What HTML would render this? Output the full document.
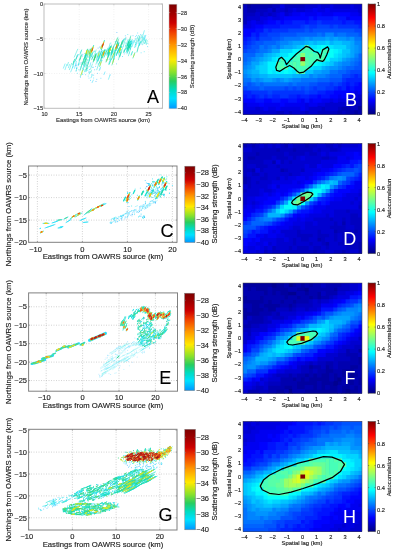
<!DOCTYPE html>
<html><head><meta charset="utf-8"><style>
html,body{margin:0;padding:0;background:#fff;width:395px;height:550px;overflow:hidden;}
svg{display:block;font-family:"Liberation Sans",sans-serif;will-change:transform;}
</style></head><body>
<svg width="395" height="550" viewBox="0 0 395 550" font-family="Liberation Sans, sans-serif"><defs><linearGradient id="jet" x1="0" y1="1" x2="0" y2="0"><stop offset="0.0000" stop-color="#000080"/><stop offset="0.1250" stop-color="#0000ff"/><stop offset="0.3750" stop-color="#00ffff"/><stop offset="0.6250" stop-color="#ffff00"/><stop offset="0.8750" stop-color="#ff0000"/><stop offset="1.0000" stop-color="#800000"/></linearGradient><linearGradient id="sjet" x1="0" y1="1" x2="0" y2="0"><stop offset="0.000" stop-color="#0096ff"/><stop offset="0.100" stop-color="#00e1ff"/><stop offset="0.180" stop-color="#00dcc3"/><stop offset="0.265" stop-color="#28cd5f"/><stop offset="0.350" stop-color="#87e12d"/><stop offset="0.470" stop-color="#ffeb00"/><stop offset="0.610" stop-color="#ff9600"/><stop offset="0.735" stop-color="#f03c00"/><stop offset="0.820" stop-color="#cd0000"/><stop offset="0.900" stop-color="#a50000"/><stop offset="1.000" stop-color="#7d0000"/></linearGradient><clipPath id="c4"><rect x="44.0" y="4.0" width="118.5" height="104.3"/></clipPath><clipPath id="c166"><rect x="28.6" y="166.0" width="148.4" height="76.30000000000001"/></clipPath><clipPath id="c292"><rect x="28.6" y="292.9" width="148.9" height="98.30000000000001"/></clipPath><clipPath id="c429"><rect x="28.6" y="429.3" width="148.4" height="100.69999999999999"/></clipPath></defs><rect width="395" height="550" fill="#fff"/><rect x="243.0" y="4.0" width="119.0" height="110.3" fill="#0000e6"/>
<svg x="243.0" y="4.0" width="119.0" height="110.3" viewBox="243.0 4.0 119.0 110.3" overflow="hidden">
<path fill="#0000c0" d="M243.0 4.0h4.7v4.7h-4.7zM271.7 4.0h4.7v4.7h-4.7zM275.8 4.0h4.7v4.7h-4.7zM284.0 4.0h4.7v4.7h-4.7zM288.1 4.0h4.7v4.7h-4.7zM292.2 4.0h4.7v4.7h-4.7zM296.3 4.0h4.7v4.7h-4.7zM300.4 4.0h4.7v4.7h-4.7zM243.0 8.1h4.7v4.7h-4.7zM255.3 8.1h4.7v4.7h-4.7zM259.4 8.1h4.7v4.7h-4.7zM263.5 8.1h4.7v4.7h-4.7zM284.0 8.1h4.7v4.7h-4.7zM243.0 12.2h4.7v4.7h-4.7zM247.1 12.2h4.7v4.7h-4.7zM251.2 12.2h4.7v4.7h-4.7zM259.4 12.2h4.7v4.7h-4.7zM267.6 12.2h4.7v4.7h-4.7zM243.0 16.3h4.7v4.7h-4.7zM243.0 20.3h4.7v4.7h-4.7zM357.9 98.0h4.7v4.7h-4.7zM353.8 102.0h4.7v4.7h-4.7zM357.9 102.0h4.7v4.7h-4.7zM321.0 106.1h4.7v4.7h-4.7zM337.4 106.1h4.7v4.7h-4.7zM349.7 106.1h4.7v4.7h-4.7zM353.8 106.1h4.7v4.7h-4.7zM275.8 110.2h4.7v4.7h-4.7zM279.9 110.2h4.7v4.7h-4.7zM288.1 110.2h4.7v4.7h-4.7zM304.6 110.2h4.7v4.7h-4.7zM316.9 110.2h4.7v4.7h-4.7zM321.0 110.2h4.7v4.7h-4.7zM325.1 110.2h4.7v4.7h-4.7zM329.2 110.2h4.7v4.7h-4.7zM333.3 110.2h4.7v4.7h-4.7zM341.5 110.2h4.7v4.7h-4.7z"/>
<path fill="#0000a0" d="M247.1 4.0h4.7v4.7h-4.7zM357.9 106.1h4.7v4.7h-4.7zM353.8 110.2h4.7v4.7h-4.7z"/>
<path fill="#0000b0" d="M251.2 4.0h4.7v4.7h-4.7zM255.3 4.0h4.7v4.7h-4.7zM259.4 4.0h4.7v4.7h-4.7zM263.5 4.0h4.7v4.7h-4.7zM267.6 4.0h4.7v4.7h-4.7zM247.1 8.1h4.7v4.7h-4.7zM251.2 8.1h4.7v4.7h-4.7zM271.7 8.1h4.7v4.7h-4.7zM341.5 106.1h4.7v4.7h-4.7zM345.6 106.1h4.7v4.7h-4.7zM337.4 110.2h4.7v4.7h-4.7zM345.6 110.2h4.7v4.7h-4.7zM349.7 110.2h4.7v4.7h-4.7zM357.9 110.2h4.7v4.7h-4.7z"/>
<path fill="#0000e1" d="M279.9 4.0h4.7v4.7h-4.7zM316.9 4.0h4.7v4.7h-4.7zM329.2 4.0h4.7v4.7h-4.7zM349.7 4.0h4.7v4.7h-4.7zM292.2 8.1h4.7v4.7h-4.7zM304.6 8.1h4.7v4.7h-4.7zM308.7 8.1h4.7v4.7h-4.7zM316.9 8.1h4.7v4.7h-4.7zM321.0 8.1h4.7v4.7h-4.7zM329.2 8.1h4.7v4.7h-4.7zM333.3 8.1h4.7v4.7h-4.7zM337.4 8.1h4.7v4.7h-4.7zM341.5 8.1h4.7v4.7h-4.7zM345.6 8.1h4.7v4.7h-4.7zM349.7 8.1h4.7v4.7h-4.7zM353.8 8.1h4.7v4.7h-4.7zM275.8 12.2h4.7v4.7h-4.7zM288.1 12.2h4.7v4.7h-4.7zM357.9 12.2h4.7v4.7h-4.7zM259.4 16.3h4.7v4.7h-4.7zM263.5 16.3h4.7v4.7h-4.7zM271.7 16.3h4.7v4.7h-4.7zM275.8 16.3h4.7v4.7h-4.7zM247.1 20.3h4.7v4.7h-4.7zM255.3 20.3h4.7v4.7h-4.7zM259.4 20.3h4.7v4.7h-4.7zM243.0 24.4h4.7v4.7h-4.7zM247.1 24.4h4.7v4.7h-4.7zM353.8 89.8h4.7v4.7h-4.7zM345.6 93.9h4.7v4.7h-4.7zM349.7 93.9h4.7v4.7h-4.7zM353.8 93.9h4.7v4.7h-4.7zM329.2 98.0h4.7v4.7h-4.7zM337.4 98.0h4.7v4.7h-4.7zM341.5 98.0h4.7v4.7h-4.7zM345.6 98.0h4.7v4.7h-4.7zM243.0 102.0h4.7v4.7h-4.7zM304.6 102.0h4.7v4.7h-4.7zM316.9 102.0h4.7v4.7h-4.7zM321.0 102.0h4.7v4.7h-4.7zM243.0 106.1h4.7v4.7h-4.7zM247.1 106.1h4.7v4.7h-4.7zM251.2 106.1h4.7v4.7h-4.7zM259.4 106.1h4.7v4.7h-4.7zM267.6 106.1h4.7v4.7h-4.7zM271.7 106.1h4.7v4.7h-4.7zM279.9 106.1h4.7v4.7h-4.7zM284.0 106.1h4.7v4.7h-4.7zM288.1 106.1h4.7v4.7h-4.7zM292.2 106.1h4.7v4.7h-4.7zM296.3 106.1h4.7v4.7h-4.7zM304.6 106.1h4.7v4.7h-4.7z"/>
<path fill="#0000d0" d="M304.6 4.0h4.7v4.7h-4.7zM308.7 4.0h4.7v4.7h-4.7zM312.8 4.0h4.7v4.7h-4.7zM321.0 4.0h4.7v4.7h-4.7zM325.1 4.0h4.7v4.7h-4.7zM333.3 4.0h4.7v4.7h-4.7zM337.4 4.0h4.7v4.7h-4.7zM341.5 4.0h4.7v4.7h-4.7zM345.6 4.0h4.7v4.7h-4.7zM353.8 4.0h4.7v4.7h-4.7zM357.9 4.0h4.7v4.7h-4.7zM267.6 8.1h4.7v4.7h-4.7zM275.8 8.1h4.7v4.7h-4.7zM279.9 8.1h4.7v4.7h-4.7zM288.1 8.1h4.7v4.7h-4.7zM296.3 8.1h4.7v4.7h-4.7zM300.4 8.1h4.7v4.7h-4.7zM357.9 8.1h4.7v4.7h-4.7zM255.3 12.2h4.7v4.7h-4.7zM263.5 12.2h4.7v4.7h-4.7zM271.7 12.2h4.7v4.7h-4.7zM284.0 12.2h4.7v4.7h-4.7zM247.1 16.3h4.7v4.7h-4.7zM251.2 16.3h4.7v4.7h-4.7zM255.3 16.3h4.7v4.7h-4.7zM357.9 93.9h4.7v4.7h-4.7zM349.7 98.0h4.7v4.7h-4.7zM353.8 98.0h4.7v4.7h-4.7zM325.1 102.0h4.7v4.7h-4.7zM329.2 102.0h4.7v4.7h-4.7zM333.3 102.0h4.7v4.7h-4.7zM337.4 102.0h4.7v4.7h-4.7zM341.5 102.0h4.7v4.7h-4.7zM345.6 102.0h4.7v4.7h-4.7zM349.7 102.0h4.7v4.7h-4.7zM255.3 106.1h4.7v4.7h-4.7zM308.7 106.1h4.7v4.7h-4.7zM312.8 106.1h4.7v4.7h-4.7zM316.9 106.1h4.7v4.7h-4.7zM325.1 106.1h4.7v4.7h-4.7zM329.2 106.1h4.7v4.7h-4.7zM333.3 106.1h4.7v4.7h-4.7zM243.0 110.2h4.7v4.7h-4.7zM247.1 110.2h4.7v4.7h-4.7zM251.2 110.2h4.7v4.7h-4.7zM255.3 110.2h4.7v4.7h-4.7zM259.4 110.2h4.7v4.7h-4.7zM263.5 110.2h4.7v4.7h-4.7zM267.6 110.2h4.7v4.7h-4.7zM271.7 110.2h4.7v4.7h-4.7zM284.0 110.2h4.7v4.7h-4.7zM292.2 110.2h4.7v4.7h-4.7zM296.3 110.2h4.7v4.7h-4.7zM300.4 110.2h4.7v4.7h-4.7zM308.7 110.2h4.7v4.7h-4.7zM312.8 110.2h4.7v4.7h-4.7z"/>
<path fill="#0000f1" d="M312.8 8.1h4.7v4.7h-4.7zM325.1 8.1h4.7v4.7h-4.7zM279.9 12.2h4.7v4.7h-4.7zM292.2 12.2h4.7v4.7h-4.7zM296.3 12.2h4.7v4.7h-4.7zM304.6 12.2h4.7v4.7h-4.7zM308.7 12.2h4.7v4.7h-4.7zM312.8 12.2h4.7v4.7h-4.7zM321.0 12.2h4.7v4.7h-4.7zM325.1 12.2h4.7v4.7h-4.7zM329.2 12.2h4.7v4.7h-4.7zM349.7 12.2h4.7v4.7h-4.7zM353.8 12.2h4.7v4.7h-4.7zM267.6 16.3h4.7v4.7h-4.7zM279.9 16.3h4.7v4.7h-4.7zM345.6 16.3h4.7v4.7h-4.7zM251.2 20.3h4.7v4.7h-4.7zM263.5 20.3h4.7v4.7h-4.7zM251.2 24.4h4.7v4.7h-4.7zM357.9 89.8h4.7v4.7h-4.7zM337.4 93.9h4.7v4.7h-4.7zM300.4 98.0h4.7v4.7h-4.7zM308.7 98.0h4.7v4.7h-4.7zM321.0 98.0h4.7v4.7h-4.7zM325.1 98.0h4.7v4.7h-4.7zM333.3 98.0h4.7v4.7h-4.7zM247.1 102.0h4.7v4.7h-4.7zM251.2 102.0h4.7v4.7h-4.7zM255.3 102.0h4.7v4.7h-4.7zM263.5 102.0h4.7v4.7h-4.7zM267.6 102.0h4.7v4.7h-4.7zM271.7 102.0h4.7v4.7h-4.7zM275.8 102.0h4.7v4.7h-4.7zM284.0 102.0h4.7v4.7h-4.7zM288.1 102.0h4.7v4.7h-4.7zM292.2 102.0h4.7v4.7h-4.7zM296.3 102.0h4.7v4.7h-4.7zM300.4 102.0h4.7v4.7h-4.7zM308.7 102.0h4.7v4.7h-4.7zM312.8 102.0h4.7v4.7h-4.7zM263.5 106.1h4.7v4.7h-4.7zM275.8 106.1h4.7v4.7h-4.7zM300.4 106.1h4.7v4.7h-4.7z"/>
<path fill="#0002ff" d="M300.4 12.2h4.7v4.7h-4.7zM316.9 12.2h4.7v4.7h-4.7zM333.3 12.2h4.7v4.7h-4.7zM337.4 12.2h4.7v4.7h-4.7zM341.5 12.2h4.7v4.7h-4.7zM345.6 12.2h4.7v4.7h-4.7zM284.0 16.3h4.7v4.7h-4.7zM288.1 16.3h4.7v4.7h-4.7zM292.2 16.3h4.7v4.7h-4.7zM296.3 16.3h4.7v4.7h-4.7zM300.4 16.3h4.7v4.7h-4.7zM304.6 16.3h4.7v4.7h-4.7zM312.8 16.3h4.7v4.7h-4.7zM349.7 16.3h4.7v4.7h-4.7zM353.8 16.3h4.7v4.7h-4.7zM357.9 16.3h4.7v4.7h-4.7zM267.6 20.3h4.7v4.7h-4.7zM271.7 20.3h4.7v4.7h-4.7zM279.9 20.3h4.7v4.7h-4.7zM255.3 24.4h4.7v4.7h-4.7zM259.4 24.4h4.7v4.7h-4.7zM243.0 28.5h4.7v4.7h-4.7zM247.1 28.5h4.7v4.7h-4.7zM251.2 28.5h4.7v4.7h-4.7zM243.0 32.6h4.7v4.7h-4.7zM247.1 32.6h4.7v4.7h-4.7zM357.9 81.6h4.7v4.7h-4.7zM345.6 85.7h4.7v4.7h-4.7zM353.8 85.7h4.7v4.7h-4.7zM357.9 85.7h4.7v4.7h-4.7zM333.3 89.8h4.7v4.7h-4.7zM337.4 89.8h4.7v4.7h-4.7zM341.5 89.8h4.7v4.7h-4.7zM345.6 89.8h4.7v4.7h-4.7zM349.7 89.8h4.7v4.7h-4.7zM316.9 93.9h4.7v4.7h-4.7zM329.2 93.9h4.7v4.7h-4.7zM333.3 93.9h4.7v4.7h-4.7zM341.5 93.9h4.7v4.7h-4.7zM243.0 98.0h4.7v4.7h-4.7zM247.1 98.0h4.7v4.7h-4.7zM251.2 98.0h4.7v4.7h-4.7zM263.5 98.0h4.7v4.7h-4.7zM267.6 98.0h4.7v4.7h-4.7zM279.9 98.0h4.7v4.7h-4.7zM284.0 98.0h4.7v4.7h-4.7zM296.3 98.0h4.7v4.7h-4.7zM312.8 98.0h4.7v4.7h-4.7zM316.9 98.0h4.7v4.7h-4.7zM259.4 102.0h4.7v4.7h-4.7zM279.9 102.0h4.7v4.7h-4.7z"/>
<path fill="#0012ff" d="M308.7 16.3h4.7v4.7h-4.7zM316.9 16.3h4.7v4.7h-4.7zM321.0 16.3h4.7v4.7h-4.7zM325.1 16.3h4.7v4.7h-4.7zM329.2 16.3h4.7v4.7h-4.7zM337.4 16.3h4.7v4.7h-4.7zM341.5 16.3h4.7v4.7h-4.7zM275.8 20.3h4.7v4.7h-4.7zM284.0 20.3h4.7v4.7h-4.7zM288.1 20.3h4.7v4.7h-4.7zM304.6 20.3h4.7v4.7h-4.7zM341.5 20.3h4.7v4.7h-4.7zM353.8 20.3h4.7v4.7h-4.7zM357.9 20.3h4.7v4.7h-4.7zM263.5 24.4h4.7v4.7h-4.7zM267.6 24.4h4.7v4.7h-4.7zM271.7 24.4h4.7v4.7h-4.7zM275.8 24.4h4.7v4.7h-4.7zM255.3 28.5h4.7v4.7h-4.7zM259.4 28.5h4.7v4.7h-4.7zM255.3 32.6h4.7v4.7h-4.7zM243.0 36.7h4.7v4.7h-4.7zM345.6 81.6h4.7v4.7h-4.7zM353.8 81.6h4.7v4.7h-4.7zM337.4 85.7h4.7v4.7h-4.7zM349.7 85.7h4.7v4.7h-4.7zM325.1 89.8h4.7v4.7h-4.7zM329.2 89.8h4.7v4.7h-4.7zM243.0 93.9h4.7v4.7h-4.7zM251.2 93.9h4.7v4.7h-4.7zM296.3 93.9h4.7v4.7h-4.7zM308.7 93.9h4.7v4.7h-4.7zM312.8 93.9h4.7v4.7h-4.7zM321.0 93.9h4.7v4.7h-4.7zM325.1 93.9h4.7v4.7h-4.7zM255.3 98.0h4.7v4.7h-4.7zM259.4 98.0h4.7v4.7h-4.7zM271.7 98.0h4.7v4.7h-4.7zM275.8 98.0h4.7v4.7h-4.7zM288.1 98.0h4.7v4.7h-4.7zM292.2 98.0h4.7v4.7h-4.7zM304.6 98.0h4.7v4.7h-4.7z"/>
<path fill="#0022ff" d="M333.3 16.3h4.7v4.7h-4.7zM292.2 20.3h4.7v4.7h-4.7zM296.3 20.3h4.7v4.7h-4.7zM300.4 20.3h4.7v4.7h-4.7zM308.7 20.3h4.7v4.7h-4.7zM312.8 20.3h4.7v4.7h-4.7zM321.0 20.3h4.7v4.7h-4.7zM325.1 20.3h4.7v4.7h-4.7zM329.2 20.3h4.7v4.7h-4.7zM333.3 20.3h4.7v4.7h-4.7zM337.4 20.3h4.7v4.7h-4.7zM345.6 20.3h4.7v4.7h-4.7zM349.7 20.3h4.7v4.7h-4.7zM279.9 24.4h4.7v4.7h-4.7zM284.0 24.4h4.7v4.7h-4.7zM288.1 24.4h4.7v4.7h-4.7zM292.2 24.4h4.7v4.7h-4.7zM296.3 24.4h4.7v4.7h-4.7zM357.9 24.4h4.7v4.7h-4.7zM267.6 28.5h4.7v4.7h-4.7zM251.2 32.6h4.7v4.7h-4.7zM247.1 36.7h4.7v4.7h-4.7zM255.3 36.7h4.7v4.7h-4.7zM243.0 40.8h4.7v4.7h-4.7zM353.8 73.4h4.7v4.7h-4.7zM345.6 77.5h4.7v4.7h-4.7zM349.7 77.5h4.7v4.7h-4.7zM353.8 77.5h4.7v4.7h-4.7zM357.9 77.5h4.7v4.7h-4.7zM341.5 81.6h4.7v4.7h-4.7zM349.7 81.6h4.7v4.7h-4.7zM333.3 85.7h4.7v4.7h-4.7zM341.5 85.7h4.7v4.7h-4.7zM243.0 89.8h4.7v4.7h-4.7zM247.1 89.8h4.7v4.7h-4.7zM316.9 89.8h4.7v4.7h-4.7zM321.0 89.8h4.7v4.7h-4.7zM247.1 93.9h4.7v4.7h-4.7zM255.3 93.9h4.7v4.7h-4.7zM263.5 93.9h4.7v4.7h-4.7zM271.7 93.9h4.7v4.7h-4.7zM275.8 93.9h4.7v4.7h-4.7zM288.1 93.9h4.7v4.7h-4.7zM292.2 93.9h4.7v4.7h-4.7zM300.4 93.9h4.7v4.7h-4.7zM304.6 93.9h4.7v4.7h-4.7z"/>
<path fill="#0033ff" d="M316.9 20.3h4.7v4.7h-4.7zM300.4 24.4h4.7v4.7h-4.7zM308.7 24.4h4.7v4.7h-4.7zM312.8 24.4h4.7v4.7h-4.7zM329.2 24.4h4.7v4.7h-4.7zM337.4 24.4h4.7v4.7h-4.7zM341.5 24.4h4.7v4.7h-4.7zM345.6 24.4h4.7v4.7h-4.7zM349.7 24.4h4.7v4.7h-4.7zM353.8 24.4h4.7v4.7h-4.7zM263.5 28.5h4.7v4.7h-4.7zM271.7 28.5h4.7v4.7h-4.7zM275.8 28.5h4.7v4.7h-4.7zM279.9 28.5h4.7v4.7h-4.7zM284.0 28.5h4.7v4.7h-4.7zM259.4 32.6h4.7v4.7h-4.7zM263.5 32.6h4.7v4.7h-4.7zM251.2 36.7h4.7v4.7h-4.7zM247.1 40.8h4.7v4.7h-4.7zM243.0 44.9h4.7v4.7h-4.7zM349.7 73.4h4.7v4.7h-4.7zM357.9 73.4h4.7v4.7h-4.7zM341.5 77.5h4.7v4.7h-4.7zM329.2 81.6h4.7v4.7h-4.7zM337.4 81.6h4.7v4.7h-4.7zM312.8 85.7h4.7v4.7h-4.7zM325.1 85.7h4.7v4.7h-4.7zM329.2 85.7h4.7v4.7h-4.7zM251.2 89.8h4.7v4.7h-4.7zM255.3 89.8h4.7v4.7h-4.7zM259.4 89.8h4.7v4.7h-4.7zM263.5 89.8h4.7v4.7h-4.7zM271.7 89.8h4.7v4.7h-4.7zM275.8 89.8h4.7v4.7h-4.7zM279.9 89.8h4.7v4.7h-4.7zM284.0 89.8h4.7v4.7h-4.7zM288.1 89.8h4.7v4.7h-4.7zM292.2 89.8h4.7v4.7h-4.7zM296.3 89.8h4.7v4.7h-4.7zM300.4 89.8h4.7v4.7h-4.7zM308.7 89.8h4.7v4.7h-4.7zM312.8 89.8h4.7v4.7h-4.7zM259.4 93.9h4.7v4.7h-4.7zM267.6 93.9h4.7v4.7h-4.7zM279.9 93.9h4.7v4.7h-4.7zM284.0 93.9h4.7v4.7h-4.7z"/>
<path fill="#0043ff" d="M304.6 24.4h4.7v4.7h-4.7zM316.9 24.4h4.7v4.7h-4.7zM321.0 24.4h4.7v4.7h-4.7zM325.1 24.4h4.7v4.7h-4.7zM333.3 24.4h4.7v4.7h-4.7zM288.1 28.5h4.7v4.7h-4.7zM292.2 28.5h4.7v4.7h-4.7zM296.3 28.5h4.7v4.7h-4.7zM300.4 28.5h4.7v4.7h-4.7zM308.7 28.5h4.7v4.7h-4.7zM353.8 28.5h4.7v4.7h-4.7zM357.9 28.5h4.7v4.7h-4.7zM267.6 32.6h4.7v4.7h-4.7zM271.7 32.6h4.7v4.7h-4.7zM275.8 32.6h4.7v4.7h-4.7zM259.4 36.7h4.7v4.7h-4.7zM263.5 36.7h4.7v4.7h-4.7zM267.6 36.7h4.7v4.7h-4.7zM251.2 40.8h4.7v4.7h-4.7zM247.1 44.9h4.7v4.7h-4.7zM243.0 48.9h4.7v4.7h-4.7zM349.7 69.4h4.7v4.7h-4.7zM353.8 69.4h4.7v4.7h-4.7zM357.9 69.4h4.7v4.7h-4.7zM341.5 73.4h4.7v4.7h-4.7zM345.6 73.4h4.7v4.7h-4.7zM316.9 81.6h4.7v4.7h-4.7zM321.0 81.6h4.7v4.7h-4.7zM325.1 81.6h4.7v4.7h-4.7zM333.3 81.6h4.7v4.7h-4.7zM243.0 85.7h4.7v4.7h-4.7zM284.0 85.7h4.7v4.7h-4.7zM292.2 85.7h4.7v4.7h-4.7zM300.4 85.7h4.7v4.7h-4.7zM308.7 85.7h4.7v4.7h-4.7zM316.9 85.7h4.7v4.7h-4.7zM321.0 85.7h4.7v4.7h-4.7zM267.6 89.8h4.7v4.7h-4.7zM304.6 89.8h4.7v4.7h-4.7z"/>
<path fill="#0053ff" d="M304.6 28.5h4.7v4.7h-4.7zM312.8 28.5h4.7v4.7h-4.7zM316.9 28.5h4.7v4.7h-4.7zM321.0 28.5h4.7v4.7h-4.7zM325.1 28.5h4.7v4.7h-4.7zM329.2 28.5h4.7v4.7h-4.7zM333.3 28.5h4.7v4.7h-4.7zM337.4 28.5h4.7v4.7h-4.7zM341.5 28.5h4.7v4.7h-4.7zM345.6 28.5h4.7v4.7h-4.7zM349.7 28.5h4.7v4.7h-4.7zM279.9 32.6h4.7v4.7h-4.7zM284.0 32.6h4.7v4.7h-4.7zM288.1 32.6h4.7v4.7h-4.7zM292.2 32.6h4.7v4.7h-4.7zM357.9 32.6h4.7v4.7h-4.7zM271.7 36.7h4.7v4.7h-4.7zM275.8 36.7h4.7v4.7h-4.7zM255.3 40.8h4.7v4.7h-4.7zM259.4 40.8h4.7v4.7h-4.7zM251.2 44.9h4.7v4.7h-4.7zM255.3 44.9h4.7v4.7h-4.7zM247.1 48.9h4.7v4.7h-4.7zM251.2 48.9h4.7v4.7h-4.7zM357.9 61.2h4.7v4.7h-4.7zM353.8 65.3h4.7v4.7h-4.7zM357.9 65.3h4.7v4.7h-4.7zM345.6 69.4h4.7v4.7h-4.7zM329.2 77.5h4.7v4.7h-4.7zM333.3 77.5h4.7v4.7h-4.7zM337.4 77.5h4.7v4.7h-4.7zM247.1 81.6h4.7v4.7h-4.7zM308.7 81.6h4.7v4.7h-4.7zM312.8 81.6h4.7v4.7h-4.7zM247.1 85.7h4.7v4.7h-4.7zM251.2 85.7h4.7v4.7h-4.7zM255.3 85.7h4.7v4.7h-4.7zM263.5 85.7h4.7v4.7h-4.7zM267.6 85.7h4.7v4.7h-4.7zM271.7 85.7h4.7v4.7h-4.7zM275.8 85.7h4.7v4.7h-4.7zM279.9 85.7h4.7v4.7h-4.7zM288.1 85.7h4.7v4.7h-4.7zM296.3 85.7h4.7v4.7h-4.7zM304.6 85.7h4.7v4.7h-4.7z"/>
<path fill="#0063ff" d="M296.3 32.6h4.7v4.7h-4.7zM300.4 32.6h4.7v4.7h-4.7zM304.6 32.6h4.7v4.7h-4.7zM308.7 32.6h4.7v4.7h-4.7zM312.8 32.6h4.7v4.7h-4.7zM321.0 32.6h4.7v4.7h-4.7zM333.3 32.6h4.7v4.7h-4.7zM345.6 32.6h4.7v4.7h-4.7zM349.7 32.6h4.7v4.7h-4.7zM353.8 32.6h4.7v4.7h-4.7zM279.9 36.7h4.7v4.7h-4.7zM263.5 40.8h4.7v4.7h-4.7zM267.6 40.8h4.7v4.7h-4.7zM271.7 40.8h4.7v4.7h-4.7zM263.5 44.9h4.7v4.7h-4.7zM255.3 48.9h4.7v4.7h-4.7zM243.0 53.0h4.7v4.7h-4.7zM247.1 53.0h4.7v4.7h-4.7zM251.2 53.0h4.7v4.7h-4.7zM357.9 53.0h4.7v4.7h-4.7zM243.0 57.1h4.7v4.7h-4.7zM357.9 57.1h4.7v4.7h-4.7zM353.8 61.2h4.7v4.7h-4.7zM345.6 65.3h4.7v4.7h-4.7zM349.7 65.3h4.7v4.7h-4.7zM337.4 69.4h4.7v4.7h-4.7zM341.5 69.4h4.7v4.7h-4.7zM329.2 73.4h4.7v4.7h-4.7zM333.3 73.4h4.7v4.7h-4.7zM337.4 73.4h4.7v4.7h-4.7zM316.9 77.5h4.7v4.7h-4.7zM321.0 77.5h4.7v4.7h-4.7zM325.1 77.5h4.7v4.7h-4.7zM243.0 81.6h4.7v4.7h-4.7zM251.2 81.6h4.7v4.7h-4.7zM259.4 81.6h4.7v4.7h-4.7zM288.1 81.6h4.7v4.7h-4.7zM296.3 81.6h4.7v4.7h-4.7zM300.4 81.6h4.7v4.7h-4.7zM304.6 81.6h4.7v4.7h-4.7zM259.4 85.7h4.7v4.7h-4.7z"/>
<path fill="#0073ff" d="M316.9 32.6h4.7v4.7h-4.7zM337.4 32.6h4.7v4.7h-4.7zM341.5 32.6h4.7v4.7h-4.7zM284.0 36.7h4.7v4.7h-4.7zM288.1 36.7h4.7v4.7h-4.7zM292.2 36.7h4.7v4.7h-4.7zM296.3 36.7h4.7v4.7h-4.7zM353.8 36.7h4.7v4.7h-4.7zM357.9 36.7h4.7v4.7h-4.7zM275.8 40.8h4.7v4.7h-4.7zM259.4 44.9h4.7v4.7h-4.7zM267.6 44.9h4.7v4.7h-4.7zM275.8 44.9h4.7v4.7h-4.7zM259.4 48.9h4.7v4.7h-4.7zM263.5 48.9h4.7v4.7h-4.7zM247.1 57.1h4.7v4.7h-4.7zM353.8 57.1h4.7v4.7h-4.7zM243.0 61.2h4.7v4.7h-4.7zM349.7 61.2h4.7v4.7h-4.7zM341.5 65.3h4.7v4.7h-4.7zM329.2 69.4h4.7v4.7h-4.7zM333.3 69.4h4.7v4.7h-4.7zM325.1 73.4h4.7v4.7h-4.7zM243.0 77.5h4.7v4.7h-4.7zM247.1 77.5h4.7v4.7h-4.7zM300.4 77.5h4.7v4.7h-4.7zM304.6 77.5h4.7v4.7h-4.7zM308.7 77.5h4.7v4.7h-4.7zM312.8 77.5h4.7v4.7h-4.7zM255.3 81.6h4.7v4.7h-4.7zM263.5 81.6h4.7v4.7h-4.7zM267.6 81.6h4.7v4.7h-4.7zM271.7 81.6h4.7v4.7h-4.7zM275.8 81.6h4.7v4.7h-4.7zM279.9 81.6h4.7v4.7h-4.7zM284.0 81.6h4.7v4.7h-4.7zM292.2 81.6h4.7v4.7h-4.7z"/>
<path fill="#0084ff" d="M325.1 32.6h4.7v4.7h-4.7zM329.2 32.6h4.7v4.7h-4.7zM300.4 36.7h4.7v4.7h-4.7zM308.7 36.7h4.7v4.7h-4.7zM345.6 36.7h4.7v4.7h-4.7zM279.9 40.8h4.7v4.7h-4.7zM284.0 40.8h4.7v4.7h-4.7zM353.8 40.8h4.7v4.7h-4.7zM357.9 40.8h4.7v4.7h-4.7zM271.7 44.9h4.7v4.7h-4.7zM357.9 44.9h4.7v4.7h-4.7zM267.6 48.9h4.7v4.7h-4.7zM357.9 48.9h4.7v4.7h-4.7zM255.3 53.0h4.7v4.7h-4.7zM259.4 53.0h4.7v4.7h-4.7zM353.8 53.0h4.7v4.7h-4.7zM251.2 57.1h4.7v4.7h-4.7zM349.7 57.1h4.7v4.7h-4.7zM247.1 61.2h4.7v4.7h-4.7zM341.5 61.2h4.7v4.7h-4.7zM345.6 61.2h4.7v4.7h-4.7zM243.0 65.3h4.7v4.7h-4.7zM337.4 65.3h4.7v4.7h-4.7zM243.0 73.4h4.7v4.7h-4.7zM308.7 73.4h4.7v4.7h-4.7zM316.9 73.4h4.7v4.7h-4.7zM321.0 73.4h4.7v4.7h-4.7zM255.3 77.5h4.7v4.7h-4.7zM275.8 77.5h4.7v4.7h-4.7zM292.2 77.5h4.7v4.7h-4.7zM296.3 77.5h4.7v4.7h-4.7z"/>
<path fill="#0094ff" d="M304.6 36.7h4.7v4.7h-4.7zM312.8 36.7h4.7v4.7h-4.7zM316.9 36.7h4.7v4.7h-4.7zM321.0 36.7h4.7v4.7h-4.7zM329.2 36.7h4.7v4.7h-4.7zM337.4 36.7h4.7v4.7h-4.7zM341.5 36.7h4.7v4.7h-4.7zM349.7 36.7h4.7v4.7h-4.7zM288.1 40.8h4.7v4.7h-4.7zM279.9 44.9h4.7v4.7h-4.7zM353.8 44.9h4.7v4.7h-4.7zM353.8 48.9h4.7v4.7h-4.7zM255.3 57.1h4.7v4.7h-4.7zM345.6 57.1h4.7v4.7h-4.7zM337.4 61.2h4.7v4.7h-4.7zM247.1 65.3h4.7v4.7h-4.7zM329.2 65.3h4.7v4.7h-4.7zM333.3 65.3h4.7v4.7h-4.7zM243.0 69.4h4.7v4.7h-4.7zM321.0 69.4h4.7v4.7h-4.7zM325.1 69.4h4.7v4.7h-4.7zM247.1 73.4h4.7v4.7h-4.7zM312.8 73.4h4.7v4.7h-4.7zM251.2 77.5h4.7v4.7h-4.7zM259.4 77.5h4.7v4.7h-4.7zM271.7 77.5h4.7v4.7h-4.7zM279.9 77.5h4.7v4.7h-4.7zM288.1 77.5h4.7v4.7h-4.7z"/>
<path fill="#00a4ff" d="M325.1 36.7h4.7v4.7h-4.7zM333.3 36.7h4.7v4.7h-4.7zM292.2 40.8h4.7v4.7h-4.7zM296.3 40.8h4.7v4.7h-4.7zM300.4 40.8h4.7v4.7h-4.7zM349.7 40.8h4.7v4.7h-4.7zM284.0 44.9h4.7v4.7h-4.7zM288.1 44.9h4.7v4.7h-4.7zM349.7 44.9h4.7v4.7h-4.7zM271.7 48.9h4.7v4.7h-4.7zM275.8 48.9h4.7v4.7h-4.7zM349.7 48.9h4.7v4.7h-4.7zM263.5 53.0h4.7v4.7h-4.7zM349.7 53.0h4.7v4.7h-4.7zM259.4 57.1h4.7v4.7h-4.7zM341.5 57.1h4.7v4.7h-4.7zM251.2 61.2h4.7v4.7h-4.7zM255.3 61.2h4.7v4.7h-4.7zM333.3 61.2h4.7v4.7h-4.7zM251.2 65.3h4.7v4.7h-4.7zM325.1 65.3h4.7v4.7h-4.7zM247.1 69.4h4.7v4.7h-4.7zM312.8 69.4h4.7v4.7h-4.7zM316.9 69.4h4.7v4.7h-4.7zM251.2 73.4h4.7v4.7h-4.7zM255.3 73.4h4.7v4.7h-4.7zM300.4 73.4h4.7v4.7h-4.7zM304.6 73.4h4.7v4.7h-4.7zM263.5 77.5h4.7v4.7h-4.7zM267.6 77.5h4.7v4.7h-4.7zM284.0 77.5h4.7v4.7h-4.7z"/>
<path fill="#00b4ff" d="M304.6 40.8h4.7v4.7h-4.7zM312.8 40.8h4.7v4.7h-4.7zM329.2 40.8h4.7v4.7h-4.7zM341.5 40.8h4.7v4.7h-4.7zM345.6 40.8h4.7v4.7h-4.7zM292.2 44.9h4.7v4.7h-4.7zM345.6 44.9h4.7v4.7h-4.7zM267.6 53.0h4.7v4.7h-4.7zM345.6 53.0h4.7v4.7h-4.7zM263.5 57.1h4.7v4.7h-4.7zM321.0 65.3h4.7v4.7h-4.7zM251.2 69.4h4.7v4.7h-4.7zM255.3 69.4h4.7v4.7h-4.7zM259.4 73.4h4.7v4.7h-4.7zM263.5 73.4h4.7v4.7h-4.7zM292.2 73.4h4.7v4.7h-4.7zM296.3 73.4h4.7v4.7h-4.7z"/>
<path fill="#00c4ff" d="M308.7 40.8h4.7v4.7h-4.7zM316.9 40.8h4.7v4.7h-4.7zM321.0 40.8h4.7v4.7h-4.7zM333.3 40.8h4.7v4.7h-4.7zM337.4 40.8h4.7v4.7h-4.7zM296.3 44.9h4.7v4.7h-4.7zM341.5 48.9h4.7v4.7h-4.7zM345.6 48.9h4.7v4.7h-4.7zM271.7 53.0h4.7v4.7h-4.7zM341.5 53.0h4.7v4.7h-4.7zM267.6 57.1h4.7v4.7h-4.7zM337.4 57.1h4.7v4.7h-4.7zM259.4 61.2h4.7v4.7h-4.7zM329.2 61.2h4.7v4.7h-4.7zM255.3 65.3h4.7v4.7h-4.7zM304.6 69.4h4.7v4.7h-4.7zM308.7 69.4h4.7v4.7h-4.7zM267.6 73.4h4.7v4.7h-4.7zM271.7 73.4h4.7v4.7h-4.7zM275.8 73.4h4.7v4.7h-4.7zM279.9 73.4h4.7v4.7h-4.7zM284.0 73.4h4.7v4.7h-4.7zM288.1 73.4h4.7v4.7h-4.7z"/>
<path fill="#00d4ff" d="M325.1 40.8h4.7v4.7h-4.7zM300.4 44.9h4.7v4.7h-4.7zM333.3 44.9h4.7v4.7h-4.7zM337.4 44.9h4.7v4.7h-4.7zM341.5 44.9h4.7v4.7h-4.7zM279.9 48.9h4.7v4.7h-4.7zM284.0 48.9h4.7v4.7h-4.7zM288.1 48.9h4.7v4.7h-4.7zM275.8 53.0h4.7v4.7h-4.7zM337.4 53.0h4.7v4.7h-4.7zM329.2 57.1h4.7v4.7h-4.7zM333.3 57.1h4.7v4.7h-4.7zM263.5 61.2h4.7v4.7h-4.7zM325.1 61.2h4.7v4.7h-4.7zM259.4 65.3h4.7v4.7h-4.7zM263.5 65.3h4.7v4.7h-4.7zM312.8 65.3h4.7v4.7h-4.7zM316.9 65.3h4.7v4.7h-4.7zM259.4 69.4h4.7v4.7h-4.7zM263.5 69.4h4.7v4.7h-4.7z"/>
<path fill="#57ffa8" d="M304.6 44.9h4.7v4.7h-4.7zM325.1 48.9h4.7v4.7h-4.7zM308.7 53.0h4.7v4.7h-4.7zM316.9 53.0h4.7v4.7h-4.7zM279.9 57.1h4.7v4.7h-4.7zM304.6 57.1h4.7v4.7h-4.7zM321.0 57.1h4.7v4.7h-4.7zM275.8 61.2h4.7v4.7h-4.7zM292.2 61.2h4.7v4.7h-4.7zM304.6 61.2h4.7v4.7h-4.7zM279.9 65.3h4.7v4.7h-4.7zM284.0 65.3h4.7v4.7h-4.7zM292.2 65.3h4.7v4.7h-4.7z"/>
<path fill="#00e5ff" d="M308.7 44.9h4.7v4.7h-4.7zM312.8 44.9h4.7v4.7h-4.7zM329.2 44.9h4.7v4.7h-4.7zM337.4 48.9h4.7v4.7h-4.7zM279.9 53.0h4.7v4.7h-4.7zM284.0 53.0h4.7v4.7h-4.7zM333.3 53.0h4.7v4.7h-4.7zM271.7 57.1h4.7v4.7h-4.7zM321.0 61.2h4.7v4.7h-4.7zM308.7 65.3h4.7v4.7h-4.7zM271.7 69.4h4.7v4.7h-4.7zM292.2 69.4h4.7v4.7h-4.7z"/>
<path fill="#00f5ff" d="M316.9 44.9h4.7v4.7h-4.7zM325.1 44.9h4.7v4.7h-4.7zM292.2 48.9h4.7v4.7h-4.7zM296.3 48.9h4.7v4.7h-4.7zM333.3 48.9h4.7v4.7h-4.7zM275.8 57.1h4.7v4.7h-4.7zM267.6 61.2h4.7v4.7h-4.7zM271.7 61.2h4.7v4.7h-4.7zM316.9 61.2h4.7v4.7h-4.7zM267.6 65.3h4.7v4.7h-4.7zM271.7 65.3h4.7v4.7h-4.7zM267.6 69.4h4.7v4.7h-4.7zM275.8 69.4h4.7v4.7h-4.7zM279.9 69.4h4.7v4.7h-4.7zM288.1 69.4h4.7v4.7h-4.7z"/>
<path fill="#06fff9" d="M321.0 44.9h4.7v4.7h-4.7zM312.8 48.9h4.7v4.7h-4.7zM316.9 48.9h4.7v4.7h-4.7zM329.2 48.9h4.7v4.7h-4.7zM288.1 53.0h4.7v4.7h-4.7zM292.2 53.0h4.7v4.7h-4.7zM325.1 53.0h4.7v4.7h-4.7zM329.2 53.0h4.7v4.7h-4.7zM284.0 57.1h4.7v4.7h-4.7zM288.1 57.1h4.7v4.7h-4.7zM325.1 57.1h4.7v4.7h-4.7zM284.0 61.2h4.7v4.7h-4.7zM312.8 61.2h4.7v4.7h-4.7zM288.1 65.3h4.7v4.7h-4.7zM284.0 69.4h4.7v4.7h-4.7z"/>
<path fill="#47ffb8" d="M300.4 48.9h4.7v4.7h-4.7zM304.6 48.9h4.7v4.7h-4.7zM308.7 48.9h4.7v4.7h-4.7zM321.0 48.9h4.7v4.7h-4.7zM296.3 53.0h4.7v4.7h-4.7zM304.6 53.0h4.7v4.7h-4.7zM312.8 53.0h4.7v4.7h-4.7zM321.0 53.0h4.7v4.7h-4.7zM292.2 57.1h4.7v4.7h-4.7zM296.3 57.1h4.7v4.7h-4.7zM308.7 57.1h4.7v4.7h-4.7zM312.8 57.1h4.7v4.7h-4.7zM316.9 57.1h4.7v4.7h-4.7zM279.9 61.2h4.7v4.7h-4.7zM288.1 61.2h4.7v4.7h-4.7zM296.3 61.2h4.7v4.7h-4.7zM308.7 61.2h4.7v4.7h-4.7zM275.8 65.3h4.7v4.7h-4.7zM296.3 65.3h4.7v4.7h-4.7zM300.4 65.3h4.7v4.7h-4.7zM304.6 65.3h4.7v4.7h-4.7zM296.3 69.4h4.7v4.7h-4.7zM300.4 69.4h4.7v4.7h-4.7z"/>
<path fill="#88ff77" d="M300.4 53.0h4.7v4.7h-4.7z"/>
<path fill="#800000" d="M300.4 57.1h4.7v4.7h-4.7z"/>
<path fill="#98ff67" d="M300.4 61.2h4.7v4.7h-4.7z"/>
</svg>
<polygon points="276.6,70.4 275.8,67.2 279.0,58.9 281.5,57.3 284.8,60.6 286.5,64.7 290.6,59.7 296.3,54.0 306.2,46.3 309.5,47.4 314.4,51.5 317.7,52.3 319.4,54.8 320.2,58.1 322.7,49.9 327.6,46.9 328.9,49.0 326.8,54.8 324.3,59.7 322.7,61.4 319.4,60.6 316.9,59.7 314.4,62.2 311.1,66.3 303.7,72.1 299.6,72.9 297.2,71.3 293.9,68.0 289.7,65.5 284.8,68.0 279.9,71.3" fill="none" stroke="#000" stroke-width="1.25" stroke-linejoin="round"/>
<text x="357.00" y="105.50" font-size="18" text-anchor="end" fill="#fff">B</text>
<rect x="243.0" y="4.0" width="119.0" height="110.3" fill="none" stroke="#444" stroke-width="0.5"/>
<text x="244.50" y="121.60" font-size="5.6" text-anchor="middle" fill="#222" stroke="#222" stroke-width="0.15">−4</text>
<text x="241.00" y="113.77" font-size="5.6" text-anchor="end" fill="#222" stroke="#222" stroke-width="0.15">−4</text>
<text x="258.65" y="121.60" font-size="5.6" text-anchor="middle" fill="#222" stroke="#222" stroke-width="0.15">−3</text>
<text x="241.00" y="100.62" font-size="5.6" text-anchor="end" fill="#222" stroke="#222" stroke-width="0.15">−3</text>
<text x="272.80" y="121.60" font-size="5.6" text-anchor="middle" fill="#222" stroke="#222" stroke-width="0.15">−2</text>
<text x="241.00" y="87.47" font-size="5.6" text-anchor="end" fill="#222" stroke="#222" stroke-width="0.15">−2</text>
<text x="286.95" y="121.60" font-size="5.6" text-anchor="middle" fill="#222" stroke="#222" stroke-width="0.15">−1</text>
<text x="241.00" y="74.32" font-size="5.6" text-anchor="end" fill="#222" stroke="#222" stroke-width="0.15">−1</text>
<text x="302.50" y="121.60" font-size="5.6" text-anchor="middle" fill="#222" stroke="#222" stroke-width="0.15">0</text>
<text x="241.00" y="61.17" font-size="5.6" text-anchor="end" fill="#222" stroke="#222" stroke-width="0.15">0</text>
<text x="316.65" y="121.60" font-size="5.6" text-anchor="middle" fill="#222" stroke="#222" stroke-width="0.15">1</text>
<text x="241.00" y="48.02" font-size="5.6" text-anchor="end" fill="#222" stroke="#222" stroke-width="0.15">1</text>
<text x="330.80" y="121.60" font-size="5.6" text-anchor="middle" fill="#222" stroke="#222" stroke-width="0.15">2</text>
<text x="241.00" y="34.87" font-size="5.6" text-anchor="end" fill="#222" stroke="#222" stroke-width="0.15">2</text>
<text x="344.95" y="121.60" font-size="5.6" text-anchor="middle" fill="#222" stroke="#222" stroke-width="0.15">3</text>
<text x="241.00" y="21.72" font-size="5.6" text-anchor="end" fill="#222" stroke="#222" stroke-width="0.15">3</text>
<text x="359.10" y="121.60" font-size="5.6" text-anchor="middle" fill="#222" stroke="#222" stroke-width="0.15">4</text>
<text x="241.00" y="8.57" font-size="5.6" text-anchor="end" fill="#222" stroke="#222" stroke-width="0.15">4</text>
<text x="302.00" y="127.80" font-size="5.9" text-anchor="middle" fill="#222" stroke="#222" stroke-width="0.15">Spatial lag (km)</text>
<text x="231.50" y="59.15" font-size="5.9" text-anchor="middle" fill="#222" stroke="#222" stroke-width="0.15" transform="rotate(-90 231.5 59.15)">Spatial lag (km)</text>
<rect x="368.0" y="4.0" width="7.600000000000023" height="110.3" fill="url(#jet)"/>
<rect x="368.0" y="4.0" width="7.600000000000023" height="110.3" fill="none" stroke="#444" stroke-width="0.5"/>
<line x1="375.6" y1="114.30" x2="374.40000000000003" y2="114.30" stroke="#444" stroke-width="0.5"/>
<line x1="368.0" y1="114.30" x2="369.2" y2="114.30" stroke="#444" stroke-width="0.5"/>
<text x="377.00" y="116.35" font-size="5.7" text-anchor="start" fill="#222" stroke="#222" stroke-width="0.15">0</text>
<line x1="375.6" y1="92.24" x2="374.40000000000003" y2="92.24" stroke="#444" stroke-width="0.5"/>
<line x1="368.0" y1="92.24" x2="369.2" y2="92.24" stroke="#444" stroke-width="0.5"/>
<text x="377.00" y="94.29" font-size="5.7" text-anchor="start" fill="#222" stroke="#222" stroke-width="0.15">0.2</text>
<line x1="375.6" y1="70.18" x2="374.40000000000003" y2="70.18" stroke="#444" stroke-width="0.5"/>
<line x1="368.0" y1="70.18" x2="369.2" y2="70.18" stroke="#444" stroke-width="0.5"/>
<text x="377.00" y="72.23" font-size="5.7" text-anchor="start" fill="#222" stroke="#222" stroke-width="0.15">0.4</text>
<line x1="375.6" y1="48.12" x2="374.40000000000003" y2="48.12" stroke="#444" stroke-width="0.5"/>
<line x1="368.0" y1="48.12" x2="369.2" y2="48.12" stroke="#444" stroke-width="0.5"/>
<text x="377.00" y="50.17" font-size="5.7" text-anchor="start" fill="#222" stroke="#222" stroke-width="0.15">0.6</text>
<line x1="375.6" y1="26.06" x2="374.40000000000003" y2="26.06" stroke="#444" stroke-width="0.5"/>
<line x1="368.0" y1="26.06" x2="369.2" y2="26.06" stroke="#444" stroke-width="0.5"/>
<text x="377.00" y="28.11" font-size="5.7" text-anchor="start" fill="#222" stroke="#222" stroke-width="0.15">0.8</text>
<line x1="375.6" y1="4.00" x2="374.40000000000003" y2="4.00" stroke="#444" stroke-width="0.5"/>
<line x1="368.0" y1="4.00" x2="369.2" y2="4.00" stroke="#444" stroke-width="0.5"/>
<text x="377.00" y="6.05" font-size="5.7" text-anchor="start" fill="#222" stroke="#222" stroke-width="0.15">1</text>
<text x="391.50" y="59.15" font-size="5.9" text-anchor="middle" fill="#222" stroke="#222" stroke-width="0.15" transform="rotate(-90 391.5 59.15)">Autocorrelation</text>
<rect x="243.0" y="143.5" width="119.0" height="110.1" fill="#0000e6"/>
<svg x="243.0" y="143.5" width="119.0" height="110.1" viewBox="243.0 143.5 119.0 110.1" overflow="hidden">
<path fill="#0000b0" d="M243.0 143.5h4.7v4.7h-4.7zM251.2 143.5h4.7v4.7h-4.7zM284.0 143.5h4.7v4.7h-4.7zM304.6 143.5h4.7v4.7h-4.7zM275.8 147.6h4.7v4.7h-4.7zM292.2 147.6h4.7v4.7h-4.7zM255.3 151.7h4.7v4.7h-4.7zM247.1 155.7h4.7v4.7h-4.7zM251.2 155.7h4.7v4.7h-4.7zM271.7 159.8h4.7v4.7h-4.7zM251.2 168.0h4.7v4.7h-4.7zM279.9 168.0h4.7v4.7h-4.7zM243.0 176.1h4.7v4.7h-4.7zM243.0 180.2h4.7v4.7h-4.7zM341.5 221.0h4.7v4.7h-4.7zM333.3 229.1h4.7v4.7h-4.7zM353.8 229.1h4.7v4.7h-4.7zM316.9 237.3h4.7v4.7h-4.7zM325.1 241.4h4.7v4.7h-4.7zM349.7 241.4h4.7v4.7h-4.7zM357.9 241.4h4.7v4.7h-4.7zM357.9 245.4h4.7v4.7h-4.7zM312.8 249.5h4.7v4.7h-4.7zM341.5 249.5h4.7v4.7h-4.7zM357.9 249.5h4.7v4.7h-4.7z"/>
<path fill="#0000c0" d="M247.1 143.5h4.7v4.7h-4.7zM255.3 143.5h4.7v4.7h-4.7zM263.5 143.5h4.7v4.7h-4.7zM271.7 143.5h4.7v4.7h-4.7zM279.9 143.5h4.7v4.7h-4.7zM292.2 143.5h4.7v4.7h-4.7zM296.3 143.5h4.7v4.7h-4.7zM300.4 143.5h4.7v4.7h-4.7zM308.7 143.5h4.7v4.7h-4.7zM312.8 143.5h4.7v4.7h-4.7zM325.1 143.5h4.7v4.7h-4.7zM329.2 143.5h4.7v4.7h-4.7zM337.4 143.5h4.7v4.7h-4.7zM251.2 147.6h4.7v4.7h-4.7zM255.3 147.6h4.7v4.7h-4.7zM259.4 147.6h4.7v4.7h-4.7zM263.5 147.6h4.7v4.7h-4.7zM267.6 147.6h4.7v4.7h-4.7zM271.7 147.6h4.7v4.7h-4.7zM279.9 147.6h4.7v4.7h-4.7zM284.0 147.6h4.7v4.7h-4.7zM288.1 147.6h4.7v4.7h-4.7zM296.3 147.6h4.7v4.7h-4.7zM300.4 147.6h4.7v4.7h-4.7zM304.6 147.6h4.7v4.7h-4.7zM308.7 147.6h4.7v4.7h-4.7zM316.9 147.6h4.7v4.7h-4.7zM329.2 147.6h4.7v4.7h-4.7zM333.3 147.6h4.7v4.7h-4.7zM243.0 151.7h4.7v4.7h-4.7zM247.1 151.7h4.7v4.7h-4.7zM251.2 151.7h4.7v4.7h-4.7zM259.4 151.7h4.7v4.7h-4.7zM263.5 151.7h4.7v4.7h-4.7zM267.6 151.7h4.7v4.7h-4.7zM271.7 151.7h4.7v4.7h-4.7zM275.8 151.7h4.7v4.7h-4.7zM279.9 151.7h4.7v4.7h-4.7zM288.1 151.7h4.7v4.7h-4.7zM292.2 151.7h4.7v4.7h-4.7zM296.3 151.7h4.7v4.7h-4.7zM300.4 151.7h4.7v4.7h-4.7zM308.7 151.7h4.7v4.7h-4.7zM312.8 151.7h4.7v4.7h-4.7zM243.0 155.7h4.7v4.7h-4.7zM255.3 155.7h4.7v4.7h-4.7zM259.4 155.7h4.7v4.7h-4.7zM263.5 155.7h4.7v4.7h-4.7zM267.6 155.7h4.7v4.7h-4.7zM275.8 155.7h4.7v4.7h-4.7zM279.9 155.7h4.7v4.7h-4.7zM284.0 155.7h4.7v4.7h-4.7zM292.2 155.7h4.7v4.7h-4.7zM321.0 155.7h4.7v4.7h-4.7zM325.1 155.7h4.7v4.7h-4.7zM243.0 159.8h4.7v4.7h-4.7zM247.1 159.8h4.7v4.7h-4.7zM251.2 159.8h4.7v4.7h-4.7zM255.3 159.8h4.7v4.7h-4.7zM259.4 159.8h4.7v4.7h-4.7zM279.9 159.8h4.7v4.7h-4.7zM288.1 159.8h4.7v4.7h-4.7zM243.0 163.9h4.7v4.7h-4.7zM255.3 163.9h4.7v4.7h-4.7zM259.4 163.9h4.7v4.7h-4.7zM263.5 163.9h4.7v4.7h-4.7zM275.8 163.9h4.7v4.7h-4.7zM243.0 168.0h4.7v4.7h-4.7zM247.1 168.0h4.7v4.7h-4.7zM259.4 168.0h4.7v4.7h-4.7zM284.0 168.0h4.7v4.7h-4.7zM300.4 168.0h4.7v4.7h-4.7zM243.0 172.0h4.7v4.7h-4.7zM251.2 172.0h4.7v4.7h-4.7zM255.3 172.0h4.7v4.7h-4.7zM263.5 172.0h4.7v4.7h-4.7zM288.1 172.0h4.7v4.7h-4.7zM247.1 176.1h4.7v4.7h-4.7zM259.4 176.1h4.7v4.7h-4.7zM263.5 176.1h4.7v4.7h-4.7zM275.8 176.1h4.7v4.7h-4.7zM247.1 180.2h4.7v4.7h-4.7zM255.3 180.2h4.7v4.7h-4.7zM247.1 184.3h4.7v4.7h-4.7zM243.0 188.4h4.7v4.7h-4.7zM357.9 204.7h4.7v4.7h-4.7zM345.6 208.7h4.7v4.7h-4.7zM349.7 212.8h4.7v4.7h-4.7zM353.8 212.8h4.7v4.7h-4.7zM329.2 216.9h4.7v4.7h-4.7zM341.5 216.9h4.7v4.7h-4.7zM349.7 216.9h4.7v4.7h-4.7zM353.8 216.9h4.7v4.7h-4.7zM357.9 216.9h4.7v4.7h-4.7zM333.3 221.0h4.7v4.7h-4.7zM349.7 221.0h4.7v4.7h-4.7zM353.8 221.0h4.7v4.7h-4.7zM357.9 221.0h4.7v4.7h-4.7zM329.2 225.1h4.7v4.7h-4.7zM333.3 225.1h4.7v4.7h-4.7zM337.4 225.1h4.7v4.7h-4.7zM341.5 225.1h4.7v4.7h-4.7zM353.8 225.1h4.7v4.7h-4.7zM357.9 225.1h4.7v4.7h-4.7zM296.3 229.1h4.7v4.7h-4.7zM316.9 229.1h4.7v4.7h-4.7zM337.4 229.1h4.7v4.7h-4.7zM341.5 229.1h4.7v4.7h-4.7zM345.6 229.1h4.7v4.7h-4.7zM349.7 229.1h4.7v4.7h-4.7zM357.9 229.1h4.7v4.7h-4.7zM296.3 233.2h4.7v4.7h-4.7zM300.4 233.2h4.7v4.7h-4.7zM304.6 233.2h4.7v4.7h-4.7zM308.7 233.2h4.7v4.7h-4.7zM316.9 233.2h4.7v4.7h-4.7zM321.0 233.2h4.7v4.7h-4.7zM325.1 233.2h4.7v4.7h-4.7zM333.3 233.2h4.7v4.7h-4.7zM341.5 233.2h4.7v4.7h-4.7zM349.7 233.2h4.7v4.7h-4.7zM353.8 233.2h4.7v4.7h-4.7zM357.9 233.2h4.7v4.7h-4.7zM292.2 237.3h4.7v4.7h-4.7zM300.4 237.3h4.7v4.7h-4.7zM304.6 237.3h4.7v4.7h-4.7zM321.0 237.3h4.7v4.7h-4.7zM333.3 237.3h4.7v4.7h-4.7zM341.5 237.3h4.7v4.7h-4.7zM345.6 237.3h4.7v4.7h-4.7zM349.7 237.3h4.7v4.7h-4.7zM353.8 237.3h4.7v4.7h-4.7zM357.9 237.3h4.7v4.7h-4.7zM292.2 241.4h4.7v4.7h-4.7zM308.7 241.4h4.7v4.7h-4.7zM321.0 241.4h4.7v4.7h-4.7zM337.4 241.4h4.7v4.7h-4.7zM341.5 241.4h4.7v4.7h-4.7zM345.6 241.4h4.7v4.7h-4.7zM353.8 241.4h4.7v4.7h-4.7zM271.7 245.4h4.7v4.7h-4.7zM288.1 245.4h4.7v4.7h-4.7zM296.3 245.4h4.7v4.7h-4.7zM300.4 245.4h4.7v4.7h-4.7zM304.6 245.4h4.7v4.7h-4.7zM312.8 245.4h4.7v4.7h-4.7zM316.9 245.4h4.7v4.7h-4.7zM325.1 245.4h4.7v4.7h-4.7zM345.6 245.4h4.7v4.7h-4.7zM349.7 245.4h4.7v4.7h-4.7zM353.8 245.4h4.7v4.7h-4.7zM263.5 249.5h4.7v4.7h-4.7zM271.7 249.5h4.7v4.7h-4.7zM275.8 249.5h4.7v4.7h-4.7zM284.0 249.5h4.7v4.7h-4.7zM288.1 249.5h4.7v4.7h-4.7zM292.2 249.5h4.7v4.7h-4.7zM296.3 249.5h4.7v4.7h-4.7zM300.4 249.5h4.7v4.7h-4.7zM304.6 249.5h4.7v4.7h-4.7zM308.7 249.5h4.7v4.7h-4.7zM316.9 249.5h4.7v4.7h-4.7zM321.0 249.5h4.7v4.7h-4.7zM333.3 249.5h4.7v4.7h-4.7zM337.4 249.5h4.7v4.7h-4.7zM345.6 249.5h4.7v4.7h-4.7z"/>
<path fill="#0000d0" d="M259.4 143.5h4.7v4.7h-4.7zM267.6 143.5h4.7v4.7h-4.7zM275.8 143.5h4.7v4.7h-4.7zM288.1 143.5h4.7v4.7h-4.7zM316.9 143.5h4.7v4.7h-4.7zM321.0 143.5h4.7v4.7h-4.7zM333.3 143.5h4.7v4.7h-4.7zM341.5 143.5h4.7v4.7h-4.7zM345.6 143.5h4.7v4.7h-4.7zM349.7 143.5h4.7v4.7h-4.7zM353.8 143.5h4.7v4.7h-4.7zM243.0 147.6h4.7v4.7h-4.7zM247.1 147.6h4.7v4.7h-4.7zM312.8 147.6h4.7v4.7h-4.7zM321.0 147.6h4.7v4.7h-4.7zM325.1 147.6h4.7v4.7h-4.7zM337.4 147.6h4.7v4.7h-4.7zM284.0 151.7h4.7v4.7h-4.7zM304.6 151.7h4.7v4.7h-4.7zM316.9 151.7h4.7v4.7h-4.7zM325.1 151.7h4.7v4.7h-4.7zM271.7 155.7h4.7v4.7h-4.7zM288.1 155.7h4.7v4.7h-4.7zM296.3 155.7h4.7v4.7h-4.7zM304.6 155.7h4.7v4.7h-4.7zM308.7 155.7h4.7v4.7h-4.7zM312.8 155.7h4.7v4.7h-4.7zM316.9 155.7h4.7v4.7h-4.7zM329.2 155.7h4.7v4.7h-4.7zM333.3 155.7h4.7v4.7h-4.7zM263.5 159.8h4.7v4.7h-4.7zM267.6 159.8h4.7v4.7h-4.7zM284.0 159.8h4.7v4.7h-4.7zM292.2 159.8h4.7v4.7h-4.7zM296.3 159.8h4.7v4.7h-4.7zM300.4 159.8h4.7v4.7h-4.7zM304.6 159.8h4.7v4.7h-4.7zM308.7 159.8h4.7v4.7h-4.7zM312.8 159.8h4.7v4.7h-4.7zM316.9 159.8h4.7v4.7h-4.7zM247.1 163.9h4.7v4.7h-4.7zM251.2 163.9h4.7v4.7h-4.7zM267.6 163.9h4.7v4.7h-4.7zM271.7 163.9h4.7v4.7h-4.7zM279.9 163.9h4.7v4.7h-4.7zM284.0 163.9h4.7v4.7h-4.7zM288.1 163.9h4.7v4.7h-4.7zM292.2 163.9h4.7v4.7h-4.7zM296.3 163.9h4.7v4.7h-4.7zM300.4 163.9h4.7v4.7h-4.7zM308.7 163.9h4.7v4.7h-4.7zM312.8 163.9h4.7v4.7h-4.7zM263.5 168.0h4.7v4.7h-4.7zM267.6 168.0h4.7v4.7h-4.7zM271.7 168.0h4.7v4.7h-4.7zM275.8 168.0h4.7v4.7h-4.7zM288.1 168.0h4.7v4.7h-4.7zM292.2 168.0h4.7v4.7h-4.7zM296.3 168.0h4.7v4.7h-4.7zM247.1 172.0h4.7v4.7h-4.7zM259.4 172.0h4.7v4.7h-4.7zM267.6 172.0h4.7v4.7h-4.7zM271.7 172.0h4.7v4.7h-4.7zM275.8 172.0h4.7v4.7h-4.7zM279.9 172.0h4.7v4.7h-4.7zM284.0 172.0h4.7v4.7h-4.7zM292.2 172.0h4.7v4.7h-4.7zM296.3 172.0h4.7v4.7h-4.7zM251.2 176.1h4.7v4.7h-4.7zM255.3 176.1h4.7v4.7h-4.7zM267.6 176.1h4.7v4.7h-4.7zM271.7 176.1h4.7v4.7h-4.7zM284.0 176.1h4.7v4.7h-4.7zM251.2 180.2h4.7v4.7h-4.7zM259.4 180.2h4.7v4.7h-4.7zM263.5 180.2h4.7v4.7h-4.7zM267.6 180.2h4.7v4.7h-4.7zM243.0 184.3h4.7v4.7h-4.7zM251.2 184.3h4.7v4.7h-4.7zM255.3 184.3h4.7v4.7h-4.7zM259.4 184.3h4.7v4.7h-4.7zM263.5 184.3h4.7v4.7h-4.7zM275.8 184.3h4.7v4.7h-4.7zM247.1 188.4h4.7v4.7h-4.7zM251.2 188.4h4.7v4.7h-4.7zM255.3 188.4h4.7v4.7h-4.7zM263.5 188.4h4.7v4.7h-4.7zM267.6 188.4h4.7v4.7h-4.7zM243.0 192.4h4.7v4.7h-4.7zM247.1 192.4h4.7v4.7h-4.7zM251.2 192.4h4.7v4.7h-4.7zM255.3 192.4h4.7v4.7h-4.7zM357.9 192.4h4.7v4.7h-4.7zM243.0 196.5h4.7v4.7h-4.7zM353.8 196.5h4.7v4.7h-4.7zM243.0 200.6h4.7v4.7h-4.7zM251.2 200.6h4.7v4.7h-4.7zM349.7 200.6h4.7v4.7h-4.7zM357.9 200.6h4.7v4.7h-4.7zM333.3 208.7h4.7v4.7h-4.7zM337.4 208.7h4.7v4.7h-4.7zM341.5 208.7h4.7v4.7h-4.7zM349.7 208.7h4.7v4.7h-4.7zM353.8 208.7h4.7v4.7h-4.7zM357.9 208.7h4.7v4.7h-4.7zM325.1 212.8h4.7v4.7h-4.7zM333.3 212.8h4.7v4.7h-4.7zM337.4 212.8h4.7v4.7h-4.7zM341.5 212.8h4.7v4.7h-4.7zM345.6 212.8h4.7v4.7h-4.7zM357.9 212.8h4.7v4.7h-4.7zM312.8 216.9h4.7v4.7h-4.7zM316.9 216.9h4.7v4.7h-4.7zM321.0 216.9h4.7v4.7h-4.7zM325.1 216.9h4.7v4.7h-4.7zM333.3 216.9h4.7v4.7h-4.7zM337.4 216.9h4.7v4.7h-4.7zM345.6 216.9h4.7v4.7h-4.7zM304.6 221.0h4.7v4.7h-4.7zM308.7 221.0h4.7v4.7h-4.7zM316.9 221.0h4.7v4.7h-4.7zM321.0 221.0h4.7v4.7h-4.7zM325.1 221.0h4.7v4.7h-4.7zM329.2 221.0h4.7v4.7h-4.7zM337.4 221.0h4.7v4.7h-4.7zM345.6 221.0h4.7v4.7h-4.7zM292.2 225.1h4.7v4.7h-4.7zM296.3 225.1h4.7v4.7h-4.7zM304.6 225.1h4.7v4.7h-4.7zM308.7 225.1h4.7v4.7h-4.7zM312.8 225.1h4.7v4.7h-4.7zM316.9 225.1h4.7v4.7h-4.7zM321.0 225.1h4.7v4.7h-4.7zM325.1 225.1h4.7v4.7h-4.7zM345.6 225.1h4.7v4.7h-4.7zM349.7 225.1h4.7v4.7h-4.7zM279.9 229.1h4.7v4.7h-4.7zM284.0 229.1h4.7v4.7h-4.7zM288.1 229.1h4.7v4.7h-4.7zM292.2 229.1h4.7v4.7h-4.7zM300.4 229.1h4.7v4.7h-4.7zM304.6 229.1h4.7v4.7h-4.7zM308.7 229.1h4.7v4.7h-4.7zM312.8 229.1h4.7v4.7h-4.7zM321.0 229.1h4.7v4.7h-4.7zM325.1 229.1h4.7v4.7h-4.7zM329.2 229.1h4.7v4.7h-4.7zM284.0 233.2h4.7v4.7h-4.7zM288.1 233.2h4.7v4.7h-4.7zM292.2 233.2h4.7v4.7h-4.7zM312.8 233.2h4.7v4.7h-4.7zM329.2 233.2h4.7v4.7h-4.7zM337.4 233.2h4.7v4.7h-4.7zM345.6 233.2h4.7v4.7h-4.7zM275.8 237.3h4.7v4.7h-4.7zM279.9 237.3h4.7v4.7h-4.7zM288.1 237.3h4.7v4.7h-4.7zM296.3 237.3h4.7v4.7h-4.7zM308.7 237.3h4.7v4.7h-4.7zM312.8 237.3h4.7v4.7h-4.7zM325.1 237.3h4.7v4.7h-4.7zM329.2 237.3h4.7v4.7h-4.7zM337.4 237.3h4.7v4.7h-4.7zM267.6 241.4h4.7v4.7h-4.7zM275.8 241.4h4.7v4.7h-4.7zM279.9 241.4h4.7v4.7h-4.7zM284.0 241.4h4.7v4.7h-4.7zM288.1 241.4h4.7v4.7h-4.7zM296.3 241.4h4.7v4.7h-4.7zM300.4 241.4h4.7v4.7h-4.7zM304.6 241.4h4.7v4.7h-4.7zM312.8 241.4h4.7v4.7h-4.7zM316.9 241.4h4.7v4.7h-4.7zM329.2 241.4h4.7v4.7h-4.7zM333.3 241.4h4.7v4.7h-4.7zM263.5 245.4h4.7v4.7h-4.7zM275.8 245.4h4.7v4.7h-4.7zM279.9 245.4h4.7v4.7h-4.7zM284.0 245.4h4.7v4.7h-4.7zM292.2 245.4h4.7v4.7h-4.7zM308.7 245.4h4.7v4.7h-4.7zM321.0 245.4h4.7v4.7h-4.7zM329.2 245.4h4.7v4.7h-4.7zM333.3 245.4h4.7v4.7h-4.7zM337.4 245.4h4.7v4.7h-4.7zM341.5 245.4h4.7v4.7h-4.7zM255.3 249.5h4.7v4.7h-4.7zM267.6 249.5h4.7v4.7h-4.7zM279.9 249.5h4.7v4.7h-4.7zM325.1 249.5h4.7v4.7h-4.7zM329.2 249.5h4.7v4.7h-4.7zM349.7 249.5h4.7v4.7h-4.7zM353.8 249.5h4.7v4.7h-4.7z"/>
<path fill="#0000e1" d="M357.9 143.5h4.7v4.7h-4.7zM341.5 147.6h4.7v4.7h-4.7zM345.6 147.6h4.7v4.7h-4.7zM349.7 147.6h4.7v4.7h-4.7zM353.8 147.6h4.7v4.7h-4.7zM357.9 147.6h4.7v4.7h-4.7zM321.0 151.7h4.7v4.7h-4.7zM329.2 151.7h4.7v4.7h-4.7zM333.3 151.7h4.7v4.7h-4.7zM337.4 151.7h4.7v4.7h-4.7zM341.5 151.7h4.7v4.7h-4.7zM300.4 155.7h4.7v4.7h-4.7zM345.6 155.7h4.7v4.7h-4.7zM275.8 159.8h4.7v4.7h-4.7zM321.0 159.8h4.7v4.7h-4.7zM325.1 159.8h4.7v4.7h-4.7zM329.2 159.8h4.7v4.7h-4.7zM333.3 159.8h4.7v4.7h-4.7zM304.6 163.9h4.7v4.7h-4.7zM321.0 163.9h4.7v4.7h-4.7zM325.1 163.9h4.7v4.7h-4.7zM329.2 163.9h4.7v4.7h-4.7zM255.3 168.0h4.7v4.7h-4.7zM304.6 168.0h4.7v4.7h-4.7zM308.7 168.0h4.7v4.7h-4.7zM312.8 168.0h4.7v4.7h-4.7zM316.9 168.0h4.7v4.7h-4.7zM300.4 172.0h4.7v4.7h-4.7zM304.6 172.0h4.7v4.7h-4.7zM308.7 172.0h4.7v4.7h-4.7zM279.9 176.1h4.7v4.7h-4.7zM288.1 176.1h4.7v4.7h-4.7zM292.2 176.1h4.7v4.7h-4.7zM304.6 176.1h4.7v4.7h-4.7zM271.7 180.2h4.7v4.7h-4.7zM275.8 180.2h4.7v4.7h-4.7zM279.9 180.2h4.7v4.7h-4.7zM284.0 180.2h4.7v4.7h-4.7zM288.1 180.2h4.7v4.7h-4.7zM296.3 180.2h4.7v4.7h-4.7zM267.6 184.3h4.7v4.7h-4.7zM259.4 188.4h4.7v4.7h-4.7zM271.7 188.4h4.7v4.7h-4.7zM357.9 188.4h4.7v4.7h-4.7zM259.4 192.4h4.7v4.7h-4.7zM267.6 192.4h4.7v4.7h-4.7zM345.6 192.4h4.7v4.7h-4.7zM349.7 192.4h4.7v4.7h-4.7zM353.8 192.4h4.7v4.7h-4.7zM247.1 196.5h4.7v4.7h-4.7zM251.2 196.5h4.7v4.7h-4.7zM341.5 196.5h4.7v4.7h-4.7zM345.6 196.5h4.7v4.7h-4.7zM349.7 196.5h4.7v4.7h-4.7zM357.9 196.5h4.7v4.7h-4.7zM247.1 200.6h4.7v4.7h-4.7zM255.3 200.6h4.7v4.7h-4.7zM329.2 200.6h4.7v4.7h-4.7zM333.3 200.6h4.7v4.7h-4.7zM337.4 200.6h4.7v4.7h-4.7zM341.5 200.6h4.7v4.7h-4.7zM345.6 200.6h4.7v4.7h-4.7zM353.8 200.6h4.7v4.7h-4.7zM243.0 204.7h4.7v4.7h-4.7zM251.2 204.7h4.7v4.7h-4.7zM325.1 204.7h4.7v4.7h-4.7zM329.2 204.7h4.7v4.7h-4.7zM333.3 204.7h4.7v4.7h-4.7zM337.4 204.7h4.7v4.7h-4.7zM341.5 204.7h4.7v4.7h-4.7zM345.6 204.7h4.7v4.7h-4.7zM349.7 204.7h4.7v4.7h-4.7zM353.8 204.7h4.7v4.7h-4.7zM321.0 208.7h4.7v4.7h-4.7zM325.1 208.7h4.7v4.7h-4.7zM329.2 208.7h4.7v4.7h-4.7zM308.7 212.8h4.7v4.7h-4.7zM312.8 212.8h4.7v4.7h-4.7zM316.9 212.8h4.7v4.7h-4.7zM321.0 212.8h4.7v4.7h-4.7zM329.2 212.8h4.7v4.7h-4.7zM296.3 216.9h4.7v4.7h-4.7zM304.6 216.9h4.7v4.7h-4.7zM308.7 216.9h4.7v4.7h-4.7zM292.2 221.0h4.7v4.7h-4.7zM296.3 221.0h4.7v4.7h-4.7zM300.4 221.0h4.7v4.7h-4.7zM312.8 221.0h4.7v4.7h-4.7zM288.1 225.1h4.7v4.7h-4.7zM300.4 225.1h4.7v4.7h-4.7zM271.7 229.1h4.7v4.7h-4.7zM263.5 233.2h4.7v4.7h-4.7zM275.8 233.2h4.7v4.7h-4.7zM279.9 233.2h4.7v4.7h-4.7zM259.4 237.3h4.7v4.7h-4.7zM263.5 237.3h4.7v4.7h-4.7zM267.6 237.3h4.7v4.7h-4.7zM271.7 237.3h4.7v4.7h-4.7zM284.0 237.3h4.7v4.7h-4.7zM255.3 241.4h4.7v4.7h-4.7zM259.4 241.4h4.7v4.7h-4.7zM271.7 241.4h4.7v4.7h-4.7zM247.1 245.4h4.7v4.7h-4.7zM251.2 245.4h4.7v4.7h-4.7zM259.4 245.4h4.7v4.7h-4.7zM267.6 245.4h4.7v4.7h-4.7zM243.0 249.5h4.7v4.7h-4.7zM247.1 249.5h4.7v4.7h-4.7zM251.2 249.5h4.7v4.7h-4.7zM259.4 249.5h4.7v4.7h-4.7z"/>
<path fill="#0000f1" d="M345.6 151.7h4.7v4.7h-4.7zM349.7 151.7h4.7v4.7h-4.7zM357.9 151.7h4.7v4.7h-4.7zM337.4 155.7h4.7v4.7h-4.7zM341.5 155.7h4.7v4.7h-4.7zM349.7 155.7h4.7v4.7h-4.7zM337.4 159.8h4.7v4.7h-4.7zM341.5 159.8h4.7v4.7h-4.7zM345.6 159.8h4.7v4.7h-4.7zM316.9 163.9h4.7v4.7h-4.7zM321.0 168.0h4.7v4.7h-4.7zM325.1 168.0h4.7v4.7h-4.7zM312.8 172.0h4.7v4.7h-4.7zM296.3 176.1h4.7v4.7h-4.7zM300.4 176.1h4.7v4.7h-4.7zM308.7 176.1h4.7v4.7h-4.7zM292.2 180.2h4.7v4.7h-4.7zM300.4 180.2h4.7v4.7h-4.7zM353.8 180.2h4.7v4.7h-4.7zM357.9 180.2h4.7v4.7h-4.7zM271.7 184.3h4.7v4.7h-4.7zM279.9 184.3h4.7v4.7h-4.7zM284.0 184.3h4.7v4.7h-4.7zM288.1 184.3h4.7v4.7h-4.7zM292.2 184.3h4.7v4.7h-4.7zM296.3 184.3h4.7v4.7h-4.7zM353.8 184.3h4.7v4.7h-4.7zM357.9 184.3h4.7v4.7h-4.7zM275.8 188.4h4.7v4.7h-4.7zM279.9 188.4h4.7v4.7h-4.7zM284.0 188.4h4.7v4.7h-4.7zM349.7 188.4h4.7v4.7h-4.7zM353.8 188.4h4.7v4.7h-4.7zM263.5 192.4h4.7v4.7h-4.7zM271.7 192.4h4.7v4.7h-4.7zM279.9 192.4h4.7v4.7h-4.7zM341.5 192.4h4.7v4.7h-4.7zM255.3 196.5h4.7v4.7h-4.7zM259.4 196.5h4.7v4.7h-4.7zM263.5 196.5h4.7v4.7h-4.7zM333.3 196.5h4.7v4.7h-4.7zM337.4 196.5h4.7v4.7h-4.7zM259.4 200.6h4.7v4.7h-4.7zM247.1 204.7h4.7v4.7h-4.7zM255.3 204.7h4.7v4.7h-4.7zM312.8 204.7h4.7v4.7h-4.7zM316.9 204.7h4.7v4.7h-4.7zM321.0 204.7h4.7v4.7h-4.7zM243.0 208.7h4.7v4.7h-4.7zM247.1 208.7h4.7v4.7h-4.7zM251.2 208.7h4.7v4.7h-4.7zM312.8 208.7h4.7v4.7h-4.7zM316.9 208.7h4.7v4.7h-4.7zM243.0 212.8h4.7v4.7h-4.7zM296.3 212.8h4.7v4.7h-4.7zM304.6 212.8h4.7v4.7h-4.7zM288.1 216.9h4.7v4.7h-4.7zM292.2 216.9h4.7v4.7h-4.7zM300.4 216.9h4.7v4.7h-4.7zM284.0 221.0h4.7v4.7h-4.7zM288.1 221.0h4.7v4.7h-4.7zM275.8 225.1h4.7v4.7h-4.7zM279.9 225.1h4.7v4.7h-4.7zM284.0 225.1h4.7v4.7h-4.7zM267.6 229.1h4.7v4.7h-4.7zM275.8 229.1h4.7v4.7h-4.7zM255.3 233.2h4.7v4.7h-4.7zM259.4 233.2h4.7v4.7h-4.7zM267.6 233.2h4.7v4.7h-4.7zM271.7 233.2h4.7v4.7h-4.7zM251.2 237.3h4.7v4.7h-4.7zM247.1 241.4h4.7v4.7h-4.7zM251.2 241.4h4.7v4.7h-4.7zM263.5 241.4h4.7v4.7h-4.7zM243.0 245.4h4.7v4.7h-4.7zM255.3 245.4h4.7v4.7h-4.7z"/>
<path fill="#0002ff" d="M353.8 151.7h4.7v4.7h-4.7zM353.8 155.7h4.7v4.7h-4.7zM357.9 155.7h4.7v4.7h-4.7zM333.3 163.9h4.7v4.7h-4.7zM337.4 163.9h4.7v4.7h-4.7zM329.2 168.0h4.7v4.7h-4.7zM316.9 172.0h4.7v4.7h-4.7zM321.0 172.0h4.7v4.7h-4.7zM312.8 176.1h4.7v4.7h-4.7zM304.6 180.2h4.7v4.7h-4.7zM308.7 180.2h4.7v4.7h-4.7zM300.4 184.3h4.7v4.7h-4.7zM345.6 184.3h4.7v4.7h-4.7zM349.7 184.3h4.7v4.7h-4.7zM288.1 188.4h4.7v4.7h-4.7zM337.4 188.4h4.7v4.7h-4.7zM341.5 188.4h4.7v4.7h-4.7zM345.6 188.4h4.7v4.7h-4.7zM275.8 192.4h4.7v4.7h-4.7zM284.0 192.4h4.7v4.7h-4.7zM333.3 192.4h4.7v4.7h-4.7zM337.4 192.4h4.7v4.7h-4.7zM267.6 196.5h4.7v4.7h-4.7zM271.7 196.5h4.7v4.7h-4.7zM275.8 196.5h4.7v4.7h-4.7zM329.2 196.5h4.7v4.7h-4.7zM263.5 200.6h4.7v4.7h-4.7zM267.6 200.6h4.7v4.7h-4.7zM271.7 200.6h4.7v4.7h-4.7zM316.9 200.6h4.7v4.7h-4.7zM325.1 200.6h4.7v4.7h-4.7zM259.4 204.7h4.7v4.7h-4.7zM308.7 208.7h4.7v4.7h-4.7zM247.1 212.8h4.7v4.7h-4.7zM292.2 212.8h4.7v4.7h-4.7zM300.4 212.8h4.7v4.7h-4.7zM243.0 216.9h4.7v4.7h-4.7zM279.9 221.0h4.7v4.7h-4.7zM267.6 225.1h4.7v4.7h-4.7zM271.7 225.1h4.7v4.7h-4.7zM243.0 237.3h4.7v4.7h-4.7zM247.1 237.3h4.7v4.7h-4.7zM255.3 237.3h4.7v4.7h-4.7zM243.0 241.4h4.7v4.7h-4.7z"/>
<path fill="#0012ff" d="M349.7 159.8h4.7v4.7h-4.7zM353.8 159.8h4.7v4.7h-4.7zM341.5 163.9h4.7v4.7h-4.7zM349.7 163.9h4.7v4.7h-4.7zM333.3 168.0h4.7v4.7h-4.7zM325.1 172.0h4.7v4.7h-4.7zM316.9 176.1h4.7v4.7h-4.7zM357.9 176.1h4.7v4.7h-4.7zM349.7 180.2h4.7v4.7h-4.7zM292.2 188.4h4.7v4.7h-4.7zM333.3 188.4h4.7v4.7h-4.7zM329.2 192.4h4.7v4.7h-4.7zM325.1 196.5h4.7v4.7h-4.7zM321.0 200.6h4.7v4.7h-4.7zM263.5 204.7h4.7v4.7h-4.7zM308.7 204.7h4.7v4.7h-4.7zM255.3 208.7h4.7v4.7h-4.7zM259.4 208.7h4.7v4.7h-4.7zM300.4 208.7h4.7v4.7h-4.7zM304.6 208.7h4.7v4.7h-4.7zM284.0 216.9h4.7v4.7h-4.7zM275.8 221.0h4.7v4.7h-4.7zM263.5 225.1h4.7v4.7h-4.7zM251.2 229.1h4.7v4.7h-4.7zM259.4 229.1h4.7v4.7h-4.7zM263.5 229.1h4.7v4.7h-4.7zM247.1 233.2h4.7v4.7h-4.7zM251.2 233.2h4.7v4.7h-4.7z"/>
<path fill="#0022ff" d="M357.9 159.8h4.7v4.7h-4.7zM345.6 163.9h4.7v4.7h-4.7zM337.4 168.0h4.7v4.7h-4.7zM329.2 172.0h4.7v4.7h-4.7zM357.9 172.0h4.7v4.7h-4.7zM321.0 176.1h4.7v4.7h-4.7zM353.8 176.1h4.7v4.7h-4.7zM341.5 184.3h4.7v4.7h-4.7zM296.3 188.4h4.7v4.7h-4.7zM288.1 192.4h4.7v4.7h-4.7zM279.9 196.5h4.7v4.7h-4.7zM321.0 196.5h4.7v4.7h-4.7zM312.8 200.6h4.7v4.7h-4.7zM267.6 204.7h4.7v4.7h-4.7zM296.3 208.7h4.7v4.7h-4.7zM251.2 212.8h4.7v4.7h-4.7zM247.1 216.9h4.7v4.7h-4.7zM271.7 221.0h4.7v4.7h-4.7zM259.4 225.1h4.7v4.7h-4.7zM255.3 229.1h4.7v4.7h-4.7z"/>
<path fill="#0033ff" d="M353.8 163.9h4.7v4.7h-4.7zM341.5 168.0h4.7v4.7h-4.7zM333.3 172.0h4.7v4.7h-4.7zM349.7 176.1h4.7v4.7h-4.7zM312.8 180.2h4.7v4.7h-4.7zM345.6 180.2h4.7v4.7h-4.7zM304.6 184.3h4.7v4.7h-4.7zM337.4 184.3h4.7v4.7h-4.7zM325.1 192.4h4.7v4.7h-4.7zM316.9 196.5h4.7v4.7h-4.7zM275.8 200.6h4.7v4.7h-4.7zM304.6 204.7h4.7v4.7h-4.7zM263.5 208.7h4.7v4.7h-4.7zM255.3 212.8h4.7v4.7h-4.7zM288.1 212.8h4.7v4.7h-4.7zM279.9 216.9h4.7v4.7h-4.7zM243.0 221.0h4.7v4.7h-4.7zM255.3 225.1h4.7v4.7h-4.7zM247.1 229.1h4.7v4.7h-4.7zM243.0 233.2h4.7v4.7h-4.7z"/>
<path fill="#0043ff" d="M357.9 163.9h4.7v4.7h-4.7zM345.6 168.0h4.7v4.7h-4.7zM349.7 168.0h4.7v4.7h-4.7zM357.9 168.0h4.7v4.7h-4.7zM353.8 172.0h4.7v4.7h-4.7zM325.1 176.1h4.7v4.7h-4.7zM345.6 176.1h4.7v4.7h-4.7zM341.5 180.2h4.7v4.7h-4.7zM329.2 188.4h4.7v4.7h-4.7zM284.0 196.5h4.7v4.7h-4.7zM308.7 200.6h4.7v4.7h-4.7zM271.7 204.7h4.7v4.7h-4.7zM259.4 212.8h4.7v4.7h-4.7zM251.2 216.9h4.7v4.7h-4.7zM275.8 216.9h4.7v4.7h-4.7zM247.1 221.0h4.7v4.7h-4.7zM267.6 221.0h4.7v4.7h-4.7zM243.0 229.1h4.7v4.7h-4.7z"/>
<path fill="#0053ff" d="M353.8 168.0h4.7v4.7h-4.7zM337.4 172.0h4.7v4.7h-4.7zM300.4 188.4h4.7v4.7h-4.7zM292.2 192.4h4.7v4.7h-4.7zM300.4 204.7h4.7v4.7h-4.7zM292.2 208.7h4.7v4.7h-4.7zM284.0 212.8h4.7v4.7h-4.7zM263.5 221.0h4.7v4.7h-4.7zM243.0 225.1h4.7v4.7h-4.7zM247.1 225.1h4.7v4.7h-4.7zM251.2 225.1h4.7v4.7h-4.7z"/>
<path fill="#0063ff" d="M341.5 172.0h4.7v4.7h-4.7zM345.6 172.0h4.7v4.7h-4.7zM349.7 172.0h4.7v4.7h-4.7zM316.9 180.2h4.7v4.7h-4.7zM337.4 180.2h4.7v4.7h-4.7zM308.7 184.3h4.7v4.7h-4.7zM333.3 184.3h4.7v4.7h-4.7zM321.0 192.4h4.7v4.7h-4.7zM279.9 200.6h4.7v4.7h-4.7zM267.6 208.7h4.7v4.7h-4.7zM255.3 216.9h4.7v4.7h-4.7zM271.7 216.9h4.7v4.7h-4.7zM251.2 221.0h4.7v4.7h-4.7zM255.3 221.0h4.7v4.7h-4.7zM259.4 221.0h4.7v4.7h-4.7z"/>
<path fill="#0073ff" d="M329.2 176.1h4.7v4.7h-4.7zM263.5 212.8h4.7v4.7h-4.7zM259.4 216.9h4.7v4.7h-4.7z"/>
<path fill="#0084ff" d="M333.3 176.1h4.7v4.7h-4.7zM341.5 176.1h4.7v4.7h-4.7zM321.0 180.2h4.7v4.7h-4.7zM288.1 196.5h4.7v4.7h-4.7zM312.8 196.5h4.7v4.7h-4.7zM275.8 204.7h4.7v4.7h-4.7zM263.5 216.9h4.7v4.7h-4.7zM267.6 216.9h4.7v4.7h-4.7z"/>
<path fill="#0094ff" d="M337.4 176.1h4.7v4.7h-4.7zM329.2 184.3h4.7v4.7h-4.7zM325.1 188.4h4.7v4.7h-4.7zM296.3 192.4h4.7v4.7h-4.7zM304.6 200.6h4.7v4.7h-4.7zM296.3 204.7h4.7v4.7h-4.7zM271.7 208.7h4.7v4.7h-4.7zM279.9 212.8h4.7v4.7h-4.7z"/>
<path fill="#00a4ff" d="M325.1 180.2h4.7v4.7h-4.7zM312.8 184.3h4.7v4.7h-4.7zM304.6 188.4h4.7v4.7h-4.7zM284.0 200.6h4.7v4.7h-4.7zM288.1 208.7h4.7v4.7h-4.7z"/>
<path fill="#00c4ff" d="M329.2 180.2h4.7v4.7h-4.7z"/>
<path fill="#00b4ff" d="M333.3 180.2h4.7v4.7h-4.7zM316.9 192.4h4.7v4.7h-4.7zM267.6 212.8h4.7v4.7h-4.7zM271.7 212.8h4.7v4.7h-4.7zM275.8 212.8h4.7v4.7h-4.7z"/>
<path fill="#00d4ff" d="M316.9 184.3h4.7v4.7h-4.7zM321.0 188.4h4.7v4.7h-4.7zM308.7 196.5h4.7v4.7h-4.7zM279.9 204.7h4.7v4.7h-4.7zM275.8 208.7h4.7v4.7h-4.7zM284.0 208.7h4.7v4.7h-4.7z"/>
<path fill="#00f5ff" d="M321.0 184.3h4.7v4.7h-4.7zM292.2 204.7h4.7v4.7h-4.7zM279.9 208.7h4.7v4.7h-4.7z"/>
<path fill="#00e5ff" d="M325.1 184.3h4.7v4.7h-4.7zM308.7 188.4h4.7v4.7h-4.7zM292.2 196.5h4.7v4.7h-4.7z"/>
<path fill="#06fff9" d="M312.8 188.4h4.7v4.7h-4.7zM316.9 188.4h4.7v4.7h-4.7zM312.8 192.4h4.7v4.7h-4.7zM288.1 200.6h4.7v4.7h-4.7zM300.4 200.6h4.7v4.7h-4.7zM284.0 204.7h4.7v4.7h-4.7zM288.1 204.7h4.7v4.7h-4.7z"/>
<path fill="#57ffa8" d="M300.4 192.4h4.7v4.7h-4.7zM292.2 200.6h4.7v4.7h-4.7z"/>
<path fill="#77ff88" d="M304.6 192.4h4.7v4.7h-4.7zM296.3 200.6h4.7v4.7h-4.7z"/>
<path fill="#67ff98" d="M308.7 192.4h4.7v4.7h-4.7zM296.3 196.5h4.7v4.7h-4.7zM304.6 196.5h4.7v4.7h-4.7z"/>
<path fill="#800000" d="M300.4 196.5h4.7v4.7h-4.7z"/>
</svg>
<polygon points="291.6,202.8 293.2,204.3 297.7,204.8 304.3,201.3 310.4,197.2 312.9,194.2 311.4,192.7 307.3,192.2 302.3,194.2 296.2,197.7 292.7,200.8" fill="none" stroke="#000" stroke-width="1.25" stroke-linejoin="round"/>
<text x="356.20" y="245.00" font-size="18" text-anchor="end" fill="#fff">D</text>
<rect x="243.0" y="143.5" width="119.0" height="110.1" fill="none" stroke="#444" stroke-width="0.5"/>
<text x="244.50" y="260.90" font-size="5.6" text-anchor="middle" fill="#222" stroke="#222" stroke-width="0.15">−4</text>
<text x="241.00" y="253.17" font-size="5.6" text-anchor="end" fill="#222" stroke="#222" stroke-width="0.15">−4</text>
<text x="258.65" y="260.90" font-size="5.6" text-anchor="middle" fill="#222" stroke="#222" stroke-width="0.15">−3</text>
<text x="241.00" y="240.02" font-size="5.6" text-anchor="end" fill="#222" stroke="#222" stroke-width="0.15">−3</text>
<text x="272.80" y="260.90" font-size="5.6" text-anchor="middle" fill="#222" stroke="#222" stroke-width="0.15">−2</text>
<text x="241.00" y="226.87" font-size="5.6" text-anchor="end" fill="#222" stroke="#222" stroke-width="0.15">−2</text>
<text x="286.95" y="260.90" font-size="5.6" text-anchor="middle" fill="#222" stroke="#222" stroke-width="0.15">−1</text>
<text x="241.00" y="213.72" font-size="5.6" text-anchor="end" fill="#222" stroke="#222" stroke-width="0.15">−1</text>
<text x="302.50" y="260.90" font-size="5.6" text-anchor="middle" fill="#222" stroke="#222" stroke-width="0.15">0</text>
<text x="241.00" y="200.57" font-size="5.6" text-anchor="end" fill="#222" stroke="#222" stroke-width="0.15">0</text>
<text x="316.65" y="260.90" font-size="5.6" text-anchor="middle" fill="#222" stroke="#222" stroke-width="0.15">1</text>
<text x="241.00" y="187.42" font-size="5.6" text-anchor="end" fill="#222" stroke="#222" stroke-width="0.15">1</text>
<text x="330.80" y="260.90" font-size="5.6" text-anchor="middle" fill="#222" stroke="#222" stroke-width="0.15">2</text>
<text x="241.00" y="174.27" font-size="5.6" text-anchor="end" fill="#222" stroke="#222" stroke-width="0.15">2</text>
<text x="344.95" y="260.90" font-size="5.6" text-anchor="middle" fill="#222" stroke="#222" stroke-width="0.15">3</text>
<text x="241.00" y="161.12" font-size="5.6" text-anchor="end" fill="#222" stroke="#222" stroke-width="0.15">3</text>
<text x="359.10" y="260.90" font-size="5.6" text-anchor="middle" fill="#222" stroke="#222" stroke-width="0.15">4</text>
<text x="241.00" y="147.97" font-size="5.6" text-anchor="end" fill="#222" stroke="#222" stroke-width="0.15">4</text>
<text x="302.00" y="267.10" font-size="5.9" text-anchor="middle" fill="#222" stroke="#222" stroke-width="0.15">Spatial lag (km)</text>
<text x="231.50" y="198.55" font-size="5.9" text-anchor="middle" fill="#222" stroke="#222" stroke-width="0.15" transform="rotate(-90 231.5 198.55)">Spatial lag (km)</text>
<rect x="368.0" y="143.5" width="7.600000000000023" height="110.1" fill="url(#jet)"/>
<rect x="368.0" y="143.5" width="7.600000000000023" height="110.1" fill="none" stroke="#444" stroke-width="0.5"/>
<line x1="375.6" y1="253.60" x2="374.40000000000003" y2="253.60" stroke="#444" stroke-width="0.5"/>
<line x1="368.0" y1="253.60" x2="369.2" y2="253.60" stroke="#444" stroke-width="0.5"/>
<text x="377.00" y="255.65" font-size="5.7" text-anchor="start" fill="#222" stroke="#222" stroke-width="0.15">0</text>
<line x1="375.6" y1="231.58" x2="374.40000000000003" y2="231.58" stroke="#444" stroke-width="0.5"/>
<line x1="368.0" y1="231.58" x2="369.2" y2="231.58" stroke="#444" stroke-width="0.5"/>
<text x="377.00" y="233.63" font-size="5.7" text-anchor="start" fill="#222" stroke="#222" stroke-width="0.15">0.2</text>
<line x1="375.6" y1="209.56" x2="374.40000000000003" y2="209.56" stroke="#444" stroke-width="0.5"/>
<line x1="368.0" y1="209.56" x2="369.2" y2="209.56" stroke="#444" stroke-width="0.5"/>
<text x="377.00" y="211.61" font-size="5.7" text-anchor="start" fill="#222" stroke="#222" stroke-width="0.15">0.4</text>
<line x1="375.6" y1="187.54" x2="374.40000000000003" y2="187.54" stroke="#444" stroke-width="0.5"/>
<line x1="368.0" y1="187.54" x2="369.2" y2="187.54" stroke="#444" stroke-width="0.5"/>
<text x="377.00" y="189.59" font-size="5.7" text-anchor="start" fill="#222" stroke="#222" stroke-width="0.15">0.6</text>
<line x1="375.6" y1="165.52" x2="374.40000000000003" y2="165.52" stroke="#444" stroke-width="0.5"/>
<line x1="368.0" y1="165.52" x2="369.2" y2="165.52" stroke="#444" stroke-width="0.5"/>
<text x="377.00" y="167.57" font-size="5.7" text-anchor="start" fill="#222" stroke="#222" stroke-width="0.15">0.8</text>
<line x1="375.6" y1="143.50" x2="374.40000000000003" y2="143.50" stroke="#444" stroke-width="0.5"/>
<line x1="368.0" y1="143.50" x2="369.2" y2="143.50" stroke="#444" stroke-width="0.5"/>
<text x="377.00" y="145.55" font-size="5.7" text-anchor="start" fill="#222" stroke="#222" stroke-width="0.15">1</text>
<text x="391.50" y="198.55" font-size="5.9" text-anchor="middle" fill="#222" stroke="#222" stroke-width="0.15" transform="rotate(-90 391.5 198.55)">Autocorrelation</text>
<rect x="243.0" y="283.0" width="119.0" height="110.19999999999999" fill="#0000e6"/>
<svg x="243.0" y="283.0" width="119.0" height="110.19999999999999" viewBox="243.0 283.0 119.0 110.19999999999999" overflow="hidden">
<path fill="#0000a0" d="M243.0 283.0h4.7v4.7h-4.7zM247.1 283.0h4.7v4.7h-4.7zM251.2 283.0h4.7v4.7h-4.7zM255.3 283.0h4.7v4.7h-4.7zM259.4 283.0h4.7v4.7h-4.7zM263.5 283.0h4.7v4.7h-4.7zM267.6 283.0h4.7v4.7h-4.7zM275.8 283.0h4.7v4.7h-4.7zM279.9 283.0h4.7v4.7h-4.7zM292.2 283.0h4.7v4.7h-4.7zM300.4 283.0h4.7v4.7h-4.7zM308.7 283.0h4.7v4.7h-4.7zM247.1 287.1h4.7v4.7h-4.7zM255.3 287.1h4.7v4.7h-4.7zM259.4 287.1h4.7v4.7h-4.7zM263.5 287.1h4.7v4.7h-4.7zM271.7 287.1h4.7v4.7h-4.7zM275.8 287.1h4.7v4.7h-4.7zM279.9 287.1h4.7v4.7h-4.7zM284.0 287.1h4.7v4.7h-4.7zM296.3 287.1h4.7v4.7h-4.7zM300.4 287.1h4.7v4.7h-4.7zM333.3 287.1h4.7v4.7h-4.7zM263.5 291.2h4.7v4.7h-4.7zM271.7 291.2h4.7v4.7h-4.7zM279.9 291.2h4.7v4.7h-4.7zM284.0 291.2h4.7v4.7h-4.7zM304.6 291.2h4.7v4.7h-4.7zM316.9 291.2h4.7v4.7h-4.7zM243.0 295.2h4.7v4.7h-4.7zM259.4 295.2h4.7v4.7h-4.7zM284.0 295.2h4.7v4.7h-4.7zM296.3 295.2h4.7v4.7h-4.7zM308.7 295.2h4.7v4.7h-4.7zM316.9 295.2h4.7v4.7h-4.7zM243.0 299.3h4.7v4.7h-4.7zM247.1 299.3h4.7v4.7h-4.7zM251.2 299.3h4.7v4.7h-4.7zM255.3 299.3h4.7v4.7h-4.7zM259.4 299.3h4.7v4.7h-4.7zM267.6 299.3h4.7v4.7h-4.7zM279.9 299.3h4.7v4.7h-4.7zM292.2 299.3h4.7v4.7h-4.7zM251.2 303.4h4.7v4.7h-4.7zM255.3 303.4h4.7v4.7h-4.7zM263.5 303.4h4.7v4.7h-4.7zM267.6 303.4h4.7v4.7h-4.7zM271.7 303.4h4.7v4.7h-4.7zM275.8 303.4h4.7v4.7h-4.7zM288.1 303.4h4.7v4.7h-4.7zM243.0 307.5h4.7v4.7h-4.7zM251.2 307.5h4.7v4.7h-4.7zM255.3 307.5h4.7v4.7h-4.7zM259.4 307.5h4.7v4.7h-4.7zM267.6 307.5h4.7v4.7h-4.7zM271.7 307.5h4.7v4.7h-4.7zM243.0 311.6h4.7v4.7h-4.7zM247.1 311.6h4.7v4.7h-4.7zM251.2 311.6h4.7v4.7h-4.7zM255.3 311.6h4.7v4.7h-4.7zM243.0 315.7h4.7v4.7h-4.7zM357.9 348.3h4.7v4.7h-4.7zM357.9 356.5h4.7v4.7h-4.7zM357.9 360.5h4.7v4.7h-4.7zM308.7 364.6h4.7v4.7h-4.7zM325.1 364.6h4.7v4.7h-4.7zM349.7 364.6h4.7v4.7h-4.7zM353.8 364.6h4.7v4.7h-4.7zM325.1 368.7h4.7v4.7h-4.7zM329.2 368.7h4.7v4.7h-4.7zM341.5 368.7h4.7v4.7h-4.7zM345.6 368.7h4.7v4.7h-4.7zM349.7 368.7h4.7v4.7h-4.7zM304.6 372.8h4.7v4.7h-4.7zM312.8 372.8h4.7v4.7h-4.7zM321.0 372.8h4.7v4.7h-4.7zM325.1 372.8h4.7v4.7h-4.7zM333.3 372.8h4.7v4.7h-4.7zM341.5 372.8h4.7v4.7h-4.7zM353.8 372.8h4.7v4.7h-4.7zM292.2 376.9h4.7v4.7h-4.7zM300.4 376.9h4.7v4.7h-4.7zM308.7 376.9h4.7v4.7h-4.7zM312.8 376.9h4.7v4.7h-4.7zM316.9 376.9h4.7v4.7h-4.7zM321.0 376.9h4.7v4.7h-4.7zM325.1 376.9h4.7v4.7h-4.7zM333.3 376.9h4.7v4.7h-4.7zM345.6 376.9h4.7v4.7h-4.7zM349.7 376.9h4.7v4.7h-4.7zM357.9 376.9h4.7v4.7h-4.7zM296.3 381.0h4.7v4.7h-4.7zM300.4 381.0h4.7v4.7h-4.7zM304.6 381.0h4.7v4.7h-4.7zM308.7 381.0h4.7v4.7h-4.7zM312.8 381.0h4.7v4.7h-4.7zM321.0 381.0h4.7v4.7h-4.7zM325.1 381.0h4.7v4.7h-4.7zM329.2 381.0h4.7v4.7h-4.7zM337.4 381.0h4.7v4.7h-4.7zM345.6 381.0h4.7v4.7h-4.7zM349.7 381.0h4.7v4.7h-4.7zM357.9 381.0h4.7v4.7h-4.7zM284.0 385.0h4.7v4.7h-4.7zM288.1 385.0h4.7v4.7h-4.7zM296.3 385.0h4.7v4.7h-4.7zM300.4 385.0h4.7v4.7h-4.7zM312.8 385.0h4.7v4.7h-4.7zM321.0 385.0h4.7v4.7h-4.7zM329.2 385.0h4.7v4.7h-4.7zM333.3 385.0h4.7v4.7h-4.7zM341.5 385.0h4.7v4.7h-4.7zM345.6 385.0h4.7v4.7h-4.7zM353.8 385.0h4.7v4.7h-4.7zM275.8 389.1h4.7v4.7h-4.7zM279.9 389.1h4.7v4.7h-4.7zM304.6 389.1h4.7v4.7h-4.7zM308.7 389.1h4.7v4.7h-4.7zM312.8 389.1h4.7v4.7h-4.7zM316.9 389.1h4.7v4.7h-4.7zM321.0 389.1h4.7v4.7h-4.7zM325.1 389.1h4.7v4.7h-4.7zM329.2 389.1h4.7v4.7h-4.7zM333.3 389.1h4.7v4.7h-4.7zM341.5 389.1h4.7v4.7h-4.7zM349.7 389.1h4.7v4.7h-4.7zM353.8 389.1h4.7v4.7h-4.7z"/>
<path fill="#000090" d="M271.7 283.0h4.7v4.7h-4.7zM288.1 283.0h4.7v4.7h-4.7zM304.6 287.1h4.7v4.7h-4.7zM288.1 291.2h4.7v4.7h-4.7zM292.2 291.2h4.7v4.7h-4.7zM349.7 372.8h4.7v4.7h-4.7zM337.4 376.9h4.7v4.7h-4.7zM333.3 381.0h4.7v4.7h-4.7zM288.1 389.1h4.7v4.7h-4.7zM345.6 389.1h4.7v4.7h-4.7z"/>
<path fill="#0000b0" d="M284.0 283.0h4.7v4.7h-4.7zM296.3 283.0h4.7v4.7h-4.7zM304.6 283.0h4.7v4.7h-4.7zM312.8 283.0h4.7v4.7h-4.7zM316.9 283.0h4.7v4.7h-4.7zM325.1 283.0h4.7v4.7h-4.7zM329.2 283.0h4.7v4.7h-4.7zM333.3 283.0h4.7v4.7h-4.7zM337.4 283.0h4.7v4.7h-4.7zM243.0 287.1h4.7v4.7h-4.7zM251.2 287.1h4.7v4.7h-4.7zM267.6 287.1h4.7v4.7h-4.7zM288.1 287.1h4.7v4.7h-4.7zM292.2 287.1h4.7v4.7h-4.7zM308.7 287.1h4.7v4.7h-4.7zM312.8 287.1h4.7v4.7h-4.7zM316.9 287.1h4.7v4.7h-4.7zM321.0 287.1h4.7v4.7h-4.7zM325.1 287.1h4.7v4.7h-4.7zM329.2 287.1h4.7v4.7h-4.7zM243.0 291.2h4.7v4.7h-4.7zM247.1 291.2h4.7v4.7h-4.7zM251.2 291.2h4.7v4.7h-4.7zM255.3 291.2h4.7v4.7h-4.7zM259.4 291.2h4.7v4.7h-4.7zM267.6 291.2h4.7v4.7h-4.7zM275.8 291.2h4.7v4.7h-4.7zM296.3 291.2h4.7v4.7h-4.7zM300.4 291.2h4.7v4.7h-4.7zM308.7 291.2h4.7v4.7h-4.7zM312.8 291.2h4.7v4.7h-4.7zM325.1 291.2h4.7v4.7h-4.7zM329.2 291.2h4.7v4.7h-4.7zM333.3 291.2h4.7v4.7h-4.7zM247.1 295.2h4.7v4.7h-4.7zM251.2 295.2h4.7v4.7h-4.7zM255.3 295.2h4.7v4.7h-4.7zM263.5 295.2h4.7v4.7h-4.7zM267.6 295.2h4.7v4.7h-4.7zM271.7 295.2h4.7v4.7h-4.7zM275.8 295.2h4.7v4.7h-4.7zM279.9 295.2h4.7v4.7h-4.7zM288.1 295.2h4.7v4.7h-4.7zM292.2 295.2h4.7v4.7h-4.7zM300.4 295.2h4.7v4.7h-4.7zM304.6 295.2h4.7v4.7h-4.7zM312.8 295.2h4.7v4.7h-4.7zM321.0 295.2h4.7v4.7h-4.7zM325.1 295.2h4.7v4.7h-4.7zM263.5 299.3h4.7v4.7h-4.7zM271.7 299.3h4.7v4.7h-4.7zM275.8 299.3h4.7v4.7h-4.7zM284.0 299.3h4.7v4.7h-4.7zM288.1 299.3h4.7v4.7h-4.7zM296.3 299.3h4.7v4.7h-4.7zM300.4 299.3h4.7v4.7h-4.7zM304.6 299.3h4.7v4.7h-4.7zM243.0 303.4h4.7v4.7h-4.7zM247.1 303.4h4.7v4.7h-4.7zM259.4 303.4h4.7v4.7h-4.7zM279.9 303.4h4.7v4.7h-4.7zM284.0 303.4h4.7v4.7h-4.7zM292.2 303.4h4.7v4.7h-4.7zM247.1 307.5h4.7v4.7h-4.7zM263.5 307.5h4.7v4.7h-4.7zM288.1 307.5h4.7v4.7h-4.7zM259.4 311.6h4.7v4.7h-4.7zM263.5 311.6h4.7v4.7h-4.7zM267.6 311.6h4.7v4.7h-4.7zM275.8 311.6h4.7v4.7h-4.7zM251.2 315.7h4.7v4.7h-4.7zM255.3 315.7h4.7v4.7h-4.7zM259.4 315.7h4.7v4.7h-4.7zM247.1 319.7h4.7v4.7h-4.7zM251.2 319.7h4.7v4.7h-4.7zM255.3 319.7h4.7v4.7h-4.7zM259.4 319.7h4.7v4.7h-4.7zM243.0 323.8h4.7v4.7h-4.7zM247.1 323.8h4.7v4.7h-4.7zM345.6 348.3h4.7v4.7h-4.7zM345.6 352.4h4.7v4.7h-4.7zM349.7 352.4h4.7v4.7h-4.7zM353.8 352.4h4.7v4.7h-4.7zM349.7 356.5h4.7v4.7h-4.7zM353.8 356.5h4.7v4.7h-4.7zM325.1 360.5h4.7v4.7h-4.7zM329.2 360.5h4.7v4.7h-4.7zM337.4 360.5h4.7v4.7h-4.7zM341.5 360.5h4.7v4.7h-4.7zM345.6 360.5h4.7v4.7h-4.7zM349.7 360.5h4.7v4.7h-4.7zM353.8 360.5h4.7v4.7h-4.7zM312.8 364.6h4.7v4.7h-4.7zM316.9 364.6h4.7v4.7h-4.7zM329.2 364.6h4.7v4.7h-4.7zM337.4 364.6h4.7v4.7h-4.7zM341.5 364.6h4.7v4.7h-4.7zM345.6 364.6h4.7v4.7h-4.7zM357.9 364.6h4.7v4.7h-4.7zM308.7 368.7h4.7v4.7h-4.7zM316.9 368.7h4.7v4.7h-4.7zM321.0 368.7h4.7v4.7h-4.7zM333.3 368.7h4.7v4.7h-4.7zM337.4 368.7h4.7v4.7h-4.7zM353.8 368.7h4.7v4.7h-4.7zM357.9 368.7h4.7v4.7h-4.7zM288.1 372.8h4.7v4.7h-4.7zM296.3 372.8h4.7v4.7h-4.7zM300.4 372.8h4.7v4.7h-4.7zM308.7 372.8h4.7v4.7h-4.7zM316.9 372.8h4.7v4.7h-4.7zM329.2 372.8h4.7v4.7h-4.7zM337.4 372.8h4.7v4.7h-4.7zM345.6 372.8h4.7v4.7h-4.7zM357.9 372.8h4.7v4.7h-4.7zM279.9 376.9h4.7v4.7h-4.7zM284.0 376.9h4.7v4.7h-4.7zM288.1 376.9h4.7v4.7h-4.7zM296.3 376.9h4.7v4.7h-4.7zM304.6 376.9h4.7v4.7h-4.7zM329.2 376.9h4.7v4.7h-4.7zM341.5 376.9h4.7v4.7h-4.7zM353.8 376.9h4.7v4.7h-4.7zM279.9 381.0h4.7v4.7h-4.7zM284.0 381.0h4.7v4.7h-4.7zM288.1 381.0h4.7v4.7h-4.7zM292.2 381.0h4.7v4.7h-4.7zM316.9 381.0h4.7v4.7h-4.7zM341.5 381.0h4.7v4.7h-4.7zM353.8 381.0h4.7v4.7h-4.7zM267.6 385.0h4.7v4.7h-4.7zM271.7 385.0h4.7v4.7h-4.7zM275.8 385.0h4.7v4.7h-4.7zM279.9 385.0h4.7v4.7h-4.7zM292.2 385.0h4.7v4.7h-4.7zM304.6 385.0h4.7v4.7h-4.7zM308.7 385.0h4.7v4.7h-4.7zM316.9 385.0h4.7v4.7h-4.7zM325.1 385.0h4.7v4.7h-4.7zM337.4 385.0h4.7v4.7h-4.7zM349.7 385.0h4.7v4.7h-4.7zM357.9 385.0h4.7v4.7h-4.7zM247.1 389.1h4.7v4.7h-4.7zM251.2 389.1h4.7v4.7h-4.7zM255.3 389.1h4.7v4.7h-4.7zM267.6 389.1h4.7v4.7h-4.7zM271.7 389.1h4.7v4.7h-4.7zM284.0 389.1h4.7v4.7h-4.7zM292.2 389.1h4.7v4.7h-4.7zM296.3 389.1h4.7v4.7h-4.7zM300.4 389.1h4.7v4.7h-4.7zM337.4 389.1h4.7v4.7h-4.7zM357.9 389.1h4.7v4.7h-4.7z"/>
<path fill="#0000c0" d="M321.0 283.0h4.7v4.7h-4.7zM341.5 283.0h4.7v4.7h-4.7zM345.6 283.0h4.7v4.7h-4.7zM337.4 287.1h4.7v4.7h-4.7zM341.5 287.1h4.7v4.7h-4.7zM345.6 287.1h4.7v4.7h-4.7zM321.0 291.2h4.7v4.7h-4.7zM329.2 295.2h4.7v4.7h-4.7zM308.7 299.3h4.7v4.7h-4.7zM316.9 299.3h4.7v4.7h-4.7zM296.3 303.4h4.7v4.7h-4.7zM300.4 303.4h4.7v4.7h-4.7zM304.6 303.4h4.7v4.7h-4.7zM308.7 303.4h4.7v4.7h-4.7zM275.8 307.5h4.7v4.7h-4.7zM279.9 307.5h4.7v4.7h-4.7zM284.0 307.5h4.7v4.7h-4.7zM292.2 307.5h4.7v4.7h-4.7zM304.6 307.5h4.7v4.7h-4.7zM271.7 311.6h4.7v4.7h-4.7zM247.1 315.7h4.7v4.7h-4.7zM263.5 315.7h4.7v4.7h-4.7zM271.7 315.7h4.7v4.7h-4.7zM275.8 315.7h4.7v4.7h-4.7zM279.9 315.7h4.7v4.7h-4.7zM243.0 319.7h4.7v4.7h-4.7zM263.5 319.7h4.7v4.7h-4.7zM267.6 319.7h4.7v4.7h-4.7zM251.2 323.8h4.7v4.7h-4.7zM255.3 323.8h4.7v4.7h-4.7zM243.0 327.9h4.7v4.7h-4.7zM247.1 327.9h4.7v4.7h-4.7zM247.1 332.0h4.7v4.7h-4.7zM357.9 336.1h4.7v4.7h-4.7zM353.8 344.2h4.7v4.7h-4.7zM357.9 344.2h4.7v4.7h-4.7zM349.7 348.3h4.7v4.7h-4.7zM353.8 348.3h4.7v4.7h-4.7zM337.4 352.4h4.7v4.7h-4.7zM341.5 352.4h4.7v4.7h-4.7zM357.9 352.4h4.7v4.7h-4.7zM333.3 356.5h4.7v4.7h-4.7zM337.4 356.5h4.7v4.7h-4.7zM341.5 356.5h4.7v4.7h-4.7zM345.6 356.5h4.7v4.7h-4.7zM308.7 360.5h4.7v4.7h-4.7zM316.9 360.5h4.7v4.7h-4.7zM321.0 360.5h4.7v4.7h-4.7zM333.3 360.5h4.7v4.7h-4.7zM300.4 364.6h4.7v4.7h-4.7zM304.6 364.6h4.7v4.7h-4.7zM321.0 364.6h4.7v4.7h-4.7zM333.3 364.6h4.7v4.7h-4.7zM300.4 368.7h4.7v4.7h-4.7zM304.6 368.7h4.7v4.7h-4.7zM312.8 368.7h4.7v4.7h-4.7zM275.8 372.8h4.7v4.7h-4.7zM279.9 372.8h4.7v4.7h-4.7zM284.0 372.8h4.7v4.7h-4.7zM292.2 372.8h4.7v4.7h-4.7zM267.6 381.0h4.7v4.7h-4.7zM271.7 381.0h4.7v4.7h-4.7zM275.8 381.0h4.7v4.7h-4.7zM255.3 385.0h4.7v4.7h-4.7zM259.4 385.0h4.7v4.7h-4.7zM259.4 389.1h4.7v4.7h-4.7zM263.5 389.1h4.7v4.7h-4.7z"/>
<path fill="#0000d0" d="M349.7 283.0h4.7v4.7h-4.7zM353.8 283.0h4.7v4.7h-4.7zM349.7 287.1h4.7v4.7h-4.7zM353.8 287.1h4.7v4.7h-4.7zM337.4 291.2h4.7v4.7h-4.7zM341.5 291.2h4.7v4.7h-4.7zM333.3 295.2h4.7v4.7h-4.7zM312.8 299.3h4.7v4.7h-4.7zM321.0 299.3h4.7v4.7h-4.7zM325.1 299.3h4.7v4.7h-4.7zM312.8 303.4h4.7v4.7h-4.7zM316.9 303.4h4.7v4.7h-4.7zM296.3 307.5h4.7v4.7h-4.7zM300.4 307.5h4.7v4.7h-4.7zM308.7 307.5h4.7v4.7h-4.7zM312.8 307.5h4.7v4.7h-4.7zM279.9 311.6h4.7v4.7h-4.7zM284.0 311.6h4.7v4.7h-4.7zM288.1 311.6h4.7v4.7h-4.7zM292.2 311.6h4.7v4.7h-4.7zM267.6 315.7h4.7v4.7h-4.7zM284.0 315.7h4.7v4.7h-4.7zM259.4 323.8h4.7v4.7h-4.7zM263.5 323.8h4.7v4.7h-4.7zM251.2 327.9h4.7v4.7h-4.7zM255.3 327.9h4.7v4.7h-4.7zM259.4 327.9h4.7v4.7h-4.7zM263.5 327.9h4.7v4.7h-4.7zM243.0 332.0h4.7v4.7h-4.7zM243.0 336.1h4.7v4.7h-4.7zM247.1 336.1h4.7v4.7h-4.7zM243.0 340.1h4.7v4.7h-4.7zM349.7 340.1h4.7v4.7h-4.7zM353.8 340.1h4.7v4.7h-4.7zM357.9 340.1h4.7v4.7h-4.7zM341.5 344.2h4.7v4.7h-4.7zM345.6 344.2h4.7v4.7h-4.7zM349.7 344.2h4.7v4.7h-4.7zM337.4 348.3h4.7v4.7h-4.7zM341.5 348.3h4.7v4.7h-4.7zM325.1 352.4h4.7v4.7h-4.7zM329.2 352.4h4.7v4.7h-4.7zM333.3 352.4h4.7v4.7h-4.7zM316.9 356.5h4.7v4.7h-4.7zM321.0 356.5h4.7v4.7h-4.7zM325.1 356.5h4.7v4.7h-4.7zM329.2 356.5h4.7v4.7h-4.7zM304.6 360.5h4.7v4.7h-4.7zM312.8 360.5h4.7v4.7h-4.7zM296.3 364.6h4.7v4.7h-4.7zM284.0 368.7h4.7v4.7h-4.7zM288.1 368.7h4.7v4.7h-4.7zM292.2 368.7h4.7v4.7h-4.7zM296.3 368.7h4.7v4.7h-4.7zM271.7 372.8h4.7v4.7h-4.7zM259.4 376.9h4.7v4.7h-4.7zM267.6 376.9h4.7v4.7h-4.7zM271.7 376.9h4.7v4.7h-4.7zM275.8 376.9h4.7v4.7h-4.7zM255.3 381.0h4.7v4.7h-4.7zM263.5 381.0h4.7v4.7h-4.7zM251.2 385.0h4.7v4.7h-4.7zM263.5 385.0h4.7v4.7h-4.7zM243.0 389.1h4.7v4.7h-4.7z"/>
<path fill="#0000e1" d="M357.9 283.0h4.7v4.7h-4.7zM357.9 287.1h4.7v4.7h-4.7zM345.6 291.2h4.7v4.7h-4.7zM349.7 291.2h4.7v4.7h-4.7zM337.4 295.2h4.7v4.7h-4.7zM341.5 295.2h4.7v4.7h-4.7zM345.6 295.2h4.7v4.7h-4.7zM329.2 299.3h4.7v4.7h-4.7zM316.9 307.5h4.7v4.7h-4.7zM296.3 311.6h4.7v4.7h-4.7zM300.4 311.6h4.7v4.7h-4.7zM288.1 315.7h4.7v4.7h-4.7zM292.2 315.7h4.7v4.7h-4.7zM271.7 319.7h4.7v4.7h-4.7zM275.8 319.7h4.7v4.7h-4.7zM279.9 319.7h4.7v4.7h-4.7zM267.6 323.8h4.7v4.7h-4.7zM271.7 323.8h4.7v4.7h-4.7zM251.2 332.0h4.7v4.7h-4.7zM255.3 332.0h4.7v4.7h-4.7zM357.9 332.0h4.7v4.7h-4.7zM251.2 336.1h4.7v4.7h-4.7zM349.7 336.1h4.7v4.7h-4.7zM353.8 336.1h4.7v4.7h-4.7zM345.6 340.1h4.7v4.7h-4.7zM337.4 344.2h4.7v4.7h-4.7zM333.3 348.3h4.7v4.7h-4.7zM296.3 360.5h4.7v4.7h-4.7zM300.4 360.5h4.7v4.7h-4.7zM288.1 364.6h4.7v4.7h-4.7zM275.8 368.7h4.7v4.7h-4.7zM279.9 368.7h4.7v4.7h-4.7zM267.6 372.8h4.7v4.7h-4.7zM263.5 376.9h4.7v4.7h-4.7zM251.2 381.0h4.7v4.7h-4.7zM259.4 381.0h4.7v4.7h-4.7zM243.0 385.0h4.7v4.7h-4.7zM247.1 385.0h4.7v4.7h-4.7z"/>
<path fill="#0000f1" d="M353.8 291.2h4.7v4.7h-4.7zM333.3 299.3h4.7v4.7h-4.7zM337.4 299.3h4.7v4.7h-4.7zM321.0 303.4h4.7v4.7h-4.7zM325.1 303.4h4.7v4.7h-4.7zM329.2 303.4h4.7v4.7h-4.7zM304.6 311.6h4.7v4.7h-4.7zM308.7 311.6h4.7v4.7h-4.7zM300.4 315.7h4.7v4.7h-4.7zM284.0 319.7h4.7v4.7h-4.7zM288.1 319.7h4.7v4.7h-4.7zM275.8 323.8h4.7v4.7h-4.7zM267.6 327.9h4.7v4.7h-4.7zM271.7 327.9h4.7v4.7h-4.7zM357.9 327.9h4.7v4.7h-4.7zM353.8 332.0h4.7v4.7h-4.7zM345.6 336.1h4.7v4.7h-4.7zM247.1 340.1h4.7v4.7h-4.7zM251.2 340.1h4.7v4.7h-4.7zM341.5 340.1h4.7v4.7h-4.7zM243.0 344.2h4.7v4.7h-4.7zM333.3 344.2h4.7v4.7h-4.7zM243.0 348.3h4.7v4.7h-4.7zM325.1 348.3h4.7v4.7h-4.7zM329.2 348.3h4.7v4.7h-4.7zM316.9 352.4h4.7v4.7h-4.7zM321.0 352.4h4.7v4.7h-4.7zM312.8 356.5h4.7v4.7h-4.7zM292.2 360.5h4.7v4.7h-4.7zM284.0 364.6h4.7v4.7h-4.7zM292.2 364.6h4.7v4.7h-4.7zM263.5 372.8h4.7v4.7h-4.7zM251.2 376.9h4.7v4.7h-4.7zM243.0 381.0h4.7v4.7h-4.7zM247.1 381.0h4.7v4.7h-4.7z"/>
<path fill="#0002ff" d="M357.9 291.2h4.7v4.7h-4.7zM341.5 299.3h4.7v4.7h-4.7zM333.3 303.4h4.7v4.7h-4.7zM312.8 311.6h4.7v4.7h-4.7zM296.3 315.7h4.7v4.7h-4.7zM357.9 323.8h4.7v4.7h-4.7zM353.8 327.9h4.7v4.7h-4.7zM259.4 332.0h4.7v4.7h-4.7zM263.5 332.0h4.7v4.7h-4.7zM349.7 332.0h4.7v4.7h-4.7zM255.3 336.1h4.7v4.7h-4.7zM259.4 336.1h4.7v4.7h-4.7zM337.4 340.1h4.7v4.7h-4.7zM316.9 348.3h4.7v4.7h-4.7zM321.0 348.3h4.7v4.7h-4.7zM312.8 352.4h4.7v4.7h-4.7zM296.3 356.5h4.7v4.7h-4.7zM304.6 356.5h4.7v4.7h-4.7zM308.7 356.5h4.7v4.7h-4.7zM288.1 360.5h4.7v4.7h-4.7zM279.9 364.6h4.7v4.7h-4.7zM267.6 368.7h4.7v4.7h-4.7zM271.7 368.7h4.7v4.7h-4.7zM255.3 376.9h4.7v4.7h-4.7z"/>
<path fill="#0012ff" d="M349.7 295.2h4.7v4.7h-4.7zM353.8 295.2h4.7v4.7h-4.7zM321.0 307.5h4.7v4.7h-4.7zM325.1 307.5h4.7v4.7h-4.7zM329.2 307.5h4.7v4.7h-4.7zM316.9 311.6h4.7v4.7h-4.7zM304.6 315.7h4.7v4.7h-4.7zM292.2 319.7h4.7v4.7h-4.7zM296.3 319.7h4.7v4.7h-4.7zM279.9 323.8h4.7v4.7h-4.7zM284.0 323.8h4.7v4.7h-4.7zM275.8 327.9h4.7v4.7h-4.7zM267.6 332.0h4.7v4.7h-4.7zM345.6 332.0h4.7v4.7h-4.7zM341.5 336.1h4.7v4.7h-4.7zM255.3 340.1h4.7v4.7h-4.7zM333.3 340.1h4.7v4.7h-4.7zM247.1 344.2h4.7v4.7h-4.7zM325.1 344.2h4.7v4.7h-4.7zM329.2 344.2h4.7v4.7h-4.7zM247.1 348.3h4.7v4.7h-4.7zM300.4 356.5h4.7v4.7h-4.7zM275.8 364.6h4.7v4.7h-4.7zM255.3 372.8h4.7v4.7h-4.7zM259.4 372.8h4.7v4.7h-4.7zM247.1 376.9h4.7v4.7h-4.7z"/>
<path fill="#0022ff" d="M357.9 295.2h4.7v4.7h-4.7zM345.6 299.3h4.7v4.7h-4.7zM337.4 303.4h4.7v4.7h-4.7zM308.7 315.7h4.7v4.7h-4.7zM288.1 323.8h4.7v4.7h-4.7zM349.7 327.9h4.7v4.7h-4.7zM271.7 332.0h4.7v4.7h-4.7zM341.5 332.0h4.7v4.7h-4.7zM263.5 336.1h4.7v4.7h-4.7zM337.4 336.1h4.7v4.7h-4.7zM251.2 344.2h4.7v4.7h-4.7zM304.6 352.4h4.7v4.7h-4.7zM308.7 352.4h4.7v4.7h-4.7zM292.2 356.5h4.7v4.7h-4.7zM284.0 360.5h4.7v4.7h-4.7zM271.7 364.6h4.7v4.7h-4.7zM243.0 376.9h4.7v4.7h-4.7z"/>
<path fill="#0033ff" d="M349.7 299.3h4.7v4.7h-4.7zM353.8 299.3h4.7v4.7h-4.7zM341.5 303.4h4.7v4.7h-4.7zM333.3 307.5h4.7v4.7h-4.7zM321.0 311.6h4.7v4.7h-4.7zM300.4 319.7h4.7v4.7h-4.7zM357.9 319.7h4.7v4.7h-4.7zM349.7 323.8h4.7v4.7h-4.7zM353.8 323.8h4.7v4.7h-4.7zM279.9 327.9h4.7v4.7h-4.7zM337.4 332.0h4.7v4.7h-4.7zM267.6 336.1h4.7v4.7h-4.7zM259.4 340.1h4.7v4.7h-4.7zM329.2 340.1h4.7v4.7h-4.7zM255.3 344.2h4.7v4.7h-4.7zM321.0 344.2h4.7v4.7h-4.7zM308.7 348.3h4.7v4.7h-4.7zM312.8 348.3h4.7v4.7h-4.7zM243.0 352.4h4.7v4.7h-4.7zM300.4 352.4h4.7v4.7h-4.7zM288.1 356.5h4.7v4.7h-4.7zM275.8 360.5h4.7v4.7h-4.7zM279.9 360.5h4.7v4.7h-4.7zM255.3 368.7h4.7v4.7h-4.7zM259.4 368.7h4.7v4.7h-4.7zM263.5 368.7h4.7v4.7h-4.7zM251.2 372.8h4.7v4.7h-4.7z"/>
<path fill="#0053ff" d="M357.9 299.3h4.7v4.7h-4.7zM349.7 303.4h4.7v4.7h-4.7zM337.4 307.5h4.7v4.7h-4.7zM325.1 311.6h4.7v4.7h-4.7zM329.2 311.6h4.7v4.7h-4.7zM321.0 315.7h4.7v4.7h-4.7zM308.7 319.7h4.7v4.7h-4.7zM349.7 319.7h4.7v4.7h-4.7zM353.8 319.7h4.7v4.7h-4.7zM288.1 327.9h4.7v4.7h-4.7zM341.5 327.9h4.7v4.7h-4.7zM329.2 336.1h4.7v4.7h-4.7zM259.4 344.2h4.7v4.7h-4.7zM312.8 344.2h4.7v4.7h-4.7zM304.6 348.3h4.7v4.7h-4.7zM292.2 352.4h4.7v4.7h-4.7zM284.0 356.5h4.7v4.7h-4.7zM263.5 364.6h4.7v4.7h-4.7zM243.0 372.8h4.7v4.7h-4.7z"/>
<path fill="#0043ff" d="M345.6 303.4h4.7v4.7h-4.7zM312.8 315.7h4.7v4.7h-4.7zM304.6 319.7h4.7v4.7h-4.7zM292.2 323.8h4.7v4.7h-4.7zM284.0 327.9h4.7v4.7h-4.7zM345.6 327.9h4.7v4.7h-4.7zM275.8 332.0h4.7v4.7h-4.7zM271.7 336.1h4.7v4.7h-4.7zM333.3 336.1h4.7v4.7h-4.7zM263.5 340.1h4.7v4.7h-4.7zM325.1 340.1h4.7v4.7h-4.7zM316.9 344.2h4.7v4.7h-4.7zM251.2 348.3h4.7v4.7h-4.7zM255.3 348.3h4.7v4.7h-4.7zM247.1 352.4h4.7v4.7h-4.7zM296.3 352.4h4.7v4.7h-4.7zM267.6 364.6h4.7v4.7h-4.7zM247.1 372.8h4.7v4.7h-4.7z"/>
<path fill="#0073ff" d="M353.8 303.4h4.7v4.7h-4.7zM333.3 311.6h4.7v4.7h-4.7zM357.9 311.6h4.7v4.7h-4.7zM325.1 315.7h4.7v4.7h-4.7zM353.8 315.7h4.7v4.7h-4.7zM341.5 323.8h4.7v4.7h-4.7zM292.2 327.9h4.7v4.7h-4.7zM329.2 332.0h4.7v4.7h-4.7zM263.5 344.2h4.7v4.7h-4.7zM259.4 348.3h4.7v4.7h-4.7zM255.3 352.4h4.7v4.7h-4.7zM247.1 356.5h4.7v4.7h-4.7zM275.8 356.5h4.7v4.7h-4.7zM279.9 356.5h4.7v4.7h-4.7zM243.0 360.5h4.7v4.7h-4.7zM267.6 360.5h4.7v4.7h-4.7zM255.3 364.6h4.7v4.7h-4.7z"/>
<path fill="#0084ff" d="M357.9 303.4h4.7v4.7h-4.7zM345.6 307.5h4.7v4.7h-4.7zM349.7 307.5h4.7v4.7h-4.7zM353.8 307.5h4.7v4.7h-4.7zM337.4 311.6h4.7v4.7h-4.7zM353.8 311.6h4.7v4.7h-4.7zM349.7 315.7h4.7v4.7h-4.7zM345.6 319.7h4.7v4.7h-4.7zM304.6 323.8h4.7v4.7h-4.7zM333.3 327.9h4.7v4.7h-4.7zM284.0 332.0h4.7v4.7h-4.7zM275.8 336.1h4.7v4.7h-4.7zM325.1 336.1h4.7v4.7h-4.7zM271.7 340.1h4.7v4.7h-4.7zM316.9 340.1h4.7v4.7h-4.7zM267.6 344.2h4.7v4.7h-4.7zM308.7 344.2h4.7v4.7h-4.7zM288.1 352.4h4.7v4.7h-4.7zM251.2 356.5h4.7v4.7h-4.7zM247.1 360.5h4.7v4.7h-4.7zM243.0 364.6h4.7v4.7h-4.7zM243.0 368.7h4.7v4.7h-4.7z"/>
<path fill="#0063ff" d="M341.5 307.5h4.7v4.7h-4.7zM316.9 315.7h4.7v4.7h-4.7zM357.9 315.7h4.7v4.7h-4.7zM312.8 319.7h4.7v4.7h-4.7zM296.3 323.8h4.7v4.7h-4.7zM300.4 323.8h4.7v4.7h-4.7zM345.6 323.8h4.7v4.7h-4.7zM337.4 327.9h4.7v4.7h-4.7zM279.9 332.0h4.7v4.7h-4.7zM333.3 332.0h4.7v4.7h-4.7zM267.6 340.1h4.7v4.7h-4.7zM321.0 340.1h4.7v4.7h-4.7zM300.4 348.3h4.7v4.7h-4.7zM251.2 352.4h4.7v4.7h-4.7zM243.0 356.5h4.7v4.7h-4.7zM271.7 360.5h4.7v4.7h-4.7zM259.4 364.6h4.7v4.7h-4.7zM247.1 368.7h4.7v4.7h-4.7zM251.2 368.7h4.7v4.7h-4.7z"/>
<path fill="#0094ff" d="M357.9 307.5h4.7v4.7h-4.7zM341.5 311.6h4.7v4.7h-4.7zM345.6 311.6h4.7v4.7h-4.7zM349.7 311.6h4.7v4.7h-4.7zM329.2 315.7h4.7v4.7h-4.7zM316.9 319.7h4.7v4.7h-4.7zM337.4 323.8h4.7v4.7h-4.7zM296.3 327.9h4.7v4.7h-4.7zM288.1 332.0h4.7v4.7h-4.7zM279.9 336.1h4.7v4.7h-4.7zM321.0 336.1h4.7v4.7h-4.7zM312.8 340.1h4.7v4.7h-4.7zM304.6 344.2h4.7v4.7h-4.7zM263.5 348.3h4.7v4.7h-4.7zM296.3 348.3h4.7v4.7h-4.7zM284.0 352.4h4.7v4.7h-4.7zM271.7 356.5h4.7v4.7h-4.7zM251.2 360.5h4.7v4.7h-4.7zM259.4 360.5h4.7v4.7h-4.7zM263.5 360.5h4.7v4.7h-4.7zM247.1 364.6h4.7v4.7h-4.7zM251.2 364.6h4.7v4.7h-4.7z"/>
<path fill="#00a4ff" d="M333.3 315.7h4.7v4.7h-4.7zM337.4 315.7h4.7v4.7h-4.7zM341.5 315.7h4.7v4.7h-4.7zM345.6 315.7h4.7v4.7h-4.7zM321.0 319.7h4.7v4.7h-4.7zM341.5 319.7h4.7v4.7h-4.7zM333.3 323.8h4.7v4.7h-4.7zM325.1 332.0h4.7v4.7h-4.7zM284.0 336.1h4.7v4.7h-4.7zM275.8 340.1h4.7v4.7h-4.7zM271.7 344.2h4.7v4.7h-4.7zM300.4 344.2h4.7v4.7h-4.7zM292.2 348.3h4.7v4.7h-4.7zM259.4 352.4h4.7v4.7h-4.7zM267.6 356.5h4.7v4.7h-4.7zM255.3 360.5h4.7v4.7h-4.7z"/>
<path fill="#00d4ff" d="M325.1 319.7h4.7v4.7h-4.7zM321.0 323.8h4.7v4.7h-4.7zM325.1 323.8h4.7v4.7h-4.7zM325.1 327.9h4.7v4.7h-4.7zM316.9 332.0h4.7v4.7h-4.7zM288.1 336.1h4.7v4.7h-4.7zM275.8 344.2h4.7v4.7h-4.7zM292.2 344.2h4.7v4.7h-4.7zM271.7 348.3h4.7v4.7h-4.7zM284.0 348.3h4.7v4.7h-4.7z"/>
<path fill="#00b4ff" d="M329.2 319.7h4.7v4.7h-4.7zM333.3 319.7h4.7v4.7h-4.7zM337.4 319.7h4.7v4.7h-4.7zM308.7 323.8h4.7v4.7h-4.7zM312.8 323.8h4.7v4.7h-4.7zM300.4 327.9h4.7v4.7h-4.7zM329.2 327.9h4.7v4.7h-4.7zM292.2 332.0h4.7v4.7h-4.7zM316.9 336.1h4.7v4.7h-4.7zM267.6 348.3h4.7v4.7h-4.7zM263.5 352.4h4.7v4.7h-4.7zM271.7 352.4h4.7v4.7h-4.7zM279.9 352.4h4.7v4.7h-4.7zM255.3 356.5h4.7v4.7h-4.7zM259.4 356.5h4.7v4.7h-4.7zM263.5 356.5h4.7v4.7h-4.7z"/>
<path fill="#00c4ff" d="M316.9 323.8h4.7v4.7h-4.7zM329.2 323.8h4.7v4.7h-4.7zM304.6 327.9h4.7v4.7h-4.7zM321.0 332.0h4.7v4.7h-4.7zM312.8 336.1h4.7v4.7h-4.7zM279.9 340.1h4.7v4.7h-4.7zM308.7 340.1h4.7v4.7h-4.7zM296.3 344.2h4.7v4.7h-4.7zM288.1 348.3h4.7v4.7h-4.7zM267.6 352.4h4.7v4.7h-4.7zM275.8 352.4h4.7v4.7h-4.7z"/>
<path fill="#00e5ff" d="M308.7 327.9h4.7v4.7h-4.7zM312.8 327.9h4.7v4.7h-4.7zM321.0 327.9h4.7v4.7h-4.7zM284.0 340.1h4.7v4.7h-4.7zM304.6 340.1h4.7v4.7h-4.7zM279.9 344.2h4.7v4.7h-4.7zM275.8 348.3h4.7v4.7h-4.7zM279.9 348.3h4.7v4.7h-4.7z"/>
<path fill="#00f5ff" d="M316.9 327.9h4.7v4.7h-4.7zM284.0 344.2h4.7v4.7h-4.7z"/>
<path fill="#57ffa8" d="M296.3 332.0h4.7v4.7h-4.7zM304.6 332.0h4.7v4.7h-4.7zM308.7 336.1h4.7v4.7h-4.7zM300.4 340.1h4.7v4.7h-4.7z"/>
<path fill="#47ffb8" d="M300.4 332.0h4.7v4.7h-4.7zM308.7 332.0h4.7v4.7h-4.7zM312.8 332.0h4.7v4.7h-4.7zM292.2 336.1h4.7v4.7h-4.7zM288.1 340.1h4.7v4.7h-4.7zM292.2 340.1h4.7v4.7h-4.7zM296.3 340.1h4.7v4.7h-4.7z"/>
<path fill="#d9ff26" d="M296.3 336.1h4.7v4.7h-4.7z"/>
<path fill="#800000" d="M300.4 336.1h4.7v4.7h-4.7z"/>
<path fill="#e9ff16" d="M304.6 336.1h4.7v4.7h-4.7z"/>
<path fill="#06fff9" d="M288.1 344.2h4.7v4.7h-4.7z"/>
</svg>
<polygon points="286.8,342.2 288.5,344.5 292.5,345.0 301.6,343.3 310.8,339.9 315.9,335.9 317.6,333.7 315.9,331.4 313.0,331.0 307.3,332.0 297.1,334.2 292.5,336.5 288.5,339.9" fill="none" stroke="#000" stroke-width="1.25" stroke-linejoin="round"/>
<text x="355.60" y="384.30" font-size="18" text-anchor="end" fill="#fff">F</text>
<rect x="243.0" y="283.0" width="119.0" height="110.19999999999999" fill="none" stroke="#444" stroke-width="0.5"/>
<text x="244.50" y="400.50" font-size="5.6" text-anchor="middle" fill="#222" stroke="#222" stroke-width="0.15">−4</text>
<text x="241.00" y="392.72" font-size="5.6" text-anchor="end" fill="#222" stroke="#222" stroke-width="0.15">−4</text>
<text x="258.65" y="400.50" font-size="5.6" text-anchor="middle" fill="#222" stroke="#222" stroke-width="0.15">−3</text>
<text x="241.00" y="379.57" font-size="5.6" text-anchor="end" fill="#222" stroke="#222" stroke-width="0.15">−3</text>
<text x="272.80" y="400.50" font-size="5.6" text-anchor="middle" fill="#222" stroke="#222" stroke-width="0.15">−2</text>
<text x="241.00" y="366.42" font-size="5.6" text-anchor="end" fill="#222" stroke="#222" stroke-width="0.15">−2</text>
<text x="286.95" y="400.50" font-size="5.6" text-anchor="middle" fill="#222" stroke="#222" stroke-width="0.15">−1</text>
<text x="241.00" y="353.27" font-size="5.6" text-anchor="end" fill="#222" stroke="#222" stroke-width="0.15">−1</text>
<text x="302.50" y="400.50" font-size="5.6" text-anchor="middle" fill="#222" stroke="#222" stroke-width="0.15">0</text>
<text x="241.00" y="340.12" font-size="5.6" text-anchor="end" fill="#222" stroke="#222" stroke-width="0.15">0</text>
<text x="316.65" y="400.50" font-size="5.6" text-anchor="middle" fill="#222" stroke="#222" stroke-width="0.15">1</text>
<text x="241.00" y="326.97" font-size="5.6" text-anchor="end" fill="#222" stroke="#222" stroke-width="0.15">1</text>
<text x="330.80" y="400.50" font-size="5.6" text-anchor="middle" fill="#222" stroke="#222" stroke-width="0.15">2</text>
<text x="241.00" y="313.82" font-size="5.6" text-anchor="end" fill="#222" stroke="#222" stroke-width="0.15">2</text>
<text x="344.95" y="400.50" font-size="5.6" text-anchor="middle" fill="#222" stroke="#222" stroke-width="0.15">3</text>
<text x="241.00" y="300.67" font-size="5.6" text-anchor="end" fill="#222" stroke="#222" stroke-width="0.15">3</text>
<text x="359.10" y="400.50" font-size="5.6" text-anchor="middle" fill="#222" stroke="#222" stroke-width="0.15">4</text>
<text x="241.00" y="287.52" font-size="5.6" text-anchor="end" fill="#222" stroke="#222" stroke-width="0.15">4</text>
<text x="302.00" y="406.70" font-size="5.9" text-anchor="middle" fill="#222" stroke="#222" stroke-width="0.15">Spatial lag (km)</text>
<text x="231.50" y="338.10" font-size="5.9" text-anchor="middle" fill="#222" stroke="#222" stroke-width="0.15" transform="rotate(-90 231.5 338.1)">Spatial lag (km)</text>
<rect x="368.0" y="283.0" width="7.600000000000023" height="110.19999999999999" fill="url(#jet)"/>
<rect x="368.0" y="283.0" width="7.600000000000023" height="110.19999999999999" fill="none" stroke="#444" stroke-width="0.5"/>
<line x1="375.6" y1="393.20" x2="374.40000000000003" y2="393.20" stroke="#444" stroke-width="0.5"/>
<line x1="368.0" y1="393.20" x2="369.2" y2="393.20" stroke="#444" stroke-width="0.5"/>
<text x="377.00" y="395.25" font-size="5.7" text-anchor="start" fill="#222" stroke="#222" stroke-width="0.15">0</text>
<line x1="375.6" y1="371.16" x2="374.40000000000003" y2="371.16" stroke="#444" stroke-width="0.5"/>
<line x1="368.0" y1="371.16" x2="369.2" y2="371.16" stroke="#444" stroke-width="0.5"/>
<text x="377.00" y="373.21" font-size="5.7" text-anchor="start" fill="#222" stroke="#222" stroke-width="0.15">0.2</text>
<line x1="375.6" y1="349.12" x2="374.40000000000003" y2="349.12" stroke="#444" stroke-width="0.5"/>
<line x1="368.0" y1="349.12" x2="369.2" y2="349.12" stroke="#444" stroke-width="0.5"/>
<text x="377.00" y="351.17" font-size="5.7" text-anchor="start" fill="#222" stroke="#222" stroke-width="0.15">0.4</text>
<line x1="375.6" y1="327.08" x2="374.40000000000003" y2="327.08" stroke="#444" stroke-width="0.5"/>
<line x1="368.0" y1="327.08" x2="369.2" y2="327.08" stroke="#444" stroke-width="0.5"/>
<text x="377.00" y="329.13" font-size="5.7" text-anchor="start" fill="#222" stroke="#222" stroke-width="0.15">0.6</text>
<line x1="375.6" y1="305.04" x2="374.40000000000003" y2="305.04" stroke="#444" stroke-width="0.5"/>
<line x1="368.0" y1="305.04" x2="369.2" y2="305.04" stroke="#444" stroke-width="0.5"/>
<text x="377.00" y="307.09" font-size="5.7" text-anchor="start" fill="#222" stroke="#222" stroke-width="0.15">0.8</text>
<line x1="375.6" y1="283.00" x2="374.40000000000003" y2="283.00" stroke="#444" stroke-width="0.5"/>
<line x1="368.0" y1="283.00" x2="369.2" y2="283.00" stroke="#444" stroke-width="0.5"/>
<text x="377.00" y="285.05" font-size="5.7" text-anchor="start" fill="#222" stroke="#222" stroke-width="0.15">1</text>
<text x="391.50" y="338.10" font-size="5.9" text-anchor="middle" fill="#222" stroke="#222" stroke-width="0.15" transform="rotate(-90 391.5 338.1)">Autocorrelation</text>
<rect x="243.0" y="421.5" width="119.0" height="110.10000000000002" fill="#0000e6"/>
<svg x="243.0" y="421.5" width="119.0" height="110.10000000000002" viewBox="243.0 421.5 119.0 110.10000000000002" overflow="hidden">
<path fill="#0000d0" d="M243.0 421.5h4.7v4.7h-4.7zM247.1 421.5h4.7v4.7h-4.7zM255.3 421.5h4.7v4.7h-4.7zM247.1 425.6h4.7v4.7h-4.7zM251.2 425.6h4.7v4.7h-4.7zM243.0 429.7h4.7v4.7h-4.7zM247.1 429.7h4.7v4.7h-4.7zM243.0 437.8h4.7v4.7h-4.7zM357.9 519.4h4.7v4.7h-4.7zM341.5 523.4h4.7v4.7h-4.7zM353.8 523.4h4.7v4.7h-4.7zM357.9 523.4h4.7v4.7h-4.7zM337.4 527.5h4.7v4.7h-4.7zM349.7 527.5h4.7v4.7h-4.7zM353.8 527.5h4.7v4.7h-4.7zM357.9 527.5h4.7v4.7h-4.7z"/>
<path fill="#0000e1" d="M251.2 421.5h4.7v4.7h-4.7zM259.4 421.5h4.7v4.7h-4.7zM263.5 421.5h4.7v4.7h-4.7zM267.6 421.5h4.7v4.7h-4.7zM271.7 421.5h4.7v4.7h-4.7zM275.8 421.5h4.7v4.7h-4.7zM243.0 425.6h4.7v4.7h-4.7zM255.3 425.6h4.7v4.7h-4.7zM259.4 425.6h4.7v4.7h-4.7zM263.5 425.6h4.7v4.7h-4.7zM267.6 425.6h4.7v4.7h-4.7zM271.7 425.6h4.7v4.7h-4.7zM251.2 429.7h4.7v4.7h-4.7zM255.3 429.7h4.7v4.7h-4.7zM243.0 433.7h4.7v4.7h-4.7zM247.1 433.7h4.7v4.7h-4.7zM251.2 433.7h4.7v4.7h-4.7zM247.1 437.8h4.7v4.7h-4.7zM251.2 437.8h4.7v4.7h-4.7zM243.0 441.9h4.7v4.7h-4.7zM357.9 503.1h4.7v4.7h-4.7zM345.6 511.2h4.7v4.7h-4.7zM353.8 511.2h4.7v4.7h-4.7zM357.9 511.2h4.7v4.7h-4.7zM345.6 515.3h4.7v4.7h-4.7zM349.7 515.3h4.7v4.7h-4.7zM353.8 515.3h4.7v4.7h-4.7zM357.9 515.3h4.7v4.7h-4.7zM341.5 519.4h4.7v4.7h-4.7zM345.6 519.4h4.7v4.7h-4.7zM349.7 519.4h4.7v4.7h-4.7zM353.8 519.4h4.7v4.7h-4.7zM333.3 523.4h4.7v4.7h-4.7zM337.4 523.4h4.7v4.7h-4.7zM345.6 523.4h4.7v4.7h-4.7zM349.7 523.4h4.7v4.7h-4.7zM329.2 527.5h4.7v4.7h-4.7zM333.3 527.5h4.7v4.7h-4.7zM341.5 527.5h4.7v4.7h-4.7zM345.6 527.5h4.7v4.7h-4.7z"/>
<path fill="#0000f1" d="M279.9 421.5h4.7v4.7h-4.7zM284.0 421.5h4.7v4.7h-4.7zM288.1 421.5h4.7v4.7h-4.7zM275.8 425.6h4.7v4.7h-4.7zM279.9 425.6h4.7v4.7h-4.7zM284.0 425.6h4.7v4.7h-4.7zM259.4 429.7h4.7v4.7h-4.7zM263.5 429.7h4.7v4.7h-4.7zM267.6 429.7h4.7v4.7h-4.7zM271.7 429.7h4.7v4.7h-4.7zM275.8 429.7h4.7v4.7h-4.7zM255.3 433.7h4.7v4.7h-4.7zM259.4 433.7h4.7v4.7h-4.7zM263.5 433.7h4.7v4.7h-4.7zM271.7 433.7h4.7v4.7h-4.7zM255.3 437.8h4.7v4.7h-4.7zM259.4 437.8h4.7v4.7h-4.7zM263.5 437.8h4.7v4.7h-4.7zM267.6 437.8h4.7v4.7h-4.7zM247.1 441.9h4.7v4.7h-4.7zM251.2 441.9h4.7v4.7h-4.7zM255.3 441.9h4.7v4.7h-4.7zM243.0 446.0h4.7v4.7h-4.7zM247.1 446.0h4.7v4.7h-4.7zM251.2 446.0h4.7v4.7h-4.7zM255.3 446.0h4.7v4.7h-4.7zM243.0 450.0h4.7v4.7h-4.7zM353.8 499.0h4.7v4.7h-4.7zM357.9 499.0h4.7v4.7h-4.7zM349.7 503.1h4.7v4.7h-4.7zM353.8 503.1h4.7v4.7h-4.7zM337.4 507.1h4.7v4.7h-4.7zM345.6 507.1h4.7v4.7h-4.7zM349.7 507.1h4.7v4.7h-4.7zM353.8 507.1h4.7v4.7h-4.7zM357.9 507.1h4.7v4.7h-4.7zM333.3 511.2h4.7v4.7h-4.7zM337.4 511.2h4.7v4.7h-4.7zM341.5 511.2h4.7v4.7h-4.7zM349.7 511.2h4.7v4.7h-4.7zM329.2 515.3h4.7v4.7h-4.7zM337.4 515.3h4.7v4.7h-4.7zM341.5 515.3h4.7v4.7h-4.7zM329.2 519.4h4.7v4.7h-4.7zM333.3 519.4h4.7v4.7h-4.7zM337.4 519.4h4.7v4.7h-4.7zM321.0 523.4h4.7v4.7h-4.7zM325.1 523.4h4.7v4.7h-4.7zM329.2 523.4h4.7v4.7h-4.7zM312.8 527.5h4.7v4.7h-4.7zM316.9 527.5h4.7v4.7h-4.7zM321.0 527.5h4.7v4.7h-4.7zM325.1 527.5h4.7v4.7h-4.7z"/>
<path fill="#0002ff" d="M292.2 421.5h4.7v4.7h-4.7zM279.9 429.7h4.7v4.7h-4.7zM288.1 429.7h4.7v4.7h-4.7zM267.6 433.7h4.7v4.7h-4.7zM275.8 433.7h4.7v4.7h-4.7zM271.7 437.8h4.7v4.7h-4.7zM275.8 437.8h4.7v4.7h-4.7zM259.4 441.9h4.7v4.7h-4.7zM263.5 441.9h4.7v4.7h-4.7zM259.4 446.0h4.7v4.7h-4.7zM263.5 446.0h4.7v4.7h-4.7zM247.1 450.0h4.7v4.7h-4.7zM251.2 450.0h4.7v4.7h-4.7zM259.4 450.0h4.7v4.7h-4.7zM243.0 454.1h4.7v4.7h-4.7zM247.1 454.1h4.7v4.7h-4.7zM243.0 458.2h4.7v4.7h-4.7zM357.9 490.8h4.7v4.7h-4.7zM349.7 494.9h4.7v4.7h-4.7zM353.8 494.9h4.7v4.7h-4.7zM357.9 494.9h4.7v4.7h-4.7zM345.6 499.0h4.7v4.7h-4.7zM349.7 499.0h4.7v4.7h-4.7zM337.4 503.1h4.7v4.7h-4.7zM341.5 503.1h4.7v4.7h-4.7zM333.3 507.1h4.7v4.7h-4.7zM341.5 507.1h4.7v4.7h-4.7zM329.2 511.2h4.7v4.7h-4.7zM321.0 515.3h4.7v4.7h-4.7zM325.1 515.3h4.7v4.7h-4.7zM333.3 515.3h4.7v4.7h-4.7zM312.8 519.4h4.7v4.7h-4.7zM316.9 519.4h4.7v4.7h-4.7zM321.0 519.4h4.7v4.7h-4.7zM325.1 519.4h4.7v4.7h-4.7zM312.8 523.4h4.7v4.7h-4.7zM316.9 523.4h4.7v4.7h-4.7zM308.7 527.5h4.7v4.7h-4.7z"/>
<path fill="#0012ff" d="M296.3 421.5h4.7v4.7h-4.7zM300.4 421.5h4.7v4.7h-4.7zM304.6 421.5h4.7v4.7h-4.7zM308.7 421.5h4.7v4.7h-4.7zM316.9 421.5h4.7v4.7h-4.7zM288.1 425.6h4.7v4.7h-4.7zM292.2 425.6h4.7v4.7h-4.7zM296.3 425.6h4.7v4.7h-4.7zM300.4 425.6h4.7v4.7h-4.7zM284.0 429.7h4.7v4.7h-4.7zM292.2 429.7h4.7v4.7h-4.7zM296.3 429.7h4.7v4.7h-4.7zM300.4 429.7h4.7v4.7h-4.7zM279.9 433.7h4.7v4.7h-4.7zM284.0 433.7h4.7v4.7h-4.7zM292.2 433.7h4.7v4.7h-4.7zM279.9 437.8h4.7v4.7h-4.7zM288.1 437.8h4.7v4.7h-4.7zM267.6 441.9h4.7v4.7h-4.7zM271.7 441.9h4.7v4.7h-4.7zM284.0 441.9h4.7v4.7h-4.7zM267.6 446.0h4.7v4.7h-4.7zM271.7 446.0h4.7v4.7h-4.7zM255.3 450.0h4.7v4.7h-4.7zM251.2 454.1h4.7v4.7h-4.7zM255.3 454.1h4.7v4.7h-4.7zM259.4 454.1h4.7v4.7h-4.7zM247.1 458.2h4.7v4.7h-4.7zM251.2 458.2h4.7v4.7h-4.7zM243.0 462.3h4.7v4.7h-4.7zM247.1 462.3h4.7v4.7h-4.7zM357.9 486.7h4.7v4.7h-4.7zM349.7 490.8h4.7v4.7h-4.7zM353.8 490.8h4.7v4.7h-4.7zM341.5 494.9h4.7v4.7h-4.7zM345.6 494.9h4.7v4.7h-4.7zM341.5 499.0h4.7v4.7h-4.7zM329.2 503.1h4.7v4.7h-4.7zM333.3 503.1h4.7v4.7h-4.7zM345.6 503.1h4.7v4.7h-4.7zM321.0 507.1h4.7v4.7h-4.7zM325.1 507.1h4.7v4.7h-4.7zM329.2 507.1h4.7v4.7h-4.7zM316.9 511.2h4.7v4.7h-4.7zM321.0 511.2h4.7v4.7h-4.7zM325.1 511.2h4.7v4.7h-4.7zM316.9 515.3h4.7v4.7h-4.7zM300.4 519.4h4.7v4.7h-4.7zM308.7 519.4h4.7v4.7h-4.7zM296.3 523.4h4.7v4.7h-4.7zM304.6 523.4h4.7v4.7h-4.7zM308.7 523.4h4.7v4.7h-4.7zM292.2 527.5h4.7v4.7h-4.7zM296.3 527.5h4.7v4.7h-4.7zM300.4 527.5h4.7v4.7h-4.7zM304.6 527.5h4.7v4.7h-4.7z"/>
<path fill="#0022ff" d="M312.8 421.5h4.7v4.7h-4.7zM321.0 421.5h4.7v4.7h-4.7zM304.6 425.6h4.7v4.7h-4.7zM308.7 425.6h4.7v4.7h-4.7zM304.6 429.7h4.7v4.7h-4.7zM288.1 433.7h4.7v4.7h-4.7zM296.3 433.7h4.7v4.7h-4.7zM284.0 437.8h4.7v4.7h-4.7zM275.8 441.9h4.7v4.7h-4.7zM279.9 441.9h4.7v4.7h-4.7zM275.8 446.0h4.7v4.7h-4.7zM279.9 446.0h4.7v4.7h-4.7zM284.0 446.0h4.7v4.7h-4.7zM263.5 450.0h4.7v4.7h-4.7zM267.6 450.0h4.7v4.7h-4.7zM271.7 450.0h4.7v4.7h-4.7zM267.6 454.1h4.7v4.7h-4.7zM255.3 458.2h4.7v4.7h-4.7zM259.4 458.2h4.7v4.7h-4.7zM251.2 462.3h4.7v4.7h-4.7zM353.8 486.7h4.7v4.7h-4.7zM341.5 490.8h4.7v4.7h-4.7zM345.6 490.8h4.7v4.7h-4.7zM325.1 499.0h4.7v4.7h-4.7zM333.3 499.0h4.7v4.7h-4.7zM337.4 499.0h4.7v4.7h-4.7zM321.0 503.1h4.7v4.7h-4.7zM325.1 503.1h4.7v4.7h-4.7zM312.8 507.1h4.7v4.7h-4.7zM316.9 507.1h4.7v4.7h-4.7zM312.8 511.2h4.7v4.7h-4.7zM304.6 515.3h4.7v4.7h-4.7zM308.7 515.3h4.7v4.7h-4.7zM312.8 515.3h4.7v4.7h-4.7zM304.6 519.4h4.7v4.7h-4.7zM284.0 523.4h4.7v4.7h-4.7zM292.2 523.4h4.7v4.7h-4.7zM300.4 523.4h4.7v4.7h-4.7zM279.9 527.5h4.7v4.7h-4.7zM284.0 527.5h4.7v4.7h-4.7zM288.1 527.5h4.7v4.7h-4.7z"/>
<path fill="#0033ff" d="M325.1 421.5h4.7v4.7h-4.7zM329.2 421.5h4.7v4.7h-4.7zM312.8 425.6h4.7v4.7h-4.7zM316.9 425.6h4.7v4.7h-4.7zM308.7 429.7h4.7v4.7h-4.7zM300.4 433.7h4.7v4.7h-4.7zM304.6 433.7h4.7v4.7h-4.7zM308.7 433.7h4.7v4.7h-4.7zM292.2 437.8h4.7v4.7h-4.7zM296.3 437.8h4.7v4.7h-4.7zM288.1 441.9h4.7v4.7h-4.7zM292.2 441.9h4.7v4.7h-4.7zM275.8 450.0h4.7v4.7h-4.7zM279.9 450.0h4.7v4.7h-4.7zM263.5 454.1h4.7v4.7h-4.7zM275.8 454.1h4.7v4.7h-4.7zM263.5 458.2h4.7v4.7h-4.7zM255.3 462.3h4.7v4.7h-4.7zM243.0 466.4h4.7v4.7h-4.7zM247.1 466.4h4.7v4.7h-4.7zM357.9 482.7h4.7v4.7h-4.7zM349.7 486.7h4.7v4.7h-4.7zM337.4 490.8h4.7v4.7h-4.7zM333.3 494.9h4.7v4.7h-4.7zM337.4 494.9h4.7v4.7h-4.7zM329.2 499.0h4.7v4.7h-4.7zM312.8 503.1h4.7v4.7h-4.7zM316.9 503.1h4.7v4.7h-4.7zM308.7 507.1h4.7v4.7h-4.7zM300.4 511.2h4.7v4.7h-4.7zM304.6 511.2h4.7v4.7h-4.7zM308.7 511.2h4.7v4.7h-4.7zM296.3 515.3h4.7v4.7h-4.7zM300.4 515.3h4.7v4.7h-4.7zM284.0 519.4h4.7v4.7h-4.7zM288.1 519.4h4.7v4.7h-4.7zM292.2 519.4h4.7v4.7h-4.7zM296.3 519.4h4.7v4.7h-4.7zM275.8 523.4h4.7v4.7h-4.7zM288.1 523.4h4.7v4.7h-4.7zM275.8 527.5h4.7v4.7h-4.7z"/>
<path fill="#0043ff" d="M333.3 421.5h4.7v4.7h-4.7zM337.4 421.5h4.7v4.7h-4.7zM321.0 425.6h4.7v4.7h-4.7zM325.1 425.6h4.7v4.7h-4.7zM333.3 425.6h4.7v4.7h-4.7zM312.8 429.7h4.7v4.7h-4.7zM316.9 429.7h4.7v4.7h-4.7zM325.1 429.7h4.7v4.7h-4.7zM312.8 433.7h4.7v4.7h-4.7zM300.4 437.8h4.7v4.7h-4.7zM304.6 437.8h4.7v4.7h-4.7zM296.3 441.9h4.7v4.7h-4.7zM288.1 446.0h4.7v4.7h-4.7zM296.3 446.0h4.7v4.7h-4.7zM284.0 450.0h4.7v4.7h-4.7zM271.7 454.1h4.7v4.7h-4.7zM267.6 458.2h4.7v4.7h-4.7zM259.4 462.3h4.7v4.7h-4.7zM263.5 462.3h4.7v4.7h-4.7zM353.8 482.7h4.7v4.7h-4.7zM345.6 486.7h4.7v4.7h-4.7zM333.3 490.8h4.7v4.7h-4.7zM325.1 494.9h4.7v4.7h-4.7zM329.2 494.9h4.7v4.7h-4.7zM316.9 499.0h4.7v4.7h-4.7zM321.0 499.0h4.7v4.7h-4.7zM308.7 503.1h4.7v4.7h-4.7zM300.4 507.1h4.7v4.7h-4.7zM304.6 507.1h4.7v4.7h-4.7zM292.2 511.2h4.7v4.7h-4.7zM296.3 511.2h4.7v4.7h-4.7zM292.2 515.3h4.7v4.7h-4.7zM275.8 519.4h4.7v4.7h-4.7zM279.9 519.4h4.7v4.7h-4.7zM279.9 523.4h4.7v4.7h-4.7zM267.6 527.5h4.7v4.7h-4.7zM271.7 527.5h4.7v4.7h-4.7z"/>
<path fill="#0053ff" d="M341.5 421.5h4.7v4.7h-4.7zM345.6 421.5h4.7v4.7h-4.7zM349.7 421.5h4.7v4.7h-4.7zM353.8 421.5h4.7v4.7h-4.7zM357.9 421.5h4.7v4.7h-4.7zM329.2 425.6h4.7v4.7h-4.7zM337.4 425.6h4.7v4.7h-4.7zM349.7 425.6h4.7v4.7h-4.7zM321.0 429.7h4.7v4.7h-4.7zM316.9 433.7h4.7v4.7h-4.7zM308.7 437.8h4.7v4.7h-4.7zM300.4 441.9h4.7v4.7h-4.7zM292.2 446.0h4.7v4.7h-4.7zM288.1 450.0h4.7v4.7h-4.7zM279.9 454.1h4.7v4.7h-4.7zM284.0 454.1h4.7v4.7h-4.7zM271.7 458.2h4.7v4.7h-4.7zM275.8 458.2h4.7v4.7h-4.7zM251.2 466.4h4.7v4.7h-4.7zM255.3 466.4h4.7v4.7h-4.7zM357.9 478.6h4.7v4.7h-4.7zM349.7 482.7h4.7v4.7h-4.7zM337.4 486.7h4.7v4.7h-4.7zM341.5 486.7h4.7v4.7h-4.7zM329.2 490.8h4.7v4.7h-4.7zM321.0 494.9h4.7v4.7h-4.7zM312.8 499.0h4.7v4.7h-4.7zM304.6 503.1h4.7v4.7h-4.7zM288.1 511.2h4.7v4.7h-4.7zM279.9 515.3h4.7v4.7h-4.7zM284.0 515.3h4.7v4.7h-4.7zM288.1 515.3h4.7v4.7h-4.7zM271.7 519.4h4.7v4.7h-4.7zM263.5 523.4h4.7v4.7h-4.7zM267.6 523.4h4.7v4.7h-4.7zM271.7 523.4h4.7v4.7h-4.7zM243.0 527.5h4.7v4.7h-4.7zM247.1 527.5h4.7v4.7h-4.7zM251.2 527.5h4.7v4.7h-4.7zM255.3 527.5h4.7v4.7h-4.7zM259.4 527.5h4.7v4.7h-4.7zM263.5 527.5h4.7v4.7h-4.7z"/>
<path fill="#0063ff" d="M341.5 425.6h4.7v4.7h-4.7zM345.6 425.6h4.7v4.7h-4.7zM353.8 425.6h4.7v4.7h-4.7zM357.9 425.6h4.7v4.7h-4.7zM329.2 429.7h4.7v4.7h-4.7zM333.3 429.7h4.7v4.7h-4.7zM337.4 429.7h4.7v4.7h-4.7zM345.6 429.7h4.7v4.7h-4.7zM353.8 429.7h4.7v4.7h-4.7zM357.9 429.7h4.7v4.7h-4.7zM321.0 433.7h4.7v4.7h-4.7zM325.1 433.7h4.7v4.7h-4.7zM312.8 437.8h4.7v4.7h-4.7zM304.6 441.9h4.7v4.7h-4.7zM308.7 441.9h4.7v4.7h-4.7zM312.8 441.9h4.7v4.7h-4.7zM300.4 446.0h4.7v4.7h-4.7zM292.2 450.0h4.7v4.7h-4.7zM296.3 450.0h4.7v4.7h-4.7zM267.6 462.3h4.7v4.7h-4.7zM259.4 466.4h4.7v4.7h-4.7zM243.0 470.4h4.7v4.7h-4.7zM247.1 470.4h4.7v4.7h-4.7zM353.8 478.6h4.7v4.7h-4.7zM345.6 482.7h4.7v4.7h-4.7zM333.3 486.7h4.7v4.7h-4.7zM325.1 490.8h4.7v4.7h-4.7zM316.9 494.9h4.7v4.7h-4.7zM308.7 499.0h4.7v4.7h-4.7zM300.4 503.1h4.7v4.7h-4.7zM288.1 507.1h4.7v4.7h-4.7zM292.2 507.1h4.7v4.7h-4.7zM296.3 507.1h4.7v4.7h-4.7zM284.0 511.2h4.7v4.7h-4.7zM263.5 519.4h4.7v4.7h-4.7zM267.6 519.4h4.7v4.7h-4.7zM243.0 523.4h4.7v4.7h-4.7zM247.1 523.4h4.7v4.7h-4.7zM251.2 523.4h4.7v4.7h-4.7zM255.3 523.4h4.7v4.7h-4.7zM259.4 523.4h4.7v4.7h-4.7z"/>
<path fill="#0073ff" d="M341.5 429.7h4.7v4.7h-4.7zM349.7 429.7h4.7v4.7h-4.7zM329.2 433.7h4.7v4.7h-4.7zM333.3 433.7h4.7v4.7h-4.7zM337.4 433.7h4.7v4.7h-4.7zM341.5 433.7h4.7v4.7h-4.7zM353.8 433.7h4.7v4.7h-4.7zM357.9 433.7h4.7v4.7h-4.7zM316.9 437.8h4.7v4.7h-4.7zM321.0 437.8h4.7v4.7h-4.7zM325.1 437.8h4.7v4.7h-4.7zM329.2 437.8h4.7v4.7h-4.7zM316.9 441.9h4.7v4.7h-4.7zM321.0 441.9h4.7v4.7h-4.7zM304.6 446.0h4.7v4.7h-4.7zM288.1 454.1h4.7v4.7h-4.7zM279.9 458.2h4.7v4.7h-4.7zM263.5 466.4h4.7v4.7h-4.7zM251.2 470.4h4.7v4.7h-4.7zM357.9 474.5h4.7v4.7h-4.7zM349.7 478.6h4.7v4.7h-4.7zM337.4 482.7h4.7v4.7h-4.7zM341.5 482.7h4.7v4.7h-4.7zM316.9 490.8h4.7v4.7h-4.7zM308.7 494.9h4.7v4.7h-4.7zM312.8 494.9h4.7v4.7h-4.7zM304.6 499.0h4.7v4.7h-4.7zM292.2 503.1h4.7v4.7h-4.7zM296.3 503.1h4.7v4.7h-4.7zM243.0 507.1h4.7v4.7h-4.7zM243.0 511.2h4.7v4.7h-4.7zM275.8 511.2h4.7v4.7h-4.7zM279.9 511.2h4.7v4.7h-4.7zM243.0 515.3h4.7v4.7h-4.7zM259.4 515.3h4.7v4.7h-4.7zM267.6 515.3h4.7v4.7h-4.7zM271.7 515.3h4.7v4.7h-4.7zM275.8 515.3h4.7v4.7h-4.7zM243.0 519.4h4.7v4.7h-4.7zM247.1 519.4h4.7v4.7h-4.7zM251.2 519.4h4.7v4.7h-4.7zM255.3 519.4h4.7v4.7h-4.7zM259.4 519.4h4.7v4.7h-4.7z"/>
<path fill="#0084ff" d="M345.6 433.7h4.7v4.7h-4.7zM349.7 433.7h4.7v4.7h-4.7zM333.3 437.8h4.7v4.7h-4.7zM337.4 437.8h4.7v4.7h-4.7zM353.8 437.8h4.7v4.7h-4.7zM357.9 437.8h4.7v4.7h-4.7zM353.8 441.9h4.7v4.7h-4.7zM357.9 441.9h4.7v4.7h-4.7zM308.7 446.0h4.7v4.7h-4.7zM300.4 450.0h4.7v4.7h-4.7zM292.2 454.1h4.7v4.7h-4.7zM284.0 458.2h4.7v4.7h-4.7zM271.7 462.3h4.7v4.7h-4.7zM275.8 462.3h4.7v4.7h-4.7zM243.0 474.5h4.7v4.7h-4.7zM247.1 474.5h4.7v4.7h-4.7zM333.3 482.7h4.7v4.7h-4.7zM329.2 486.7h4.7v4.7h-4.7zM321.0 490.8h4.7v4.7h-4.7zM304.6 494.9h4.7v4.7h-4.7zM300.4 499.0h4.7v4.7h-4.7zM243.0 503.1h4.7v4.7h-4.7zM288.1 503.1h4.7v4.7h-4.7zM271.7 507.1h4.7v4.7h-4.7zM279.9 507.1h4.7v4.7h-4.7zM284.0 507.1h4.7v4.7h-4.7zM247.1 511.2h4.7v4.7h-4.7zM251.2 511.2h4.7v4.7h-4.7zM267.6 511.2h4.7v4.7h-4.7zM271.7 511.2h4.7v4.7h-4.7zM247.1 515.3h4.7v4.7h-4.7zM251.2 515.3h4.7v4.7h-4.7zM255.3 515.3h4.7v4.7h-4.7zM263.5 515.3h4.7v4.7h-4.7z"/>
<path fill="#0094ff" d="M341.5 437.8h4.7v4.7h-4.7zM345.6 437.8h4.7v4.7h-4.7zM349.7 437.8h4.7v4.7h-4.7zM329.2 441.9h4.7v4.7h-4.7zM337.4 441.9h4.7v4.7h-4.7zM349.7 441.9h4.7v4.7h-4.7zM312.8 446.0h4.7v4.7h-4.7zM316.9 446.0h4.7v4.7h-4.7zM349.7 446.0h4.7v4.7h-4.7zM353.8 446.0h4.7v4.7h-4.7zM357.9 446.0h4.7v4.7h-4.7zM304.6 450.0h4.7v4.7h-4.7zM296.3 454.1h4.7v4.7h-4.7zM288.1 458.2h4.7v4.7h-4.7zM267.6 466.4h4.7v4.7h-4.7zM255.3 470.4h4.7v4.7h-4.7zM259.4 470.4h4.7v4.7h-4.7zM251.2 474.5h4.7v4.7h-4.7zM353.8 474.5h4.7v4.7h-4.7zM341.5 478.6h4.7v4.7h-4.7zM345.6 478.6h4.7v4.7h-4.7zM325.1 486.7h4.7v4.7h-4.7zM312.8 490.8h4.7v4.7h-4.7zM243.0 499.0h4.7v4.7h-4.7zM296.3 499.0h4.7v4.7h-4.7zM247.1 503.1h4.7v4.7h-4.7zM247.1 507.1h4.7v4.7h-4.7zM255.3 507.1h4.7v4.7h-4.7zM275.8 507.1h4.7v4.7h-4.7zM255.3 511.2h4.7v4.7h-4.7zM259.4 511.2h4.7v4.7h-4.7zM263.5 511.2h4.7v4.7h-4.7z"/>
<path fill="#00a4ff" d="M325.1 441.9h4.7v4.7h-4.7zM333.3 441.9h4.7v4.7h-4.7zM341.5 441.9h4.7v4.7h-4.7zM345.6 441.9h4.7v4.7h-4.7zM321.0 446.0h4.7v4.7h-4.7zM308.7 450.0h4.7v4.7h-4.7zM312.8 450.0h4.7v4.7h-4.7zM357.9 450.0h4.7v4.7h-4.7zM300.4 454.1h4.7v4.7h-4.7zM279.9 462.3h4.7v4.7h-4.7zM271.7 466.4h4.7v4.7h-4.7zM357.9 470.4h4.7v4.7h-4.7zM349.7 474.5h4.7v4.7h-4.7zM243.0 478.6h4.7v4.7h-4.7zM337.4 478.6h4.7v4.7h-4.7zM329.2 482.7h4.7v4.7h-4.7zM321.0 486.7h4.7v4.7h-4.7zM243.0 494.9h4.7v4.7h-4.7zM300.4 494.9h4.7v4.7h-4.7zM247.1 499.0h4.7v4.7h-4.7zM292.2 499.0h4.7v4.7h-4.7zM251.2 503.1h4.7v4.7h-4.7zM279.9 503.1h4.7v4.7h-4.7zM284.0 503.1h4.7v4.7h-4.7zM251.2 507.1h4.7v4.7h-4.7zM259.4 507.1h4.7v4.7h-4.7zM263.5 507.1h4.7v4.7h-4.7zM267.6 507.1h4.7v4.7h-4.7z"/>
<path fill="#00b4ff" d="M325.1 446.0h4.7v4.7h-4.7zM329.2 446.0h4.7v4.7h-4.7zM333.3 446.0h4.7v4.7h-4.7zM337.4 446.0h4.7v4.7h-4.7zM341.5 446.0h4.7v4.7h-4.7zM345.6 446.0h4.7v4.7h-4.7zM349.7 450.0h4.7v4.7h-4.7zM353.8 450.0h4.7v4.7h-4.7zM304.6 454.1h4.7v4.7h-4.7zM357.9 454.1h4.7v4.7h-4.7zM292.2 458.2h4.7v4.7h-4.7zM284.0 462.3h4.7v4.7h-4.7zM263.5 470.4h4.7v4.7h-4.7zM267.6 470.4h4.7v4.7h-4.7zM353.8 470.4h4.7v4.7h-4.7zM255.3 474.5h4.7v4.7h-4.7zM345.6 474.5h4.7v4.7h-4.7zM247.1 478.6h4.7v4.7h-4.7zM316.9 486.7h4.7v4.7h-4.7zM308.7 490.8h4.7v4.7h-4.7zM247.1 494.9h4.7v4.7h-4.7zM296.3 494.9h4.7v4.7h-4.7zM255.3 499.0h4.7v4.7h-4.7zM288.1 499.0h4.7v4.7h-4.7zM255.3 503.1h4.7v4.7h-4.7zM259.4 503.1h4.7v4.7h-4.7zM271.7 503.1h4.7v4.7h-4.7zM275.8 503.1h4.7v4.7h-4.7z"/>
<path fill="#00c4ff" d="M316.9 450.0h4.7v4.7h-4.7zM321.0 450.0h4.7v4.7h-4.7zM337.4 450.0h4.7v4.7h-4.7zM341.5 450.0h4.7v4.7h-4.7zM345.6 450.0h4.7v4.7h-4.7zM308.7 454.1h4.7v4.7h-4.7zM275.8 466.4h4.7v4.7h-4.7zM357.9 466.4h4.7v4.7h-4.7zM349.7 470.4h4.7v4.7h-4.7zM259.4 474.5h4.7v4.7h-4.7zM251.2 478.6h4.7v4.7h-4.7zM333.3 478.6h4.7v4.7h-4.7zM243.0 482.7h4.7v4.7h-4.7zM325.1 482.7h4.7v4.7h-4.7zM243.0 486.7h4.7v4.7h-4.7zM243.0 490.8h4.7v4.7h-4.7zM300.4 490.8h4.7v4.7h-4.7zM304.6 490.8h4.7v4.7h-4.7zM251.2 494.9h4.7v4.7h-4.7zM251.2 499.0h4.7v4.7h-4.7zM259.4 499.0h4.7v4.7h-4.7zM279.9 499.0h4.7v4.7h-4.7zM284.0 499.0h4.7v4.7h-4.7zM263.5 503.1h4.7v4.7h-4.7zM267.6 503.1h4.7v4.7h-4.7z"/>
<path fill="#00d4ff" d="M325.1 450.0h4.7v4.7h-4.7zM345.6 454.1h4.7v4.7h-4.7zM349.7 454.1h4.7v4.7h-4.7zM353.8 454.1h4.7v4.7h-4.7zM296.3 458.2h4.7v4.7h-4.7zM300.4 458.2h4.7v4.7h-4.7zM353.8 458.2h4.7v4.7h-4.7zM357.9 458.2h4.7v4.7h-4.7zM288.1 462.3h4.7v4.7h-4.7zM292.2 462.3h4.7v4.7h-4.7zM353.8 462.3h4.7v4.7h-4.7zM357.9 462.3h4.7v4.7h-4.7zM279.9 466.4h4.7v4.7h-4.7zM353.8 466.4h4.7v4.7h-4.7zM341.5 474.5h4.7v4.7h-4.7zM255.3 478.6h4.7v4.7h-4.7zM329.2 478.6h4.7v4.7h-4.7zM247.1 482.7h4.7v4.7h-4.7zM321.0 482.7h4.7v4.7h-4.7zM247.1 486.7h4.7v4.7h-4.7zM312.8 486.7h4.7v4.7h-4.7zM247.1 490.8h4.7v4.7h-4.7zM251.2 490.8h4.7v4.7h-4.7zM255.3 494.9h4.7v4.7h-4.7zM259.4 494.9h4.7v4.7h-4.7zM292.2 494.9h4.7v4.7h-4.7zM263.5 499.0h4.7v4.7h-4.7zM271.7 499.0h4.7v4.7h-4.7zM275.8 499.0h4.7v4.7h-4.7z"/>
<path fill="#00e5ff" d="M329.2 450.0h4.7v4.7h-4.7zM333.3 450.0h4.7v4.7h-4.7zM312.8 454.1h4.7v4.7h-4.7zM341.5 454.1h4.7v4.7h-4.7zM349.7 458.2h4.7v4.7h-4.7zM349.7 466.4h4.7v4.7h-4.7zM271.7 470.4h4.7v4.7h-4.7zM341.5 470.4h4.7v4.7h-4.7zM345.6 470.4h4.7v4.7h-4.7zM263.5 474.5h4.7v4.7h-4.7zM337.4 474.5h4.7v4.7h-4.7zM259.4 478.6h4.7v4.7h-4.7zM251.2 482.7h4.7v4.7h-4.7zM316.9 482.7h4.7v4.7h-4.7zM308.7 486.7h4.7v4.7h-4.7zM288.1 494.9h4.7v4.7h-4.7zM267.6 499.0h4.7v4.7h-4.7z"/>
<path fill="#00f5ff" d="M316.9 454.1h4.7v4.7h-4.7zM329.2 454.1h4.7v4.7h-4.7zM333.3 454.1h4.7v4.7h-4.7zM337.4 454.1h4.7v4.7h-4.7zM304.6 458.2h4.7v4.7h-4.7zM341.5 458.2h4.7v4.7h-4.7zM345.6 458.2h4.7v4.7h-4.7zM345.6 462.3h4.7v4.7h-4.7zM349.7 462.3h4.7v4.7h-4.7zM345.6 466.4h4.7v4.7h-4.7zM325.1 478.6h4.7v4.7h-4.7zM255.3 482.7h4.7v4.7h-4.7zM251.2 486.7h4.7v4.7h-4.7zM259.4 486.7h4.7v4.7h-4.7zM304.6 486.7h4.7v4.7h-4.7zM255.3 490.8h4.7v4.7h-4.7zM259.4 490.8h4.7v4.7h-4.7zM296.3 490.8h4.7v4.7h-4.7zM263.5 494.9h4.7v4.7h-4.7z"/>
<path fill="#06fff9" d="M321.0 454.1h4.7v4.7h-4.7zM325.1 454.1h4.7v4.7h-4.7zM341.5 466.4h4.7v4.7h-4.7zM337.4 470.4h4.7v4.7h-4.7zM333.3 474.5h4.7v4.7h-4.7zM312.8 482.7h4.7v4.7h-4.7zM255.3 486.7h4.7v4.7h-4.7zM300.4 486.7h4.7v4.7h-4.7zM263.5 490.8h4.7v4.7h-4.7zM288.1 490.8h4.7v4.7h-4.7zM292.2 490.8h4.7v4.7h-4.7zM267.6 494.9h4.7v4.7h-4.7zM271.7 494.9h4.7v4.7h-4.7zM275.8 494.9h4.7v4.7h-4.7zM279.9 494.9h4.7v4.7h-4.7zM284.0 494.9h4.7v4.7h-4.7z"/>
<path fill="#57ffa8" d="M308.7 458.2h4.7v4.7h-4.7zM325.1 458.2h4.7v4.7h-4.7zM333.3 458.2h4.7v4.7h-4.7zM308.7 462.3h4.7v4.7h-4.7zM325.1 462.3h4.7v4.7h-4.7zM337.4 462.3h4.7v4.7h-4.7zM341.5 462.3h4.7v4.7h-4.7zM288.1 466.4h4.7v4.7h-4.7zM292.2 466.4h4.7v4.7h-4.7zM296.3 466.4h4.7v4.7h-4.7zM325.1 466.4h4.7v4.7h-4.7zM337.4 466.4h4.7v4.7h-4.7zM279.9 470.4h4.7v4.7h-4.7zM284.0 470.4h4.7v4.7h-4.7zM325.1 470.4h4.7v4.7h-4.7zM333.3 470.4h4.7v4.7h-4.7zM271.7 474.5h4.7v4.7h-4.7zM284.0 474.5h4.7v4.7h-4.7zM325.1 474.5h4.7v4.7h-4.7zM329.2 474.5h4.7v4.7h-4.7zM267.6 478.6h4.7v4.7h-4.7zM271.7 478.6h4.7v4.7h-4.7zM275.8 478.6h4.7v4.7h-4.7zM321.0 478.6h4.7v4.7h-4.7zM267.6 482.7h4.7v4.7h-4.7zM271.7 482.7h4.7v4.7h-4.7zM308.7 482.7h4.7v4.7h-4.7zM263.5 486.7h4.7v4.7h-4.7zM275.8 486.7h4.7v4.7h-4.7zM279.9 486.7h4.7v4.7h-4.7zM292.2 486.7h4.7v4.7h-4.7zM296.3 486.7h4.7v4.7h-4.7zM279.9 490.8h4.7v4.7h-4.7z"/>
<path fill="#47ffb8" d="M312.8 458.2h4.7v4.7h-4.7zM316.9 458.2h4.7v4.7h-4.7zM321.0 458.2h4.7v4.7h-4.7zM329.2 458.2h4.7v4.7h-4.7zM337.4 458.2h4.7v4.7h-4.7zM296.3 462.3h4.7v4.7h-4.7zM300.4 462.3h4.7v4.7h-4.7zM304.6 462.3h4.7v4.7h-4.7zM329.2 462.3h4.7v4.7h-4.7zM333.3 462.3h4.7v4.7h-4.7zM284.0 466.4h4.7v4.7h-4.7zM329.2 466.4h4.7v4.7h-4.7zM333.3 466.4h4.7v4.7h-4.7zM275.8 470.4h4.7v4.7h-4.7zM288.1 470.4h4.7v4.7h-4.7zM329.2 470.4h4.7v4.7h-4.7zM267.6 474.5h4.7v4.7h-4.7zM275.8 474.5h4.7v4.7h-4.7zM279.9 474.5h4.7v4.7h-4.7zM321.0 474.5h4.7v4.7h-4.7zM263.5 478.6h4.7v4.7h-4.7zM312.8 478.6h4.7v4.7h-4.7zM316.9 478.6h4.7v4.7h-4.7zM259.4 482.7h4.7v4.7h-4.7zM263.5 482.7h4.7v4.7h-4.7zM304.6 482.7h4.7v4.7h-4.7zM267.6 486.7h4.7v4.7h-4.7zM271.7 486.7h4.7v4.7h-4.7zM267.6 490.8h4.7v4.7h-4.7zM271.7 490.8h4.7v4.7h-4.7zM275.8 490.8h4.7v4.7h-4.7zM284.0 490.8h4.7v4.7h-4.7z"/>
<path fill="#67ff98" d="M312.8 462.3h4.7v4.7h-4.7zM316.9 462.3h4.7v4.7h-4.7zM321.0 462.3h4.7v4.7h-4.7zM321.0 466.4h4.7v4.7h-4.7zM321.0 470.4h4.7v4.7h-4.7zM316.9 474.5h4.7v4.7h-4.7zM279.9 478.6h4.7v4.7h-4.7zM275.8 482.7h4.7v4.7h-4.7zM279.9 482.7h4.7v4.7h-4.7zM284.0 486.7h4.7v4.7h-4.7z"/>
<path fill="#77ff88" d="M300.4 466.4h4.7v4.7h-4.7zM292.2 470.4h4.7v4.7h-4.7zM288.1 474.5h4.7v4.7h-4.7zM308.7 478.6h4.7v4.7h-4.7zM300.4 482.7h4.7v4.7h-4.7zM288.1 486.7h4.7v4.7h-4.7z"/>
<path fill="#a8ff57" d="M304.6 466.4h4.7v4.7h-4.7zM308.7 466.4h4.7v4.7h-4.7zM312.8 466.4h4.7v4.7h-4.7zM312.8 470.4h4.7v4.7h-4.7zM292.2 474.5h4.7v4.7h-4.7zM308.7 474.5h4.7v4.7h-4.7zM288.1 478.6h4.7v4.7h-4.7zM288.1 482.7h4.7v4.7h-4.7zM292.2 482.7h4.7v4.7h-4.7z"/>
<path fill="#98ff67" d="M316.9 466.4h4.7v4.7h-4.7zM316.9 470.4h4.7v4.7h-4.7zM284.0 478.6h4.7v4.7h-4.7zM304.6 478.6h4.7v4.7h-4.7zM284.0 482.7h4.7v4.7h-4.7zM296.3 482.7h4.7v4.7h-4.7z"/>
<path fill="#88ff77" d="M296.3 470.4h4.7v4.7h-4.7zM312.8 474.5h4.7v4.7h-4.7z"/>
<path fill="#c8ff37" d="M300.4 470.4h4.7v4.7h-4.7zM308.7 470.4h4.7v4.7h-4.7zM292.2 478.6h4.7v4.7h-4.7z"/>
<path fill="#e9ff16" d="M304.6 470.4h4.7v4.7h-4.7z"/>
<path fill="#d9ff26" d="M296.3 474.5h4.7v4.7h-4.7zM304.6 474.5h4.7v4.7h-4.7zM296.3 478.6h4.7v4.7h-4.7z"/>
<path fill="#800000" d="M300.4 474.5h4.7v4.7h-4.7z"/>
<path fill="#b8ff47" d="M300.4 478.6h4.7v4.7h-4.7z"/>
</svg>
<polygon points="260.3,486.1 262.2,489.7 269.4,493.3 279.0,494.5 291.1,492.1 303.1,488.5 317.5,483.7 332.0,477.7 340.4,471.6 344.5,464.4 341.6,460.8 332.0,457.2 323.5,456.7 312.7,459.6 298.3,463.2 281.5,469.2 269.4,475.3 263.4,480.1" fill="none" stroke="#000" stroke-width="1.25" stroke-linejoin="round"/>
<text x="356.00" y="523.00" font-size="18" text-anchor="end" fill="#fff">H</text>
<rect x="243.0" y="421.5" width="119.0" height="110.10000000000002" fill="none" stroke="#444" stroke-width="0.5"/>
<text x="244.50" y="538.90" font-size="5.6" text-anchor="middle" fill="#222" stroke="#222" stroke-width="0.15">−4</text>
<text x="241.00" y="531.17" font-size="5.6" text-anchor="end" fill="#222" stroke="#222" stroke-width="0.15">−4</text>
<text x="258.65" y="538.90" font-size="5.6" text-anchor="middle" fill="#222" stroke="#222" stroke-width="0.15">−3</text>
<text x="241.00" y="518.02" font-size="5.6" text-anchor="end" fill="#222" stroke="#222" stroke-width="0.15">−3</text>
<text x="272.80" y="538.90" font-size="5.6" text-anchor="middle" fill="#222" stroke="#222" stroke-width="0.15">−2</text>
<text x="241.00" y="504.87" font-size="5.6" text-anchor="end" fill="#222" stroke="#222" stroke-width="0.15">−2</text>
<text x="286.95" y="538.90" font-size="5.6" text-anchor="middle" fill="#222" stroke="#222" stroke-width="0.15">−1</text>
<text x="241.00" y="491.72" font-size="5.6" text-anchor="end" fill="#222" stroke="#222" stroke-width="0.15">−1</text>
<text x="302.50" y="538.90" font-size="5.6" text-anchor="middle" fill="#222" stroke="#222" stroke-width="0.15">0</text>
<text x="241.00" y="478.57" font-size="5.6" text-anchor="end" fill="#222" stroke="#222" stroke-width="0.15">0</text>
<text x="316.65" y="538.90" font-size="5.6" text-anchor="middle" fill="#222" stroke="#222" stroke-width="0.15">1</text>
<text x="241.00" y="465.42" font-size="5.6" text-anchor="end" fill="#222" stroke="#222" stroke-width="0.15">1</text>
<text x="330.80" y="538.90" font-size="5.6" text-anchor="middle" fill="#222" stroke="#222" stroke-width="0.15">2</text>
<text x="241.00" y="452.27" font-size="5.6" text-anchor="end" fill="#222" stroke="#222" stroke-width="0.15">2</text>
<text x="344.95" y="538.90" font-size="5.6" text-anchor="middle" fill="#222" stroke="#222" stroke-width="0.15">3</text>
<text x="241.00" y="439.12" font-size="5.6" text-anchor="end" fill="#222" stroke="#222" stroke-width="0.15">3</text>
<text x="359.10" y="538.90" font-size="5.6" text-anchor="middle" fill="#222" stroke="#222" stroke-width="0.15">4</text>
<text x="241.00" y="425.97" font-size="5.6" text-anchor="end" fill="#222" stroke="#222" stroke-width="0.15">4</text>
<text x="302.00" y="545.10" font-size="5.9" text-anchor="middle" fill="#222" stroke="#222" stroke-width="0.15">Spatial lag (km)</text>
<text x="231.50" y="476.55" font-size="5.9" text-anchor="middle" fill="#222" stroke="#222" stroke-width="0.15" transform="rotate(-90 231.5 476.55)">Spatial lag (km)</text>
<rect x="368.0" y="421.5" width="7.600000000000023" height="110.10000000000002" fill="url(#jet)"/>
<rect x="368.0" y="421.5" width="7.600000000000023" height="110.10000000000002" fill="none" stroke="#444" stroke-width="0.5"/>
<line x1="375.6" y1="531.60" x2="374.40000000000003" y2="531.60" stroke="#444" stroke-width="0.5"/>
<line x1="368.0" y1="531.60" x2="369.2" y2="531.60" stroke="#444" stroke-width="0.5"/>
<text x="377.00" y="533.65" font-size="5.7" text-anchor="start" fill="#222" stroke="#222" stroke-width="0.15">0</text>
<line x1="375.6" y1="509.58" x2="374.40000000000003" y2="509.58" stroke="#444" stroke-width="0.5"/>
<line x1="368.0" y1="509.58" x2="369.2" y2="509.58" stroke="#444" stroke-width="0.5"/>
<text x="377.00" y="511.63" font-size="5.7" text-anchor="start" fill="#222" stroke="#222" stroke-width="0.15">0.2</text>
<line x1="375.6" y1="487.56" x2="374.40000000000003" y2="487.56" stroke="#444" stroke-width="0.5"/>
<line x1="368.0" y1="487.56" x2="369.2" y2="487.56" stroke="#444" stroke-width="0.5"/>
<text x="377.00" y="489.61" font-size="5.7" text-anchor="start" fill="#222" stroke="#222" stroke-width="0.15">0.4</text>
<line x1="375.6" y1="465.54" x2="374.40000000000003" y2="465.54" stroke="#444" stroke-width="0.5"/>
<line x1="368.0" y1="465.54" x2="369.2" y2="465.54" stroke="#444" stroke-width="0.5"/>
<text x="377.00" y="467.59" font-size="5.7" text-anchor="start" fill="#222" stroke="#222" stroke-width="0.15">0.6</text>
<line x1="375.6" y1="443.52" x2="374.40000000000003" y2="443.52" stroke="#444" stroke-width="0.5"/>
<line x1="368.0" y1="443.52" x2="369.2" y2="443.52" stroke="#444" stroke-width="0.5"/>
<text x="377.00" y="445.57" font-size="5.7" text-anchor="start" fill="#222" stroke="#222" stroke-width="0.15">0.8</text>
<line x1="375.6" y1="421.50" x2="374.40000000000003" y2="421.50" stroke="#444" stroke-width="0.5"/>
<line x1="368.0" y1="421.50" x2="369.2" y2="421.50" stroke="#444" stroke-width="0.5"/>
<text x="377.00" y="423.55" font-size="5.7" text-anchor="start" fill="#222" stroke="#222" stroke-width="0.15">1</text>
<text x="391.50" y="476.55" font-size="5.9" text-anchor="middle" fill="#222" stroke="#222" stroke-width="0.15" transform="rotate(-90 391.5 476.55)">Autocorrelation</text>
<line x1="79.20" y1="4.0" x2="79.20" y2="108.3" stroke="#e6e6e6" stroke-width="0.7" stroke-dasharray="0.8 1.7"/>
<line x1="113.90" y1="4.0" x2="113.90" y2="108.3" stroke="#e6e6e6" stroke-width="0.7" stroke-dasharray="0.8 1.7"/>
<line x1="148.60" y1="4.0" x2="148.60" y2="108.3" stroke="#e6e6e6" stroke-width="0.7" stroke-dasharray="0.8 1.7"/>
<line x1="44.0" y1="38.75" x2="162.5" y2="38.75" stroke="#e6e6e6" stroke-width="0.7" stroke-dasharray="0.8 1.7"/>
<line x1="44.0" y1="73.50" x2="162.5" y2="73.50" stroke="#e6e6e6" stroke-width="0.7" stroke-dasharray="0.8 1.7"/>
<g fill="none" stroke-linecap="round" clip-path="url(#c4)">
<path stroke="#0096ff" stroke-width="0.8" stroke-opacity="0.7" d="M82.8 54.4l0.0 0.0M106.1 61.0l0.0 0.0M97.2 56.9l0.0 0.0M101.6 57.5l0.0 0.0M82.6 56.0l0.0 0.0M125.9 39.0l0.0 0.0M106.3 59.7l0.0 0.0M99.7 47.1l0.0 0.0M118.1 44.0l0.0 0.0M141.3 43.9l0.0 0.0M88.3 62.9l0.0 0.0M117.9 42.7l0.0 0.0M81.1 62.7l0.0 0.0M83.3 62.0l0.0 0.0M98.1 48.1l0.0 0.0M116.9 32.5l0.0 0.0M139.7 39.0l0.0 0.0M76.6 58.3l0.0 0.0M101.1 51.6l0.0 0.0M76.5 65.3l0.0 0.0M96.0 81.5l0.0 0.0M80.4 77.2l0.0 0.0M94.7 69.8l0.0 0.0"/>
<path stroke="#00b5ff" stroke-width="0.8" stroke-opacity="0.7" d="M108.8 55.6l0.0 0.0M116.0 41.4l0.0 0.0M108.7 49.4l0.0 0.0M126.1 52.6l0.0 0.0M76.2 70.8l0.0 0.0M78.4 64.8l0.0 0.0M86.3 65.6l0.0 0.0M118.9 45.5l0.0 0.0M104.4 50.4l0.0 0.0M83.5 69.7l0.0 0.0M117.8 41.8l0.0 0.0M116.6 63.9l0.0 0.0M116.9 50.6l0.0 0.0M123.8 39.3l0.0 0.0M102.0 60.6l0.0 0.0M140.4 34.7l0.0 0.0M104.6 53.8l0.0 0.0M113.5 56.9l0.0 0.0M122.5 56.5l0.0 0.0M116.4 48.2l0.0 0.0M75.5 65.6l0.0 0.0M133.0 35.7l0.0 0.0M136.9 42.8l0.0 0.0M76.7 67.2l0.0 0.0M116.5 55.2l0.0 0.0M124.2 53.9l0.0 0.0M99.3 51.7l0.0 0.0M81.1 66.8l0.0 0.0M111.5 51.9l0.0 0.0M138.5 40.9l0.0 0.0M127.1 48.9l0.0 0.0M125.3 35.8l0.0 0.0M106.1 53.5l0.0 0.0M139.2 44.2l0.0 0.0M87.9 62.5l0.0 0.0M93.7 75.2l0.0 0.0M91.7 74.8l0.0 0.0M97.6 73.4l0.0 0.0M89.0 71.3l0.0 0.0M110.1 74.9l0.0 0.0M88.9 72.6l0.0 0.0M85.7 74.7l0.0 0.0M82.3 70.3l0.0 0.0M95.7 66.4l0.0 0.0M96.8 79.4l0.0 0.0M90.6 80.4l0.0 0.0M93.3 67.3l0.0 0.0M99.9 69.0l0.0 0.0"/>
<path stroke="#00d4ff" stroke-width="0.8" stroke-opacity="0.7" d="M90.3 53.7l0.0 0.0M76.2 64.0l0.0 0.0M139.9 40.0l0.0 0.0M93.5 59.1l0.0 0.0M82.5 68.2l0.0 0.0M141.1 52.8l0.0 0.0M147.6 46.6l0.0 0.0M141.3 37.7l0.0 0.0M138.5 45.2l0.0 0.0M143.0 37.2l0.0 0.0M118.0 45.1l0.0 0.0M90.2 49.8l0.0 0.0M144.4 38.2l0.0 0.0M136.4 35.4l0.0 0.0M137.7 33.0l0.0 0.0M80.4 58.6l0.0 0.0M144.8 43.2l0.0 0.0M131.7 43.4l0.0 0.0M118.6 54.8l0.0 0.0M114.8 56.1l0.0 0.0M115.3 41.9l0.0 0.0M94.7 51.4l0.0 0.0M135.7 36.5l0.0 0.0M89.0 50.8l0.0 0.0M90.3 55.2l0.0 0.0M80.0 64.0l0.0 0.0M97.2 60.3l0.0 0.0M130.2 44.9l0.0 0.0M113.2 51.2l0.0 0.0M83.7 66.1l0.0 0.0M84.6 55.8l0.0 0.0M92.4 67.3l0.0 0.0M76.4 68.4l0.0 0.0M82.6 73.8l0.0 0.0M82.8 74.5l0.0 0.0M100.9 78.3l0.0 0.0M88.2 76.1l0.0 0.0M93.7 78.0l0.0 0.0M89.0 78.1l0.0 0.0M89.6 69.5l0.0 0.0"/>
<path stroke="#00d4ff" stroke-width="0.6" stroke-opacity="0.7" d="M144.2 40.7l1.6 -5.4M128.2 48.6l1.6 -4.2M131.9 44.5l1.2 -3.7M77.1 57.3l1.4 -2.9M74.5 68.4l1.9 -7.1M103.9 74.6l1.1 -2.7M92.1 82.6l1.2 -2.5M89.8 66.7l1.0 -4.0"/>
<path stroke="#00dfec" stroke-width="0.8" stroke-opacity="0.7" d="M119.7 50.2l0.0 0.0M89.2 57.2l0.0 0.0M77.3 73.3l0.0 0.0M110.9 43.0l0.0 0.0M135.2 42.7l0.0 0.0M123.8 50.8l0.0 0.0M121.5 46.9l0.0 0.0M87.8 70.4l0.0 0.0M114.5 52.5l0.0 0.0M110.9 50.3l0.0 0.0M131.3 41.6l0.0 0.0M87.9 56.3l0.0 0.0M103.3 53.7l0.0 0.0M129.5 53.0l0.0 0.0M76.7 68.4l0.0 0.0M78.8 69.8l0.0 0.0M127.8 34.5l0.0 0.0M131.5 43.9l0.0 0.0M121.5 47.1l0.0 0.0M130.4 39.8l0.0 0.0M98.0 63.9l0.0 0.0M84.7 53.7l0.0 0.0M125.4 43.0l0.0 0.0M92.8 57.5l0.0 0.0M130.7 41.4l0.0 0.0M147.9 43.5l0.0 0.0M86.8 59.7l0.0 0.0M102.8 50.7l0.0 0.0M125.8 45.4l0.0 0.0M127.2 51.0l0.0 0.0M144.2 51.7l0.0 0.0M94.2 51.0l0.0 0.0"/>
<path stroke="#00dfec" stroke-width="0.6" stroke-opacity="0.7" d="M143.5 39.7l1.4 -4.4M134.6 47.6l0.9 -3.3M128.8 46.1l2.6 -6.0M138.3 43.6l1.4 -3.9M127.1 48.9l2.0 -5.0M135.5 46.9l1.3 -4.0M132.1 46.6l2.1 -6.2M137.2 38.1l1.3 -2.8M142.6 36.6l1.7 -5.9M134.3 42.2l1.5 -4.0M72.6 67.8l1.6 -5.8M78.1 65.9l1.1 -2.8M70.7 71.9l2.4 -5.8M68.4 67.7l1.1 -3.2M65.0 69.7l1.8 -5.3M63.4 68.2l1.6 -4.3M86.1 71.8l1.2 -3.5M99.2 70.6l1.5 -3.5M91.0 77.8l1.5 -3.1M108.5 79.3l1.4 -4.1M84.4 71.9l0.9 -2.8"/>
<path stroke="#00ddcd" stroke-width="0.8" stroke-opacity="0.7" d="M79.9 54.9l0.0 0.0M109.1 59.3l0.0 0.0"/>
<path stroke="#00ddcd" stroke-width="0.6" stroke-opacity="0.7" d="M100.9 57.9l3.0 -7.6M87.2 56.1l2.0 -6.9M116.6 49.9l2.1 -7.0M109.3 51.3l2.3 -6.4M106.7 55.3l2.4 -6.9M117.6 52.5l2.5 -6.2M118.0 51.5l1.7 -4.3M123.6 52.4l1.8 -3.9M98.9 64.1l3.3 -8.0M114.0 54.9l2.2 -5.6M93.0 62.1l2.9 -6.5M99.5 66.8l2.1 -6.3M91.6 59.8l1.7 -4.2M121.7 45.0l2.7 -6.4M120.2 47.2l2.5 -6.8M97.6 62.2l2.4 -8.6M116.7 45.9l1.8 -6.9M79.1 60.3l2.3 -6.2M110.9 54.7l2.8 -7.9M90.4 69.3l2.1 -5.4M79.6 60.2l2.0 -5.0M83.8 65.6l3.8 -9.8M111.7 51.5l2.1 -6.1M88.9 55.2l2.4 -6.7M111.7 54.6l2.1 -5.6M128.4 48.0l2.4 -6.9M78.1 64.8l1.8 -5.0M111.1 55.9l1.6 -4.9M111.4 55.2l1.1 -3.4M126.2 49.3l2.6 -8.2M109.7 59.0l2.8 -9.8M83.1 68.8l4.7 -9.3M128.7 43.5l2.1 -7.7M131.1 55.3l1.4 -3.9M131.3 54.7l1.0 -2.7M114.7 51.1l2.8 -8.8M94.3 55.9l1.8 -5.9M101.4 60.3l2.7 -8.3M124.0 52.7l1.8 -5.4M83.6 59.6l2.6 -5.3M127.6 52.3l3.2 -9.2M82.7 64.2l2.9 -9.5M82.1 64.9l1.8 -5.9M111.6 59.6l3.1 -8.8M113.0 61.3l2.2 -8.6M113.4 60.0l1.6 -6.0M97.9 57.2l1.5 -5.2M116.5 54.3l2.9 -6.5M93.4 62.1l1.6 -5.7M84.7 59.5l2.9 -8.7M127.4 49.6l1.5 -4.3M84.2 62.9l1.6 -4.2M111.9 65.1l2.5 -7.2M96.2 59.8l3.1 -9.2M100.5 49.0l1.3 -4.1M97.6 61.3l3.7 -10.0M107.6 55.1l2.5 -8.9M107.9 53.7l1.7 -6.2M108.2 54.3l2.3 -7.7M103.3 54.4l1.4 -4.8M109.1 64.7l2.3 -6.2M109.4 63.7l1.6 -4.3M107.0 60.4l2.2 -9.5M127.0 53.9l3.6 -9.3M126.5 51.8l2.5 -6.8M126.9 50.8l1.7 -4.8M125.4 46.7l2.7 -7.2M118.4 59.8l2.9 -10.5M114.3 45.9l3.6 -8.7M74.3 57.1l3.4 -7.9M104.2 54.1l1.5 -4.1M88.7 62.1l1.8 -7.9M91.3 57.1l1.9 -5.5M91.6 56.2l1.3 -3.8M98.3 60.4l3.4 -9.8M98.8 59.0l2.4 -6.9M96.7 69.8l2.4 -6.7M108.0 50.5l2.1 -7.0M85.6 71.3l3.3 -9.8M80.2 53.8l1.5 -4.0M80.4 53.3l1.0 -2.8M128.4 55.8l2.1 -6.9M108.1 57.0l2.2 -4.6M119.3 50.6l3.4 -10.4M89.1 54.0l2.5 -6.1M126.7 46.7l2.4 -6.9M127.1 45.7l1.7 -4.8M101.3 56.0l1.4 -4.2M119.5 57.2l1.7 -5.3M89.4 60.5l2.1 -6.3M93.8 61.0l3.6 -8.1M116.7 49.2l2.4 -6.4M108.4 56.0l1.6 -8.0M108.6 54.8l1.1 -5.6M84.2 58.3l2.1 -5.0M88.9 57.3l2.9 -7.7M129.6 47.3l2.7 -7.7M116.3 55.5l1.4 -4.0M116.5 54.9l1.0 -2.8M106.1 52.3l1.6 -4.2M80.0 70.8l2.5 -8.6M80.4 76.5l3.0 -7.9M83.8 67.5l1.7 -3.8M83.4 65.2l3.2 -9.8M96.0 64.2l2.5 -8.4M108.6 64.2l2.7 -7.6M128.1 45.9l1.4 -3.9M123.2 46.6l2.7 -9.3M119.8 56.2l3.2 -9.4M132.9 58.2l2.1 -5.8M103.7 58.0l3.5 -8.3M106.0 62.3l2.1 -5.6M126.8 51.3l3.8 -10.2M138.5 46.5l1.5 -4.5M140.6 38.3l1.4 -3.6M141.8 42.5l1.7 -4.6M135.5 44.6l1.8 -6.4M146.3 44.6l0.9 -4.1M141.4 42.3l1.3 -5.3M144.8 43.6l1.3 -4.3M145.0 42.9l0.9 -3.0M137.7 41.7l2.1 -5.9M129.7 47.5l1.0 -3.4M129.8 46.9l0.7 -2.4M137.0 52.2l1.4 -5.7M127.6 45.0l1.3 -3.2M142.6 44.8l1.6 -4.9M139.2 45.9l1.6 -4.8M139.5 45.2l1.1 -3.3M130.2 49.6l1.1 -3.9M130.4 49.0l0.8 -2.7M129.8 47.9l2.1 -6.2M73.8 62.1l0.9 -3.0M67.4 65.5l1.0 -3.1M76.0 71.1l1.1 -3.3M75.2 61.3l2.5 -6.9M72.7 65.0l1.3 -3.7M69.4 69.7l2.2 -6.4M87.2 68.9l1.0 -2.2M90.8 72.5l0.7 -2.4M85.7 67.1l1.1 -3.4M89.1 74.1l1.1 -2.5"/>
<path stroke="#0dd7a2" stroke-width="0.6" stroke-opacity="0.7" d="M101.3 56.7l2.1 -5.3M116.9 48.9l1.4 -4.9M123.9 51.8l1.2 -2.7M114.3 54.1l1.5 -3.9M91.9 59.1l1.2 -2.9M122.1 44.1l1.9 -4.5M120.6 46.2l1.7 -4.7M111.3 53.5l1.9 -5.6M89.2 54.2l1.7 -4.7M115.2 49.8l2.0 -6.2M116.9 53.3l2.0 -4.6M85.1 58.2l2.0 -6.1M84.5 62.3l1.1 -2.9M108.5 53.2l1.6 -5.4M107.4 59.0l1.6 -6.6M89.0 61.0l1.3 -5.5M101.6 55.4l1.0 -2.9M80.4 69.5l1.7 -6.0M104.2 56.7l2.5 -5.8M138.1 40.9l1.5 -4.1M137.2 51.3l1.0 -4.0M73.9 61.6l0.6 -2.1M75.5 60.3l1.7 -4.8M72.9 64.4l0.9 -2.6"/>
<path stroke="#21d071" stroke-width="0.6" stroke-opacity="0.7" d="M109.6 50.4l1.6 -4.5M99.4 62.9l2.3 -5.6M126.6 48.1l1.8 -5.8M129.0 42.3l1.5 -5.4M84.0 58.9l1.8 -3.7M128.1 50.9l2.2 -6.4M127.7 48.9l1.0 -3.0M103.5 53.7l1.0 -3.3M86.0 69.9l2.3 -6.9M108.4 56.3l1.5 -3.2M119.8 56.4l1.2 -3.7M117.0 48.3l1.7 -4.5M128.3 45.3l1.0 -2.7"/>
<path stroke="#46d34f" stroke-width="0.6" stroke-opacity="0.7" d="M107.1 54.2l1.7 -4.8M116.9 44.8l1.3 -4.8M79.9 59.4l1.4 -3.5M84.4 64.2l2.6 -6.8M112.0 50.6l1.5 -4.2M82.4 64.0l1.2 -4.2M114.8 44.6l2.5 -6.1M119.8 49.0l2.4 -7.3"/>
<path stroke="#74dd37" stroke-width="0.6" stroke-opacity="0.7" d="M87.5 55.1l1.4 -4.8M99.9 65.9l1.5 -4.4M112.1 58.3l2.2 -6.1M112.3 64.0l1.7 -5.1M89.4 53.0l1.7 -4.3M133.2 57.3l1.5 -4.1M106.3 61.5l1.5 -3.9"/>
<path stroke="#a0e324" stroke-width="0.6" stroke-opacity="0.7" d="M93.4 61.2l2.0 -4.6M98.1 56.4l1.0 -3.7M100.7 48.4l0.9 -2.9M89.4 56.2l2.0 -5.4M80.8 75.3l2.1 -5.5"/>
<path stroke="#cae714" stroke-width="0.6" stroke-opacity="0.7" d="M87.8 54.2l0.9 -3.1M112.5 57.2l1.4 -3.9M112.6 63.1l1.1 -3.3M133.5 56.6l0.9 -2.6M106.6 60.8l1.0 -2.5"/>
<path stroke="#f3ea04" stroke-width="0.6" stroke-opacity="0.7" d="M100.1 65.1l0.9 -2.8M98.3 55.7l0.7 -2.4M100.8 47.9l0.6 -1.8M89.7 52.3l1.1 -2.8M89.7 55.2l1.3 -3.5M81.2 74.3l1.3 -3.6"/>
<path stroke="#ffd900" stroke-width="0.6" stroke-opacity="0.7" d="M93.8 60.3l1.3 -2.9"/>
<path stroke="#00ddcd" stroke-width="0.8" d="M90.8 54.1l2.8 -8.6M101.3 50.0l3.1 -9.5M115.3 50.5l2.5 -7.6M102.4 57.4l2.5 -7.6M85.6 54.9l1.9 -5.7M118.9 53.3l2.2 -6.7M108.9 53.3l2.2 -6.7M93.9 60.3l2.2 -6.7"/>
<path stroke="#46d34f" stroke-width="0.8" d="M94.2 59.3l1.5 -4.7"/>
<path stroke="#74dd37" stroke-width="0.8" d="M119.2 52.3l1.5 -4.7M109.2 52.3l1.5 -4.7"/>
<path stroke="#a0e324" stroke-width="0.8" d="M85.9 54.0l1.3 -4.0"/>
<path stroke="#cae714" stroke-width="0.8" d="M102.7 56.3l1.7 -5.3"/>
<path stroke="#f3ea04" stroke-width="0.8" d="M91.2 52.8l1.9 -6.0M115.6 49.4l1.7 -5.3M119.5 51.5l1.0 -3.0M109.5 51.5l1.0 -3.0"/>
<path stroke="#ffd900" stroke-width="0.8" d="M101.7 48.5l2.2 -6.7M86.1 53.3l0.8 -2.6"/>
<path stroke="#ffbf00" stroke-width="0.8" d="M103.0 55.3l1.1 -3.4"/>
<path stroke="#ffa600" stroke-width="0.8" d="M115.9 48.4l1.1 -3.4"/>
<path stroke="#fd8b00" stroke-width="0.8" d="M91.6 51.7l1.3 -3.9M103.3 54.6l0.6 -1.9"/>
<path stroke="#f86d00" stroke-width="0.8" d="M102.1 47.3l1.4 -4.3M116.2 47.7l0.6 -1.9"/>
<path stroke="#f34f00" stroke-width="0.8" d="M91.9 50.9l0.7 -2.1"/>
<path stroke="#d91400" stroke-width="0.8" d="M102.4 46.4l0.8 -2.4"/>
</g>
<rect x="44.0" y="4.0" width="118.5" height="104.3" fill="none" stroke="#bdbdbd" stroke-width="1.0"/>
<line x1="44.50" y1="108.3" x2="44.50" y2="106.8" stroke="#bdbdbd" stroke-width="0.6"/>
<line x1="44.50" y1="4.0" x2="44.50" y2="5.5" stroke="#bdbdbd" stroke-width="0.6"/>
<line x1="79.20" y1="108.3" x2="79.20" y2="106.8" stroke="#bdbdbd" stroke-width="0.6"/>
<line x1="79.20" y1="4.0" x2="79.20" y2="5.5" stroke="#bdbdbd" stroke-width="0.6"/>
<line x1="113.90" y1="108.3" x2="113.90" y2="106.8" stroke="#bdbdbd" stroke-width="0.6"/>
<line x1="113.90" y1="4.0" x2="113.90" y2="5.5" stroke="#bdbdbd" stroke-width="0.6"/>
<line x1="148.60" y1="108.3" x2="148.60" y2="106.8" stroke="#bdbdbd" stroke-width="0.6"/>
<line x1="148.60" y1="4.0" x2="148.60" y2="5.5" stroke="#bdbdbd" stroke-width="0.6"/>
<line x1="44.0" y1="4.00" x2="45.5" y2="4.00" stroke="#bdbdbd" stroke-width="0.6"/>
<line x1="162.5" y1="4.00" x2="161.0" y2="4.00" stroke="#bdbdbd" stroke-width="0.6"/>
<line x1="44.0" y1="38.75" x2="45.5" y2="38.75" stroke="#bdbdbd" stroke-width="0.6"/>
<line x1="162.5" y1="38.75" x2="161.0" y2="38.75" stroke="#bdbdbd" stroke-width="0.6"/>
<line x1="44.0" y1="73.50" x2="45.5" y2="73.50" stroke="#bdbdbd" stroke-width="0.6"/>
<line x1="162.5" y1="73.50" x2="161.0" y2="73.50" stroke="#bdbdbd" stroke-width="0.6"/>
<line x1="44.0" y1="108.25" x2="45.5" y2="108.25" stroke="#bdbdbd" stroke-width="0.6"/>
<line x1="162.5" y1="108.25" x2="161.0" y2="108.25" stroke="#bdbdbd" stroke-width="0.6"/>
<text x="44.50" y="115.80" font-size="5.6" text-anchor="middle" fill="#333" stroke="#333" stroke-width="0.15">10</text>
<text x="79.20" y="115.80" font-size="5.6" text-anchor="middle" fill="#333" stroke="#333" stroke-width="0.15">15</text>
<text x="113.90" y="115.80" font-size="5.6" text-anchor="middle" fill="#333" stroke="#333" stroke-width="0.15">20</text>
<text x="148.60" y="115.80" font-size="5.6" text-anchor="middle" fill="#333" stroke="#333" stroke-width="0.15">25</text>
<text x="43.00" y="6.02" font-size="5.6" text-anchor="end" fill="#333" stroke="#333" stroke-width="0.15">0</text>
<text x="43.00" y="40.77" font-size="5.6" text-anchor="end" fill="#333" stroke="#333" stroke-width="0.15">−5</text>
<text x="43.00" y="75.52" font-size="5.6" text-anchor="end" fill="#333" stroke="#333" stroke-width="0.15">−10</text>
<text x="43.00" y="110.27" font-size="5.6" text-anchor="end" fill="#333" stroke="#333" stroke-width="0.15">−15</text>
<text x="103.00" y="122.30" font-size="6.0" text-anchor="middle" fill="#333" stroke="#333" stroke-width="0.15">Eastings from OAWRS source (km)</text>
<text x="28.30" y="57.00" font-size="6.0" text-anchor="middle" fill="#333" stroke="#333" stroke-width="0.15" transform="rotate(-90 28.3 57.0)">Northings from OAWRS source (km)</text>
<rect x="169.0" y="4.2" width="7.900000000000006" height="104.6" fill="url(#sjet)"/>
<rect x="169.0" y="4.2" width="7.900000000000006" height="104.6" fill="none" stroke="#bdbdbd" stroke-width="0.5"/>
<line x1="176.9" y1="12.60" x2="175.70000000000002" y2="12.60" stroke="#bdbdbd" stroke-width="0.5"/>
<line x1="169.0" y1="12.60" x2="170.2" y2="12.60" stroke="#bdbdbd" stroke-width="0.5"/>
<text x="177.60" y="14.62" font-size="5.6" text-anchor="start" fill="#333" stroke="#333" stroke-width="0.15">−28</text>
<line x1="176.9" y1="28.57" x2="175.70000000000002" y2="28.57" stroke="#bdbdbd" stroke-width="0.5"/>
<line x1="169.0" y1="28.57" x2="170.2" y2="28.57" stroke="#bdbdbd" stroke-width="0.5"/>
<text x="177.60" y="30.59" font-size="5.6" text-anchor="start" fill="#333" stroke="#333" stroke-width="0.15">−30</text>
<line x1="176.9" y1="44.54" x2="175.70000000000002" y2="44.54" stroke="#bdbdbd" stroke-width="0.5"/>
<line x1="169.0" y1="44.54" x2="170.2" y2="44.54" stroke="#bdbdbd" stroke-width="0.5"/>
<text x="177.60" y="46.56" font-size="5.6" text-anchor="start" fill="#333" stroke="#333" stroke-width="0.15">−32</text>
<line x1="176.9" y1="60.51" x2="175.70000000000002" y2="60.51" stroke="#bdbdbd" stroke-width="0.5"/>
<line x1="169.0" y1="60.51" x2="170.2" y2="60.51" stroke="#bdbdbd" stroke-width="0.5"/>
<text x="177.60" y="62.53" font-size="5.6" text-anchor="start" fill="#333" stroke="#333" stroke-width="0.15">−34</text>
<line x1="176.9" y1="76.48" x2="175.70000000000002" y2="76.48" stroke="#bdbdbd" stroke-width="0.5"/>
<line x1="169.0" y1="76.48" x2="170.2" y2="76.48" stroke="#bdbdbd" stroke-width="0.5"/>
<text x="177.60" y="78.50" font-size="5.6" text-anchor="start" fill="#333" stroke="#333" stroke-width="0.15">−36</text>
<line x1="176.9" y1="92.45" x2="175.70000000000002" y2="92.45" stroke="#bdbdbd" stroke-width="0.5"/>
<line x1="169.0" y1="92.45" x2="170.2" y2="92.45" stroke="#bdbdbd" stroke-width="0.5"/>
<text x="177.60" y="94.47" font-size="5.6" text-anchor="start" fill="#333" stroke="#333" stroke-width="0.15">−38</text>
<line x1="176.9" y1="108.42" x2="175.70000000000002" y2="108.42" stroke="#bdbdbd" stroke-width="0.5"/>
<line x1="169.0" y1="108.42" x2="170.2" y2="108.42" stroke="#bdbdbd" stroke-width="0.5"/>
<text x="177.60" y="110.44" font-size="5.6" text-anchor="start" fill="#333" stroke="#333" stroke-width="0.15">−40</text>
<text x="194.00" y="56.50" font-size="6.0" text-anchor="middle" fill="#333" stroke="#333" stroke-width="0.15" transform="rotate(-90 194.0 56.5)">Scattering strength (dB)</text>
<text x="147.00" y="102.60" font-size="18" text-anchor="start" fill="#000" stroke="#000" stroke-width="0.1">A</text>
<line x1="37.40" y1="166.0" x2="37.40" y2="242.3" stroke="#b0b0b0" stroke-width="0.7" stroke-dasharray="0.8 1.7"/>
<line x1="82.40" y1="166.0" x2="82.40" y2="242.3" stroke="#b0b0b0" stroke-width="0.7" stroke-dasharray="0.8 1.7"/>
<line x1="127.40" y1="166.0" x2="127.40" y2="242.3" stroke="#b0b0b0" stroke-width="0.7" stroke-dasharray="0.8 1.7"/>
<line x1="172.40" y1="166.0" x2="172.40" y2="242.3" stroke="#b0b0b0" stroke-width="0.7" stroke-dasharray="0.8 1.7"/>
<line x1="28.6" y1="175.10" x2="177.0" y2="175.10" stroke="#b0b0b0" stroke-width="0.7" stroke-dasharray="0.8 1.7"/>
<line x1="28.6" y1="197.60" x2="177.0" y2="197.60" stroke="#b0b0b0" stroke-width="0.7" stroke-dasharray="0.8 1.7"/>
<line x1="28.6" y1="220.10" x2="177.0" y2="220.10" stroke="#b0b0b0" stroke-width="0.7" stroke-dasharray="0.8 1.7"/>
<g fill="none" stroke-linecap="round" clip-path="url(#c166)" opacity="0.9">
<path stroke="#0096ff" stroke-width="0.9" stroke-opacity="0.6" d="M153.9 203.0l0.0 0.0M111.5 223.4l0.0 0.0M145.5 207.8l0.0 0.0M115.2 222.1l0.0 0.0M141.0 210.5l0.0 0.0M121.2 219.1l0.0 0.0M129.1 214.1l0.0 0.0M138.7 212.5l0.0 0.0M153.9 201.4l0.0 0.0M150.8 201.3l0.0 0.0M139.7 207.1l0.0 0.0M121.9 218.7l0.0 0.0M140.0 208.1l0.0 0.0M124.9 218.9l0.0 0.0M132.7 214.3l0.0 0.0M149.2 205.1l0.0 0.0M123.7 215.6l0.0 0.0M117.7 221.6l0.0 0.0M130.8 215.3l0.0 0.0M127.6 212.3l0.0 0.0M130.0 211.7l0.0 0.0M155.4 202.9l0.0 0.0M149.9 203.7l0.0 0.0M155.4 203.0l0.0 0.0M135.9 210.8l0.0 0.0M125.8 213.8l0.0 0.0M132.2 214.4l0.0 0.0M121.1 216.6l0.0 0.0"/>
<path stroke="#00b5ff" stroke-width="0.9" stroke-opacity="0.6" d="M126.6 213.0l0.0 0.0M125.0 217.1l0.0 0.0M121.8 216.8l0.0 0.0M127.8 216.3l0.0 0.0M132.9 212.5l0.0 0.0M143.2 206.5l0.0 0.0M142.2 205.3l0.0 0.0M139.3 211.4l0.0 0.0M143.3 204.9l0.0 0.0M134.4 212.0l0.0 0.0M116.9 221.8l0.0 0.0M137.7 211.5l0.0 0.0M133.4 211.2l0.0 0.0M152.7 200.8l0.0 0.0M115.2 220.2l0.0 0.0M114.3 218.7l0.0 0.0M132.0 214.1l0.0 0.0M152.0 200.9l0.0 0.0M142.8 207.1l0.0 0.0M132.0 215.9l0.0 0.0M139.7 211.1l0.0 0.0M121.7 216.8l0.0 0.0M145.9 208.1l0.0 0.0M116.9 218.8l0.0 0.0M117.3 218.6l0.0 0.0M128.8 214.1l0.0 0.0M145.2 204.0l0.0 0.0M117.9 218.5l0.0 0.0M127.4 217.4l0.0 0.0M145.6 203.3l0.0 0.0M123.5 215.7l0.0 0.0M131.8 210.5l0.0 0.0M113.9 219.1l0.0 0.0M110.8 222.8l0.0 0.0M147.3 207.1l0.0 0.0M122.0 220.1l0.0 0.0M139.9 206.5l0.0 0.0M122.3 215.8l0.0 0.0M155.7 199.8l0.0 0.0M110.9 221.8l0.0 0.0M149.0 204.8l0.0 0.0M141.4 210.0l0.0 0.0M139.5 209.1l0.0 0.0M134.4 209.9l0.0 0.0M139.5 211.4l0.0 0.0"/>
<path stroke="#00d4ff" stroke-width="0.9" stroke-opacity="0.6" d="M153.0 201.3l0.0 0.0M129.1 212.8l0.0 0.0M142.7 208.6l0.0 0.0M141.6 206.7l0.0 0.0M138.8 210.4l0.0 0.0M120.4 215.8l0.0 0.0M149.7 206.0l0.0 0.0M144.0 204.9l0.0 0.0M128.7 215.2l0.0 0.0M114.1 219.8l0.0 0.0M150.1 203.3l0.0 0.0M112.7 222.3l0.0 0.0M148.0 206.8l0.0 0.0M113.2 221.4l0.0 0.0M114.6 217.8l0.0 0.0M140.3 206.9l0.0 0.0M110.8 223.5l0.0 0.0M121.0 218.5l0.0 0.0M128.0 213.4l0.0 0.0M150.7 205.3l0.0 0.0M121.3 218.1l0.0 0.0M146.4 206.2l0.0 0.0M148.1 205.7l0.0 0.0M136.6 212.1l0.0 0.0M118.8 219.1l0.0 0.0M126.0 217.6l0.0 0.0M140.9 205.8l0.0 0.0M114.9 221.0l0.0 0.0M137.2 212.3l0.0 0.0M117.8 221.1l0.0 0.0M145.1 207.2l0.0 0.0M154.0 202.2l0.0 0.0M157.6 198.6l0.0 0.0M113.9 219.1l0.0 0.0M142.4 207.1l0.0 0.0M110.0 222.8l0.0 0.0M125.8 216.8l0.0 0.0M129.1 213.2l0.0 0.0M114.9 220.5l0.0 0.0M119.6 220.5l0.0 0.0M116.9 218.1l0.0 0.0M144.0 205.1l0.0 0.0M121.0 216.0l0.0 0.0M134.1 210.4l0.0 0.0M136.1 210.0l0.0 0.0M127.9 215.8l0.0 0.0M147.3 205.9l0.0 0.0M118.5 216.8l0.0 0.0"/>
<path stroke="#00d4ff" stroke-width="0.5" stroke-opacity="0.6" d="M122.9 214.7l3.2 -1.4M142.5 206.9l1.9 -0.9M128.3 212.6l3.2 -1.6M144.4 209.3l2.9 -1.8M131.6 211.2l4.3 -1.9M110.6 219.8l2.0 -1.1M119.7 216.4l2.7 -1.3"/>
<path stroke="#00dfec" stroke-width="0.9" stroke-opacity="0.6" d="M134.6 214.6l0.0 0.0M122.5 217.3l0.0 0.0M127.2 214.8l0.0 0.0M155.0 201.7l0.0 0.0M111.6 222.3l0.0 0.0M111.0 222.5l0.0 0.0M153.7 199.6l0.0 0.0M115.6 221.9l0.0 0.0M134.7 213.8l0.0 0.0"/>
<path stroke="#00dfec" stroke-width="0.5" stroke-opacity="0.6" d="M111.5 218.9l4.3 -2.0M150.6 204.3l2.8 -1.7M126.1 211.6l2.7 -1.5M144.7 206.5l3.0 -1.4M113.8 219.0l3.1 -1.6M154.0 202.5l3.3 -1.8M135.1 206.7l2.5 -1.0M113.2 219.1l2.2 -1.2M146.4 205.1l3.3 -1.6M122.6 215.4l4.3 -2.4M140.8 209.4l3.7 -1.7M118.8 217.4l3.8 -1.7M149.3 202.2l2.6 -1.4"/>
<path stroke="#00d4ff" stroke-width="1.0" stroke-opacity="0.7" d="M40.0 228.5l0.6 -0.2M40.5 233.0l3.0 -1.8M43.0 223.4l6.0 0.0M45.0 228.0l10.0 -3.5M52.0 223.0l6.0 -2.0M57.0 220.3l5.0 -0.7M60.0 227.0l3.0 -0.5M64.0 219.0l4.0 -2.0M66.0 222.5l5.0 -3.0M70.0 219.0l7.0 -5.0M75.0 217.0l7.0 -4.0M80.0 220.5l6.0 -2.5M84.0 215.0l8.0 -6.5M88.0 213.0l6.0 -4.0M90.0 211.0l14.0 -7.5M100.0 206.0l6.0 -2.4M83.0 222.5l5.0 -0.5M58.0 228.0l4.0 -0.5"/>
<path stroke="#0096ff" stroke-width="0.9" d="M140.9 216.2l0.0 0.0M144.6 217.4l0.0 0.0M163.6 182.0l0.0 0.0M162.2 194.6l0.0 0.0M161.5 179.9l0.0 0.0M151.3 190.5l0.0 0.0M148.7 185.4l0.0 0.0M147.9 183.5l0.0 0.0M159.6 195.0l0.0 0.0"/>
<path stroke="#0096ff" stroke-width="0.8" d="M146.4 186.7l0.0 0.0M147.1 186.3l0.0 0.0M153.7 193.4l0.0 0.0M159.6 187.5l0.0 0.0M149.8 193.0l0.0 0.0M155.3 202.2l0.0 0.0M155.5 192.6l0.0 0.0M164.4 194.3l0.0 0.0M152.6 185.8l0.0 0.0"/>
<path stroke="#00b5ff" stroke-width="0.9" d="M144.4 216.4l0.0 0.0M143.5 216.9l0.0 0.0M161.9 184.9l0.0 0.0M148.9 184.3l0.0 0.0M149.3 194.3l0.0 0.0M155.1 191.8l0.0 0.0M157.4 192.3l0.0 0.0M157.8 189.6l0.0 0.0M162.9 180.9l0.0 0.0M158.9 193.7l0.0 0.0M157.3 188.4l0.0 0.0M157.2 182.3l0.0 0.0M147.3 191.1l0.0 0.0M148.8 183.6l0.0 0.0M151.3 192.7l0.0 0.0M155.8 195.1l0.0 0.0M163.1 183.2l0.0 0.0M161.0 192.1l0.0 0.0M158.9 179.6l0.0 0.0M155.3 185.0l0.0 0.0M165.2 179.9l0.0 0.0M157.7 182.5l0.0 0.0M162.4 187.2l0.0 0.0M148.0 183.6l0.0 0.0M152.8 197.5l0.0 0.0"/>
<path stroke="#00b5ff" stroke-width="0.8" d="M156.8 181.5l0.0 0.0M143.8 191.6l0.0 0.0M160.0 193.7l0.0 0.0M161.5 190.5l0.0 0.0M145.2 180.6l0.0 0.0M137.3 195.3l0.0 0.0M156.8 191.0l0.0 0.0M145.4 203.0l0.0 0.0M158.3 193.8l0.0 0.0M158.1 190.9l0.0 0.0M150.6 192.0l0.0 0.0M159.2 196.1l0.0 0.0M154.8 181.9l0.0 0.0M153.5 190.3l0.0 0.0M161.2 188.5l0.0 0.0M153.7 190.8l0.0 0.0M128.0 202.6l0.0 0.0M129.3 199.7l0.0 0.0M129.0 206.5l0.0 0.0"/>
<path stroke="#00d4ff" stroke-width="0.9" d="M142.8 217.0l0.0 0.0M141.1 214.1l0.0 0.0M139.6 216.1l0.0 0.0M159.0 179.0l0.0 0.0M156.3 197.7l0.0 0.0M164.0 178.2l0.0 0.0M156.2 192.8l0.0 0.0M158.0 190.8l0.0 0.0M153.1 190.4l0.0 0.0M161.8 189.1l0.0 0.0M149.2 195.6l0.0 0.0M156.7 193.6l0.0 0.0M154.1 192.2l0.0 0.0M148.2 191.8l0.0 0.0M158.7 195.1l0.0 0.0M152.9 190.2l0.0 0.0M160.7 189.6l0.0 0.0M152.4 185.7l0.0 0.0M154.4 195.9l0.0 0.0M163.6 194.7l0.0 0.0M150.9 189.3l0.0 0.0M159.4 186.5l0.0 0.0M154.4 184.8l0.0 0.0M158.8 187.8l0.0 0.0M163.5 185.7l0.0 0.0"/>
<path stroke="#00d4ff" stroke-width="0.8" d="M169.3 193.2l0.0 0.0M156.0 188.8l0.0 0.0M158.6 195.8l0.0 0.0M146.3 183.0l0.0 0.0M153.3 191.7l0.0 0.0M140.3 188.2l0.0 0.0M156.9 193.6l0.0 0.0M167.8 182.9l0.0 0.0M154.1 181.7l0.0 0.0M169.6 193.2l0.0 0.0M164.5 194.9l0.0 0.0M152.4 184.3l0.0 0.0M169.5 189.5l0.0 0.0M162.0 193.0l0.0 0.0M152.0 190.2l0.0 0.0M172.3 185.5l0.0 0.0M157.3 190.2l0.0 0.0M148.0 194.6l0.0 0.0M164.3 196.0l0.0 0.0M158.3 196.1l0.0 0.0M131.9 194.8l0.0 0.0M127.5 193.2l0.0 0.0M129.1 195.1l0.0 0.0M127.9 202.7l0.0 0.0M129.7 196.9l0.0 0.0M129.0 195.9l0.0 0.0M129.2 197.4l0.0 0.0"/>
<path stroke="#00dfec" stroke-width="0.9" d="M143.2 218.4l0.0 0.0M143.9 215.7l0.0 0.0M144.7 217.5l0.0 0.0M138.6 216.9l0.0 0.0M142.6 217.6l0.0 0.0M155.3 198.5l0.0 0.0M149.2 196.3l0.0 0.0M166.9 176.8l0.0 0.0M153.6 187.9l0.0 0.0M147.1 190.8l0.0 0.0M149.0 184.0l0.0 0.0M162.3 182.1l0.0 0.0M153.8 185.2l0.0 0.0M151.4 183.6l0.0 0.0M164.3 184.1l0.0 0.0M165.3 189.5l0.0 0.0M163.5 195.5l0.0 0.0M163.0 182.9l0.0 0.0M160.4 196.7l0.0 0.0M149.5 184.0l0.0 0.0M159.2 183.9l0.0 0.0"/>
<path stroke="#00dfec" stroke-width="0.6" d="M40.1 228.5l0.4 -0.1M46.5 227.5l7.0 -2.4M52.9 222.7l4.2 -1.4M60.5 226.9l2.1 -0.4M66.8 222.1l3.5 -2.1M80.9 220.1l4.2 -1.8M100.9 205.6l4.2 -1.7M83.8 222.4l3.5 -0.4M58.6 227.9l2.8 -0.4"/>
<path stroke="#00dfec" stroke-width="0.8" d="M162.7 182.2l0.0 0.0M152.5 178.9l0.0 0.0M153.1 181.3l0.0 0.0M147.2 196.0l0.0 0.0M145.3 188.2l0.0 0.0M155.2 189.9l0.0 0.0M150.3 186.0l0.0 0.0M154.0 183.0l0.0 0.0M158.0 196.0l0.0 0.0M135.2 189.1l0.0 0.0M158.4 191.1l0.0 0.0M145.3 201.4l0.0 0.0M160.1 174.8l0.0 0.0M152.6 194.1l0.0 0.0M147.0 195.7l0.0 0.0M156.6 186.4l0.0 0.0M149.9 194.3l0.0 0.0M147.2 197.8l0.0 0.0M148.4 190.6l0.0 0.0M154.3 196.0l0.0 0.0M158.9 195.5l0.0 0.0M158.1 188.1l0.0 0.0M166.1 190.3l0.0 0.0M127.8 192.6l0.0 0.0M127.5 193.2l0.0 0.0M130.4 196.2l0.0 0.0M131.7 206.0l0.0 0.0M130.1 198.5l0.0 0.0"/>
<path stroke="#00ddcd" stroke-width="1.1" d="M40.4 232.6l2.2 -1.2M44.5 223.4l3.0 0.0M72.2 217.0l2.6 -1.4M77.5 214.2l2.6 -1.4M91.7 210.7l2.6 -1.4M96.2 207.9l3.5 -1.9M100.7 206.2l2.6 -1.4"/>
<path stroke="#00ddcd" stroke-width="0.8" d="M169.1 183.7l0.0 0.0M151.6 187.3l0.0 0.0"/>
<path stroke="#00ddcd" stroke-width="0.9" d="M153.0 182.6l0.0 0.0M149.6 185.2l0.0 0.0M164.4 178.2l0.0 0.0M162.1 183.7l0.0 0.0M162.2 187.9l0.0 0.0M156.5 184.7l0.0 0.0M154.7 187.2l0.0 0.0M160.8 191.9l0.0 0.0M151.9 188.5l0.0 0.0M155.6 198.3l0.0 0.0M149.2 188.9l0.0 0.0M161.3 194.7l0.0 0.0"/>
<path stroke="#00ddcd" stroke-width="1.3" d="M126.1 200.3l3.7 -7.6M126.6 201.9l1.9 -3.8M123.6 200.9l1.9 -3.8M137.6 199.9l1.9 -3.8M141.5 194.9l1.9 -3.8M147.3 191.9l3.4 -6.9M149.4 196.9l1.9 -3.8M154.2 186.7l2.6 -5.3M155.2 185.6l3.0 -6.1M158.5 184.1l3.0 -6.1M160.8 180.0l1.5 -3.1M163.3 188.4l3.4 -6.9M156.5 198.1l3.0 -6.1M160.7 194.7l2.6 -5.3M165.1 189.9l1.9 -3.8M150.9 194.3l2.2 -4.6M145.1 195.9l1.9 -3.8M133.3 193.5l1.5 -3.1M162.6 181.9l1.9 -3.8"/>
<path stroke="#0dd7a2" stroke-width="0.6" d="M57.8 220.2l3.5 -0.5M64.6 218.7l2.8 -1.4M85.2 214.0l5.6 -4.6"/>
<path stroke="#0dd7a2" stroke-width="0.9" d="M157.4 182.8l0.0 0.0M158.6 183.1l0.0 0.0M152.7 192.8l0.0 0.0M149.0 193.1l0.0 0.0M166.1 189.8l0.0 0.0M160.6 196.9l0.0 0.0M147.3 192.4l0.0 0.0M164.6 184.5l0.0 0.0M163.4 194.2l0.0 0.0M155.7 194.1l0.0 0.0M157.0 187.6l0.0 0.0M159.8 191.4l0.0 0.0M153.8 181.7l0.0 0.0M151.0 196.9l0.0 0.0M159.0 184.1l0.0 0.0M150.5 185.5l0.0 0.0M154.5 193.1l0.0 0.0M166.7 179.0l0.0 0.0M152.4 181.7l0.0 0.0M147.1 190.9l0.0 0.0M152.0 193.6l0.0 0.0M158.3 194.1l0.0 0.0"/>
<path stroke="#0dd7a2" stroke-width="1.3" d="M141.7 194.3l1.3 -2.7M155.7 184.6l2.1 -4.3M161.0 179.6l1.0 -2.1M161.1 193.9l1.8 -3.7M165.3 189.3l1.3 -2.7"/>
<path stroke="#21d071" stroke-width="0.9" d="M155.8 196.9l0.0 0.0M148.1 193.4l0.0 0.0M164.8 182.9l0.0 0.0M146.8 190.1l0.0 0.0M159.3 183.5l0.0 0.0M153.8 191.2l0.0 0.0M161.0 195.1l0.0 0.0M159.1 182.1l0.0 0.0"/>
<path stroke="#46d34f" stroke-width="0.6" d="M58.5 220.1l2.0 -0.3M65.2 218.4l1.6 -0.8M71.0 218.2l4.9 -3.5M86.4 213.1l3.2 -2.6"/>
<path stroke="#74dd37" stroke-width="0.6" d="M43.9 223.4l4.2 0.0M76.0 216.4l4.9 -2.8M88.9 212.4l4.2 -2.8M92.1 209.9l9.8 -5.2"/>
<path stroke="#74dd37" stroke-width="1.3" d="M162.8 181.3l1.3 -2.7"/>
<path stroke="#a0e324" stroke-width="0.6" d="M41.0 232.7l2.1 -1.3"/>
<path stroke="#a0e324" stroke-width="1.3" d="M157.0 197.1l2.1 -4.3"/>
<path stroke="#cae714" stroke-width="0.6" d="M72.1 217.5l2.8 -2.0"/>
<path stroke="#cae714" stroke-width="1.1" d="M45.0 223.4l2.1 0.0M92.1 210.5l1.9 -1.0"/>
<path stroke="#cae714" stroke-width="1.3" d="M137.8 199.3l1.3 -2.7M149.6 196.3l1.3 -2.7"/>
<path stroke="#f3ea04" stroke-width="0.6" d="M89.8 211.8l2.4 -1.6"/>
<path stroke="#f3ea04" stroke-width="1.1" d="M40.7 232.4l1.5 -0.8M72.6 216.8l1.9 -1.0"/>
<path stroke="#f3ea04" stroke-width="1.3" d="M126.8 201.3l1.3 -2.7M154.6 185.9l1.8 -3.7M159.0 183.1l2.1 -4.3M163.1 180.9l0.8 -1.7"/>
<path stroke="#ffd900" stroke-width="0.6" d="M44.8 223.4l2.4 0.0M77.1 215.8l2.8 -1.6M94.2 208.8l5.6 -3.0"/>
<path stroke="#ffd900" stroke-width="1.1" d="M77.9 214.0l1.9 -1.0M96.8 207.7l2.5 -1.3M101.1 206.0l1.9 -1.0"/>
<path stroke="#ffd900" stroke-width="1.3" d="M126.7 199.2l2.6 -5.3M163.8 187.4l2.3 -4.8M157.3 196.4l1.3 -2.8"/>
<path stroke="#ffbf00" stroke-width="0.6" d="M41.4 232.5l1.2 -0.7"/>
<path stroke="#ffbf00" stroke-width="1.1" d="M45.3 223.4l1.3 0.0"/>
<path stroke="#ffbf00" stroke-width="1.3" d="M147.8 190.9l2.3 -4.8M149.9 195.9l0.8 -1.7"/>
<path stroke="#ffa600" stroke-width="1.1" d="M92.4 210.3l1.2 -0.6"/>
<path stroke="#ffa600" stroke-width="1.3" d="M138.1 198.9l0.8 -1.7"/>
<path stroke="#fd8b00" stroke-width="1.1" d="M41.0 232.3l1.0 -0.5M72.9 216.6l1.2 -0.6"/>
<path stroke="#fd8b00" stroke-width="1.3" d="M127.1 200.9l0.8 -1.7M154.9 185.2l1.2 -2.4M159.3 182.4l1.3 -2.8"/>
<path stroke="#f86d00" stroke-width="1.1" d="M78.2 213.8l1.2 -0.6M92.7 210.2l0.7 -0.4M97.2 207.4l1.6 -0.8"/>
<path stroke="#f86d00" stroke-width="1.3" d="M127.2 198.2l1.7 -3.4M138.3 198.5l0.5 -1.0"/>
<path stroke="#f34f00" stroke-width="1.1" d="M41.2 232.1l0.6 -0.3M73.2 216.5l0.7 -0.4M101.4 205.8l1.2 -0.6"/>
<path stroke="#f34f00" stroke-width="1.3" d="M127.3 200.5l0.5 -1.0M155.2 184.7l0.7 -1.3M159.6 181.8l0.7 -1.5M164.2 186.5l1.5 -3.1"/>
<path stroke="#ea3100" stroke-width="1.1" d="M78.5 213.7l0.7 -0.4M97.6 207.2l0.9 -0.5"/>
<path stroke="#ea3100" stroke-width="1.3" d="M127.5 197.5l0.9 -1.9M148.2 190.0l1.5 -3.1"/>
<path stroke="#d91400" stroke-width="1.1" d="M101.7 205.7l0.7 -0.4"/>
<path stroke="#d91400" stroke-width="1.3" d="M164.6 185.9l0.8 -1.7"/>
<path stroke="#c60000" stroke-width="1.3" d="M148.6 189.4l0.8 -1.7"/>
</g>
<rect x="28.6" y="166.0" width="148.4" height="76.30000000000001" fill="none" stroke="#808080" stroke-width="1.0"/>
<line x1="37.40" y1="242.3" x2="37.40" y2="240.8" stroke="#808080" stroke-width="0.6"/>
<line x1="37.40" y1="166.0" x2="37.40" y2="167.5" stroke="#808080" stroke-width="0.6"/>
<line x1="82.40" y1="242.3" x2="82.40" y2="240.8" stroke="#808080" stroke-width="0.6"/>
<line x1="82.40" y1="166.0" x2="82.40" y2="167.5" stroke="#808080" stroke-width="0.6"/>
<line x1="127.40" y1="242.3" x2="127.40" y2="240.8" stroke="#808080" stroke-width="0.6"/>
<line x1="127.40" y1="166.0" x2="127.40" y2="167.5" stroke="#808080" stroke-width="0.6"/>
<line x1="172.40" y1="242.3" x2="172.40" y2="240.8" stroke="#808080" stroke-width="0.6"/>
<line x1="172.40" y1="166.0" x2="172.40" y2="167.5" stroke="#808080" stroke-width="0.6"/>
<line x1="28.6" y1="175.10" x2="30.1" y2="175.10" stroke="#808080" stroke-width="0.6"/>
<line x1="177.0" y1="175.10" x2="175.5" y2="175.10" stroke="#808080" stroke-width="0.6"/>
<line x1="28.6" y1="197.60" x2="30.1" y2="197.60" stroke="#808080" stroke-width="0.6"/>
<line x1="177.0" y1="197.60" x2="175.5" y2="197.60" stroke="#808080" stroke-width="0.6"/>
<line x1="28.6" y1="220.10" x2="30.1" y2="220.10" stroke="#808080" stroke-width="0.6"/>
<line x1="177.0" y1="220.10" x2="175.5" y2="220.10" stroke="#808080" stroke-width="0.6"/>
<line x1="28.6" y1="242.60" x2="30.1" y2="242.60" stroke="#808080" stroke-width="0.6"/>
<line x1="177.0" y1="242.60" x2="175.5" y2="242.60" stroke="#808080" stroke-width="0.6"/>
<text x="35.53" y="251.60" font-size="7.5" text-anchor="middle" fill="#222" stroke="#222" stroke-width="0.15">−10</text>
<text x="82.40" y="251.60" font-size="7.5" text-anchor="middle" fill="#222" stroke="#222" stroke-width="0.15">0</text>
<text x="127.40" y="251.60" font-size="7.5" text-anchor="middle" fill="#222" stroke="#222" stroke-width="0.15">10</text>
<text x="172.40" y="251.60" font-size="7.5" text-anchor="middle" fill="#222" stroke="#222" stroke-width="0.15">20</text>
<text x="27.00" y="177.80" font-size="7.5" text-anchor="end" fill="#222" stroke="#222" stroke-width="0.15">−5</text>
<text x="27.00" y="200.30" font-size="7.5" text-anchor="end" fill="#222" stroke="#222" stroke-width="0.15">−10</text>
<text x="27.00" y="222.80" font-size="7.5" text-anchor="end" fill="#222" stroke="#222" stroke-width="0.15">−15</text>
<text x="27.00" y="245.30" font-size="7.5" text-anchor="end" fill="#222" stroke="#222" stroke-width="0.15">−20</text>
<text x="103.00" y="259.00" font-size="7.7" text-anchor="middle" fill="#222" stroke="#222" stroke-width="0.15">Eastings from OAWRS source (km)</text>
<text x="11.00" y="204.20" font-size="7.7" text-anchor="middle" fill="#222" stroke="#222" stroke-width="0.15" transform="rotate(-90 11.0 204.2)">Northings from OAWRS source (km)</text>
<rect x="184.8" y="166.2" width="10.199999999999989" height="76.30000000000001" fill="url(#sjet)"/>
<rect x="184.8" y="166.2" width="10.199999999999989" height="76.30000000000001" fill="none" stroke="#808080" stroke-width="0.5"/>
<line x1="195.0" y1="172.70" x2="193.8" y2="172.70" stroke="#808080" stroke-width="0.5"/>
<line x1="184.8" y1="172.70" x2="186.0" y2="172.70" stroke="#808080" stroke-width="0.5"/>
<text x="196.30" y="175.40" font-size="7.5" text-anchor="start" fill="#222" stroke="#222" stroke-width="0.15">−28</text>
<line x1="195.0" y1="184.25" x2="193.8" y2="184.25" stroke="#808080" stroke-width="0.5"/>
<line x1="184.8" y1="184.25" x2="186.0" y2="184.25" stroke="#808080" stroke-width="0.5"/>
<text x="196.30" y="186.95" font-size="7.5" text-anchor="start" fill="#222" stroke="#222" stroke-width="0.15">−30</text>
<line x1="195.0" y1="195.80" x2="193.8" y2="195.80" stroke="#808080" stroke-width="0.5"/>
<line x1="184.8" y1="195.80" x2="186.0" y2="195.80" stroke="#808080" stroke-width="0.5"/>
<text x="196.30" y="198.50" font-size="7.5" text-anchor="start" fill="#222" stroke="#222" stroke-width="0.15">−32</text>
<line x1="195.0" y1="207.35" x2="193.8" y2="207.35" stroke="#808080" stroke-width="0.5"/>
<line x1="184.8" y1="207.35" x2="186.0" y2="207.35" stroke="#808080" stroke-width="0.5"/>
<text x="196.30" y="210.05" font-size="7.5" text-anchor="start" fill="#222" stroke="#222" stroke-width="0.15">−34</text>
<line x1="195.0" y1="218.90" x2="193.8" y2="218.90" stroke="#808080" stroke-width="0.5"/>
<line x1="184.8" y1="218.90" x2="186.0" y2="218.90" stroke="#808080" stroke-width="0.5"/>
<text x="196.30" y="221.60" font-size="7.5" text-anchor="start" fill="#222" stroke="#222" stroke-width="0.15">−36</text>
<line x1="195.0" y1="230.45" x2="193.8" y2="230.45" stroke="#808080" stroke-width="0.5"/>
<line x1="184.8" y1="230.45" x2="186.0" y2="230.45" stroke="#808080" stroke-width="0.5"/>
<text x="196.30" y="233.15" font-size="7.5" text-anchor="start" fill="#222" stroke="#222" stroke-width="0.15">−38</text>
<line x1="195.0" y1="242.00" x2="193.8" y2="242.00" stroke="#808080" stroke-width="0.5"/>
<line x1="184.8" y1="242.00" x2="186.0" y2="242.00" stroke="#808080" stroke-width="0.5"/>
<text x="196.30" y="244.70" font-size="7.5" text-anchor="start" fill="#222" stroke="#222" stroke-width="0.15">−40</text>
<text x="217.00" y="203.80" font-size="7.5" text-anchor="middle" fill="#222" stroke="#222" stroke-width="0.15" transform="rotate(-90 217.0 203.8)">Scattering strength (dB)</text>
<text x="160.60" y="236.50" font-size="18" text-anchor="start" fill="#000" stroke="#000" stroke-width="0.1">C</text>
<line x1="46.20" y1="292.9" x2="46.20" y2="391.2" stroke="#b0b0b0" stroke-width="0.7" stroke-dasharray="0.8 1.7"/>
<line x1="82.60" y1="292.9" x2="82.60" y2="391.2" stroke="#b0b0b0" stroke-width="0.7" stroke-dasharray="0.8 1.7"/>
<line x1="119.00" y1="292.9" x2="119.00" y2="391.2" stroke="#b0b0b0" stroke-width="0.7" stroke-dasharray="0.8 1.7"/>
<line x1="155.40" y1="292.9" x2="155.40" y2="391.2" stroke="#b0b0b0" stroke-width="0.7" stroke-dasharray="0.8 1.7"/>
<line x1="28.6" y1="306.75" x2="177.5" y2="306.75" stroke="#b0b0b0" stroke-width="0.7" stroke-dasharray="0.8 1.7"/>
<line x1="28.6" y1="325.20" x2="177.5" y2="325.20" stroke="#b0b0b0" stroke-width="0.7" stroke-dasharray="0.8 1.7"/>
<line x1="28.6" y1="343.65" x2="177.5" y2="343.65" stroke="#b0b0b0" stroke-width="0.7" stroke-dasharray="0.8 1.7"/>
<line x1="28.6" y1="362.10" x2="177.5" y2="362.10" stroke="#b0b0b0" stroke-width="0.7" stroke-dasharray="0.8 1.7"/>
<line x1="28.6" y1="380.55" x2="177.5" y2="380.55" stroke="#b0b0b0" stroke-width="0.7" stroke-dasharray="0.8 1.7"/>
<g fill="none" stroke-linecap="round" clip-path="url(#c292)" opacity="0.85">
<path stroke="#0096ff" stroke-width="0.9" stroke-opacity="0.4" d="M134.9 338.1l0.0 0.0M160.9 335.8l0.0 0.0M107.8 355.2l0.0 0.0M127.7 341.6l0.0 0.0M142.9 351.3l0.0 0.0M139.2 345.1l0.0 0.0M105.9 373.2l0.0 0.0M118.7 352.0l0.0 0.0M154.3 344.0l0.0 0.0M116.6 348.0l0.0 0.0M106.1 358.0l0.0 0.0M132.4 342.5l0.0 0.0M132.3 362.3l0.0 0.0M155.5 343.0l0.0 0.0M117.2 364.3l0.0 0.0M99.5 375.6l0.0 0.0M129.8 346.8l0.0 0.0M127.7 350.4l0.0 0.0M140.4 344.8l0.0 0.0M127.4 360.7l0.0 0.0M112.0 353.7l0.0 0.0M119.8 352.2l0.0 0.0M119.6 367.5l0.0 0.0"/>
<path stroke="#00b5ff" stroke-width="0.9" stroke-opacity="0.4" d="M146.7 336.9l0.0 0.0M118.7 346.4l0.0 0.0M116.7 354.4l0.0 0.0M102.5 375.9l0.0 0.0M101.5 376.5l0.0 0.0M120.1 365.8l0.0 0.0M143.0 352.5l0.0 0.0M128.6 361.4l0.0 0.0M136.2 352.3l0.0 0.0M108.9 360.0l0.0 0.0M115.3 349.7l0.0 0.0M127.0 356.7l0.0 0.0M124.1 355.6l0.0 0.0M150.5 344.6l0.0 0.0M136.1 342.9l0.0 0.0M103.9 364.0l0.0 0.0M114.2 360.9l0.0 0.0M101.7 370.8l0.0 0.0M137.2 357.1l0.0 0.0M112.7 359.0l0.0 0.0M124.3 345.5l0.0 0.0M109.0 373.7l0.0 0.0M110.1 369.0l0.0 0.0M111.5 358.4l0.0 0.0M146.8 345.5l0.0 0.0M98.9 374.3l0.0 0.0M134.6 354.6l0.0 0.0M112.9 360.5l0.0 0.0M115.6 354.1l0.0 0.0M110.7 374.5l0.0 0.0M116.0 361.2l0.0 0.0M144.5 338.1l0.0 0.0M144.4 352.6l0.0 0.0M105.0 367.0l0.0 0.0M148.7 338.8l0.0 0.0M107.6 357.8l0.0 0.0M148.1 335.4l0.0 0.0M125.1 352.0l0.0 0.0M136.4 351.0l0.0 0.0M114.6 360.7l0.0 0.0M149.5 348.5l0.0 0.0M141.5 343.4l0.0 0.0M116.0 357.8l0.0 0.0M108.9 355.7l0.0 0.0M148.4 334.4l0.0 0.0M144.4 343.5l0.0 0.0M115.7 351.2l0.0 0.0M153.7 335.2l0.0 0.0M100.0 377.4l0.0 0.0M127.3 353.5l0.0 0.0M154.2 339.1l0.0 0.0M128.7 346.0l0.0 0.0M129.0 347.0l0.0 0.0M149.4 347.5l0.0 0.0"/>
<path stroke="#00d4ff" stroke-width="0.9" stroke-opacity="0.4" d="M118.1 355.8l0.0 0.0M117.9 354.3l0.0 0.0M123.9 369.4l0.0 0.0M129.3 365.8l0.0 0.0M142.9 341.2l0.0 0.0M112.3 365.1l0.0 0.0M134.2 351.9l0.0 0.0M142.4 353.2l0.0 0.0M118.7 369.9l0.0 0.0M133.3 350.0l0.0 0.0M150.5 344.4l0.0 0.0M131.9 353.6l0.0 0.0M128.8 358.4l0.0 0.0M126.8 360.4l0.0 0.0M133.6 355.4l0.0 0.0M105.1 359.4l0.0 0.0M114.3 367.2l0.0 0.0M102.7 375.1l0.0 0.0M112.4 357.0l0.0 0.0M120.0 348.2l0.0 0.0M117.9 348.3l0.0 0.0M144.6 351.3l0.0 0.0M115.2 354.4l0.0 0.0M120.7 346.5l0.0 0.0M145.6 347.0l0.0 0.0M103.9 365.1l0.0 0.0M133.8 341.5l0.0 0.0M116.1 372.8l0.0 0.0M107.6 355.7l0.0 0.0M141.3 352.4l0.0 0.0M114.9 373.3l0.0 0.0M155.3 338.0l0.0 0.0M121.9 350.5l0.0 0.0"/>
<path stroke="#00d4ff" stroke-width="0.5" stroke-opacity="0.4" d="M100.4 368.8l7.4 -4.0M103.9 369.0l6.5 -4.2M118.5 358.3l5.0 -2.7M125.0 348.9l5.8 -3.7M116.3 348.9l4.1 -2.5M128.3 348.0l5.6 -3.6M110.3 360.1l7.4 -4.8M116.9 349.9l4.0 -2.2M105.0 369.3l4.0 -1.9M135.1 345.5l3.6 -1.7M124.0 359.0l4.1 -2.3M131.3 343.6l3.3 -1.8M104.2 370.3l7.7 -3.9M111.2 367.9l4.1 -2.1M124.2 349.0l6.2 -3.7M112.4 366.1l4.1 -2.8M113.6 350.4l7.3 -4.7M146.2 340.0l5.3 -3.3M140.2 345.9l4.1 -2.4M149.6 340.2l4.0 -2.6M123.1 350.5l4.7 -3.2M138.4 341.8l4.2 -2.3M118.6 361.8l2.7 -1.8M113.6 365.2l7.4 -4.4M151.6 337.6l7.4 -3.3M140.7 350.6l2.9 -1.8M146.3 340.7l3.3 -2.3"/>
<path stroke="#00dfec" stroke-width="0.5" stroke-opacity="0.4" d="M106.3 372.2l2.8 -1.5M140.1 344.6l3.4 -2.1M126.4 355.2l6.0 -4.0M117.2 356.4l5.9 -4.0M105.5 366.3l3.7 -2.4M149.8 344.8l5.0 -2.5M133.1 345.8l2.9 -1.9M101.7 373.7l3.9 -2.3M146.2 339.0l7.5 -3.6M105.7 363.5l6.9 -3.9M147.1 346.9l2.7 -1.7M132.3 357.2l2.9 -1.7M123.2 346.1l2.9 -1.6M127.3 344.9l3.0 -1.8M113.3 364.4l5.7 -2.8M109.7 352.9l4.4 -2.2M131.5 344.9l5.4 -3.2M109.8 357.5l3.0 -1.7M99.3 376.7l6.0 -3.1M142.2 349.6l4.0 -2.8M128.6 353.6l6.5 -4.7M139.4 343.9l6.9 -5.2M123.7 362.2l7.4 -4.6M103.6 364.8l5.1 -3.5M138.8 350.1l4.6 -2.6M100.7 371.1l6.7 -3.5M120.0 362.3l5.5 -2.7M134.9 350.0l6.3 -3.9M112.6 361.8l4.4 -2.8M125.2 358.9l7.3 -4.8M117.9 362.4l6.8 -3.9M109.9 353.5l4.9 -2.3M137.7 353.2l5.6 -4.1M149.0 339.3l5.1 -3.3M140.8 350.7l3.5 -2.1M102.0 374.0l5.1 -3.4M121.6 360.6l3.7 -2.3M146.6 346.9l5.2 -3.4M122.7 348.4l3.0 -1.9M109.5 370.1l4.3 -2.4M140.4 341.5l6.1 -3.2M123.6 361.6l6.6 -3.4M132.4 345.5l6.3 -3.5M106.4 369.4l7.0 -4.3M111.1 354.6l5.9 -4.2M119.0 349.3l3.6 -2.5M143.0 349.5l6.0 -3.2M142.3 349.8l3.6 -1.9M123.9 362.5l6.0 -3.9M130.2 357.0l7.2 -4.5M106.8 365.1l6.6 -3.8M118.7 350.7l3.6 -2.3M113.4 363.8l4.7 -3.2M135.9 345.6l7.6 -4.1M105.3 363.5l4.3 -2.7M142.9 341.0l7.1 -4.4M106.7 363.5l6.7 -5.2M107.5 370.6l4.1 -2.4M121.2 360.1l4.4 -3.3M112.5 369.7l4.3 -3.4M112.9 367.7l6.0 -3.0M135.3 345.3l5.6 -3.7M120.0 353.4l5.5 -3.6M116.8 362.8l3.0 -2.0M131.1 355.8l5.5 -3.4M141.4 341.7l5.7 -4.2M122.4 355.8l6.1 -2.8M148.0 341.5l7.2 -4.0M149.2 338.8l5.3 -3.2M147.8 342.3l3.1 -1.9M106.0 369.2l7.1 -4.2M107.3 360.4l5.2 -2.7M122.7 360.7l5.9 -3.8M120.8 347.1l6.5 -4.6M139.6 345.7l5.4 -2.9M122.1 347.3l6.2 -3.4M156.7 335.8l4.3 -2.1M100.7 367.4l5.9 -3.4"/>
<path stroke="#00ddcd" stroke-width="0.5" stroke-opacity="0.4" d="M102.4 374.8l5.4 -4.1M146.4 339.0l4.5 -2.1M121.2 347.8l7.1 -4.4M131.0 352.0l7.1 -4.6M102.1 374.0l3.6 -2.2"/>
<path stroke="#0096ff" stroke-width="1.1" d="M144.6 318.0l0.0 0.0"/>
<path stroke="#00b5ff" stroke-width="1.1" d="M151.6 329.0l0.0 0.0M154.9 329.4l0.0 0.0M156.1 338.1l0.0 0.0M145.0 332.5l0.0 0.0M140.8 321.6l0.0 0.0M148.0 339.8l0.0 0.0M142.4 336.5l0.0 0.0M143.0 345.1l0.0 0.0M138.3 339.5l0.0 0.0M147.9 331.6l0.0 0.0M143.7 317.4l0.0 0.0M147.1 326.6l0.0 0.0M150.6 341.9l0.0 0.0M168.9 320.5l0.0 0.0M143.3 325.8l0.0 0.0M137.3 339.1l0.0 0.0M137.5 338.6l0.0 0.0M149.1 329.1l0.0 0.0M143.0 337.6l0.0 0.0M151.3 325.8l0.0 0.0M166.4 325.5l0.0 0.0M156.8 336.8l0.0 0.0M161.1 334.7l0.0 0.0M137.7 320.7l0.0 0.0M139.2 336.2l0.0 0.0M149.8 341.0l0.0 0.0M159.2 337.2l0.0 0.0M153.9 335.2l0.0 0.0M141.2 336.6l0.0 0.0M166.7 323.8l0.0 0.0M146.9 343.8l0.0 0.0M150.8 331.0l0.0 0.0M144.0 325.2l0.0 0.0M144.3 328.3l0.0 0.0M147.8 335.2l0.0 0.0M158.4 338.6l0.0 0.0M157.3 334.6l0.0 0.0M142.8 325.2l0.0 0.0M161.9 334.4l0.0 0.0M154.1 336.5l0.0 0.0M165.5 331.1l0.0 0.0M157.3 335.0l0.0 0.0M155.7 337.5l0.0 0.0M145.2 345.5l0.0 0.0M149.8 333.7l0.0 0.0M153.6 338.9l0.0 0.0"/>
<path stroke="#00d4ff" stroke-width="1.1" d="M147.1 342.4l0.0 0.0M167.3 320.1l0.0 0.0M146.6 325.1l0.0 0.0M150.4 327.8l0.0 0.0M148.2 327.9l0.0 0.0M148.0 324.6l0.0 0.0M144.8 327.0l0.0 0.0M165.0 326.5l0.0 0.0M154.3 333.7l0.0 0.0M150.3 343.0l0.0 0.0M144.0 332.0l0.0 0.0M147.4 326.5l0.0 0.0M143.2 318.4l0.0 0.0M146.2 325.6l0.0 0.0M141.0 325.5l0.0 0.0M141.7 339.0l0.0 0.0M141.6 340.3l0.0 0.0M168.7 323.2l0.0 0.0M144.0 343.0l0.0 0.0M166.9 324.4l0.0 0.0M150.3 330.8l0.0 0.0M153.5 342.6l0.0 0.0M143.7 340.3l0.0 0.0M162.0 332.1l0.0 0.0M167.2 324.9l0.0 0.0M158.9 337.6l0.0 0.0M159.8 338.3l0.0 0.0M147.2 331.3l0.0 0.0M143.1 319.7l0.0 0.0M148.8 334.9l0.0 0.0M144.2 327.1l0.0 0.0M159.1 338.2l0.0 0.0M150.9 325.2l0.0 0.0M143.5 336.3l0.0 0.0M140.4 333.6l0.0 0.0M160.7 336.8l0.0 0.0M150.7 341.4l0.0 0.0M164.1 331.6l0.0 0.0M137.9 321.8l0.0 0.0M145.3 338.0l0.0 0.0M139.6 323.3l0.0 0.0M142.3 341.5l0.0 0.0M162.5 332.5l0.0 0.0M149.9 324.4l0.0 0.0M160.0 336.1l0.0 0.0M153.0 336.2l0.0 0.0M138.0 329.3l0.0 0.0M147.1 324.2l0.0 0.0M151.3 323.5l0.0 0.0M153.1 336.1l0.0 0.0M149.7 336.6l0.0 0.0M142.9 338.3l0.0 0.0M155.4 331.0l0.0 0.0M143.0 328.0l0.0 0.0M153.7 330.1l0.0 0.0M146.5 319.8l0.0 0.0"/>
<path stroke="#00d4ff" stroke-width="2.4" d="M32.0 363.8l13.0 -4.0"/>
<path stroke="#00d4ff" stroke-width="2.2" d="M42.0 359.0l11.0 -3.4"/>
<path stroke="#00d4ff" stroke-width="1.3" d="M52.8 354.3l2.7 -1.1"/>
<path stroke="#00d4ff" stroke-width="1.8" d="M56.5 350.8l4.9 -2.2"/>
<path stroke="#00d4ff" stroke-width="1.7" d="M61.0 348.3l7.5 -2.0"/>
<path stroke="#00d4ff" stroke-width="2.0" d="M68.0 347.5l11.0 -4.3"/>
<path stroke="#00d4ff" stroke-width="1.6" d="M80.5 344.8l4.0 -2.3"/>
<path stroke="#00d4ff" stroke-width="3.0" d="M89.5 340.3l16.0 -7.0"/>
<path stroke="#00dfec" stroke-width="1.1" d="M154.2 338.4l0.0 0.0M140.0 330.1l0.0 0.0M145.5 334.4l0.0 0.0M143.3 338.0l0.0 0.0M158.5 334.4l0.0 0.0M138.0 326.7l0.0 0.0M158.8 335.1l0.0 0.0M149.6 331.4l0.0 0.0M151.1 329.4l0.0 0.0M159.0 331.7l0.0 0.0M164.4 331.0l0.0 0.0M161.0 337.8l0.0 0.0M144.7 346.4l0.0 0.0M147.3 321.8l0.0 0.0M140.9 342.3l0.0 0.0M147.1 340.2l0.0 0.0M142.4 330.2l0.0 0.0M154.8 336.7l0.0 0.0M160.3 329.9l0.0 0.0M148.8 331.1l0.0 0.0M149.8 329.0l0.0 0.0M161.1 333.7l0.0 0.0M143.0 330.3l0.0 0.0M139.1 333.9l0.0 0.0M154.1 328.8l0.0 0.0M148.8 341.7l0.0 0.0M143.0 336.3l0.0 0.0M167.0 321.8l0.0 0.0M150.2 325.3l0.0 0.0M142.7 337.6l0.0 0.0M143.9 323.8l0.0 0.0M141.3 343.9l0.0 0.0M149.1 322.4l0.0 0.0M154.3 335.4l0.0 0.0M137.4 338.6l0.0 0.0M139.7 330.3l0.0 0.0M158.0 332.7l0.0 0.0M141.6 343.5l0.0 0.0M149.7 323.3l0.0 0.0"/>
<path stroke="#00dfec" stroke-width="0.7" d="M155.2 334.1l2.5 -2.2M158.5 338.6l1.4 -1.7M155.6 337.8l2.0 -3.5M140.2 342.2l4.3 -1.7M140.3 338.9l3.1 -3.2M152.9 335.0l2.5 -3.5M147.0 342.1l3.2 -3.3M163.9 333.7l2.2 -3.3M148.4 325.3l2.0 -1.6M145.1 337.9l3.5 -3.6M152.1 332.3l3.2 -1.8M145.7 323.2l2.3 -2.0M138.9 345.0l2.8 -1.8M150.7 338.7l3.3 -3.3M141.7 338.3l2.5 -4.1M149.6 334.8l1.4 -1.5"/>
<path stroke="#00dfec" stroke-width="1.0" d="M163.9 318.6l2.9 -0.7M132.8 310.8l0.7 -1.5M149.3 317.3l1.1 -2.2M135.7 310.1l1.3 -0.9M155.1 317.2l3.2 -1.2M144.1 311.8l2.1 -2.0M152.5 319.1l2.3 -2.6M156.6 315.7l1.9 -0.5M132.0 317.2l1.7 -1.0M165.9 317.3l1.7 -0.4M158.5 316.3l1.3 -0.7M131.9 318.7l1.1 -1.1M145.0 312.7l2.6 -1.5M128.5 318.7l0.6 -2.7"/>
<path stroke="#00ddcd" stroke-width="1.1" d="M164.9 327.4l0.0 0.0M141.4 342.0l0.0 0.0M150.8 331.9l0.0 0.0M150.3 323.4l0.0 0.0M141.6 321.2l0.0 0.0M141.8 335.9l0.0 0.0M152.0 325.6l0.0 0.0M144.6 329.2l0.0 0.0M145.8 324.2l0.0 0.0M140.5 339.5l0.0 0.0M149.3 328.2l0.0 0.0M144.9 340.3l0.0 0.0M155.7 341.2l0.0 0.0M137.8 334.7l0.0 0.0M147.2 343.8l0.0 0.0M149.6 332.5l0.0 0.0M143.1 328.0l0.0 0.0M142.9 337.5l0.0 0.0M137.5 324.0l0.0 0.0M152.2 324.4l0.0 0.0M155.0 333.1l0.0 0.0M147.2 332.1l0.0 0.0M140.7 322.6l0.0 0.0M142.4 340.1l0.0 0.0M162.1 334.0l0.0 0.0M151.5 339.5l0.0 0.0M144.1 322.3l0.0 0.0M142.4 342.9l0.0 0.0M140.6 331.4l0.0 0.0M144.4 333.0l0.0 0.0M146.7 328.7l0.0 0.0M158.6 337.9l0.0 0.0M149.6 344.6l0.0 0.0M168.2 320.6l0.0 0.0M162.5 333.8l0.0 0.0M150.3 336.2l0.0 0.0M142.1 344.0l0.0 0.0M163.9 329.2l0.0 0.0M140.4 334.1l0.0 0.0M164.6 327.7l0.0 0.0M159.9 338.7l0.0 0.0M146.1 327.0l0.0 0.0M158.6 333.5l0.0 0.0M151.0 325.6l0.0 0.0M36.7 362.0l2.7 -1.2M38.7 362.8l2.7 -1.2M45.3 357.4l2.7 -1.2M47.8 357.5l1.8 -0.8M57.0 349.8l2.7 -1.2M62.6 346.8l2.7 -1.2M68.7 347.8l2.7 -1.2M72.1 346.1l2.7 -1.2M81.8 345.4l1.8 -0.8M122.8 323.8l1.5 -2.6M123.2 328.3l1.5 -2.6M126.2 330.8l1.5 -2.6"/>
<path stroke="#00ddcd" stroke-width="0.7" d="M151.5 332.7l1.0 -1.8M149.2 331.2l2.3 -2.2M163.8 332.5l3.2 -2.5M164.2 332.1l2.2 -1.8M147.7 341.6l2.9 -2.2M163.9 331.5l2.8 -2.5M164.3 331.1l2.0 -1.8M143.0 332.4l1.4 -1.6M152.9 332.5l2.9 -3.3M147.5 345.0l3.3 -2.3M137.9 342.4l1.8 -1.6M138.2 342.2l1.2 -1.1M166.9 325.4l1.6 -3.3M139.1 336.5l2.7 -1.5M150.0 335.2l3.3 -3.3M164.1 330.1l2.4 -2.8M150.7 337.1l3.1 -1.9M141.3 339.8l3.6 -2.3M145.8 343.3l2.0 -3.1M148.3 326.1l3.0 -3.7M160.0 334.9l3.4 -2.3M143.2 336.6l1.9 -1.6M154.1 337.3l2.2 -1.4M158.7 336.1l2.5 -2.1M140.6 335.5l2.0 -1.4M140.3 331.9l3.3 -3.5M138.4 337.2l2.5 -1.8M145.3 328.8l2.4 -2.4M146.3 333.7l1.9 -1.6M141.0 333.0l4.0 -1.3M143.2 324.4l2.3 -1.7M141.4 319.5l2.2 -2.2M143.3 339.4l1.9 -3.3M163.3 333.5l2.8 -2.1M162.3 334.0l1.1 -2.5M142.1 346.0l2.7 -1.4M145.4 346.1l2.4 -1.4M145.7 345.9l1.7 -1.0M137.3 321.7l2.1 -2.7M146.4 334.6l1.9 -1.0M138.2 327.3l3.5 -2.2M138.7 327.0l2.4 -1.5M156.9 336.0l4.4 -2.3M157.6 335.6l3.1 -1.6M158.1 338.4l3.3 -2.8M148.1 328.2l3.5 -2.3M162.0 331.1l3.3 -2.8M162.5 330.7l2.3 -2.0M145.6 324.0l1.3 -1.9M145.8 323.7l0.9 -1.3M146.0 335.8l2.0 -1.7M148.4 341.1l1.6 -1.4M34.8 363.9l2.8 -1.0M36.4 362.5l1.5 -0.4M30.8 363.9l2.6 -1.0M41.4 360.7l2.2 -0.9M33.2 363.0l2.4 -0.8M36.7 361.9l2.6 -0.8M38.0 362.7l1.6 -0.5M38.2 362.7l1.1 -0.4M37.2 361.5l3.3 -1.0M46.8 356.8l1.8 -0.6M45.4 357.1l2.2 -0.7M41.9 358.2l2.1 -0.6M42.2 358.1l1.4 -0.4M43.0 358.5l1.7 -0.6M47.5 357.1l2.6 -0.6M46.7 357.3l2.9 -1.1M51.8 354.5l2.8 -1.1M52.2 354.4l2.0 -0.8M55.8 351.2l2.5 -1.1M56.6 350.5l2.6 -1.4M56.1 350.2l3.1 -1.4M62.2 347.8l3.3 -0.8M63.8 346.9l2.6 -0.6M61.4 347.5l1.8 -0.4M67.4 346.4l1.7 -0.3M71.0 346.4l1.7 -0.7M73.4 345.0l1.3 -0.7M73.6 344.9l0.9 -0.5M67.7 346.2l1.8 -0.7M71.4 346.8l2.5 -1.2M71.8 346.6l1.8 -0.8M67.8 347.3l2.6 -1.1M68.2 347.2l1.8 -0.8M75.5 345.1l1.8 -0.9M75.8 345.0l1.2 -0.7M69.0 346.7l3.2 -1.0M69.5 346.5l2.2 -0.7M79.9 344.7l1.5 -1.0M81.9 344.5l2.9 -1.7M82.3 344.2l2.0 -1.2M100.4 335.7l1.9 -1.0M101.7 336.1l3.1 -1.6M102.8 334.5l1.8 -0.7M91.9 338.5l2.8 -1.0M92.8 339.2l2.2 -1.0M92.7 339.7l2.2 -0.9M93.0 339.5l1.6 -0.7M99.5 337.2l2.0 -1.0M90.8 339.3l2.5 -1.2M91.2 339.1l1.7 -0.9M90.1 338.8l3.1 -1.4M91.1 340.2l1.5 -0.7"/>
<path stroke="#00ddcd" stroke-width="0.9" d="M150.5 334.3l3.1 -2.6M154.5 337.3l3.1 -2.6M116.9 358.0l2.3 -1.9M147.9 338.0l2.3 -1.9M149.8 314.1l0.7 -1.4M146.7 310.4l1.2 -2.4M155.6 317.3l0.6 -1.8M167.4 316.7l0.8 -2.4M157.0 319.4l1.6 -3.6M150.6 315.9l0.8 -1.6M163.5 317.0l1.6 -3.0M153.2 318.3l1.1 -2.4M158.4 315.2l1.9 -3.4M163.4 319.1l1.2 -3.1M164.2 315.8l0.8 -1.6M150.9 318.5l0.9 -1.3M158.2 315.0l1.3 -1.9M140.6 309.7l0.8 -2.6M150.9 319.8l0.3 -1.5M149.0 315.4l1.2 -3.2M162.9 318.0l1.5 -2.9M151.9 319.9l1.5 -3.0M161.8 314.9l1.8 -3.1M146.8 311.5l1.6 -2.8M146.7 312.3l1.3 -2.9M144.1 310.2l0.6 -1.6M169.1 313.6l0.9 -1.7M162.9 318.4l0.9 -2.9M151.1 318.6l1.3 -2.8M147.2 310.7l1.7 -2.0M147.3 313.7l1.5 -3.2M144.6 309.7l0.9 -2.7M157.8 315.2l0.6 -1.8M156.9 320.0l1.9 -2.9M150.8 314.6l0.4 -1.5M166.3 317.1l2.0 -2.7M167.0 316.0l1.1 -1.9M148.0 315.2l1.1 -2.0M144.9 312.1l1.1 -3.1M150.8 314.5l0.9 -2.1M147.9 317.0l1.7 -3.4M157.5 315.5l1.2 -2.2M147.2 312.8l1.3 -3.1M158.4 317.9l0.9 -3.2M150.4 318.2l1.6 -2.9M157.3 315.3l1.0 -2.1M157.2 315.0l1.3 -2.6M151.4 317.8l1.0 -2.1M149.0 319.6l1.1 -3.5M148.4 317.7l1.3 -3.7M140.3 312.1l1.4 -3.4M156.7 316.4l0.8 -1.7M156.8 315.9l1.0 -1.7M150.8 320.4l1.0 -3.1M165.8 317.5l0.6 -1.7M162.5 317.8l0.6 -1.7M158.4 317.9l0.9 -2.5M148.2 313.4l1.1 -1.7M168.5 315.9l0.7 -1.8M142.4 310.8l0.5 -1.5M168.6 315.3l0.8 -1.8M161.7 318.6l1.3 -3.5M143.5 311.8l2.0 -2.8M142.9 309.9l0.9 -1.6"/>
<path stroke="#00ddcd" stroke-width="1.7" d="M90.2 339.6l3.7 -1.6M93.2 338.5l4.6 -2.0M97.2 336.8l4.6 -2.0M101.2 335.4l3.7 -1.6"/>
<path stroke="#00ddcd" stroke-width="0.8" d="M121.1 325.3l1.4 -4.9M120.5 325.8l1.2 -4.2M121.7 325.4l1.7 -5.7M124.8 328.8l1.9 -3.4M124.4 320.8l1.4 -3.7M123.5 327.3l1.8 -5.0M123.9 325.5l2.3 -4.5M123.0 330.2l1.5 -4.9M122.5 325.9l1.2 -3.4M122.8 325.5l1.9 -4.9M125.1 327.6l1.9 -4.3M123.7 319.8l1.4 -3.3"/>
<path stroke="#00ddcd" stroke-width="1.0" d="M157.6 314.1l0.7 -1.6M158.7 314.9l3.3 -1.0M165.5 314.7l2.2 -1.8M148.5 311.7l1.1 -2.2M150.7 317.4l2.1 -1.2M137.5 311.2l2.2 -0.8M137.9 311.0l1.5 -0.6M164.1 317.9l1.9 -1.3M162.9 318.0l2.1 -1.6M133.0 316.6l2.1 -2.8M165.7 316.3l2.1 -2.5M129.8 317.1l1.6 -1.3M167.5 315.0l3.3 -1.1M142.7 312.5l1.9 -1.8M151.3 318.1l2.1 -1.8M137.7 310.1l1.4 -1.2M150.0 317.2l1.2 -1.4M145.5 310.6l2.4 0.6M140.5 311.0l1.2 -2.9M147.7 315.6l2.5 -2.3M145.3 313.5l1.9 -2.3M167.5 314.7l2.6 -1.3M137.2 313.2l1.1 -2.0M145.8 310.4l1.6 -0.4M132.9 319.5l1.1 -3.1M133.0 319.0l0.8 -2.2M156.1 316.6l2.8 -1.0M151.4 317.4l1.9 -1.3M129.1 316.6l2.4 -2.1M129.5 316.3l1.7 -1.5M141.3 309.9l1.6 -1.7M168.7 311.7l1.7 -0.6M143.1 309.4l2.1 -2.2M133.2 313.3l2.6 -2.3M133.4 316.2l2.1 -2.4M151.1 316.9l2.0 -2.3M151.4 316.6l1.4 -1.6M149.6 316.4l1.5 -1.5M149.8 316.2l1.1 -1.1M149.5 317.3l1.7 -1.5M138.8 311.4l2.8 -0.8M149.5 315.3l2.1 -2.4M151.7 318.5l0.6 -1.6M151.8 318.2l0.4 -1.1M150.3 315.5l1.7 -0.9M134.2 317.7l1.0 -1.7M134.5 313.7l1.8 -1.0M160.2 317.6l-0.3 -3.0M133.5 315.3l1.1 -1.8M139.7 311.4l2.3 -1.0M140.1 311.2l1.6 -0.7M131.7 316.4l1.2 -1.6M131.9 316.2l0.9 -1.1M142.5 310.8l2.7 -1.9M154.4 315.6l2.5 -1.3M155.5 318.3l1.3 -0.8M168.5 317.1l1.5 -1.5M168.7 316.9l1.0 -1.0M162.7 317.8l2.5 -1.0M131.3 317.8l1.7 -2.1M154.1 315.4l1.5 -2.5M140.5 308.5l2.4 -0.9M140.8 308.4l1.7 -0.6M157.1 316.3l2.6 -1.3M157.4 316.1l1.8 -0.9M137.3 312.7l1.4 -1.9M158.7 314.3l2.7 -1.5M167.7 312.1l2.1 -1.2M139.6 310.6l1.6 -1.3M140.8 308.5l2.6 -2.0M151.8 316.6l1.2 -1.4M147.9 313.5l2.1 -1.0M148.8 314.8l1.9 -1.1M142.2 308.8l2.2 -1.9M134.9 313.9l2.3 -0.9M160.9 313.7l1.1 -1.1M161.1 313.5l0.8 -0.7M151.4 320.1l2.5 -0.2"/>
<path stroke="#00ddcd" stroke-width="1.3" d="M140.4 311.4l1.3 -2.7M145.7 311.8l1.7 -3.6M149.2 317.8l1.7 -3.6M150.9 319.9l1.3 -2.7M153.4 316.9l1.3 -2.7M156.9 316.4l1.3 -2.7M160.4 316.4l1.3 -2.7M165.9 317.4l1.3 -2.7M162.9 315.9l1.3 -2.7M168.4 315.4l1.3 -2.7"/>
<path stroke="#0dd7a2" stroke-width="1.1" d="M151.4 340.9l0.0 0.0M146.2 323.0l0.0 0.0M144.8 335.6l0.0 0.0M148.1 341.1l0.0 0.0M164.8 328.1l0.0 0.0M139.8 320.9l0.0 0.0M137.8 328.1l0.0 0.0M155.8 335.4l0.0 0.0M149.4 336.4l0.0 0.0M138.2 327.4l0.0 0.0M166.2 327.2l0.0 0.0M155.8 331.1l0.0 0.0M155.9 335.3l0.0 0.0M153.9 337.3l0.0 0.0M138.9 321.5l0.0 0.0M147.4 338.6l0.0 0.0M169.8 320.1l0.0 0.0M138.4 329.0l0.0 0.0M151.0 322.9l0.0 0.0M138.0 333.9l0.0 0.0M156.8 337.9l0.0 0.0M148.9 329.5l0.0 0.0M148.0 321.4l0.0 0.0M145.1 331.5l0.0 0.0M155.8 334.2l0.0 0.0M145.0 340.6l0.0 0.0M137.6 339.8l0.0 0.0M161.1 334.4l0.0 0.0M160.7 332.9l0.0 0.0M148.5 331.2l0.0 0.0M147.1 331.6l0.0 0.0M137.6 323.5l0.0 0.0M141.6 336.5l0.0 0.0M157.9 333.6l0.0 0.0M149.7 328.9l0.0 0.0M139.7 320.6l0.0 0.0M147.1 327.6l0.0 0.0M158.2 335.8l0.0 0.0M146.5 319.7l0.0 0.0M141.1 326.4l0.0 0.0M145.2 333.6l0.0 0.0M144.7 330.1l0.0 0.0M150.4 332.7l0.0 0.0M147.9 336.5l0.0 0.0M140.7 342.9l0.0 0.0M153.7 332.5l0.0 0.0M159.8 330.1l0.0 0.0M146.6 340.4l0.0 0.0M154.9 342.5l0.0 0.0M167.7 319.4l0.0 0.0M138.4 328.3l0.0 0.0M145.8 338.0l0.0 0.0M159.1 333.7l0.0 0.0M165.9 325.2l0.0 0.0M168.0 318.9l0.0 0.0"/>
<path stroke="#0dd7a2" stroke-width="0.7" d="M139.5 336.3l1.9 -1.1M151.2 336.8l2.2 -1.4M146.1 342.9l1.4 -2.2M143.5 336.4l1.4 -1.1M154.4 337.0l1.5 -1.0M140.8 331.3l2.3 -2.5M142.5 345.8l1.9 -1.0M41.7 360.6l1.5 -0.6M45.7 357.0l1.5 -0.5M56.2 351.1l1.8 -0.8M62.7 347.7l2.3 -0.5M61.6 347.4l1.2 -0.3M67.6 346.3l1.2 -0.2M80.1 344.6l1.1 -0.7"/>
<path stroke="#0dd7a2" stroke-width="1.0" d="M166.1 316.0l1.5 -1.7M168.0 314.9l2.3 -0.8M151.6 317.9l1.5 -1.3M148.1 315.3l1.8 -1.6M167.9 314.5l1.8 -0.9M146.1 310.4l1.1 -0.3M156.6 316.5l2.0 -0.7M169.0 311.6l1.2 -0.4M133.6 313.0l1.8 -1.6M149.8 317.0l1.2 -1.0M139.2 311.3l2.0 -0.6M149.9 314.9l1.5 -1.7M155.7 318.2l0.9 -0.6M168.0 312.0l1.5 -0.8M141.2 308.2l1.8 -1.4M152.0 316.4l0.8 -1.0M149.1 314.6l1.3 -0.8"/>
<path stroke="#21d071" stroke-width="1.1" d="M144.4 346.4l0.0 0.0M139.9 327.7l0.0 0.0M140.9 324.0l0.0 0.0M139.1 329.5l0.0 0.0M154.0 339.5l0.0 0.0M163.5 332.7l0.0 0.0M139.3 332.8l0.0 0.0M166.8 321.4l0.0 0.0M150.8 340.6l0.0 0.0M149.9 340.7l0.0 0.0M162.7 334.2l0.0 0.0M160.9 336.4l0.0 0.0M139.8 326.6l0.0 0.0M150.3 326.3l0.0 0.0M145.4 333.1l0.0 0.0M140.7 325.6l0.0 0.0M168.0 324.6l0.0 0.0M153.7 330.6l0.0 0.0M139.0 320.8l0.0 0.0M161.3 331.3l0.0 0.0M141.9 325.4l0.0 0.0M154.2 337.2l0.0 0.0M149.7 335.5l0.0 0.0M150.5 321.8l0.0 0.0M145.9 322.9l0.0 0.0M153.0 327.6l0.0 0.0M146.0 330.5l0.0 0.0M140.6 332.2l0.0 0.0M146.3 334.8l0.0 0.0M144.1 338.5l0.0 0.0M158.7 335.9l0.0 0.0M147.0 321.4l0.0 0.0M164.9 330.4l0.0 0.0M143.7 323.4l0.0 0.0M144.6 330.1l0.0 0.0M141.3 335.3l0.0 0.0M143.8 333.2l0.0 0.0M143.8 335.7l0.0 0.0M140.1 320.6l0.0 0.0M138.4 325.3l0.0 0.0M143.7 322.3l0.0 0.0M167.1 324.2l0.0 0.0M159.7 334.9l0.0 0.0M155.7 337.3l0.0 0.0M157.1 330.8l0.0 0.0M158.1 337.6l0.0 0.0M143.7 318.1l0.0 0.0M146.7 337.7l0.0 0.0M167.1 329.1l0.0 0.0M139.8 340.4l0.0 0.0"/>
<path stroke="#21d071" stroke-width="0.7" d="M143.2 332.2l1.0 -1.1M148.0 344.7l2.3 -1.6M160.5 334.6l2.4 -1.6M162.5 333.6l0.8 -1.8M137.6 321.3l1.5 -1.9M146.6 334.4l1.3 -0.7M31.2 363.7l1.8 -0.7M47.9 357.0l1.8 -0.4M64.2 346.8l1.8 -0.4M68.0 346.1l1.3 -0.5M93.1 339.1l1.6 -0.7"/>
<path stroke="#21d071" stroke-width="0.9" d="M117.2 357.7l1.6 -1.3M164.3 315.6l0.6 -1.1M158.5 314.7l0.9 -1.3M157.5 315.0l0.7 -1.5"/>
<path stroke="#21d071" stroke-width="0.8" d="M122.0 324.6l1.2 -4.0M122.7 325.4l0.8 -2.4"/>
<path stroke="#21d071" stroke-width="1.0" d="M145.8 310.6l1.7 0.4M137.3 312.9l0.8 -1.4M133.7 315.9l1.5 -1.7M133.7 315.1l0.8 -1.3M154.3 315.0l1.0 -1.8M137.5 312.4l1.0 -1.3M159.1 314.1l1.9 -1.0M142.5 308.5l1.5 -1.3M151.8 320.0l1.7 -0.2"/>
<path stroke="#46d34f" stroke-width="1.1" d="M147.5 319.1l0.0 0.0M138.9 322.9l0.0 0.0M160.1 333.0l0.0 0.0M141.0 332.1l0.0 0.0M153.1 343.2l0.0 0.0M151.4 324.6l0.0 0.0M138.3 338.8l0.0 0.0M152.0 341.9l0.0 0.0M139.3 337.0l0.0 0.0M57.0 350.6l3.9 -1.8"/>
<path stroke="#46d34f" stroke-width="0.7" d="M149.6 330.9l1.6 -1.5M153.3 332.0l2.0 -2.3M167.2 324.9l1.1 -2.3M159.0 335.8l1.7 -1.4M140.9 335.3l1.4 -1.0M141.6 332.8l2.8 -0.9M146.3 335.5l1.4 -1.2M148.6 340.8l1.1 -0.9M35.2 363.7l2.0 -0.7M33.6 362.9l1.7 -0.5M37.7 361.3l2.3 -0.7M43.3 358.4l1.2 -0.4M47.2 357.2l2.0 -0.8M102.2 335.9l2.2 -1.1M103.1 334.4l1.3 -0.5"/>
<path stroke="#46d34f" stroke-width="0.9" d="M148.2 337.7l1.6 -1.3M149.9 313.9l0.5 -1.0M155.6 317.1l0.4 -1.2M163.8 316.6l1.1 -2.1M163.1 318.0l0.6 -2.0M157.0 315.6l0.7 -1.2M158.6 317.5l0.6 -1.8M143.0 309.7l0.6 -1.2"/>
<path stroke="#46d34f" stroke-width="1.4" d="M33.3 363.4l10.4 -3.2"/>
<path stroke="#46d34f" stroke-width="1.3" d="M43.1 358.7l8.8 -2.7"/>
<path stroke="#46d34f" stroke-width="0.8" d="M53.1 354.2l2.2 -0.9M120.7 325.1l0.8 -3.0M125.0 328.3l1.3 -2.4M124.2 324.9l1.6 -3.2"/>
<path stroke="#46d34f" stroke-width="1.0" d="M61.8 348.1l6.0 -1.6M80.9 344.6l3.2 -1.8"/>
<path stroke="#46d34f" stroke-width="1.2" d="M69.1 347.1l8.8 -3.4"/>
<path stroke="#46d34f" stroke-width="1.8" d="M91.1 339.6l12.8 -5.6"/>
<path stroke="#74dd37" stroke-width="0.9" d="M150.9 333.9l2.1 -1.8M154.9 336.9l2.1 -1.8M167.5 316.3l0.5 -1.7M151.3 318.2l0.9 -2.0M148.2 314.9l0.8 -1.4M145.1 311.7l0.8 -2.2"/>
<path stroke="#74dd37" stroke-width="0.7" d="M36.6 362.5l1.0 -0.3M37.1 361.8l1.8 -0.6M56.6 350.0l2.2 -1.0M71.2 346.3l1.2 -0.5M91.3 340.1l1.0 -0.5"/>
<path stroke="#a0e324" stroke-width="0.7" d="M47.1 356.7l1.3 -0.4M57.0 350.3l1.8 -1.0"/>
<path stroke="#a0e324" stroke-width="1.1" d="M69.1 347.6l1.9 -0.9"/>
<path stroke="#a0e324" stroke-width="0.9" d="M150.7 315.7l0.6 -1.1M152.1 319.4l1.0 -2.1M162.1 314.5l1.3 -2.2M167.2 315.7l0.7 -1.4M150.9 314.2l0.6 -1.5M151.5 317.5l0.7 -1.4M156.9 316.1l0.6 -1.2M162.6 317.5l0.4 -1.2M148.4 313.1l0.8 -1.2"/>
<path stroke="#cae714" stroke-width="0.7" d="M57.0 349.8l1.4 -0.6M71.5 346.2l0.8 -0.3M92.3 338.4l2.0 -0.7M90.6 338.6l2.1 -1.0M91.5 340.0l0.7 -0.3"/>
<path stroke="#cae714" stroke-width="1.1" d="M37.1 361.8l1.9 -0.9M39.1 362.6l1.9 -0.9M45.7 357.2l1.9 -0.9M48.1 357.4l1.3 -0.6M57.4 349.6l1.9 -0.9M63.0 346.6l1.9 -0.9M72.5 345.9l1.9 -0.9M82.1 345.3l1.3 -0.6M123.5 327.9l1.1 -1.8"/>
<path stroke="#cae714" stroke-width="0.9" d="M150.0 313.7l0.3 -0.6M167.6 316.0l0.3 -1.1M163.2 317.6l1.1 -2.0M145.2 311.3l0.5 -1.4M158.6 317.4l0.7 -2.3M161.9 318.0l0.9 -2.5"/>
<path stroke="#f3ea04" stroke-width="0.9" d="M151.3 333.6l1.4 -1.2M155.3 336.6l1.4 -1.2M140.8 309.3l0.5 -1.8M162.3 314.1l0.8 -1.4M147.0 311.1l1.1 -1.9M144.2 309.9l0.4 -1.1M151.5 317.8l0.6 -1.3M157.1 319.6l1.3 -2.0M166.6 316.7l1.4 -1.9M167.3 315.5l0.5 -0.9M148.3 314.7l0.5 -0.9M151.7 317.2l0.4 -0.9M149.1 319.1l0.8 -2.4M165.9 317.3l0.4 -1.2M162.7 317.3l0.3 -0.8M142.4 310.6l0.3 -1.0M143.8 311.4l1.4 -1.9"/>
<path stroke="#f3ea04" stroke-width="0.7" d="M36.8 362.4l0.7 -0.2M37.4 361.7l1.2 -0.4M57.3 350.1l1.2 -0.6"/>
<path stroke="#f3ea04" stroke-width="1.1" d="M123.0 323.4l1.1 -1.8"/>
<path stroke="#f3ea04" stroke-width="1.3" d="M140.6 311.0l0.9 -1.9M168.6 315.0l0.9 -1.9"/>
<path stroke="#ffd900" stroke-width="0.7" d="M47.3 356.6l0.8 -0.3M99.8 337.0l1.4 -0.7"/>
<path stroke="#ffd900" stroke-width="1.1" d="M69.5 347.5l1.2 -0.5M126.5 330.4l1.1 -1.8"/>
<path stroke="#ffd900" stroke-width="0.9" d="M146.9 310.0l0.8 -1.7M150.8 315.5l0.4 -0.7M158.7 314.7l1.3 -2.4M150.9 319.6l0.2 -1.0M149.2 314.9l0.8 -2.2M152.3 319.0l0.7 -1.4M169.3 313.4l0.6 -1.2M147.4 310.4l1.2 -1.4M147.5 313.2l1.1 -2.3M151.0 313.9l0.4 -1.0M157.4 314.6l0.9 -1.8M157.0 315.9l0.4 -0.7M150.9 320.0l0.7 -2.2M148.5 312.9l0.5 -0.8"/>
<path stroke="#ffd900" stroke-width="1.3" d="M145.9 311.3l1.2 -2.5M153.6 316.5l0.9 -1.9M160.6 316.0l0.9 -1.9M163.1 315.5l0.9 -1.9"/>
<path stroke="#ffbf00" stroke-width="0.7" d="M100.7 335.6l1.4 -0.7M92.7 338.2l1.3 -0.5M91.0 338.4l1.4 -0.6"/>
<path stroke="#ffbf00" stroke-width="1.1" d="M39.5 362.5l1.2 -0.5M48.3 357.3l0.8 -0.4M57.8 349.5l1.2 -0.5M63.4 346.5l1.2 -0.5M72.9 345.8l1.2 -0.5M82.3 345.2l0.8 -0.4"/>
<path stroke="#ffbf00" stroke-width="0.9" d="M157.3 318.9l1.1 -2.5M153.4 318.0l0.8 -1.7M163.6 318.7l0.8 -2.2M151.0 318.3l0.6 -0.9M163.4 317.3l0.7 -1.3M146.9 311.9l0.9 -2.0M144.8 309.3l0.6 -1.9M157.9 314.9l0.4 -1.2M150.8 314.4l0.3 -1.0M148.1 316.5l1.2 -2.4M157.7 315.2l0.8 -1.6M147.4 312.3l0.9 -2.1M158.7 317.0l0.4 -1.5M150.7 317.8l1.1 -2.0M148.6 317.1l0.9 -2.6M140.5 311.6l1.0 -2.4M168.6 315.6l0.5 -1.3M168.7 315.0l0.5 -1.2M162.1 317.6l0.6 -1.6"/>
<path stroke="#ffa600" stroke-width="1.1" d="M37.5 361.7l1.2 -0.5M46.1 357.1l1.2 -0.5M123.7 327.6l0.7 -1.2"/>
<path stroke="#ffa600" stroke-width="1.7" d="M90.7 339.4l2.6 -1.1M101.7 335.2l2.6 -1.1"/>
<path stroke="#ffa600" stroke-width="0.9" d="M157.4 319.2l0.8 -1.3M166.9 316.4l0.9 -1.2M149.3 318.7l0.5 -1.6M165.9 317.1l0.3 -0.8M142.5 310.4l0.2 -0.7M144.0 311.1l0.9 -1.2"/>
<path stroke="#ffa600" stroke-width="1.3" d="M149.4 317.3l1.2 -2.5M151.1 319.5l0.9 -1.9M157.1 316.0l0.9 -1.9"/>
<path stroke="#fd8b00" stroke-width="0.7" d="M93.0 338.1l0.7 -0.3M91.3 338.2l0.8 -0.4"/>
<path stroke="#fd8b00" stroke-width="1.7" d="M93.9 338.2l3.2 -1.4M97.9 336.5l3.2 -1.4"/>
<path stroke="#fd8b00" stroke-width="1.1" d="M123.2 323.1l0.7 -1.2"/>
<path stroke="#fd8b00" stroke-width="0.9" d="M140.8 309.0l0.3 -1.2M147.2 310.7l0.7 -1.2M144.3 309.7l0.3 -0.7M158.8 316.7l0.2 -0.8M151.0 319.6l0.4 -1.4M162.2 317.2l0.3 -0.9"/>
<path stroke="#fd8b00" stroke-width="1.3" d="M140.7 310.6l0.6 -1.2M166.1 317.0l0.9 -1.9M168.7 314.6l0.6 -1.2"/>
<path stroke="#f86d00" stroke-width="0.7" d="M100.0 336.9l0.9 -0.5"/>
<path stroke="#f86d00" stroke-width="1.1" d="M37.8 361.6l0.7 -0.3M46.4 357.0l0.7 -0.3M123.8 327.3l0.4 -0.6M126.7 330.1l0.7 -1.2"/>
<path stroke="#f86d00" stroke-width="0.9" d="M147.0 309.7l0.5 -1.1M149.3 314.6l0.5 -1.4M169.4 313.1l0.4 -0.8M147.6 310.1l0.7 -0.9M147.7 312.8l0.7 -1.5M157.5 319.0l0.5 -0.7M167.1 316.1l0.5 -0.7M157.6 314.3l0.6 -1.2M166.0 316.9l0.2 -0.4M142.5 310.3l0.1 -0.4M144.2 310.8l0.5 -0.7"/>
<path stroke="#f86d00" stroke-width="1.3" d="M153.7 316.1l0.6 -1.2M163.2 315.1l0.6 -1.2"/>
<path stroke="#f34f00" stroke-width="1.1" d="M123.3 322.8l0.4 -0.6"/>
<path stroke="#f34f00" stroke-width="0.9" d="M157.5 318.4l0.7 -1.6M153.5 317.7l0.5 -1.1M158.9 314.3l0.8 -1.5M163.7 318.3l0.5 -1.4M151.1 318.1l0.4 -0.6M140.9 308.7l0.2 -0.6M151.0 319.4l0.1 -0.7M147.4 310.4l0.4 -0.7M147.1 311.5l0.6 -1.3M144.4 309.6l0.1 -0.4M144.9 309.0l0.4 -1.2M150.9 314.2l0.2 -0.7M148.3 316.1l0.8 -1.5M157.8 314.9l0.5 -1.0M147.5 311.9l0.6 -1.4M150.9 317.4l0.7 -1.3M149.4 318.3l0.3 -0.9M148.8 316.7l0.6 -1.7M140.7 311.2l0.6 -1.5M168.7 315.4l0.3 -0.8M168.8 314.8l0.3 -0.8"/>
<path stroke="#f34f00" stroke-width="1.3" d="M140.8 310.3l0.3 -0.7M146.1 310.8l0.8 -1.6M160.7 315.6l0.6 -1.2M168.8 314.3l0.3 -0.7"/>
<path stroke="#ea3100" stroke-width="0.7" d="M100.9 335.5l0.9 -0.4M100.2 336.8l0.5 -0.3"/>
<path stroke="#ea3100" stroke-width="1.1" d="M126.8 329.8l0.4 -0.6"/>
<path stroke="#ea3100" stroke-width="0.9" d="M147.2 309.5l0.3 -0.6M169.5 313.0l0.2 -0.4M147.8 309.9l0.4 -0.5M147.9 312.5l0.4 -0.8M157.9 314.7l0.3 -0.8M151.1 319.3l0.2 -0.8"/>
<path stroke="#ea3100" stroke-width="1.3" d="M153.8 315.8l0.3 -0.7M163.3 314.8l0.3 -0.7"/>
<path stroke="#d91400" stroke-width="1.7" d="M91.2 339.2l1.6 -0.7M102.2 335.0l1.6 -0.7"/>
<path stroke="#d91400" stroke-width="0.9" d="M157.6 318.1l0.4 -0.9M159.1 314.0l0.5 -0.8M151.0 319.3l0.1 -0.4M149.5 314.2l0.3 -0.8M147.2 311.2l0.3 -0.7M144.9 308.7l0.2 -0.7M158.0 314.7l0.3 -0.6M157.7 314.0l0.3 -0.6M148.9 316.3l0.3 -0.9M140.9 310.8l0.4 -0.8"/>
<path stroke="#d91400" stroke-width="1.3" d="M146.3 310.5l0.4 -0.9M149.6 316.8l0.8 -1.6M151.2 319.1l0.6 -1.2M157.2 315.6l0.6 -1.2M160.8 315.3l0.3 -0.7"/>
<path stroke="#c60000" stroke-width="1.7" d="M94.5 338.0l2.1 -0.9M98.5 336.3l2.1 -0.9"/>
<path stroke="#c60000" stroke-width="0.9" d="M153.6 317.4l0.3 -0.6M163.8 318.0l0.3 -0.8M151.2 318.0l0.2 -0.3M158.0 314.5l0.1 -0.4M150.9 314.1l0.1 -0.4M148.5 315.8l0.4 -0.8M147.7 311.6l0.3 -0.8M151.0 317.1l0.4 -0.7M168.7 315.2l0.2 -0.5M168.9 314.6l0.2 -0.4"/>
<path stroke="#c60000" stroke-width="1.3" d="M166.2 316.6l0.6 -1.2"/>
<path stroke="#b20000" stroke-width="0.7" d="M101.1 335.4l0.5 -0.2"/>
<path stroke="#9e0000" stroke-width="1.7" d="M91.5 339.0l0.9 -0.4M102.5 334.8l0.9 -0.4"/>
<path stroke="#9e0000" stroke-width="1.3" d="M149.8 316.5l0.4 -0.9M151.3 318.8l0.3 -0.7M157.3 315.3l0.3 -0.7"/>
<path stroke="#8e0000" stroke-width="1.7" d="M94.9 337.8l1.1 -0.5M98.9 336.1l1.1 -0.5"/>
<path stroke="#8e0000" stroke-width="1.3" d="M166.3 316.3l0.3 -0.7"/>
</g>
<rect x="28.6" y="292.9" width="148.9" height="98.30000000000001" fill="none" stroke="#808080" stroke-width="1.0"/>
<line x1="46.20" y1="391.2" x2="46.20" y2="389.7" stroke="#808080" stroke-width="0.6"/>
<line x1="46.20" y1="292.9" x2="46.20" y2="294.4" stroke="#808080" stroke-width="0.6"/>
<line x1="82.60" y1="391.2" x2="82.60" y2="389.7" stroke="#808080" stroke-width="0.6"/>
<line x1="82.60" y1="292.9" x2="82.60" y2="294.4" stroke="#808080" stroke-width="0.6"/>
<line x1="119.00" y1="391.2" x2="119.00" y2="389.7" stroke="#808080" stroke-width="0.6"/>
<line x1="119.00" y1="292.9" x2="119.00" y2="294.4" stroke="#808080" stroke-width="0.6"/>
<line x1="155.40" y1="391.2" x2="155.40" y2="389.7" stroke="#808080" stroke-width="0.6"/>
<line x1="155.40" y1="292.9" x2="155.40" y2="294.4" stroke="#808080" stroke-width="0.6"/>
<line x1="28.6" y1="306.75" x2="30.1" y2="306.75" stroke="#808080" stroke-width="0.6"/>
<line x1="177.5" y1="306.75" x2="176.0" y2="306.75" stroke="#808080" stroke-width="0.6"/>
<line x1="28.6" y1="325.20" x2="30.1" y2="325.20" stroke="#808080" stroke-width="0.6"/>
<line x1="177.5" y1="325.20" x2="176.0" y2="325.20" stroke="#808080" stroke-width="0.6"/>
<line x1="28.6" y1="343.65" x2="30.1" y2="343.65" stroke="#808080" stroke-width="0.6"/>
<line x1="177.5" y1="343.65" x2="176.0" y2="343.65" stroke="#808080" stroke-width="0.6"/>
<line x1="28.6" y1="362.10" x2="30.1" y2="362.10" stroke="#808080" stroke-width="0.6"/>
<line x1="177.5" y1="362.10" x2="176.0" y2="362.10" stroke="#808080" stroke-width="0.6"/>
<line x1="28.6" y1="380.55" x2="30.1" y2="380.55" stroke="#808080" stroke-width="0.6"/>
<line x1="177.5" y1="380.55" x2="176.0" y2="380.55" stroke="#808080" stroke-width="0.6"/>
<text x="44.32" y="400.00" font-size="7.5" text-anchor="middle" fill="#222" stroke="#222" stroke-width="0.15">−10</text>
<text x="82.60" y="400.00" font-size="7.5" text-anchor="middle" fill="#222" stroke="#222" stroke-width="0.15">0</text>
<text x="119.00" y="400.00" font-size="7.5" text-anchor="middle" fill="#222" stroke="#222" stroke-width="0.15">10</text>
<text x="155.40" y="400.00" font-size="7.5" text-anchor="middle" fill="#222" stroke="#222" stroke-width="0.15">20</text>
<text x="27.00" y="309.45" font-size="7.5" text-anchor="end" fill="#222" stroke="#222" stroke-width="0.15">−5</text>
<text x="27.00" y="327.90" font-size="7.5" text-anchor="end" fill="#222" stroke="#222" stroke-width="0.15">−10</text>
<text x="27.00" y="346.35" font-size="7.5" text-anchor="end" fill="#222" stroke="#222" stroke-width="0.15">−15</text>
<text x="27.00" y="364.80" font-size="7.5" text-anchor="end" fill="#222" stroke="#222" stroke-width="0.15">−20</text>
<text x="27.00" y="383.25" font-size="7.5" text-anchor="end" fill="#222" stroke="#222" stroke-width="0.15">−25</text>
<text x="103.00" y="407.50" font-size="7.7" text-anchor="middle" fill="#222" stroke="#222" stroke-width="0.15">Eastings from OAWRS source (km)</text>
<text x="11.00" y="342.00" font-size="7.7" text-anchor="middle" fill="#222" stroke="#222" stroke-width="0.15" transform="rotate(-90 11.0 342.0)">Northings from OAWRS source (km)</text>
<rect x="184.6" y="293.2" width="10.099999999999994" height="97.40000000000003" fill="url(#sjet)"/>
<rect x="184.6" y="293.2" width="10.099999999999994" height="97.40000000000003" fill="none" stroke="#808080" stroke-width="0.5"/>
<line x1="194.7" y1="300.30" x2="193.5" y2="300.30" stroke="#808080" stroke-width="0.5"/>
<line x1="184.6" y1="300.30" x2="185.79999999999998" y2="300.30" stroke="#808080" stroke-width="0.5"/>
<text x="196.30" y="303.00" font-size="7.5" text-anchor="start" fill="#222" stroke="#222" stroke-width="0.15">−28</text>
<line x1="194.7" y1="315.25" x2="193.5" y2="315.25" stroke="#808080" stroke-width="0.5"/>
<line x1="184.6" y1="315.25" x2="185.79999999999998" y2="315.25" stroke="#808080" stroke-width="0.5"/>
<text x="196.30" y="317.95" font-size="7.5" text-anchor="start" fill="#222" stroke="#222" stroke-width="0.15">−30</text>
<line x1="194.7" y1="330.20" x2="193.5" y2="330.20" stroke="#808080" stroke-width="0.5"/>
<line x1="184.6" y1="330.20" x2="185.79999999999998" y2="330.20" stroke="#808080" stroke-width="0.5"/>
<text x="196.30" y="332.90" font-size="7.5" text-anchor="start" fill="#222" stroke="#222" stroke-width="0.15">−32</text>
<line x1="194.7" y1="345.15" x2="193.5" y2="345.15" stroke="#808080" stroke-width="0.5"/>
<line x1="184.6" y1="345.15" x2="185.79999999999998" y2="345.15" stroke="#808080" stroke-width="0.5"/>
<text x="196.30" y="347.85" font-size="7.5" text-anchor="start" fill="#222" stroke="#222" stroke-width="0.15">−34</text>
<line x1="194.7" y1="360.10" x2="193.5" y2="360.10" stroke="#808080" stroke-width="0.5"/>
<line x1="184.6" y1="360.10" x2="185.79999999999998" y2="360.10" stroke="#808080" stroke-width="0.5"/>
<text x="196.30" y="362.80" font-size="7.5" text-anchor="start" fill="#222" stroke="#222" stroke-width="0.15">−36</text>
<line x1="194.7" y1="375.05" x2="193.5" y2="375.05" stroke="#808080" stroke-width="0.5"/>
<line x1="184.6" y1="375.05" x2="185.79999999999998" y2="375.05" stroke="#808080" stroke-width="0.5"/>
<text x="196.30" y="377.75" font-size="7.5" text-anchor="start" fill="#222" stroke="#222" stroke-width="0.15">−38</text>
<line x1="194.7" y1="390.00" x2="193.5" y2="390.00" stroke="#808080" stroke-width="0.5"/>
<line x1="184.6" y1="390.00" x2="185.79999999999998" y2="390.00" stroke="#808080" stroke-width="0.5"/>
<text x="196.30" y="392.70" font-size="7.5" text-anchor="start" fill="#222" stroke="#222" stroke-width="0.15">−40</text>
<text x="217.00" y="343.00" font-size="7.5" text-anchor="middle" fill="#222" stroke="#222" stroke-width="0.15" transform="rotate(-90 217.0 343.0)">Scattering strength (dB)</text>
<text x="159.30" y="383.80" font-size="18" text-anchor="start" fill="#000" stroke="#000" stroke-width="0.1">E</text>
<line x1="72.40" y1="429.3" x2="72.40" y2="530.0" stroke="#b0b0b0" stroke-width="0.7" stroke-dasharray="0.8 1.7"/>
<line x1="116.10" y1="429.3" x2="116.10" y2="530.0" stroke="#b0b0b0" stroke-width="0.7" stroke-dasharray="0.8 1.7"/>
<line x1="159.80" y1="429.3" x2="159.80" y2="530.0" stroke="#b0b0b0" stroke-width="0.7" stroke-dasharray="0.8 1.7"/>
<line x1="28.6" y1="452.10" x2="177.0" y2="452.10" stroke="#b0b0b0" stroke-width="0.7" stroke-dasharray="0.8 1.7"/>
<line x1="28.6" y1="474.00" x2="177.0" y2="474.00" stroke="#b0b0b0" stroke-width="0.7" stroke-dasharray="0.8 1.7"/>
<line x1="28.6" y1="495.90" x2="177.0" y2="495.90" stroke="#b0b0b0" stroke-width="0.7" stroke-dasharray="0.8 1.7"/>
<line x1="28.6" y1="517.80" x2="177.0" y2="517.80" stroke="#b0b0b0" stroke-width="0.7" stroke-dasharray="0.8 1.7"/>
<g fill="none" stroke-linecap="round" clip-path="url(#c429)" opacity="0.9">
<path stroke="#0096ff" stroke-width="0.9" stroke-opacity="0.7" d="M66.3 499.5l0.0 0.0M71.7 496.0l0.0 0.0M54.6 504.7l0.0 0.0M52.5 506.8l0.0 0.0M45.1 507.0l0.0 0.0M74.9 493.4l0.0 0.0M62.7 500.5l0.0 0.0M72.3 495.0l0.0 0.0"/>
<path stroke="#00b5ff" stroke-width="0.9" stroke-opacity="0.7" d="M47.0 508.4l0.0 0.0M41.7 510.3l0.0 0.0M70.5 498.8l0.0 0.0M53.6 500.0l0.0 0.0M55.2 505.7l0.0 0.0M53.1 500.1l0.0 0.0M40.3 509.5l0.0 0.0M55.3 498.9l0.0 0.0M43.7 509.1l0.0 0.0M48.0 507.0l0.0 0.0M57.0 505.1l0.0 0.0M38.9 509.1l0.0 0.0M55.5 505.1l0.0 0.0"/>
<path stroke="#00d4ff" stroke-width="0.9" stroke-opacity="0.7" d="M47.6 503.9l0.0 0.0M53.2 499.8l0.0 0.0M52.1 503.9l0.0 0.0M53.9 504.3l0.0 0.0M68.9 495.2l0.0 0.0M75.9 494.7l0.0 0.0M54.0 506.1l0.0 0.0M62.1 497.3l0.0 0.0M58.1 497.6l0.0 0.0M53.9 499.4l0.0 0.0M52.8 500.6l0.0 0.0M63.7 497.4l0.0 0.0M75.8 495.0l0.0 0.0M61.0 501.7l0.0 0.0M51.3 500.4l0.0 0.0M74.1 496.6l0.0 0.0M59.6 503.1l0.0 0.0M59.7 498.0l0.0 0.0M75.6 495.3l0.0 0.0"/>
<path stroke="#00dfec" stroke-width="0.9" stroke-opacity="0.7" d="M79.6 492.3l0.0 0.0M67.0 497.4l0.0 0.0M53.2 499.1l0.0 0.0M72.0 497.9l0.0 0.0M49.7 501.8l0.0 0.0M40.8 510.6l0.0 0.0M74.1 495.7l0.0 0.0M66.6 497.6l0.0 0.0M63.1 502.0l0.0 0.0M54.2 502.7l0.0 0.0M69.1 499.5l0.0 0.0M50.8 501.2l0.0 0.0M40.7 510.0l0.0 0.0M38.6 508.1l0.0 0.0M67.2 498.2l0.0 0.0M77.0 493.7l0.0 0.0M71.3 496.0l0.0 0.0"/>
<path stroke="#00ddcd" stroke-width="0.9" stroke-opacity="0.7" d="M53.2 502.0l0.0 0.0M62.5 497.9l0.0 0.0M72.2 495.6l0.0 0.0"/>
<path stroke="#0096ff" stroke-width="0.9" stroke-opacity="0.8" d="M127.3 465.3l0.0 0.0M135.3 467.5l0.0 0.0M147.2 464.8l0.0 0.0M134.1 461.2l0.0 0.0M150.7 466.4l0.0 0.0M142.2 468.0l0.0 0.0M143.7 464.1l0.0 0.0M148.5 466.7l0.0 0.0M146.7 465.3l0.0 0.0M146.5 468.3l0.0 0.0M139.6 466.1l0.0 0.0M149.7 466.7l0.0 0.0"/>
<path stroke="#00b5ff" stroke-width="0.9" stroke-opacity="0.8" d="M153.7 463.3l0.0 0.0M141.5 469.6l0.0 0.0M150.1 463.2l0.0 0.0M137.0 467.8l0.0 0.0M148.2 469.4l0.0 0.0M155.1 464.5l0.0 0.0M158.5 463.0l0.0 0.0M134.6 461.3l0.0 0.0M139.4 463.5l0.0 0.0M126.4 463.8l0.0 0.0M145.8 466.9l0.0 0.0M154.0 467.6l0.0 0.0M138.1 466.5l0.0 0.0M150.7 463.8l0.0 0.0M144.2 461.6l0.0 0.0M145.7 466.1l0.0 0.0M161.3 464.4l0.0 0.0M139.8 463.9l0.0 0.0M134.9 461.2l0.0 0.0M131.6 467.7l0.0 0.0M141.1 462.1l0.0 0.0M125.2 463.9l0.0 0.0M140.5 467.5l0.0 0.0M161.7 464.1l0.0 0.0M142.8 466.6l0.0 0.0M128.6 467.2l0.0 0.0M154.4 460.6l0.0 0.0M142.2 460.8l0.0 0.0"/>
<path stroke="#00d4ff" stroke-width="0.9" stroke-opacity="0.8" d="M132.7 463.4l0.0 0.0M143.3 466.0l0.0 0.0M145.0 461.8l0.0 0.0M129.2 462.5l0.0 0.0M135.5 469.1l0.0 0.0M153.8 468.1l0.0 0.0M155.1 464.6l0.0 0.0M129.7 466.1l0.0 0.0M152.4 462.3l0.0 0.0M151.4 468.1l0.0 0.0M156.4 467.8l0.0 0.0M143.1 463.2l0.0 0.0M125.1 462.1l0.0 0.0M147.6 460.4l0.0 0.0M157.1 467.1l0.0 0.0M150.9 469.7l0.0 0.0M123.9 462.9l0.0 0.0M151.2 463.2l0.0 0.0M135.7 461.1l0.0 0.0M152.9 462.1l0.0 0.0M139.5 461.6l0.0 0.0M140.5 464.7l0.0 0.0M151.4 467.9l0.0 0.0"/>
<path stroke="#00dfec" stroke-width="0.9" stroke-opacity="0.8" d="M161.9 463.7l0.0 0.0M149.0 470.0l0.0 0.0M156.2 463.6l0.0 0.0M131.1 462.2l0.0 0.0M130.2 464.2l0.0 0.0M153.0 466.0l0.0 0.0M138.8 461.9l0.0 0.0M153.2 465.4l0.0 0.0M135.2 467.9l0.0 0.0M152.4 460.3l0.0 0.0M160.1 463.7l0.0 0.0M137.6 462.0l0.0 0.0M147.5 466.6l0.0 0.0M136.3 466.9l0.0 0.0M135.3 465.4l0.0 0.0M147.0 468.1l0.0 0.0M154.9 460.5l0.0 0.0M139.3 464.2l0.0 0.0M153.7 466.8l0.0 0.0M146.5 462.6l0.0 0.0M138.4 461.0l0.0 0.0M137.2 464.6l0.0 0.0M161.3 462.6l0.0 0.0M134.8 469.5l0.0 0.0M143.3 460.9l0.0 0.0M155.1 461.0l0.0 0.0"/>
<path stroke="#00ddcd" stroke-width="0.9" stroke-opacity="0.8" d="M159.4 460.7l0.0 0.0"/>
<path stroke="#00b5ff" stroke-width="1.0" d="M114.2 483.6l0.0 0.0M94.3 497.6l0.0 0.0M118.0 479.3l0.0 0.0M110.6 484.1l0.0 0.0M93.4 497.9l0.0 0.0M104.7 495.3l0.0 0.0M139.7 479.3l0.0 0.0M93.3 499.8l0.0 0.0M97.5 492.0l0.0 0.0M137.1 480.6l0.0 0.0M108.1 482.5l0.0 0.0M83.5 498.9l0.0 0.0M135.7 471.7l0.0 0.0M141.0 471.0l0.0 0.0M125.5 481.3l0.0 0.0M100.7 485.1l0.0 0.0M78.5 493.2l0.0 0.0M76.8 492.5l0.0 0.0M79.3 491.8l0.0 0.0M132.9 476.2l0.0 0.0M86.6 498.1l0.0 0.0M97.8 484.7l0.0 0.0M117.5 483.5l0.0 0.0M123.3 477.0l0.0 0.0M90.2 488.3l0.0 0.0M144.9 476.3l0.0 0.0M87.6 486.6l0.0 0.0M117.1 492.2l0.0 0.0M78.9 495.3l0.0 0.0M145.1 472.9l0.0 0.0M123.1 486.5l0.0 0.0M142.5 474.4l0.0 0.0M143.4 471.8l0.0 0.0M107.0 493.6l0.0 0.0M106.8 489.4l0.0 0.0M98.9 495.5l0.0 0.0M104.7 494.4l0.0 0.0M142.6 476.3l0.0 0.0M102.8 488.9l0.0 0.0M133.2 476.7l0.0 0.0M103.1 497.4l0.0 0.0M134.9 479.8l0.0 0.0M115.4 483.0l0.0 0.0M128.4 483.6l0.0 0.0M136.3 484.4l0.0 0.0M83.8 495.5l0.0 0.0M124.8 475.5l0.0 0.0M128.5 482.5l0.0 0.0M91.6 498.4l0.0 0.0M102.0 486.4l0.0 0.0M87.2 490.2l0.0 0.0M90.3 494.8l0.0 0.0M92.6 498.0l0.0 0.0M110.6 484.8l0.0 0.0M126.5 479.0l0.0 0.0M122.8 480.6l0.0 0.0M98.1 497.8l0.0 0.0M119.3 489.0l0.0 0.0M128.0 487.6l0.0 0.0M111.6 483.4l0.0 0.0M97.7 490.2l0.0 0.0M91.6 489.4l0.0 0.0M121.5 483.9l0.0 0.0M119.4 491.8l0.0 0.0"/>
<path stroke="#00b5ff" stroke-width="1.1" d="M113.2 502.6l0.0 0.0M81.5 505.7l0.0 0.0M73.6 510.3l0.0 0.0M101.7 511.0l0.0 0.0M92.1 510.5l0.0 0.0M107.8 509.7l0.0 0.0M110.7 503.9l0.0 0.0M81.8 511.3l0.0 0.0M103.5 509.0l0.0 0.0M102.1 503.5l0.0 0.0M103.3 511.3l0.0 0.0M91.9 513.8l0.0 0.0M69.6 506.3l0.0 0.0M110.8 508.3l0.0 0.0M87.5 509.1l0.0 0.0M101.6 509.5l0.0 0.0M89.9 507.3l0.0 0.0"/>
<path stroke="#00d4ff" stroke-width="0.6" d="M73.1 496.8l2.1 -1.1M64.1 501.9l3.3 -1.7M52.8 505.7l3.5 -1.8M54.1 503.3l2.7 -1.4"/>
<path stroke="#00d4ff" stroke-width="1.0" d="M126.3 485.8l0.0 0.0M76.7 492.7l0.0 0.0M89.4 492.9l0.0 0.0M137.5 471.0l0.0 0.0M134.7 484.1l0.0 0.0M139.4 472.9l0.0 0.0M114.2 481.7l0.0 0.0M114.6 491.1l0.0 0.0M126.4 483.5l0.0 0.0M77.3 492.1l0.0 0.0M109.7 487.7l0.0 0.0M127.9 485.2l0.0 0.0M102.2 494.6l0.0 0.0M128.7 478.8l0.0 0.0M90.7 494.9l0.0 0.0M77.9 498.6l0.0 0.0M89.2 494.3l0.0 0.0M94.7 493.1l0.0 0.0M128.5 475.4l0.0 0.0M133.1 470.8l0.0 0.0M89.5 488.4l0.0 0.0M83.9 497.4l0.0 0.0M89.6 488.2l0.0 0.0M131.0 471.5l0.0 0.0M83.5 500.8l0.0 0.0M129.5 478.9l0.0 0.0M99.5 493.1l0.0 0.0M107.3 490.1l0.0 0.0M113.8 483.2l0.0 0.0M84.3 500.7l0.0 0.0M125.4 479.5l0.0 0.0M139.6 481.6l0.0 0.0M100.0 497.6l0.0 0.0M108.3 488.0l0.0 0.0M144.8 472.6l0.0 0.0M101.8 490.5l0.0 0.0M136.8 475.4l0.0 0.0M142.1 472.6l0.0 0.0M115.9 481.4l0.0 0.0M127.4 486.1l0.0 0.0M96.5 493.5l0.0 0.0M105.7 489.5l0.0 0.0M120.7 477.2l0.0 0.0M78.1 496.7l0.0 0.0M143.2 474.7l0.0 0.0M146.9 472.3l0.0 0.0M132.6 484.1l0.0 0.0M141.1 475.2l0.0 0.0M136.9 475.0l0.0 0.0M90.1 488.8l0.0 0.0M80.6 497.3l0.0 0.0M116.5 488.0l0.0 0.0M85.0 493.4l0.0 0.0M103.1 486.3l0.0 0.0M120.6 478.3l0.0 0.0M120.1 491.4l0.0 0.0M100.5 494.1l0.0 0.0M116.1 485.0l0.0 0.0M116.3 478.0l0.0 0.0M102.3 493.1l0.0 0.0M94.1 488.8l0.0 0.0M117.2 485.6l0.0 0.0M132.1 482.6l0.0 0.0M109.6 490.1l0.0 0.0M123.2 481.6l0.0 0.0M137.0 473.6l0.0 0.0M87.7 499.0l0.0 0.0M133.0 478.9l0.0 0.0M131.5 480.8l0.0 0.0M109.0 487.5l0.0 0.0M129.3 487.0l0.0 0.0M88.5 496.8l0.0 0.0M112.8 491.4l0.0 0.0M137.1 462.0l0.0 0.0M134.0 453.6l0.0 0.0M146.1 457.5l0.0 0.0M165.7 457.4l0.0 0.0"/>
<path stroke="#00d4ff" stroke-width="1.1" d="M72.3 508.8l0.0 0.0M73.2 508.6l0.0 0.0M69.3 513.3l0.0 0.0M74.1 512.1l0.0 0.0M71.0 506.8l0.0 0.0M65.3 512.1l0.0 0.0M94.0 505.4l0.0 0.0M89.6 506.2l0.0 0.0M83.0 513.9l0.0 0.0M85.1 511.7l0.0 0.0M117.7 505.0l0.0 0.0M76.8 503.9l0.0 0.0M90.6 513.9l0.0 0.0M73.2 514.1l0.0 0.0M82.9 503.4l0.0 0.0M87.4 504.1l0.0 0.0M79.3 510.4l0.0 0.0M100.2 508.1l0.0 0.0M93.2 503.8l0.0 0.0M71.4 507.0l0.0 0.0M111.4 504.5l0.0 0.0M82.2 511.5l0.0 0.0M88.2 513.4l0.0 0.0M76.8 509.9l0.0 0.0M67.2 508.5l0.0 0.0M92.9 512.4l0.0 0.0M108.5 503.0l0.0 0.0M68.8 511.8l0.0 0.0M118.0 503.7l0.0 0.0M90.9 512.3l0.0 0.0M82.2 508.9l0.0 0.0M84.9 514.4l0.0 0.0M74.4 513.5l0.0 0.0M79.0 512.7l0.0 0.0M103.2 504.2l0.0 0.0M114.1 505.7l0.0 0.0M92.1 504.0l0.0 0.0M95.0 508.4l0.0 0.0M90.5 504.2l0.0 0.0"/>
<path stroke="#00dfec" stroke-width="0.6" d="M52.7 502.7l2.5 -1.3M50.7 502.6l3.1 -1.7M51.4 504.9l3.8 -1.8M58.5 502.1l3.0 -1.5M57.0 503.8l2.0 -1.0M51.1 503.7l3.9 -0.9M42.8 506.3l3.7 -0.8M66.0 501.3l3.6 -2.4M58.9 500.1l1.7 -2.0"/>
<path stroke="#00dfec" stroke-width="1.0" d="M76.2 492.3l0.0 0.0M110.3 487.0l0.0 0.0M81.2 491.3l0.0 0.0M84.2 497.3l0.0 0.0M98.8 489.4l0.0 0.0M140.4 480.2l0.0 0.0M112.8 490.9l0.0 0.0M145.4 476.0l0.0 0.0M90.4 489.3l0.0 0.0M132.9 475.5l0.0 0.0M111.1 480.3l0.0 0.0M122.7 476.6l0.0 0.0M108.4 491.8l0.0 0.0M74.8 493.9l0.0 0.0M131.8 473.9l0.0 0.0M104.6 494.6l0.0 0.0M102.1 490.9l0.0 0.0M90.1 492.5l0.0 0.0M84.3 494.7l0.0 0.0M97.1 497.0l0.0 0.0M96.3 494.7l0.0 0.0M120.5 484.4l0.0 0.0M129.2 488.7l0.0 0.0M135.9 471.5l0.0 0.0M101.3 496.2l0.0 0.0M130.5 485.3l0.0 0.0M104.8 490.6l0.0 0.0M91.9 496.5l0.0 0.0M145.4 470.4l0.0 0.0M88.4 488.5l0.0 0.0M136.6 472.4l0.0 0.0M124.3 480.0l0.0 0.0M84.2 501.1l0.0 0.0M123.7 477.8l0.0 0.0M134.5 475.1l0.0 0.0M81.5 493.1l0.0 0.0M79.5 496.9l0.0 0.0M90.1 491.7l0.0 0.0M94.0 499.5l0.0 0.0M126.4 488.7l0.0 0.0M97.1 496.9l0.0 0.0M95.8 498.8l0.0 0.0M109.8 481.1l0.0 0.0M93.4 492.5l0.0 0.0M125.2 480.7l0.0 0.0M126.4 486.7l0.0 0.0M139.1 473.8l0.0 0.0M89.0 495.6l0.0 0.0M132.7 474.1l0.0 0.0M140.0 476.6l0.0 0.0M138.2 472.5l0.0 0.0M128.1 488.3l0.0 0.0M89.8 487.1l0.0 0.0M81.6 490.1l0.0 0.0M124.9 486.0l0.0 0.0M89.5 486.9l0.0 0.0M123.9 455.5l0.0 0.0M150.6 455.2l0.0 0.0M125.5 455.7l0.0 0.0M148.9 449.1l0.0 0.0M146.7 455.6l0.0 0.0M138.1 457.3l0.0 0.0M145.2 461.8l0.0 0.0M134.0 459.4l0.0 0.0M129.7 452.1l0.0 0.0M162.4 453.1l0.0 0.0M146.3 461.1l0.0 0.0M127.0 452.5l0.0 0.0M169.3 450.5l0.0 0.0M142.8 457.7l0.0 0.0M134.7 456.5l0.0 0.0M141.6 454.7l0.0 0.0M148.7 461.5l0.0 0.0M166.0 455.3l0.0 0.0M131.3 461.7l0.0 0.0M125.4 460.5l0.0 0.0M133.1 463.5l0.0 0.0"/>
<path stroke="#00dfec" stroke-width="0.7" d="M128.8 474.3l2.6 -1.6M121.6 484.6l3.6 -1.7M80.7 491.9l3.0 -1.7M106.6 494.9l3.0 -1.8M135.1 470.4l2.1 -0.7M74.5 494.1l2.6 -1.5M80.1 492.9l2.0 -1.2M141.8 470.3l2.1 -1.0M94.3 494.4l2.7 -1.5M104.6 496.1l2.3 -0.9M103.6 494.7l2.2 -0.5M111.8 485.0l3.3 -1.8M122.2 476.2l5.2 -2.1M123.8 480.3l4.4 -2.6M134.8 473.2l5.3 -2.4M82.7 501.6l2.3 -1.3M112.3 484.9l3.0 -0.7M114.3 479.7l4.4 -2.4M142.4 477.1l2.6 -1.3M125.8 474.8l2.0 -0.5M78.9 492.7l3.5 -1.8M104.1 483.9l2.8 -0.9M80.6 501.5l4.5 -1.9M116.5 478.7l4.3 -1.4M103.5 489.7l3.0 -1.2M120.7 476.9l3.0 -0.5M113.6 488.4l4.3 -2.1M105.2 493.3l4.2 -2.3M84.3 495.5l3.7 -1.5M79.0 501.7l2.1 -0.5M131.3 482.5l4.2 -1.9M94.5 492.8l5.1 -1.1M118.2 490.3l3.4 -3.0M114.8 482.2l2.1 -0.4M115.4 490.9l2.9 -1.4M76.2 493.0l1.6 -1.2M104.0 492.9l2.2 -1.3M131.8 479.1l4.0 -1.4M86.6 491.1l2.1 -1.7M101.4 496.1l5.3 -2.8M118.6 479.0l2.1 -0.7M75.3 495.9l3.9 -1.4M136.4 482.2l5.4 -2.5M93.1 497.9l3.2 -1.9M90.1 494.7l4.2 -1.9M138.0 470.7l2.5 -1.6M126.1 480.5l5.3 -1.3M79.2 491.9l2.7 -1.2M79.9 497.2l3.2 -1.4M109.1 487.0l2.3 -1.5"/>
<path stroke="#00dfec" stroke-width="1.1" d="M85.0 511.6l0.0 0.0M96.0 504.0l0.0 0.0M73.2 511.8l0.0 0.0M111.5 508.7l0.0 0.0M72.5 505.9l0.0 0.0M102.8 508.6l0.0 0.0M114.2 502.6l0.0 0.0M108.8 508.2l0.0 0.0M77.4 508.9l0.0 0.0M69.5 506.4l0.0 0.0M105.6 511.4l0.0 0.0M94.5 504.1l0.0 0.0M78.4 512.3l0.0 0.0M71.8 505.7l0.0 0.0M82.4 506.9l0.0 0.0M66.5 512.8l0.0 0.0M82.9 513.1l0.0 0.0M91.1 511.7l0.0 0.0M74.4 506.7l0.0 0.0M104.6 503.8l0.0 0.0M88.7 507.7l0.0 0.0M77.5 514.3l0.0 0.0M71.8 513.1l0.0 0.0M83.6 504.6l0.0 0.0M66.9 509.1l0.0 0.0M76.6 506.7l0.0 0.0M97.8 504.3l0.0 0.0M113.8 503.9l0.0 0.0M103.5 507.6l0.0 0.0M117.4 504.8l0.0 0.0M93.6 506.4l0.0 0.0M109.6 510.3l0.0 0.0M74.2 507.3l0.0 0.0M74.5 511.4l0.0 0.0M78.4 514.2l0.0 0.0M81.7 505.5l0.0 0.0M66.5 510.2l0.0 0.0M67.5 506.0l0.0 0.0M80.0 513.6l0.0 0.0M114.0 503.9l0.0 0.0M107.6 506.9l0.0 0.0M77.9 510.1l0.0 0.0M86.0 507.7l0.0 0.0"/>
<path stroke="#00ddcd" stroke-width="0.6" d="M49.4 505.2l2.4 -1.8M61.8 502.3l4.3 -1.9M46.0 502.7l4.1 -2.0M45.6 505.8l2.5 -1.3M69.3 496.1l2.8 -1.1M53.3 501.6l3.4 -2.2M62.4 502.8l4.2 -1.7"/>
<path stroke="#00ddcd" stroke-width="1.0" d="M139.5 469.9l0.0 0.0M105.5 489.3l0.0 0.0M123.8 476.4l0.0 0.0M100.9 486.4l0.0 0.0M101.7 488.0l0.0 0.0M128.8 477.5l0.0 0.0M125.8 480.2l0.0 0.0M132.5 472.8l0.0 0.0M114.2 484.1l0.0 0.0M79.8 500.9l0.0 0.0M82.9 500.8l0.0 0.0M103.2 486.2l0.0 0.0M116.8 487.6l0.0 0.0M81.9 494.2l0.0 0.0M132.5 485.8l0.0 0.0M101.5 485.3l0.0 0.0M118.9 479.5l0.0 0.0M122.2 478.8l0.0 0.0M143.2 472.7l0.0 0.0M116.2 482.2l0.0 0.0M87.5 488.8l0.0 0.0M112.6 482.9l0.0 0.0M96.0 496.8l0.0 0.0M127.3 481.0l0.0 0.0M87.5 499.2l0.0 0.0M79.4 496.3l0.0 0.0M96.4 484.5l0.0 0.0M129.0 480.0l0.0 0.0M108.7 494.9l0.0 0.0M142.0 470.8l0.0 0.0M105.6 486.3l0.0 0.0M121.9 486.3l0.0 0.0M101.3 498.2l0.0 0.0M87.8 497.1l0.0 0.0M117.5 480.4l0.0 0.0M121.5 487.4l0.0 0.0M77.1 493.5l0.0 0.0M109.7 487.3l0.0 0.0M106.0 487.8l0.0 0.0M98.0 489.7l0.0 0.0M88.1 496.8l0.0 0.0M89.5 492.9l0.0 0.0M122.5 482.1l0.0 0.0M83.5 493.4l0.0 0.0M99.6 497.2l0.0 0.0M109.5 493.0l0.0 0.0M81.2 491.3l0.0 0.0M134.8 473.9l0.0 0.0M103.3 494.6l0.0 0.0M134.0 474.1l0.0 0.0M81.0 493.4l0.0 0.0M112.6 482.6l0.0 0.0M122.3 479.0l0.0 0.0M93.8 500.5l0.0 0.0M113.8 481.2l0.0 0.0M110.8 492.3l0.0 0.0M111.8 481.8l0.0 0.0M100.2 488.2l0.0 0.0M108.7 482.7l0.0 0.0M131.7 471.4l0.0 0.0M87.3 491.8l0.0 0.0M118.0 486.5l0.0 0.0M143.7 475.8l0.0 0.0M86.5 490.4l0.0 0.0M88.6 491.0l0.0 0.0M139.7 480.8l0.0 0.0M125.7 480.3l0.0 0.0M145.5 473.5l0.0 0.0M116.8 484.7l0.0 0.0M90.3 487.0l0.0 0.0M116.4 488.6l0.0 0.0M138.4 473.7l0.0 0.0M106.4 484.4l0.0 0.0M120.1 477.0l0.0 0.0M83.5 492.9l0.0 0.0M122.7 480.4l0.0 0.0M147.1 473.9l0.0 0.0M114.8 491.3l0.0 0.0M71.1 510.6l3.8 -1.2M76.1 507.6l3.8 -1.2M90.1 510.6l3.8 -1.2M94.1 512.6l3.8 -1.2M84.6 513.5l2.9 -0.9M118.1 484.6l3.8 -1.2M108.1 488.6l3.8 -1.2M128.1 480.6l3.8 -1.2M146.1 460.5l0.0 0.0M167.4 449.7l0.0 0.0M145.2 461.0l0.0 0.0M153.2 451.0l0.0 0.0M162.4 456.5l0.0 0.0M144.2 459.0l0.0 0.0M151.9 460.8l0.0 0.0M142.0 452.6l0.0 0.0M127.9 459.6l0.0 0.0M145.4 456.2l0.0 0.0M126.7 457.5l0.0 0.0M163.5 449.0l0.0 0.0M148.6 458.3l0.0 0.0M169.3 452.2l0.0 0.0M150.1 458.2l0.0 0.0M156.6 453.3l0.0 0.0M150.0 451.8l0.0 0.0M133.7 455.3l0.0 0.0"/>
<path stroke="#00ddcd" stroke-width="0.7" d="M87.2 490.8l4.4 -1.1M131.6 484.7l3.0 -1.4M125.2 485.8l3.6 -2.2M103.2 491.1l3.2 -1.3M103.7 490.9l2.2 -0.9M140.6 474.6l2.3 -1.0M132.9 477.2l3.7 -0.8M114.4 483.4l4.6 -2.1M114.1 478.3l5.6 -2.1M77.7 491.4l5.0 -2.1M103.8 496.2l1.9 -0.9M123.3 483.2l3.2 -1.2M105.8 484.3l2.8 -0.9M121.5 490.9l4.7 -1.8M87.3 496.2l2.5 -1.6M90.3 492.0l2.4 -0.8M134.1 479.7l1.9 -0.8M103.5 495.4l5.5 -2.1M111.0 494.9l2.3 -1.0M135.1 484.9l4.6 -3.0M114.6 492.9l3.9 -1.7M145.2 475.0l2.8 -1.3M117.3 491.7l4.8 -1.7M141.1 474.8l2.0 -0.7M90.2 494.6l2.2 -0.8M128.1 474.1l4.7 -1.4M99.0 490.6l4.2 -2.2M118.4 488.4l2.2 -1.1M133.5 471.6l2.9 -1.3M132.6 471.8l2.5 -0.8M89.8 493.1l4.3 -1.4M95.6 490.5l5.2 -2.6M132.8 486.2l5.3 -2.3M90.7 488.7l3.0 -1.3M92.6 500.2l2.2 -0.9M94.9 497.4l4.6 -1.3M100.5 495.2l2.9 -1.4M77.0 495.5l4.8 -1.7M131.1 482.4l3.4 -1.9M114.1 479.7l4.8 -2.7M114.8 479.3l3.4 -1.9M129.3 477.0l4.9 -2.8M107.5 484.0l3.3 -1.4M114.3 480.0l3.6 -1.7M125.6 489.8l3.6 -1.5M111.9 481.8l4.8 -1.5M101.4 496.5l2.5 -1.5M120.6 487.2l4.5 -1.9M121.3 486.9l3.1 -1.3M117.9 492.7l4.6 -2.6M85.3 498.9l4.1 -1.8M79.6 494.3l4.1 -1.7M107.1 482.6l3.9 -2.1M85.0 496.4l3.6 -2.2M131.9 473.7l2.7 -1.6M136.4 482.7l3.6 -1.2M137.0 482.6l2.5 -0.8M134.9 484.1l5.4 -2.5M88.1 500.0l4.1 -1.5M105.7 486.1l2.0 -0.5M122.6 487.1l3.9 -1.7M74.5 498.5l5.5 -1.4M109.7 489.5l4.1 -1.5M142.0 471.6l2.0 -0.6M134.4 470.6l2.2 -0.7M128.4 473.5l3.8 -1.9M129.0 473.2l2.6 -1.4M129.5 475.7l3.5 -0.8M122.6 480.7l4.3 -0.9M102.7 486.7l2.7 -1.8M124.3 474.2l2.1 -1.3M88.5 495.8l5.1 -2.3M114.8 479.1l4.7 -1.2M115.5 478.9l3.3 -0.9M100.7 494.7l5.3 -2.4M81.1 489.0l4.5 -1.6M131.9 481.7l3.4 -1.3M129.9 472.4l3.9 -2.2M126.9 486.7l5.1 -1.9M107.6 492.9l1.9 -0.8M118.7 477.8l3.1 -1.6M119.2 477.5l2.1 -1.1M131.5 480.7l2.7 -0.5M87.3 493.0l2.8 -1.3M129.1 485.3l2.2 -1.4M137.7 480.1l2.3 -0.6M88.7 496.2l3.4 -1.7M100.9 494.0l5.1 -1.6M139.2 481.6l2.2 -1.1M113.2 486.8l2.5 -0.7M113.3 493.2l4.5 -1.3M87.6 499.1l2.6 -0.7M117.5 487.9l3.4 -1.4M122.8 478.7l4.6 -2.7M123.0 485.9l4.6 -2.3M88.0 498.6l4.5 -1.9M134.9 483.9l2.3 -0.8M86.3 489.4l5.4 -1.9M95.5 493.0l4.2 -2.2M113.0 479.1l4.1 -1.8M106.7 494.9l3.1 -1.1M107.2 494.7l2.2 -0.8M77.7 498.9l5.3 -2.6M78.5 498.5l3.7 -1.8M98.9 487.9l4.6 -3.0M99.6 487.5l3.2 -2.1M72.9 496.3l3.7 -1.7M100.3 496.4l5.0 -1.1M93.1 492.5l2.8 -1.5M96.1 486.9l2.0 -1.3M92.0 491.7l4.0 -1.3M132.9 477.8l3.9 -1.9M93.8 489.1l5.6 -1.8M128.5 482.2l3.0 -1.5M92.9 490.3l2.7 -1.7M101.0 486.5l4.7 -2.2M121.8 479.9l4.7 -1.2M132.7 483.6l4.2 -2.5M143.0 473.1l5.6 -1.2M115.0 493.2l4.9 -2.0M87.6 487.0l3.4 -1.5M117.5 486.7l3.7 -1.5M131.5 485.4l4.1 -2.6M132.1 485.0l2.9 -1.8M106.5 490.5l2.6 -0.9M93.0 496.3l2.3 -0.8M141.8 477.9l4.0 -1.8M90.5 491.8l3.5 -1.5M119.4 491.3l2.1 -0.8M137.9 470.1l4.4 -0.8M85.6 487.8l5.1 -2.6M121.3 484.7l6.5 -3.8M129.9 480.7l6.7 -4.1M123.4 484.2l5.6 -3.5M138.6 475.2l8.7 -4.5M132.6 478.9l5.4 -3.2M142.3 473.1l8.2 -4.4M124.9 484.1l5.5 -3.4M134.9 476.9l7.6 -4.2M136.0 476.3l5.3 -2.9M116.3 488.0l7.3 -4.4M140.5 474.6l4.7 -2.8M141.2 474.1l3.3 -1.9M138.3 475.7l5.5 -2.9M128.2 481.3l8.7 -4.9M135.0 477.5l7.1 -3.9M136.8 475.7l8.3 -4.0M139.9 476.7l5.1 -2.7M135.5 479.6l10.4 -4.8M137.0 478.9l7.3 -3.4M147.3 473.2l6.9 -3.7M115.8 491.1l9.7 -6.2M125.9 485.3l5.8 -3.2M145.2 474.5l9.9 -5.4M142.2 476.4l6.4 -3.6M124.0 485.1l9.7 -5.3M140.8 477.6l7.2 -4.7M123.5 485.9l10.3 -5.2M118.4 489.2l6.4 -3.6M117.6 489.7l10.0 -6.0M119.1 488.8l7.0 -4.2M118.6 489.5l9.2 -5.0M120.0 488.8l6.4 -3.5M143.6 475.6l9.4 -5.4M121.5 490.4l9.4 -4.8M137.9 480.8l5.1 -2.9M124.0 489.0l9.4 -5.1M126.1 487.5l5.8 -3.0M127.4 485.9l5.7 -3.2M139.8 479.2l8.1 -4.4M141.0 479.8l8.4 -5.0M118.7 491.3l8.5 -4.6M141.4 479.4l7.3 -4.3M147.3 476.0l8.1 -4.1M128.2 486.0l7.5 -4.5M123.3 488.3l8.9 -4.0M124.7 487.7l6.3 -2.8M138.7 480.8l6.4 -3.9M127.0 485.5l9.5 -5.4M136.6 484.0l4.6 -2.4M122.3 491.5l10.3 -5.6M145.2 478.8l5.4 -2.8M144.3 480.2l5.9 -3.5M134.8 484.8l9.0 -5.3M147.1 478.8l4.6 -2.3M142.7 481.1l6.4 -3.3M143.7 480.6l4.5 -2.3M121.6 492.1l6.6 -3.8M145.3 480.9l9.3 -6.3M146.7 479.9l6.5 -4.4M129.8 488.3l9.9 -5.3M145.8 478.6l7.5 -4.1M143.1 480.6l6.0 -3.5M137.8 484.2l8.8 -5.4M139.1 483.4l6.2 -3.8M133.7 486.7l4.5 -2.8M134.4 486.3l3.1 -2.0M123.8 492.6l7.0 -3.7M149.5 480.5l7.6 -4.3M145.2 482.2l10.5 -5.7M134.0 488.6l9.1 -5.8M135.3 487.7l6.4 -4.0M124.4 493.4l10.2 -4.9M125.9 492.6l7.1 -3.5M143.0 483.7l7.2 -3.7M133.0 489.1l5.4 -3.1M133.8 488.7l3.8 -2.2M145.8 481.5l9.9 -5.0M140.7 484.2l5.0 -3.1M137.4 486.3l6.3 -3.4M126.5 491.7l10.1 -5.0M128.8 491.3l6.7 -4.3M128.3 490.4l8.8 -4.8M146.2 482.4l5.4 -3.0"/>
<path stroke="#00ddcd" stroke-width="1.1" d="M95.1 513.2l0.0 0.0M76.9 513.7l0.0 0.0M97.1 506.7l0.0 0.0M94.3 507.6l0.0 0.0M75.2 510.5l0.0 0.0M75.3 504.4l0.0 0.0M86.0 505.8l0.0 0.0M76.0 513.6l0.0 0.0M107.1 508.8l0.0 0.0M95.4 506.6l0.0 0.0M114.8 505.5l0.0 0.0M91.2 506.4l0.0 0.0M102.3 507.9l0.0 0.0M84.5 514.6l0.0 0.0M110.6 508.9l0.0 0.0M95.2 506.2l0.0 0.0M94.2 512.2l0.0 0.0M78.2 510.3l0.0 0.0M104.9 510.2l0.0 0.0M86.8 511.8l0.0 0.0M101.3 506.5l0.0 0.0M115.7 506.6l0.0 0.0M99.8 505.5l0.0 0.0M91.1 504.0l0.0 0.0M76.8 509.3l0.0 0.0M67.4 507.7l0.0 0.0M64.6 510.9l0.0 0.0M73.6 504.9l0.0 0.0M75.2 513.4l0.0 0.0M107.8 507.0l0.0 0.0M78.8 508.0l0.0 0.0M92.9 513.3l0.0 0.0M85.7 513.6l0.0 0.0M76.4 510.5l0.0 0.0M72.3 514.4l0.0 0.0M100.7 512.9l0.0 0.0M109.0 510.0l0.0 0.0M78.1 506.3l0.0 0.0M69.5 511.2l0.0 0.0M99.9 507.6l0.0 0.0M71.7 504.4l0.0 0.0"/>
<path stroke="#00ddcd" stroke-width="0.8" d="M87.3 504.2l2.6 -0.1M87.7 504.2l1.8 -0.1M101.9 511.1l5.2 -2.0M72.7 507.1l2.4 -0.1M73.0 507.1l1.7 -0.0M82.7 513.0l4.6 -1.4M81.5 511.9l5.8 -0.3M72.7 508.8l3.9 -1.2M83.5 507.4l5.7 -0.6M84.3 507.3l4.0 -0.4M98.9 509.7l5.1 -1.3M78.8 505.2l4.3 -0.8M96.7 508.6l2.0 -0.6M63.3 511.8l3.5 -0.9M95.3 510.1l2.2 -0.4M75.3 506.1l2.4 -0.0M82.4 506.9l5.3 -1.1M106.0 503.6l2.3 0.1M106.4 506.9l4.2 -0.0M70.9 514.6l4.4 -0.8M102.9 507.5l5.6 0.4M62.8 510.0l2.7 -0.6M80.1 514.5l4.2 -1.1M102.4 504.0l4.4 -2.2M103.1 503.7l3.1 -1.5M96.6 507.8l3.8 -0.6M79.0 504.4l3.4 -1.0M86.2 504.5l5.3 -0.7M89.5 509.4l4.9 -0.8M90.2 509.3l3.5 -0.6M71.2 509.1l3.9 -0.9M80.0 504.5l2.0 -0.6M81.8 515.4l2.6 -0.9M74.6 514.4l5.9 0.4M76.2 512.9l2.5 -0.4M105.4 504.3l5.6 -0.5M76.6 509.6l4.2 -1.0M85.6 506.9l3.1 -0.9M83.6 510.4l4.6 -0.3M68.1 510.9l5.6 -0.2M76.0 514.7l4.9 -0.6M98.0 505.1l4.6 -2.7M85.6 515.0l5.4 -0.5M75.7 504.8l4.4 -1.8M77.5 508.8l5.8 -0.7M68.5 512.0l5.8 -0.7M88.4 510.7l4.6 -0.7M94.5 513.1l2.2 -0.4M67.6 513.2l5.0 0.2M113.4 506.1l3.2 -0.4M102.0 511.1l2.6 -0.4M71.6 509.1l3.0 -0.6M75.2 509.1l3.0 -0.4M107.2 505.2l4.0 0.2M68.6 513.2l2.7 -0.3M69.0 513.2l1.9 -0.2M70.7 512.8l3.0 -1.5M86.7 515.4l4.5 -2.2M73.9 507.8l3.8 0.3M68.0 508.1l4.3 -0.7M69.7 509.4l3.2 -2.0M90.9 508.9l5.0 -1.1M100.4 508.2l5.7 -0.4M101.3 508.1l4.0 -0.3M94.9 510.3l2.7 0.1M102.6 510.1l5.0 -0.2M62.5 509.0l4.8 -0.8M74.5 504.5l3.5 -1.1M84.1 512.3l3.9 -0.8M70.0 510.7l3.1 -0.5M105.4 508.9l3.8 -0.9M88.2 507.1l2.1 -0.9M82.5 509.5l2.7 -0.5M77.0 504.3l4.4 -1.2M107.9 508.9l3.2 -0.7M82.1 504.4l5.3 -1.1M108.8 507.4l3.9 -0.3M79.2 514.5l2.9 -0.8M93.9 506.7l3.9 -1.8M71.9 509.1l4.0 -1.3M86.5 512.1l3.0 -0.8M84.4 508.7l2.2 -0.4M83.2 503.6l2.3 -0.9M83.6 503.5l1.6 -0.6M97.5 505.7l5.7 -0.4M110.7 506.7l3.5 -1.6M63.2 511.3l2.5 -0.7M114.0 506.5l5.0 0.5M90.7 507.3l5.3 -1.5M72.0 510.5l4.9 -0.8M86.9 513.7l3.7 -1.0M87.5 513.6l2.6 -0.7M108.0 503.4l2.4 -0.7M73.8 504.3l4.3 -1.0M101.9 508.4l5.5 -0.6M63.5 510.9l4.5 -2.2M106.3 506.3l4.7 -0.9M87.2 507.8l2.5 -0.3M93.7 513.3l5.3 -0.4M132.7 460.5l1.8 0.0M156.5 456.2l1.7 0.0M153.8 456.2l1.9 -0.5M130.1 458.6l3.1 -2.1M149.8 456.8l2.0 0.6M142.8 454.9l2.6 0.1M135.8 458.3l2.4 -2.3M141.4 459.7l3.6 -0.2M128.8 458.5l2.0 -0.8M138.7 459.5l3.4 -0.1M143.3 457.1l1.6 -0.4M141.2 453.6l3.8 -0.8M141.4 454.4l2.4 0.5M129.8 460.9l2.7 -2.4M139.4 453.3l2.5 -1.1M137.6 459.2l3.6 -1.0M143.2 454.6l1.8 -0.1M131.6 454.6l1.4 -2.3M143.3 456.2l3.8 1.0M150.6 454.2l1.7 -2.5M143.3 455.7l2.8 -2.1M149.9 455.0l1.4 -1.0M143.6 458.3l2.5 -0.3M146.1 458.0l1.8 -2.1M140.2 454.4l2.3 -1.1M151.2 461.4l2.1 -3.3M158.2 456.5l2.9 -1.1M134.8 460.0l3.1 -0.1M143.0 457.8l3.0 -0.1M139.2 455.3l2.1 -2.3M139.0 455.1l0.7 -2.6M140.6 455.3l2.5 -0.7M152.9 454.8l1.5 -1.3M134.6 459.2l2.2 -0.8M156.1 457.5l3.3 -1.1M143.9 456.2l3.3 0.3M131.4 456.5l3.3 -1.4M147.3 456.0l1.2 -1.7M129.2 459.6l3.0 -2.6M127.4 456.4l1.9 -0.0M140.7 454.3l2.2 -2.8M151.7 453.6l2.9 -1.2M135.6 456.0l2.4 -1.9M141.0 455.4l3.5 -0.8M127.3 459.7l2.1 -0.9M156.6 456.7l2.5 1.2M132.6 456.6l1.4 -1.2M139.7 456.1l1.6 -1.7M132.3 461.3l3.3 -1.7M136.6 459.3l2.9 -0.9M130.2 455.4l0.8 -1.7M125.9 456.7l2.4 -1.7M134.5 460.6l3.4 -0.6M147.5 457.6l1.0 -1.1M156.5 456.4l3.5 1.1M133.9 460.5l2.6 -0.0M136.9 457.8l2.9 -1.2M145.5 457.2l2.3 -0.9M148.3 455.5l3.3 0.2M136.9 457.4l1.9 -0.9M133.4 457.6l2.5 0.3M130.8 453.8l2.5 -0.5M124.6 457.4l1.8 -0.8M128.5 458.7l1.6 0.2M143.1 458.5l2.6 0.6M134.9 457.5l3.3 0.5M147.9 457.4l2.4 0.6M146.5 454.8l1.9 -0.3M142.6 455.0l3.3 -0.6M126.3 456.1l2.0 0.2M138.0 455.1l1.7 0.4M127.3 457.5l1.2 -1.7M127.3 454.9l1.8 0.6M155.1 457.8l3.4 -0.9M138.3 456.1l1.6 -1.5M137.8 457.8l2.3 -0.6M133.8 459.5l2.0 -1.0M135.2 455.2l2.5 0.7M130.6 457.0l1.9 -1.9M150.4 460.3l2.7 -1.8M136.0 457.7l1.5 0.9M146.5 455.3l1.8 -0.6M137.2 462.2l1.6 -3.1M154.8 454.1l3.8 -0.4M144.8 454.5l3.0 -1.6M151.5 456.8l3.1 -2.0M157.9 455.0l3.5 -0.3M132.3 458.3l3.7 -1.3M154.1 454.1l2.8 -0.3M141.5 459.5l1.9 -2.4M140.7 454.5l1.8 0.8M148.7 453.4l1.5 -0.3M147.9 459.4l2.8 1.3M127.8 460.3l1.9 -1.2M142.1 457.2l2.6 0.1M138.5 457.4l2.9 -2.5M147.6 456.1l2.4 -0.9M134.5 456.7l1.0 -1.6M139.5 459.0l2.5 -0.1M130.2 454.8l3.4 0.1M163.2 453.8l1.9 -1.2M160.2 453.6l1.7 -1.1M157.7 452.2l4.7 -0.2M158.6 459.3l1.6 -1.4M160.6 457.3l2.0 -1.7M154.8 457.8l2.7 -1.0M165.2 451.5l3.1 -0.7M162.3 455.1l3.6 -0.5M159.2 455.5l3.6 -1.6M155.2 453.9l2.0 -1.5M163.8 450.9l1.8 -2.0M156.5 460.2l2.5 -2.4M159.0 454.7l2.0 -1.0M166.0 450.8l2.1 -1.9M163.1 454.8l2.7 -2.6M157.8 456.1l1.9 -1.3M167.4 452.0l4.1 -1.5M158.8 454.3l3.2 -1.4M166.2 449.7l3.9 -1.7M157.8 459.2l4.1 -2.7M170.0 449.4l2.0 -2.5M156.7 455.6l4.4 -1.7M168.8 448.8l1.7 -1.1M157.1 459.2l3.0 -2.6M154.8 456.8l4.3 -2.3"/>
<path stroke="#00ddcd" stroke-width="0.9" d="M136.7 453.5l0.7 -3.9M144.7 452.5l0.7 -3.9M149.7 452.0l0.7 -3.9M166.5 451.6l3.0 -5.2M163.8 454.2l2.5 -4.3"/>
<path stroke="#0dd7a2" stroke-width="1.0" d="M101.3 490.1l0.0 0.0M135.2 470.0l0.0 0.0M119.9 478.6l0.0 0.0M77.3 496.2l0.0 0.0M125.9 487.4l0.0 0.0M124.9 485.6l0.0 0.0M96.4 497.3l0.0 0.0M136.8 475.8l0.0 0.0M89.7 490.6l0.0 0.0M122.0 489.9l0.0 0.0M123.0 480.2l0.0 0.0M127.4 478.6l0.0 0.0M83.2 489.7l0.0 0.0M145.1 473.3l0.0 0.0M119.3 488.1l0.0 0.0M95.3 488.8l0.0 0.0M87.3 488.6l0.0 0.0M104.1 491.8l0.0 0.0M137.8 479.1l0.0 0.0M106.3 487.2l0.0 0.0M90.1 495.3l0.0 0.0M116.6 483.6l0.0 0.0M92.6 491.8l0.0 0.0M122.2 490.6l0.0 0.0M99.8 491.5l0.0 0.0M125.3 487.1l0.0 0.0M138.8 479.9l0.0 0.0M143.3 476.2l0.0 0.0M131.2 487.4l0.0 0.0M93.6 499.8l0.0 0.0M119.8 479.8l0.0 0.0M84.3 495.1l0.0 0.0M116.5 481.3l0.0 0.0M121.6 478.7l0.0 0.0M126.4 485.3l0.0 0.0M79.1 497.7l0.0 0.0M87.5 500.1l0.0 0.0M83.1 490.5l0.0 0.0M125.0 487.9l0.0 0.0M88.2 501.0l0.0 0.0M141.6 480.5l0.0 0.0M96.2 486.2l0.0 0.0M87.8 494.5l0.0 0.0M99.8 498.4l0.0 0.0M123.5 482.2l0.0 0.0M93.6 486.4l0.0 0.0M115.0 483.2l0.0 0.0M147.8 473.1l0.0 0.0M111.7 493.0l0.0 0.0M114.5 492.4l0.0 0.0M96.5 491.2l0.0 0.0M86.5 487.3l0.0 0.0M144.1 471.4l0.0 0.0M116.6 485.4l0.0 0.0M116.9 486.2l0.0 0.0M80.8 501.0l0.0 0.0M135.4 476.6l0.0 0.0M133.3 481.9l0.0 0.0M87.1 494.6l0.0 0.0M79.4 495.4l0.0 0.0M149.1 457.4l0.0 0.0M153.0 458.5l0.0 0.0M140.1 461.0l0.0 0.0M157.5 451.4l0.0 0.0M165.9 453.7l0.0 0.0M125.3 452.2l0.0 0.0M126.7 462.2l0.0 0.0M139.7 455.1l0.0 0.0M148.4 450.4l0.0 0.0M138.4 450.9l0.0 0.0M145.0 459.7l0.0 0.0M141.1 450.8l0.0 0.0M161.2 448.8l0.0 0.0M146.9 450.0l0.0 0.0M131.3 452.2l0.0 0.0M164.2 452.9l0.0 0.0M128.7 459.1l0.0 0.0M129.7 458.6l0.0 0.0M132.4 456.0l0.0 0.0M126.0 461.6l0.0 0.0M127.4 457.3l0.0 0.0M168.5 448.8l0.0 0.0M150.2 456.9l0.0 0.0"/>
<path stroke="#0dd7a2" stroke-width="0.7" d="M115.1 483.1l3.2 -1.4M123.8 483.0l2.3 -0.8M90.6 491.9l1.7 -0.6M104.3 495.1l3.8 -1.5M115.2 492.7l2.7 -1.2M133.0 471.7l1.7 -0.6M96.4 490.1l3.6 -1.8M91.2 488.5l2.1 -0.9M107.7 482.2l2.7 -1.5M106.0 486.0l1.4 -0.4M134.7 470.5l1.6 -0.5M103.1 486.4l1.9 -1.3M89.2 495.5l3.5 -1.6M81.8 488.8l3.2 -1.1M127.6 486.4l3.6 -1.4M89.2 496.0l2.4 -1.2M139.6 481.4l1.6 -0.8M135.2 483.8l1.6 -0.6M73.5 496.0l2.6 -1.2M94.7 488.8l3.9 -1.3M106.9 490.3l1.8 -0.7M91.0 491.6l2.5 -1.0M119.7 491.2l1.4 -0.6M86.4 487.4l3.6 -1.8M148.3 472.7l4.9 -2.6M125.4 484.3l6.8 -3.7M141.9 476.8l5.0 -3.3M141.0 478.6l5.7 -3.1M129.3 485.3l5.2 -3.2M123.8 490.7l7.2 -3.9M147.8 478.4l3.2 -1.6M144.1 483.1l5.1 -2.6M141.4 483.7l3.5 -2.2M138.3 485.7l4.4 -2.4M129.8 490.7l4.7 -3.0M147.0 482.0l3.8 -2.1"/>
<path stroke="#0dd7a2" stroke-width="1.1" d="M91.6 513.3l0.0 0.0M71.5 511.3l0.0 0.0M82.6 512.8l0.0 0.0M100.2 511.7l0.0 0.0M102.8 511.7l0.0 0.0M100.4 506.3l0.0 0.0M71.7 505.4l0.0 0.0M65.8 511.6l0.0 0.0M63.8 510.1l0.0 0.0M79.4 511.9l0.0 0.0M70.9 512.9l0.0 0.0M87.0 505.1l0.0 0.0M76.0 506.2l0.0 0.0M70.4 508.4l0.0 0.0M112.3 507.9l0.0 0.0M81.9 510.1l0.0 0.0M91.5 510.8l0.0 0.0M63.6 509.2l0.0 0.0M95.5 505.8l0.0 0.0M107.4 507.0l0.0 0.0M76.6 512.9l0.0 0.0M89.7 506.3l0.0 0.0M86.3 507.5l0.0 0.0M93.0 507.2l0.0 0.0M77.1 508.2l0.0 0.0M73.4 504.4l0.0 0.0M92.8 507.5l0.0 0.0M95.6 505.6l0.0 0.0M70.3 508.2l0.0 0.0M91.7 509.6l0.0 0.0M79.4 512.2l0.0 0.0M72.1 510.3l0.0 0.0M90.3 510.2l0.0 0.0M114.3 508.0l0.0 0.0M114.0 506.0l0.0 0.0M86.9 503.8l0.0 0.0M96.3 509.9l0.0 0.0M89.2 505.4l0.0 0.0M95.9 507.2l0.0 0.0M94.4 513.9l0.0 0.0M91.4 513.1l0.0 0.0M109.2 509.8l0.0 0.0M113.3 505.8l0.0 0.0M88.8 507.6l0.0 0.0M95.7 508.6l0.0 0.0M69.7 508.4l0.0 0.0M89.4 508.9l0.0 0.0M93.0 512.7l0.0 0.0M99.3 508.3l0.0 0.0M75.6 509.4l0.0 0.0"/>
<path stroke="#0dd7a2" stroke-width="0.8" d="M83.4 512.8l3.2 -1.0M79.4 505.1l3.0 -0.6M63.8 511.7l2.5 -0.6M63.2 509.9l1.9 -0.4M98.7 504.7l3.2 -1.9M76.3 504.5l3.1 -1.3M75.7 509.0l2.1 -0.3M68.7 508.0l3.0 -0.5M82.9 509.4l1.9 -0.4M108.4 508.8l2.2 -0.5M109.3 507.4l2.7 -0.2M63.5 511.2l1.8 -0.5M87.6 507.7l1.7 -0.2M170.3 449.1l1.4 -1.7"/>
<path stroke="#0dd7a2" stroke-width="0.9" d="M136.8 452.9l0.5 -2.8M144.8 451.9l0.5 -2.8M149.8 451.4l0.5 -2.8"/>
<path stroke="#21d071" stroke-width="1.0" d="M141.0 476.6l0.0 0.0M143.9 474.2l0.0 0.0M94.2 497.7l0.0 0.0M131.0 471.4l0.0 0.0M97.3 490.9l0.0 0.0M97.5 490.4l0.0 0.0M120.9 479.5l0.0 0.0M83.5 499.1l0.0 0.0M100.1 490.7l0.0 0.0M138.3 477.0l0.0 0.0M82.7 494.1l0.0 0.0M132.9 479.9l0.0 0.0M90.5 495.4l0.0 0.0M91.1 494.2l0.0 0.0M119.2 490.7l0.0 0.0M108.5 481.7l0.0 0.0M143.3 474.7l0.0 0.0M114.1 486.2l0.0 0.0M92.4 499.8l0.0 0.0M143.4 472.0l0.0 0.0M129.1 486.6l0.0 0.0M83.9 500.6l0.0 0.0M81.0 494.2l0.0 0.0M128.3 484.2l0.0 0.0M79.0 496.6l0.0 0.0M102.9 488.2l0.0 0.0M100.5 492.4l0.0 0.0M126.5 475.5l0.0 0.0M103.2 492.9l0.0 0.0M107.3 482.8l0.0 0.0M119.6 486.8l0.0 0.0M142.9 469.9l0.0 0.0M129.6 477.9l0.0 0.0M76.5 495.1l0.0 0.0M116.0 479.6l0.0 0.0M129.7 481.9l0.0 0.0M103.2 483.5l0.0 0.0M133.0 478.7l0.0 0.0M129.5 474.8l0.0 0.0M121.8 485.4l0.0 0.0M89.7 490.4l0.0 0.0M122.2 477.3l0.0 0.0M124.9 474.0l0.0 0.0M130.4 474.5l0.0 0.0M136.8 472.4l0.0 0.0M122.9 478.2l0.0 0.0M136.9 480.9l0.0 0.0M138.9 472.7l0.0 0.0M89.6 492.3l0.0 0.0M134.2 480.8l0.0 0.0M83.7 494.4l0.0 0.0M116.8 478.9l0.0 0.0M123.1 480.6l0.0 0.0M129.4 484.1l0.0 0.0M107.1 490.3l0.0 0.0M98.0 490.7l0.0 0.0M94.0 489.5l0.0 0.0M134.1 482.6l0.0 0.0M134.6 475.1l0.0 0.0M137.6 470.4l0.0 0.0M112.5 486.3l0.0 0.0M126.1 475.6l0.0 0.0M132.6 477.2l0.0 0.0M119.1 488.0l0.0 0.0M98.7 489.5l0.0 0.0M99.8 486.5l0.0 0.0M92.9 500.2l0.0 0.0M81.2 500.8l0.0 0.0M90.2 498.7l0.0 0.0M74.9 493.8l0.0 0.0M152.9 459.8l0.0 0.0M143.3 462.9l0.0 0.0M121.1 459.4l0.0 0.0M170.2 446.5l0.0 0.0M158.8 450.2l0.0 0.0M118.3 458.0l0.0 0.0M143.9 454.8l0.0 0.0M129.7 460.1l0.0 0.0M133.7 458.7l0.0 0.0M154.1 455.3l0.0 0.0M151.0 451.7l0.0 0.0M152.9 458.3l0.0 0.0M158.8 452.8l0.0 0.0M139.8 454.0l0.0 0.0M153.6 459.8l0.0 0.0M122.1 457.5l0.0 0.0M133.4 453.1l0.0 0.0M142.6 461.2l0.0 0.0M163.6 453.9l0.0 0.0M146.6 453.5l0.0 0.0M161.4 453.3l0.0 0.0M150.9 462.0l0.0 0.0M151.3 450.6l0.0 0.0M139.0 451.4l0.0 0.0M133.6 450.6l0.0 0.0"/>
<path stroke="#21d071" stroke-width="0.7" d="M145.6 474.8l2.0 -0.9M118.7 488.3l1.5 -0.7M108.0 483.8l2.3 -1.0M114.8 479.8l2.5 -1.2M135.8 483.7l3.8 -1.8M88.7 499.8l2.9 -1.0M142.3 471.5l1.4 -0.4M113.6 486.7l1.8 -0.5M118.0 487.6l2.4 -0.9M88.7 498.3l3.1 -1.3M113.7 478.8l2.9 -1.3M129.0 481.9l2.1 -1.1M93.3 490.1l1.9 -1.2M122.6 479.7l3.3 -0.9M140.7 476.3l3.6 -1.9M142.3 479.1l5.9 -3.5M139.6 480.3l4.5 -2.7M136.2 484.0l6.3 -3.7M144.0 480.1l4.2 -2.4M146.8 481.3l7.3 -4.0"/>
<path stroke="#21d071" stroke-width="1.1" d="M101.0 510.2l0.0 0.0M89.7 504.1l0.0 0.0M89.8 508.3l0.0 0.0M92.0 505.6l0.0 0.0M98.6 506.3l0.0 0.0M114.1 507.0l0.0 0.0M106.3 509.8l0.0 0.0M91.3 514.7l0.0 0.0M86.6 513.7l0.0 0.0M112.5 508.4l0.0 0.0M66.4 513.2l0.0 0.0M70.2 508.4l0.0 0.0M89.7 512.1l0.0 0.0M79.8 511.7l0.0 0.0M78.1 512.7l0.0 0.0M100.2 508.2l0.0 0.0M90.3 503.8l0.0 0.0M88.4 510.5l0.0 0.0M105.1 510.9l0.0 0.0M103.8 504.5l0.0 0.0M90.0 509.4l0.0 0.0M74.3 506.4l0.0 0.0M84.4 511.9l0.0 0.0M93.9 507.2l0.0 0.0M70.1 504.7l0.0 0.0M80.4 508.6l0.0 0.0M71.1 504.7l0.0 0.0M82.0 503.3l0.0 0.0M67.2 510.1l0.0 0.0M96.9 506.4l0.0 0.0M64.9 509.4l0.0 0.0M108.9 504.9l0.0 0.0M110.8 503.9l0.0 0.0"/>
<path stroke="#21d071" stroke-width="0.8" d="M102.6 510.8l3.6 -1.4M99.7 509.5l3.6 -0.9M71.8 509.0l2.7 -0.6M77.2 509.5l2.9 -0.7M84.3 510.4l3.2 -0.2M76.8 514.6l3.4 -0.4M69.3 511.9l4.0 -0.5M94.8 513.0l1.5 -0.3M68.3 513.2l3.5 0.2M102.4 511.0l1.8 -0.3M70.2 509.1l2.2 -1.4M63.2 508.9l3.3 -0.5M84.7 512.2l2.7 -0.5M79.6 514.4l2.0 -0.5M86.9 512.0l2.1 -0.5M155.5 453.7l1.4 -1.0M164.1 450.6l1.3 -1.4M163.5 454.4l1.9 -1.9M158.1 455.9l1.3 -0.9M169.0 448.7l1.2 -0.8"/>
<path stroke="#46d34f" stroke-width="1.0" d="M121.6 489.9l0.0 0.0M90.8 492.5l0.0 0.0M140.2 475.4l0.0 0.0M136.2 475.3l0.0 0.0M113.2 479.2l0.0 0.0M112.3 487.5l0.0 0.0M111.7 493.2l0.0 0.0M135.3 482.2l0.0 0.0M129.1 487.5l0.0 0.0M108.7 482.0l0.0 0.0M145.6 475.3l0.0 0.0M117.4 492.8l0.0 0.0M143.0 471.9l0.0 0.0M105.0 484.6l0.0 0.0M85.5 493.0l0.0 0.0M146.4 470.9l0.0 0.0M99.9 492.7l0.0 0.0M138.8 481.0l0.0 0.0M130.2 485.2l0.0 0.0M101.0 491.3l0.0 0.0M141.3 479.8l0.0 0.0M106.0 495.4l0.0 0.0M107.0 496.6l0.0 0.0M126.9 485.7l0.0 0.0M128.8 472.7l0.0 0.0M98.6 498.6l0.0 0.0M131.4 476.3l0.0 0.0M115.1 489.0l0.0 0.0M119.4 479.7l0.0 0.0M132.8 475.6l0.0 0.0M81.9 497.4l0.0 0.0M117.7 485.0l0.0 0.0M112.1 480.9l0.0 0.0M95.7 496.2l0.0 0.0M103.5 485.3l0.0 0.0M129.4 484.0l0.0 0.0M141.4 480.2l0.0 0.0M107.9 484.0l0.0 0.0M100.2 487.1l0.0 0.0M82.3 501.5l0.0 0.0M107.3 485.8l0.0 0.0M127.1 474.8l0.0 0.0M97.7 496.4l0.0 0.0M90.8 494.2l0.0 0.0M113.8 483.6l0.0 0.0M77.2 496.3l0.0 0.0M101.2 490.0l0.0 0.0M119.3 487.3l0.0 0.0M127.9 487.0l0.0 0.0M157.2 459.4l0.0 0.0M159.5 459.1l0.0 0.0M138.8 452.2l0.0 0.0M155.9 459.0l0.0 0.0M123.6 458.9l0.0 0.0M129.4 458.7l0.0 0.0M135.3 458.9l0.0 0.0M163.1 458.9l0.0 0.0M143.6 461.6l0.0 0.0M141.8 457.5l0.0 0.0M140.5 459.0l0.0 0.0M155.9 461.4l0.0 0.0M155.1 457.2l0.0 0.0M140.8 453.6l0.0 0.0M123.1 457.2l0.0 0.0M164.9 456.4l0.0 0.0"/>
<path stroke="#46d34f" stroke-width="0.7" d="M87.9 490.6l3.1 -0.8M87.7 496.0l1.8 -1.1M111.3 494.7l1.6 -0.7M141.4 474.6l1.4 -0.5M133.9 471.4l2.0 -0.9M95.6 497.2l3.2 -0.9M126.2 489.6l2.5 -1.0M80.3 494.0l2.9 -1.2M85.5 496.1l2.5 -1.5M110.3 489.2l2.9 -1.0M124.6 474.0l1.5 -0.9M132.5 481.5l2.4 -0.9M87.7 492.8l2.0 -0.9M123.5 478.3l3.2 -1.9M87.1 489.1l3.8 -1.4M96.4 486.7l1.4 -0.9M92.6 491.5l2.8 -0.9M101.7 486.2l3.3 -1.5M122.3 484.1l4.5 -2.6M139.9 474.5l6.1 -3.1M133.4 478.4l3.8 -2.2M117.2 490.2l6.8 -4.3M126.7 484.8l4.1 -2.3M122.9 489.7l6.5 -3.3M128.2 485.4l4.0 -2.2M120.0 490.6l6.0 -3.2M137.3 483.6l3.2 -1.7M146.0 478.4l3.8 -2.0M146.9 478.0l5.3 -2.9"/>
<path stroke="#46d34f" stroke-width="1.1" d="M89.0 511.0l0.0 0.0M106.5 508.8l0.0 0.0M98.5 506.9l0.0 0.0M65.4 510.3l0.0 0.0M71.0 507.2l0.0 0.0M98.0 511.3l0.0 0.0M79.3 506.5l0.0 0.0M84.4 508.7l0.0 0.0M85.8 503.7l0.0 0.0M94.9 506.9l0.0 0.0M100.9 512.1l0.0 0.0M110.6 507.4l0.0 0.0M115.0 507.1l0.0 0.0M65.0 507.6l0.0 0.0M89.5 511.6l0.0 0.0M75.1 507.0l0.0 0.0M84.9 508.7l0.0 0.0M75.2 507.9l0.0 0.0M101.9 508.5l0.0 0.0M64.1 509.5l0.0 0.0M113.3 508.1l0.0 0.0M84.8 503.9l0.0 0.0M85.4 505.8l0.0 0.0M69.3 505.3l0.0 0.0M102.4 506.8l0.0 0.0M97.2 503.7l0.0 0.0M68.1 511.9l0.0 0.0M112.1 504.6l0.0 0.0M71.0 504.9l0.0 0.0M95.2 510.0l0.0 0.0M106.1 503.0l0.0 0.0M88.3 510.2l0.0 0.0M67.7 511.5l0.0 0.0M107.2 504.6l0.0 0.0M74.5 508.6l0.0 0.0M88.2 505.7l0.0 0.0M104.9 511.2l0.0 0.0M79.3 509.0l0.0 0.0M91.0 510.7l0.0 0.0M68.2 508.1l0.0 0.0M114.3 504.2l0.0 0.0M113.3 506.3l0.0 0.0M87.6 511.1l0.0 0.0M169.6 447.5l0.0 0.0M167.5 455.0l0.0 0.0M167.2 451.8l0.0 0.0M165.2 454.4l0.0 0.0M168.8 448.9l0.0 0.0"/>
<path stroke="#46d34f" stroke-width="0.8" d="M97.0 508.5l1.4 -0.4M87.0 504.4l3.7 -0.5M76.6 512.8l1.7 -0.3M78.3 508.7l4.0 -0.5M87.4 515.1l3.2 -1.6M74.5 507.9l2.6 0.2M95.3 510.3l1.9 0.1M91.5 507.1l3.7 -1.0M72.8 510.4l3.4 -0.5M163.4 453.6l1.4 -0.8M155.2 457.6l1.9 -0.7M166.8 449.4l2.7 -1.2"/>
<path stroke="#46d34f" stroke-width="0.9" d="M166.9 450.8l2.1 -3.6M164.1 453.5l1.8 -3.0"/>
<path stroke="#74dd37" stroke-width="0.7" d="M131.0 480.1l4.7 -2.9M139.1 475.2l3.8 -2.0M138.0 475.0l5.8 -2.8M125.1 485.2l7.2 -3.7M145.0 474.8l6.6 -3.8M138.6 480.4l3.5 -2.0M142.5 478.8l5.1 -3.0M128.5 484.7l6.6 -3.8M124.9 492.0l4.9 -2.6M129.6 489.6l6.1 -3.4"/>
<path stroke="#74dd37" stroke-width="1.1" d="M100.9 506.0l0.0 0.0M114.9 507.3l0.0 0.0M84.2 514.1l0.0 0.0M98.7 504.3l0.0 0.0M98.2 504.0l0.0 0.0M75.0 505.8l0.0 0.0M80.4 512.6l0.0 0.0M113.1 505.9l0.0 0.0M69.4 511.0l0.0 0.0M93.9 510.7l0.0 0.0M100.5 511.1l0.0 0.0M94.8 504.3l0.0 0.0M107.9 503.6l0.0 0.0M75.0 508.6l0.0 0.0M102.2 507.9l0.0 0.0M94.8 508.0l0.0 0.0M86.9 503.4l0.0 0.0M109.4 507.4l0.0 0.0M116.5 506.7l0.0 0.0M105.4 502.9l0.0 0.0M99.2 512.9l0.0 0.0M81.8 509.5l0.0 0.0M94.5 510.4l0.0 0.0M114.4 506.1l0.0 0.0M103.2 507.2l0.0 0.0M89.7 511.5l0.0 0.0M71.7 504.7l0.0 0.0M84.9 508.8l0.0 0.0M114.3 506.2l0.0 0.0M74.1 514.4l0.0 0.0M64.0 508.6l0.0 0.0M97.5 504.8l0.0 0.0M86.4 505.7l0.0 0.0M76.8 512.0l0.0 0.0M162.8 453.2l0.0 0.0M160.5 456.5l0.0 0.0M157.6 455.7l0.0 0.0M160.6 456.4l0.0 0.0M161.2 453.4l0.0 0.0M160.7 454.7l0.0 0.0"/>
<path stroke="#74dd37" stroke-width="0.8" d="M73.3 508.7l2.7 -0.8M103.7 507.6l3.9 0.3M79.5 504.2l2.4 -0.7M80.3 504.4l1.4 -0.4M86.4 514.9l3.8 -0.3M107.8 505.3l2.8 0.2M106.0 508.8l2.7 -0.6M77.7 504.1l3.0 -0.9M82.9 504.2l3.7 -0.7M72.5 508.9l2.8 -0.9M102.7 508.4l3.8 -0.4M158.8 459.1l1.1 -1.0M159.7 455.3l2.5 -1.1M157.4 455.3l3.1 -1.2M157.5 458.8l2.1 -1.8"/>
<path stroke="#74dd37" stroke-width="1.0" d="M90.7 510.4l2.7 -0.9M85.0 513.3l2.0 -0.6M118.7 484.4l2.7 -0.9M108.7 488.4l2.7 -0.9M147.3 453.3l0.0 0.0M132.4 460.9l0.0 0.0M124.3 461.3l0.0 0.0M139.8 461.8l0.0 0.0M153.2 453.9l0.0 0.0M127.2 452.4l0.0 0.0M163.7 458.3l0.0 0.0M123.3 457.2l0.0 0.0M128.1 459.8l0.0 0.0M134.0 462.6l0.0 0.0M148.8 456.6l0.0 0.0M151.4 461.7l0.0 0.0M135.6 461.2l0.0 0.0M121.0 459.9l0.0 0.0M147.9 457.6l0.0 0.0M140.6 461.0l0.0 0.0M137.3 452.4l0.0 0.0M136.6 451.4l0.0 0.0M160.7 455.1l0.0 0.0M165.9 450.3l0.0 0.0M144.2 457.6l0.0 0.0M171.8 448.9l0.0 0.0"/>
<path stroke="#a0e324" stroke-width="0.7" d="M124.2 483.7l3.9 -2.4M146.7 473.6l6.9 -3.8M119.3 488.7l4.5 -2.5M125.4 488.3l6.6 -3.5M126.9 487.0l4.1 -2.1M122.6 491.6l4.6 -2.6M147.3 480.7l7.0 -3.5"/>
<path stroke="#a0e324" stroke-width="0.8" d="M107.0 506.9l2.9 -0.0M71.6 514.5l3.1 -0.6M89.1 510.6l3.2 -0.5M75.0 504.3l2.5 -0.8M158.4 452.2l3.3 -0.1M162.9 455.0l2.6 -0.4M166.3 450.5l1.4 -1.3"/>
<path stroke="#a0e324" stroke-width="1.0" d="M71.7 510.4l2.7 -0.9M76.7 507.4l2.7 -0.9M128.7 480.4l2.7 -0.9M122.9 461.2l0.0 0.0M143.1 455.5l0.0 0.0M148.6 460.1l0.0 0.0M168.1 447.4l0.0 0.0M161.8 457.9l0.0 0.0M146.8 459.9l0.0 0.0M158.6 452.0l0.0 0.0M166.0 454.4l0.0 0.0M134.6 453.0l0.0 0.0M130.6 451.8l0.0 0.0M150.9 459.5l0.0 0.0M163.6 450.8l0.0 0.0M151.4 450.6l0.0 0.0M139.8 462.7l0.0 0.0M135.5 457.3l0.0 0.0M150.2 450.2l0.0 0.0M160.9 453.9l0.0 0.0M142.9 460.4l0.0 0.0M133.0 457.6l0.0 0.0M150.7 451.0l0.0 0.0M121.5 457.6l0.0 0.0M142.5 459.9l0.0 0.0"/>
<path stroke="#a0e324" stroke-width="1.1" d="M161.2 454.8l0.0 0.0M156.0 456.1l0.0 0.0M160.0 454.3l0.0 0.0M168.4 450.4l0.0 0.0M168.3 448.8l0.0 0.0M168.9 452.8l0.0 0.0M157.7 453.0l0.0 0.0"/>
<path stroke="#cae714" stroke-width="0.7" d="M131.8 479.6l3.0 -1.8M141.0 474.0l3.9 -2.0M139.1 474.5l3.7 -1.8M127.5 484.4l2.6 -1.5M126.3 484.5l4.6 -2.4M146.2 474.1l4.2 -2.4M139.3 480.0l2.3 -1.3M129.6 484.0l4.3 -2.4M137.8 483.3l2.1 -1.1M146.7 478.0l2.4 -1.3M125.7 491.6l3.2 -1.7M130.7 489.0l3.9 -2.2"/>
<path stroke="#cae714" stroke-width="0.8" d="M79.9 504.1l1.5 -0.4M80.5 504.4l0.9 -0.3M87.1 514.9l2.4 -0.2M108.3 505.3l1.8 0.1M78.2 503.9l2.0 -0.6M83.5 504.1l2.4 -0.5M73.0 508.7l1.8 -0.6M139.1 454.8l0.5 -1.8M152.0 456.6l2.2 -1.4M159.0 458.9l0.7 -0.6M160.9 457.1l1.4 -1.2M165.7 451.4l2.2 -0.5M159.3 454.5l1.4 -0.7M159.3 454.1l2.3 -1.0M158.4 458.8l2.9 -1.9M157.9 458.5l1.3 -1.2M155.4 456.5l3.0 -1.6"/>
<path stroke="#cae714" stroke-width="1.0" d="M94.7 512.4l2.7 -0.9M139.3 456.6l0.0 0.0M129.3 457.3l0.0 0.0M126.3 456.1l0.0 0.0M164.4 454.0l0.0 0.0M123.9 456.5l0.0 0.0M133.6 462.7l0.0 0.0M140.5 455.1l0.0 0.0M167.2 453.0l0.0 0.0M146.8 462.6l0.0 0.0M122.0 460.5l0.0 0.0M153.0 451.1l0.0 0.0M142.1 460.6l0.0 0.0M154.5 458.4l0.0 0.0M165.5 456.5l0.0 0.0M155.8 453.5l0.0 0.0M150.5 462.3l0.0 0.0M146.0 454.2l0.0 0.0M160.9 454.7l0.0 0.0M144.9 452.0l0.0 0.0M143.1 457.5l0.0 0.0M162.3 452.3l0.0 0.0M149.6 457.9l0.0 0.0M121.1 459.6l0.0 0.0M142.7 455.1l0.0 0.0M170.1 446.9l0.0 0.0"/>
<path stroke="#cae714" stroke-width="1.1" d="M168.9 449.1l0.0 0.0M165.1 455.1l0.0 0.0M165.9 454.4l0.0 0.0M162.4 457.1l0.0 0.0M156.6 456.9l0.0 0.0M161.7 456.1l0.0 0.0M170.1 450.7l0.0 0.0M169.6 449.6l0.0 0.0M166.1 449.7l0.0 0.0M165.8 453.3l0.0 0.0"/>
<path stroke="#f3ea04" stroke-width="0.7" d="M139.8 474.9l2.5 -1.3M148.0 473.0l4.5 -2.4M120.1 488.2l2.9 -1.6M127.7 486.7l2.6 -1.4M143.4 478.2l3.3 -1.9"/>
<path stroke="#f3ea04" stroke-width="0.8" d="M73.8 508.5l1.7 -0.5M107.5 506.8l1.9 -0.0M72.2 514.4l2.0 -0.4M104.4 507.6l2.5 0.2M89.7 510.5l2.1 -0.3M75.4 504.2l1.6 -0.5M106.5 508.7l1.7 -0.4M103.4 508.3l2.5 -0.3M142.0 459.6l2.5 -0.2M131.9 454.3l1.0 -1.6M150.9 453.8l1.2 -1.8M150.1 454.8l1.0 -0.7M134.9 459.1l1.5 -0.6M137.0 459.2l2.0 -0.7M145.9 457.1l1.6 -0.6M128.8 458.7l1.1 0.1M135.4 457.5l2.3 0.3M146.8 455.2l1.3 -0.5M141.8 459.1l1.3 -1.6M139.0 457.0l2.0 -1.7M160.5 453.4l1.2 -0.8M159.0 452.1l2.1 -0.1M163.3 454.9l1.6 -0.2M160.2 455.1l1.6 -0.7M156.9 459.8l1.8 -1.7M166.6 450.3l0.9 -0.9M168.0 451.8l2.8 -1.0M157.9 455.1l2.0 -0.8"/>
<path stroke="#f3ea04" stroke-width="1.0" d="M91.1 510.3l1.7 -0.6M85.4 513.2l1.3 -0.4M119.1 484.3l1.7 -0.6M109.1 488.3l1.7 -0.6M152.8 456.1l0.0 0.0M169.1 452.1l0.0 0.0M159.5 449.4l0.0 0.0M161.3 454.1l0.0 0.0M156.7 455.5l0.0 0.0M146.1 452.2l0.0 0.0M148.1 460.0l0.0 0.0M134.6 453.0l0.0 0.0M155.4 453.7l0.0 0.0M128.6 453.8l0.0 0.0M144.3 451.6l0.0 0.0M133.2 457.8l0.0 0.0M164.9 451.6l0.0 0.0M166.7 450.5l0.0 0.0M146.5 461.4l0.0 0.0M135.2 459.2l0.0 0.0"/>
<path stroke="#f3ea04" stroke-width="1.1" d="M169.8 447.6l0.0 0.0M169.1 451.4l0.0 0.0M166.9 449.6l0.0 0.0M161.2 452.7l0.0 0.0M171.5 447.5l0.0 0.0M169.1 451.1l0.0 0.0M160.5 455.5l0.0 0.0M165.0 452.9l0.0 0.0M170.6 448.1l0.0 0.0"/>
<path stroke="#ffd900" stroke-width="0.7" d="M124.9 483.3l2.5 -1.6M126.6 487.7l4.3 -2.3M123.4 491.1l3.0 -1.7M148.5 480.1l4.5 -2.2"/>
<path stroke="#ffd900" stroke-width="1.0" d="M72.1 510.3l1.7 -0.6M77.1 507.3l1.7 -0.6M129.1 480.3l1.7 -0.6M163.6 451.1l0.0 0.0M161.8 456.3l0.0 0.0M120.6 459.2l0.0 0.0M126.6 460.8l0.0 0.0M138.3 461.0l0.0 0.0M149.9 452.4l0.0 0.0M127.2 457.5l0.0 0.0M154.2 457.2l0.0 0.0"/>
<path stroke="#ffd900" stroke-width="0.8" d="M156.8 456.2l1.2 0.0M130.5 458.3l2.1 -1.4M139.2 459.5l2.4 -0.1M143.9 458.3l1.7 -0.2M135.3 460.0l2.2 -0.1M153.1 454.6l1.1 -0.9M144.4 456.2l2.3 0.2M141.0 453.9l1.5 -2.0M132.8 461.1l2.3 -1.2M147.7 457.4l0.7 -0.8M138.1 457.7l1.6 -0.4M135.6 455.3l1.7 0.5M150.8 460.0l1.9 -1.3M158.4 454.9l2.5 -0.2M132.9 458.1l2.6 -0.9M134.6 456.5l0.7 -1.1"/>
<path stroke="#ffd900" stroke-width="1.1" d="M160.9 454.5l0.0 0.0M170.4 449.8l0.0 0.0M156.8 457.0l0.0 0.0M155.5 457.4l0.0 0.0M167.9 451.8l0.0 0.0M159.4 452.9l0.0 0.0M168.1 452.9l0.0 0.0M157.7 457.3l0.0 0.0M165.7 451.4l0.0 0.0M162.8 456.7l0.0 0.0"/>
<path stroke="#ffbf00" stroke-width="1.0" d="M95.1 512.3l1.7 -0.6"/>
<path stroke="#ffbf00" stroke-width="0.8" d="M154.1 456.1l1.4 -0.4M150.1 456.9l1.4 0.4M143.2 455.0l1.8 0.0M141.8 453.5l2.6 -0.6M141.8 454.5l1.7 0.4M141.0 455.2l1.8 -0.5M141.5 455.3l2.5 -0.5M132.8 456.4l1.0 -0.8M130.3 455.2l0.6 -1.2M135.0 460.6l2.4 -0.4M148.8 455.5l2.3 0.1M124.9 457.3l1.3 -0.6M148.3 457.5l1.7 0.5M146.8 454.7l1.3 -0.2M143.1 454.9l2.3 -0.4M138.3 455.2l1.2 0.3M127.6 455.0l1.3 0.4M134.1 459.3l1.4 -0.7M136.2 457.8l1.0 0.6M145.3 454.2l2.1 -1.2M141.0 454.6l1.3 0.6M149.0 453.3l1.0 -0.2M148.3 459.6l2.0 0.9M130.8 454.8l2.4 0.1M161.1 456.8l0.9 -0.8M159.5 454.4l0.9 -0.4M159.7 453.9l1.5 -0.6M159.0 458.4l1.9 -1.2M155.9 456.2l1.9 -1.0"/>
<path stroke="#ffbf00" stroke-width="1.1" d="M168.2 454.0l0.0 0.0M169.1 451.7l0.0 0.0M164.7 454.3l0.0 0.0M155.5 455.8l0.0 0.0M157.5 458.7l0.0 0.0M170.0 447.3l0.0 0.0M168.5 449.8l0.0 0.0M166.7 450.8l0.0 0.0M158.2 458.7l0.0 0.0"/>
<path stroke="#ffa600" stroke-width="1.1" d="M155.9 457.0l0.0 0.0M170.7 448.7l0.0 0.0M163.9 454.3l0.0 0.0M170.1 450.5l0.0 0.0M158.5 453.8l0.0 0.0M156.1 457.7l0.0 0.0M168.1 447.7l0.0 0.0M165.0 453.1l0.0 0.0M157.1 455.3l0.0 0.0M157.8 458.3l0.0 0.0M167.7 449.7l0.0 0.0M156.8 456.0l0.0 0.0M163.4 452.5l0.0 0.0M169.6 449.6l0.0 0.0M169.0 450.7l0.0 0.0M170.7 448.7l0.0 0.0M170.1 446.3l0.0 0.0"/>
<path stroke="#ffa600" stroke-width="0.8" d="M132.9 460.5l1.2 0.0M130.3 460.5l1.9 -1.7M143.5 454.6l1.3 -0.0M143.7 455.4l1.9 -1.5M146.3 457.6l1.3 -1.5M140.6 454.2l1.6 -0.8M158.6 456.3l2.0 -0.8M143.4 457.8l2.1 -0.0M139.2 454.4l0.3 -1.2M135.2 459.0l1.0 -0.4M156.6 457.4l2.3 -0.8M129.7 459.2l2.1 -1.8M152.1 453.4l2.0 -0.9M127.6 459.5l1.5 -0.7M140.0 455.9l1.1 -1.2M126.3 456.4l1.7 -1.2M157.0 456.6l2.4 0.8M137.4 457.6l2.1 -0.8M146.2 456.9l1.0 -0.4M131.2 453.7l1.7 -0.4M130.9 456.7l1.4 -1.4M155.3 454.1l2.7 -0.3M152.4 456.3l1.4 -0.9M154.5 454.1l2.0 -0.2M142.0 458.8l0.9 -1.1M128.1 460.2l1.4 -0.8M142.4 457.3l1.8 0.1M166.1 451.3l1.4 -0.3M157.2 459.5l1.1 -1.1M168.5 451.6l1.8 -0.7M156.4 456.0l1.1 -0.6"/>
<path stroke="#fd8b00" stroke-width="1.1" d="M140.5 458.9l0.0 0.0M131.1 457.1l0.0 0.0M128.7 454.8l0.0 0.0M145.3 452.5l0.0 0.0M130.1 459.3l0.0 0.0M134.6 460.9l0.0 0.0M128.5 455.9l0.0 0.0M140.2 457.1l0.0 0.0M159.2 456.0l0.0 0.0M151.0 458.5l0.0 0.0M142.0 460.6l0.0 0.0M129.9 454.2l0.0 0.0M125.8 459.0l0.0 0.0M153.6 455.5l0.0 0.0M169.6 449.1l0.0 0.0M169.5 449.6l0.0 0.0M158.4 452.4l0.0 0.0M158.3 452.8l0.0 0.0M156.0 454.5l0.0 0.0M164.5 454.1l0.0 0.0M170.0 450.3l0.0 0.0M159.5 452.2l0.0 0.0"/>
<path stroke="#fd8b00" stroke-width="0.8" d="M157.0 456.2l0.8 0.0M136.2 458.0l1.7 -1.6M142.4 459.6l1.6 -0.1M129.1 458.4l1.4 -0.5M143.6 457.0l1.1 -0.3M139.8 453.2l1.8 -0.8M138.1 459.0l2.5 -0.7M132.0 454.0l0.7 -1.0M143.9 456.4l2.6 0.7M151.1 453.5l0.8 -1.1M150.2 454.7l0.6 -0.4M151.5 460.9l1.4 -2.3M139.5 455.0l1.5 -1.6M131.9 456.3l2.3 -1.0M147.5 455.7l0.9 -1.2M127.7 456.4l1.4 -0.0M135.9 455.7l1.7 -1.3M157.0 456.9l1.7 0.8M133.2 460.9l1.5 -0.8M137.3 459.1l1.3 -0.4M134.3 460.5l1.8 -0.0M137.1 457.3l1.3 -0.6M133.8 457.7l1.8 0.2M129.0 458.7l0.7 0.1M143.4 458.6l1.8 0.4M135.8 457.6l1.5 0.2M126.6 456.1l1.4 0.2M127.5 457.3l0.9 -1.2M155.6 457.6l2.4 -0.6M138.6 455.8l1.1 -1.1M147.0 455.1l0.8 -0.3M137.4 461.7l1.1 -2.2M133.3 457.9l1.7 -0.6M139.3 456.7l1.3 -1.1M147.9 456.0l1.7 -0.7M139.9 459.0l1.7 -0.1M160.7 453.3l0.8 -0.5M161.3 456.7l0.5 -0.4M159.7 454.3l0.5 -0.2M160.0 453.8l0.8 -0.3M159.4 458.1l1.0 -0.7"/>
<path stroke="#f86d00" stroke-width="1.1" d="M149.0 453.3l0.0 0.0M158.8 456.8l0.0 0.0M143.8 460.6l0.0 0.0M144.2 456.9l0.0 0.0M132.6 459.4l0.0 0.0M137.5 456.4l0.0 0.0M155.6 458.7l0.0 0.0M128.3 460.2l0.0 0.0M137.0 459.5l0.0 0.0M140.7 459.2l0.0 0.0M154.4 458.7l0.0 0.0M152.6 459.1l0.0 0.0M146.7 458.5l0.0 0.0M145.7 459.7l0.0 0.0M158.4 455.5l0.0 0.0M130.8 456.7l0.0 0.0M124.9 457.0l0.0 0.0M156.8 453.5l0.0 0.0M157.9 454.0l0.0 0.0M158.6 456.8l0.0 0.0M159.6 452.5l0.0 0.0M156.7 458.4l0.0 0.0M170.0 447.0l0.0 0.0"/>
<path stroke="#f86d00" stroke-width="0.8" d="M130.9 458.1l1.4 -0.9M144.3 458.3l1.1 -0.1M135.7 460.0l1.4 -0.1M139.3 454.2l0.2 -0.6M153.3 454.4l0.7 -0.6M144.8 456.2l1.5 0.1M141.3 453.5l1.0 -1.3M147.8 457.3l0.5 -0.5M135.9 455.4l1.1 0.3M151.1 459.8l1.2 -0.8M152.7 456.1l0.8 -0.5M158.8 454.9l1.6 -0.1M134.8 456.3l0.5 -0.7M166.4 451.3l0.8 -0.2M168.9 451.4l1.0 -0.4"/>
<path stroke="#f34f00" stroke-width="1.1" d="M150.5 453.9l0.0 0.0M129.7 459.3l0.0 0.0M146.2 454.1l0.0 0.0M134.4 456.6l0.0 0.0M129.9 457.3l0.0 0.0M154.9 457.0l0.0 0.0M143.5 453.7l0.0 0.0M158.3 457.5l0.0 0.0M134.6 455.8l0.0 0.0M158.1 455.3l0.0 0.0M153.9 457.8l0.0 0.0M154.0 455.8l0.0 0.0M156.2 457.1l0.0 0.0M140.2 453.0l0.0 0.0M148.8 454.6l0.0 0.0M151.0 457.5l0.0 0.0M139.2 457.6l0.0 0.0M151.1 455.7l0.0 0.0M166.9 452.2l0.0 0.0M162.4 453.4l0.0 0.0M168.1 448.1l0.0 0.0M164.0 454.0l0.0 0.0"/>
<path stroke="#f34f00" stroke-width="0.8" d="M154.4 456.1l0.9 -0.2M143.6 455.0l1.2 0.0M142.8 459.6l0.9 -0.1M139.7 459.5l1.5 -0.0M142.3 453.4l1.7 -0.4M142.1 454.6l1.1 0.2M132.2 453.8l0.4 -0.6M151.2 453.2l0.4 -0.6M150.4 454.6l0.4 -0.2M135.4 458.9l0.5 -0.2M132.9 456.3l0.6 -0.5M137.6 459.0l0.7 -0.2M135.4 460.5l1.5 -0.2M146.4 456.9l0.6 -0.2M149.2 455.5l1.5 0.1M125.1 457.2l0.8 -0.4M129.2 458.7l0.4 0.0M136.1 457.7l0.8 0.1M148.6 457.6l1.1 0.3M147.0 454.7l0.9 -0.1M143.5 454.8l1.5 -0.3M138.5 455.3l0.8 0.2M127.8 455.1l0.8 0.3M138.4 457.6l1.0 -0.2M136.4 457.9l0.7 0.4M145.6 454.0l1.3 -0.7M142.2 458.6l0.5 -0.6M141.2 454.7l0.8 0.4M139.6 456.4l0.7 -0.6M131.2 454.9l1.5 0.1M160.9 453.2l0.4 -0.3M157.4 459.3l0.6 -0.6"/>
<path stroke="#ea3100" stroke-width="1.1" d="M138.8 452.9l0.0 0.0M129.3 455.9l0.0 0.0M158.8 456.6l0.0 0.0M126.7 456.6l0.0 0.0M133.4 458.3l0.0 0.0M138.6 459.5l0.0 0.0M141.2 454.2l0.0 0.0M132.7 459.5l0.0 0.0M128.0 458.6l0.0 0.0M130.9 455.4l0.0 0.0M158.9 454.8l0.0 0.0M129.9 456.8l0.0 0.0M129.9 455.9l0.0 0.0M148.6 458.1l0.0 0.0M151.2 454.8l0.0 0.0M131.0 456.6l0.0 0.0M138.9 460.5l0.0 0.0M143.5 455.3l0.0 0.0M151.4 458.7l0.0 0.0"/>
<path stroke="#ea3100" stroke-width="0.8" d="M157.2 456.2l0.4 0.0M131.2 457.9l0.8 -0.5M150.3 457.0l0.9 0.3M144.5 458.2l0.6 -0.1M136.0 459.9l0.8 -0.0M141.3 455.2l1.1 -0.3M153.5 454.3l0.4 -0.3M157.1 457.2l1.5 -0.5M130.0 458.9l1.4 -1.2M142.0 455.2l1.6 -0.4M133.5 460.7l0.8 -0.4M130.4 454.9l0.4 -0.8M157.5 456.7l1.6 0.5M134.4 459.2l0.9 -0.5M136.1 455.4l0.6 0.2M131.2 456.4l0.9 -0.9M151.4 459.6l0.7 -0.4M147.2 455.1l0.5 -0.2M155.8 454.0l1.7 -0.2M159.2 454.9l0.9 -0.1M133.7 457.8l0.9 -0.3M149.1 453.3l0.7 -0.1M148.7 459.8l1.3 0.6M128.4 460.0l0.9 -0.5M134.9 456.2l0.3 -0.4"/>
<path stroke="#d91400" stroke-width="1.1" d="M159.5 457.1l0.0 0.0M154.8 455.7l0.0 0.0M129.8 454.4l0.0 0.0M142.2 452.6l0.0 0.0M148.1 458.0l0.0 0.0M143.5 460.3l0.0 0.0M150.2 454.0l0.0 0.0M152.4 453.9l0.0 0.0M152.2 458.1l0.0 0.0M152.8 453.5l0.0 0.0M135.0 455.5l0.0 0.0M126.8 459.3l0.0 0.0M156.3 458.8l0.0 0.0M133.1 459.4l0.0 0.0M136.9 454.2l0.0 0.0M126.8 459.8l0.0 0.0M128.5 458.5l0.0 0.0"/>
<path stroke="#d91400" stroke-width="0.8" d="M133.1 460.5l0.8 0.0M143.8 455.0l0.7 0.0M140.0 459.5l0.8 -0.0M142.7 453.3l0.9 -0.2M130.6 460.2l1.2 -1.1M143.7 454.6l0.8 -0.0M144.0 455.1l1.2 -0.9M146.6 457.4l0.8 -1.0M140.8 454.1l1.0 -0.5M159.0 456.2l1.3 -0.5M143.8 457.8l1.3 -0.0M145.1 456.3l0.8 0.1M141.5 453.2l0.6 -0.7M152.5 453.3l1.3 -0.6M127.8 459.4l0.9 -0.4M140.2 455.6l0.7 -0.8M126.6 456.2l1.1 -0.7M147.9 457.1l0.3 -0.3M137.7 457.5l1.3 -0.5M149.5 455.6l0.8 0.1M131.5 453.6l1.1 -0.2M147.2 454.7l0.5 -0.1M138.7 455.3l0.4 0.1M138.6 457.6l0.6 -0.1M136.5 458.0l0.4 0.2M154.9 454.0l1.3 -0.1M141.4 454.8l0.4 0.2M142.8 457.3l1.2 0.1M131.5 454.9l0.9 0.0"/>
<path stroke="#c60000" stroke-width="1.1" d="M151.5 458.0l0.0 0.0M148.8 457.9l0.0 0.0M135.0 460.3l0.0 0.0M159.5 454.1l0.0 0.0M139.3 459.1l0.0 0.0M129.3 455.3l0.0 0.0M135.2 453.0l0.0 0.0M131.6 456.4l0.0 0.0M158.0 455.2l0.0 0.0M132.5 456.0l0.0 0.0M138.4 453.4l0.0 0.0M145.3 458.2l0.0 0.0M156.9 454.8l0.0 0.0M152.6 454.8l0.0 0.0M130.0 459.9l0.0 0.0M143.2 459.7l0.0 0.0M139.5 460.1l0.0 0.0M151.8 452.9l0.0 0.0"/>
<path stroke="#c60000" stroke-width="0.8" d="M154.6 456.0l0.5 -0.1M136.5 457.7l1.1 -1.0M129.3 458.3l0.9 -0.3M142.3 454.6l0.6 0.1M140.1 453.0l1.1 -0.5M144.4 456.5l1.7 0.4M151.7 460.5l0.9 -1.5M139.8 454.7l0.9 -1.0M132.3 456.1l1.5 -0.6M147.6 455.5l0.6 -0.8M127.9 456.4l0.9 -0.0M136.2 455.4l1.1 -0.9M157.3 457.0l1.1 0.5M133.1 456.1l0.4 -0.3M130.5 454.8l0.2 -0.4M135.7 460.4l0.8 -0.1M134.6 460.5l1.2 -0.0M137.4 457.2l0.9 -0.4M134.1 457.7l1.1 0.2M125.3 457.1l0.5 -0.2M143.8 458.6l1.2 0.3M148.8 457.7l0.6 0.2M143.8 454.8l0.8 -0.1M128.0 455.1l0.5 0.2M156.1 457.5l1.5 -0.4M138.8 455.7l0.7 -0.7M137.6 461.3l0.7 -1.4M145.9 453.9l0.7 -0.4M149.3 453.3l0.4 -0.1M148.9 459.9l0.7 0.3M148.2 455.9l1.1 -0.4M140.2 459.0l1.1 -0.1"/>
<path stroke="#b20000" stroke-width="1.1" d="M139.1 458.7l0.0 0.0M140.8 453.3l0.0 0.0M153.1 454.8l0.0 0.0M139.1 458.5l0.0 0.0M137.4 453.0l0.0 0.0M135.5 458.3l0.0 0.0M146.5 454.7l0.0 0.0M154.5 454.3l0.0 0.0M130.3 453.9l0.0 0.0M158.9 455.0l0.0 0.0M135.3 454.6l0.0 0.0M156.5 454.0l0.0 0.0M152.4 456.2l0.0 0.0M131.6 458.8l0.0 0.0M135.8 456.8l0.0 0.0"/>
<path stroke="#b20000" stroke-width="0.8" d="M150.5 457.0l0.5 0.1M143.8 457.0l0.7 -0.2M138.6 458.9l1.6 -0.4M141.5 455.1l0.6 -0.2M157.4 457.1l0.8 -0.3M130.3 458.7l0.8 -0.7M142.3 455.1l0.9 -0.2M157.8 456.8l0.9 0.3M126.9 456.1l0.9 0.1M127.7 457.1l0.6 -0.8M134.6 459.1l0.5 -0.3M131.3 456.2l0.5 -0.5M156.2 454.0l1.0 -0.1M128.5 459.9l0.5 -0.3"/>
<path stroke="#9e0000" stroke-width="1.1" d="M155.6 457.7l0.0 0.0M130.3 458.4l0.0 0.0M141.2 453.7l0.0 0.0M132.3 457.0l0.0 0.0M134.2 459.5l0.0 0.0M145.4 453.7l0.0 0.0M138.7 456.4l0.0 0.0M139.8 453.3l0.0 0.0M133.9 458.1l0.0 0.0M152.4 455.6l0.0 0.0M157.6 457.4l0.0 0.0M149.7 457.1l0.0 0.0M131.9 453.7l0.0 0.0M149.0 457.0l0.0 0.0M139.2 459.3l0.0 0.0M127.5 460.1l0.0 0.0M143.9 453.3l0.0 0.0M155.7 455.7l0.0 0.0M130.7 456.5l0.0 0.0M150.4 452.9l0.0 0.0M149.5 460.3l0.0 0.0M135.9 458.9l0.0 0.0"/>
<path stroke="#9e0000" stroke-width="0.8" d="M133.3 460.5l0.4 0.0M130.9 459.9l0.7 -0.6M143.9 454.5l0.5 -0.0M144.3 454.9l0.7 -0.5M146.7 457.2l0.5 -0.5M141.1 454.0l0.6 -0.3M159.3 456.1l0.7 -0.3M144.1 457.8l0.7 -0.0M152.8 453.2l0.7 -0.3M128.0 459.3l0.5 -0.2M140.3 455.5l0.4 -0.4M126.8 456.0l0.6 -0.4M138.0 457.4l0.7 -0.3M131.8 453.6l0.6 -0.1M155.2 454.0l0.7 -0.1M143.0 457.3l0.6 0.0"/>
<path stroke="#8e0000" stroke-width="1.1" d="M129.8 455.2l0.0 0.0M147.5 453.2l0.0 0.0M157.4 458.3l0.0 0.0M146.2 454.6l0.0 0.0M128.9 460.2l0.0 0.0M143.5 456.6l0.0 0.0M131.9 454.2l0.0 0.0M146.8 459.9l0.0 0.0M145.4 457.9l0.0 0.0M139.8 454.6l0.0 0.0M139.7 454.5l0.0 0.0M138.0 453.9l0.0 0.0M137.0 459.3l0.0 0.0M141.8 456.7l0.0 0.0M131.7 458.2l0.0 0.0M143.8 459.4l0.0 0.0M142.8 456.5l0.0 0.0"/>
<path stroke="#8e0000" stroke-width="0.8" d="M136.7 457.5l0.6 -0.6M129.5 458.2l0.5 -0.2M140.4 452.9l0.6 -0.3M144.7 456.6l0.9 0.2M151.9 460.2l0.5 -0.8M140.0 454.5l0.5 -0.6M132.7 455.9l0.8 -0.3M147.7 455.3l0.3 -0.4M128.1 456.4l0.5 -0.0M157.6 457.2l0.6 0.3M137.6 457.1l0.5 -0.2M134.3 457.8l0.6 0.1M144.0 458.7l0.6 0.2M156.4 457.4l0.9 -0.2M138.9 455.5l0.4 -0.4M148.4 455.8l0.6 -0.2M140.4 459.0l0.6 -0.0"/>
<path stroke="#7d0000" stroke-width="1.1" d="M146.8 458.8l0.0 0.0M134.8 455.5l0.0 0.0M128.2 457.6l0.0 0.0M154.9 457.2l0.0 0.0M156.6 457.9l0.0 0.0M147.6 460.0l0.0 0.0M127.2 458.5l0.0 0.0M148.4 456.2l0.0 0.0M127.6 459.9l0.0 0.0M146.3 452.9l0.0 0.0M144.5 456.0l0.0 0.0M137.9 454.4l0.0 0.0"/>
<path stroke="#7d0000" stroke-width="0.8" d="M143.9 456.9l0.4 -0.1M139.0 458.8l0.9 -0.2M136.5 455.3l0.6 -0.5M134.9 460.4l0.6 -0.0M127.1 456.2l0.5 0.1M127.8 456.9l0.3 -0.4M137.8 461.0l0.4 -0.8"/>
</g>
<rect x="28.6" y="429.3" width="148.4" height="100.69999999999999" fill="none" stroke="#808080" stroke-width="1.0"/>
<line x1="28.70" y1="530.0" x2="28.70" y2="528.5" stroke="#808080" stroke-width="0.6"/>
<line x1="28.70" y1="429.3" x2="28.70" y2="430.8" stroke="#808080" stroke-width="0.6"/>
<line x1="72.40" y1="530.0" x2="72.40" y2="528.5" stroke="#808080" stroke-width="0.6"/>
<line x1="72.40" y1="429.3" x2="72.40" y2="430.8" stroke="#808080" stroke-width="0.6"/>
<line x1="116.10" y1="530.0" x2="116.10" y2="528.5" stroke="#808080" stroke-width="0.6"/>
<line x1="116.10" y1="429.3" x2="116.10" y2="430.8" stroke="#808080" stroke-width="0.6"/>
<line x1="159.80" y1="530.0" x2="159.80" y2="528.5" stroke="#808080" stroke-width="0.6"/>
<line x1="159.80" y1="429.3" x2="159.80" y2="430.8" stroke="#808080" stroke-width="0.6"/>
<line x1="28.6" y1="430.20" x2="30.1" y2="430.20" stroke="#808080" stroke-width="0.6"/>
<line x1="177.0" y1="430.20" x2="175.5" y2="430.20" stroke="#808080" stroke-width="0.6"/>
<line x1="28.6" y1="452.10" x2="30.1" y2="452.10" stroke="#808080" stroke-width="0.6"/>
<line x1="177.0" y1="452.10" x2="175.5" y2="452.10" stroke="#808080" stroke-width="0.6"/>
<line x1="28.6" y1="474.00" x2="30.1" y2="474.00" stroke="#808080" stroke-width="0.6"/>
<line x1="177.0" y1="474.00" x2="175.5" y2="474.00" stroke="#808080" stroke-width="0.6"/>
<line x1="28.6" y1="495.90" x2="30.1" y2="495.90" stroke="#808080" stroke-width="0.6"/>
<line x1="177.0" y1="495.90" x2="175.5" y2="495.90" stroke="#808080" stroke-width="0.6"/>
<line x1="28.6" y1="517.80" x2="30.1" y2="517.80" stroke="#808080" stroke-width="0.6"/>
<line x1="177.0" y1="517.80" x2="175.5" y2="517.80" stroke="#808080" stroke-width="0.6"/>
<text x="26.83" y="539.00" font-size="7.5" text-anchor="middle" fill="#222" stroke="#222" stroke-width="0.15">−10</text>
<text x="72.40" y="539.00" font-size="7.5" text-anchor="middle" fill="#222" stroke="#222" stroke-width="0.15">0</text>
<text x="116.10" y="539.00" font-size="7.5" text-anchor="middle" fill="#222" stroke="#222" stroke-width="0.15">10</text>
<text x="159.80" y="539.00" font-size="7.5" text-anchor="middle" fill="#222" stroke="#222" stroke-width="0.15">20</text>
<text x="27.00" y="432.90" font-size="7.5" text-anchor="end" fill="#222" stroke="#222" stroke-width="0.15">−5</text>
<text x="27.00" y="454.80" font-size="7.5" text-anchor="end" fill="#222" stroke="#222" stroke-width="0.15">−10</text>
<text x="27.00" y="476.70" font-size="7.5" text-anchor="end" fill="#222" stroke="#222" stroke-width="0.15">−15</text>
<text x="27.00" y="498.60" font-size="7.5" text-anchor="end" fill="#222" stroke="#222" stroke-width="0.15">−20</text>
<text x="27.00" y="520.50" font-size="7.5" text-anchor="end" fill="#222" stroke="#222" stroke-width="0.15">−25</text>
<text x="103.00" y="546.50" font-size="7.7" text-anchor="middle" fill="#222" stroke="#222" stroke-width="0.15">Eastings from OAWRS source (km)</text>
<text x="11.00" y="479.60" font-size="7.7" text-anchor="middle" fill="#222" stroke="#222" stroke-width="0.15" transform="rotate(-90 11.0 479.6)">Northings from OAWRS source (km)</text>
<rect x="184.8" y="429.3" width="10.699999999999989" height="100.49999999999994" fill="url(#sjet)"/>
<rect x="184.8" y="429.3" width="10.699999999999989" height="100.49999999999994" fill="none" stroke="#808080" stroke-width="0.5"/>
<line x1="195.5" y1="437.30" x2="194.3" y2="437.30" stroke="#808080" stroke-width="0.5"/>
<line x1="184.8" y1="437.30" x2="186.0" y2="437.30" stroke="#808080" stroke-width="0.5"/>
<text x="196.30" y="440.00" font-size="7.5" text-anchor="start" fill="#222" stroke="#222" stroke-width="0.15">−28</text>
<line x1="195.5" y1="452.65" x2="194.3" y2="452.65" stroke="#808080" stroke-width="0.5"/>
<line x1="184.8" y1="452.65" x2="186.0" y2="452.65" stroke="#808080" stroke-width="0.5"/>
<text x="196.30" y="455.35" font-size="7.5" text-anchor="start" fill="#222" stroke="#222" stroke-width="0.15">−30</text>
<line x1="195.5" y1="468.00" x2="194.3" y2="468.00" stroke="#808080" stroke-width="0.5"/>
<line x1="184.8" y1="468.00" x2="186.0" y2="468.00" stroke="#808080" stroke-width="0.5"/>
<text x="196.30" y="470.70" font-size="7.5" text-anchor="start" fill="#222" stroke="#222" stroke-width="0.15">−32</text>
<line x1="195.5" y1="483.35" x2="194.3" y2="483.35" stroke="#808080" stroke-width="0.5"/>
<line x1="184.8" y1="483.35" x2="186.0" y2="483.35" stroke="#808080" stroke-width="0.5"/>
<text x="196.30" y="486.05" font-size="7.5" text-anchor="start" fill="#222" stroke="#222" stroke-width="0.15">−34</text>
<line x1="195.5" y1="498.70" x2="194.3" y2="498.70" stroke="#808080" stroke-width="0.5"/>
<line x1="184.8" y1="498.70" x2="186.0" y2="498.70" stroke="#808080" stroke-width="0.5"/>
<text x="196.30" y="501.40" font-size="7.5" text-anchor="start" fill="#222" stroke="#222" stroke-width="0.15">−36</text>
<line x1="195.5" y1="514.05" x2="194.3" y2="514.05" stroke="#808080" stroke-width="0.5"/>
<line x1="184.8" y1="514.05" x2="186.0" y2="514.05" stroke="#808080" stroke-width="0.5"/>
<text x="196.30" y="516.75" font-size="7.5" text-anchor="start" fill="#222" stroke="#222" stroke-width="0.15">−38</text>
<line x1="195.5" y1="529.40" x2="194.3" y2="529.40" stroke="#808080" stroke-width="0.5"/>
<line x1="184.8" y1="529.40" x2="186.0" y2="529.40" stroke="#808080" stroke-width="0.5"/>
<text x="196.30" y="532.10" font-size="7.5" text-anchor="start" fill="#222" stroke="#222" stroke-width="0.15">−40</text>
<text x="217.00" y="481.00" font-size="7.5" text-anchor="middle" fill="#222" stroke="#222" stroke-width="0.15" transform="rotate(-90 217.0 481.0)">Scattering strength (dB)</text>
<text x="158.60" y="521.30" font-size="18" text-anchor="start" fill="#000" stroke="#000" stroke-width="0.1">G</text></svg>
</body></html>
